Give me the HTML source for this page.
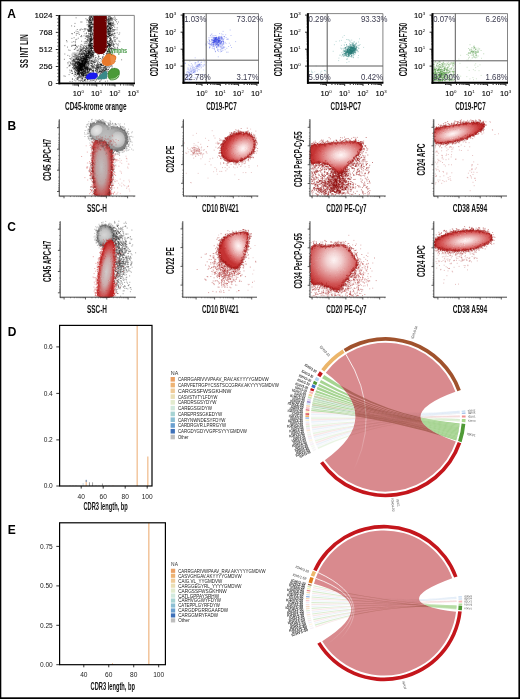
<!DOCTYPE html><html><head><meta charset="utf-8"><style>html,body{margin:0;padding:0;background:#fff;overflow:hidden;}svg{display:block;}</style></head><body><svg style="will-change:transform" width="520" height="699" viewBox="0 0 520 699" font-family="&quot;Liberation Sans&quot;, sans-serif">
<rect width="520" height="699" fill="#fff"/>
<defs><filter id="rough" x="-10%" y="-10%" width="120%" height="120%"><feTurbulence type="fractalNoise" baseFrequency="1.4" numOctaves="1" seed="4" result="n"/><feDisplacementMap in="SourceGraphic" in2="n" scale="2.6" xChannelSelector="R" yChannelSelector="G"/></filter><radialGradient id="g_b1s" gradientUnits="userSpaceOnUse" cx="101.5" cy="167" r="10.5" gradientTransform="translate(101.5 167) rotate(0) scale(1.0 3.2) translate(-101.5 -167)"><stop offset="0" stop-color="#c2bebe"/><stop offset="0.5" stop-color="#bea2a2"/><stop offset="0.8" stop-color="#c46060"/><stop offset="1" stop-color="#b83838"/></radialGradient><radialGradient id="g_b1g" gradientUnits="userSpaceOnUse" cx="106" cy="136" r="20" gradientTransform="translate(106 136) rotate(15) scale(1.0 0.75) translate(-106 -136)"><stop offset="0" stop-color="#bebebe"/><stop offset="0.5" stop-color="#b0b0b0"/><stop offset="0.85" stop-color="#969696"/><stop offset="1" stop-color="#828282"/></radialGradient><radialGradient id="g_b1h" gradientUnits="userSpaceOnUse" cx="118" cy="139.5" r="8" gradientTransform="translate(118 139.5) rotate(0) scale(1.0 1.0) translate(-118 -139.5)"><stop offset="0" stop-color="#ececec"/><stop offset="0.5" stop-color="#dedede"/><stop offset="1" stop-color="#c0c0c0"/></radialGradient><radialGradient id="g_b1k" gradientUnits="userSpaceOnUse" cx="96.5" cy="130.5" r="7" gradientTransform="translate(96.5 130.5) rotate(0) scale(1.0 1.0) translate(-96.5 -130.5)"><stop offset="0" stop-color="#f2f2f2"/><stop offset="0.5" stop-color="#e2e2e2"/><stop offset="1" stop-color="#c4c4c4"/></radialGradient><radialGradient id="g_b2" gradientUnits="userSpaceOnUse" cx="243" cy="148.5" r="19" gradientTransform="translate(243 148.5) rotate(-30) scale(1.0 0.8) translate(-243 -148.5)"><stop offset="0" stop-color="#fff6f6"/><stop offset="0.2" stop-color="#f7dada"/><stop offset="0.5" stop-color="#e69e9e"/><stop offset="0.78" stop-color="#d65c5c"/><stop offset="1" stop-color="#c43232"/></radialGradient><radialGradient id="g_b3" gradientUnits="userSpaceOnUse" cx="341" cy="155" r="28" gradientTransform="translate(341 155) rotate(-5) scale(1.0 0.6) translate(-341 -155)"><stop offset="0" stop-color="#fff6f6"/><stop offset="0.2" stop-color="#f7dada"/><stop offset="0.5" stop-color="#e69e9e"/><stop offset="0.78" stop-color="#d65c5c"/><stop offset="1" stop-color="#c43232"/></radialGradient><radialGradient id="g_b4" gradientUnits="userSpaceOnUse" cx="452.5" cy="133.8" r="28" gradientTransform="translate(452.5 133.8) rotate(-14) scale(1.0 0.36) translate(-452.5 -133.8)"><stop offset="0" stop-color="#fff6f6"/><stop offset="0.2" stop-color="#f7dada"/><stop offset="0.5" stop-color="#e69e9e"/><stop offset="0.78" stop-color="#d65c5c"/><stop offset="1" stop-color="#c43232"/></radialGradient><radialGradient id="g_c1g" gradientUnits="userSpaceOnUse" cx="104.5" cy="235" r="10" gradientTransform="translate(104.5 235) rotate(0) scale(1.0 1.0) translate(-104.5 -235)"><stop offset="0" stop-color="#d6d6d6"/><stop offset="0.5" stop-color="#c4c4c4"/><stop offset="0.85" stop-color="#9a9a9a"/><stop offset="1" stop-color="#858585"/></radialGradient><radialGradient id="g_c1s" gradientUnits="userSpaceOnUse" cx="106.5" cy="272" r="8.5" gradientTransform="translate(106.5 272) rotate(8) scale(1.0 3.6) translate(-106.5 -272)"><stop offset="0" stop-color="#d0caca"/><stop offset="0.45" stop-color="#ccaaaa"/><stop offset="0.8" stop-color="#cc5252"/><stop offset="1" stop-color="#c02828"/></radialGradient><radialGradient id="g_c2" gradientUnits="userSpaceOnUse" cx="238.5" cy="246" r="18" gradientTransform="translate(238.5 246) rotate(-20) scale(0.85 1.15) translate(-238.5 -246)"><stop offset="0" stop-color="#fff6f6"/><stop offset="0.2" stop-color="#f7dada"/><stop offset="0.5" stop-color="#e69e9e"/><stop offset="0.78" stop-color="#d65c5c"/><stop offset="1" stop-color="#c43232"/></radialGradient><radialGradient id="g_c3" gradientUnits="userSpaceOnUse" cx="334" cy="260" r="30" gradientTransform="translate(334 260) rotate(0) scale(1.0 1.0) translate(-334 -260)"><stop offset="0" stop-color="#fdf4f4"/><stop offset="0.25" stop-color="#f2d0d0"/><stop offset="0.55" stop-color="#e08e8e"/><stop offset="0.8" stop-color="#d05454"/><stop offset="1" stop-color="#c03030"/></radialGradient><radialGradient id="g_c4" gradientUnits="userSpaceOnUse" cx="465.5" cy="240.8" r="30" gradientTransform="translate(465.5 240.8) rotate(-6.5) scale(1.0 0.34) translate(-465.5 -240.8)"><stop offset="0" stop-color="#fff6f6"/><stop offset="0.2" stop-color="#f7dada"/><stop offset="0.5" stop-color="#e69e9e"/><stop offset="0.78" stop-color="#d65c5c"/><stop offset="1" stop-color="#c43232"/></radialGradient><linearGradient id="fl_d" gradientUnits="userSpaceOnUse" x1="0" y1="349" x2="0" y2="470"><stop offset="0" stop-color="#fff" stop-opacity="1.0"/><stop offset="1" stop-color="#fff" stop-opacity="0.0"/></linearGradient><mask id="mo_d" maskUnits="userSpaceOnUse" x="0" y="0" width="520" height="699"><rect width="520" height="699" fill="#fff"/><path d="M325.77 372.84A74.4 74.4 0 0 1 455.41 391.75Q385.5 417.2 455.85 441.42A74.4 74.4 0 0 1 324.78 460.19Q385.5 417.2 325.77 372.84Z" fill="#000"/></mask><clipPath id="ci_d"><path d="M325.77 372.84A74.4 74.4 0 0 1 455.41 391.75Q385.5 417.2 455.85 441.42A74.4 74.4 0 0 1 324.78 460.19Q385.5 417.2 325.77 372.84Z"/></clipPath><clipPath id="cr_d"><rect x="405" y="395" width="70" height="55"/></clipPath><linearGradient id="fl_e1" gradientUnits="userSpaceOnUse" x1="0" y1="572" x2="0" y2="640"><stop offset="0" stop-color="#fff" stop-opacity="1.0"/><stop offset="1" stop-color="#fff" stop-opacity="0.0"/></linearGradient><linearGradient id="fl_e2" gradientUnits="userSpaceOnUse" x1="0" y1="577" x2="0" y2="645"><stop offset="0" stop-color="#fff" stop-opacity="1.0"/><stop offset="1" stop-color="#fff" stop-opacity="0.0"/></linearGradient><mask id="mo_e" maskUnits="userSpaceOnUse" x="0" y="0" width="520" height="699"><rect width="520" height="699" fill="#fff"/><path d="M313.97 583.84A72.6 72.6 0 0 1 452.22 578.17Q384.0 603.0 456.06 611.85A72.6 72.6 0 0 1 322.23 641.15Q384.0 603.0 313.97 583.84Z" fill="#000"/></mask><clipPath id="ci_e"><path d="M313.97 583.84A72.6 72.6 0 0 1 452.22 578.17Q384.0 603.0 456.06 611.85A72.6 72.6 0 0 1 322.23 641.15Q384.0 603.0 313.97 583.84Z"/></clipPath><clipPath id="cr_e"><rect x="405" y="580" width="70" height="40"/></clipPath></defs>
<text x="7.30" y="17.90" font-size="12.0" text-anchor="start" font-weight="bold" fill="#000">A</text>
<text x="7.50" y="129.60" font-size="12.0" text-anchor="start" font-weight="bold" fill="#000">B</text>
<text x="7.30" y="231.40" font-size="12.0" text-anchor="start" font-weight="bold" fill="#000">C</text>
<text x="7.70" y="336.10" font-size="12.0" text-anchor="start" font-weight="bold" fill="#000">D</text>
<text x="7.70" y="533.60" font-size="12.0" text-anchor="start" font-weight="bold" fill="#000">E</text>
<path transform="scale(.1)" fill="none" stroke="#000" stroke-width="7.5" stroke-linecap="square" stroke-opacity="0.6" d="M761 178h0m98 9h0m13 10h0m19-13h0m1-5h0m0 0h0m0 16h0m2-15h0m1 15h0m1-30h0m0 30h0m2-27h0m1 26h0m2-13h0m3-14h0m0 8h0m0 12h0m1-4h0m1 8h0m2 5h0m1-29h0m0 23h0m2-27h0m2 15h0m1-8h0m0 28h0m1-32h0m1 8h0m4-3h0m2-5h0m3 21h0m1 4h0m0 6h0m1-19h0m0 9h0m3-2h0m0 5h0m1-10h0m1-4h0m0 20h0m2-30h0m0 1h0m8-3h0m23 25h0m77 7h0m4-26h0m2 22h0m7-5h0m3-17h0m0 29h0m3-19h0m0 6h0m3-22h0m1 16h0m0 8h0m2-13h0m0 17h0m2 3h0m3 0h0m7-23h0m1 21h0m1-7h0m2 4h0m0 1h0m0 8h0m2-27h0m1-7h0m1 18h0m1 14h0m2-4h0m4-25h0m4 22h0m0 1h0m1-24h0m0 4h0m0 12h0m0 16h0m3-17h0m1-14h0m2 20h0m2-6h0m1-5h0m0 16h0m2-12h0m5 4h0m0 8h0m1-16h0m6 18h0m1-13h0m1 5h0m9 4h0m7-15h0m7-14h0m1 30h0m6-11h0m13 14h0m-417 39h0m58-14h0m11 0h0m49-18h0m1 20h0m6-20h0m10 6h0m1 2h0m2 19h0m1-7h0m1-7h0m0 8h0m1 12h0m1-29h0m1 13h0m2-19h0m0 7h0m2 32h0m3-17h0m0 2h0m0 7h0m2-25h0m0 18h0m0 3h0m1-18h0m2 28h0m1-33h0m1 1h0m2 16h0m0 5h0m1-20h0m1 12h0m1-9h0m2 15h0m1 12h0m1-23h0m0 12h0m0 2h0m0 1h0m1-1h0m7-24h0m3 15h0m0 21h0m1-36h0m3-1h0m1 31h0m7-33h0m12 18h0m89 17h0m4-24h0m5 7h0m1 21h0m2-30h0m0 5h0m12 24h0m1-26h0m1-10h0m3 20h0m4-17h0m0 2h0m4 10h0m0 13h0m1-7h0m5-17h0m1 31h0m1-16h0m0 17h0m1-22h0m0 17h0m0 6h0m2-1h0m1-33h0m0 16h0m1 3h0m1-11h0m0 6h0m2 14h0m1-26h0m0 29h0m3 2h0m2 1h0m1-37h0m0 31h0m0 0h0m2-32h0m1 17h0m1 7h0m0 12h0m1-6h0m3 2h0m0 4h0m1 1h0m1-35h0m3 19h0m6 11h0m1-31h0m0 22h0m1-18h0m3 27h0m5 4h0m2-17h0m5 2h0m1 14h0m13-36h0m6 6h0m8 12h0m11 20h0m9-18h0m-468 39h0m30 4h0m124-14h0m10-4h0m2 21h0m1-14h0m5 19h0m2-21h0m0 8h0m0 5h0m1-9h0m0 7h0m0 8h0m0 2h0m1-5h0m1-13h0m1-3h0m1 10h0m2 5h0m1 14h0m3-29h0m0 8h0m2-14h0m1 15h0m1 15h0m0 2h0m1-33h0m0 17h0m2 7h0m0 5h0m1-22h0m1 18h0m3-26h0m1 2h0m0 31h0m0 1h0m1-12h0m0 13h0m1-6h0m2-29h0m1 27h0m6-26h0m1 0h0m1 21h0m1-6h0m0 10h0m0 8h0m1-31h0m5 0h0m4 17h0m2-20h0m0 4h0m3 7h0m5-5h0m93 20h0m4-26h0m9 35h0m1-6h0m4-3h0m3 8h0m6-4h0m1 0h0m1-14h0m3 7h0m0 5h0m2-7h0m1-6h0m0 14h0m1-16h0m0 9h0m2-22h0m6 12h0m0 10h0m2 4h0m2-1h0m1-23h0m0 6h0m1-10h0m0 14h0m2-13h0m1 36h0m1-5h0m1-32h0m0 33h0m0 1h0m4-14h0m1 0h0m1-15h0m0 29h0m1-28h0m2 31h0m3-15h0m1-17h0m0 4h0m0 2h0m1-2h0m1 8h0m1 4h0m2 7h0m4-27h0m0 14h0m3 22h0m3-22h0m0 21h0m2-26h0m4-10h0m3 19h0m1-8h0m5 11h0m8 11h0m1-26h0m24 31h0m-411 34h0m12-17h0m6 20h0m21-15h0m2-1h0m10-9h0m16 5h0m11 21h0m5-30h0m2 12h0m8 0h0m3-12h0m13 5h0m6 7h0m3 0h0m2 14h0m1-7h0m1 1h0m2-14h0m0 24h0m4-11h0m0 10h0m2-21h0m0 18h0m2-21h0m1 13h0m2-22h0m0 28h0m2 7h0m1-37h0m1 29h0m1-26h0m0 14h0m0 16h0m1-26h0m0 8h0m0 4h0m0 2h0m2-17h0m1 6h0m1 18h0m2-7h0m2-16h0m0 25h0m0 2h0m0 2h0m1-32h0m0 22h0m1-5h0m0 12h0m2-27h0m0 2h0m0 6h0m0 25h0m1-11h0m2-15h0m2 5h0m7 3h0m3-19h0m0 32h0m7-3h0m1-8h0m2-2h0m4 5h0m10-23h0m1 28h0m84-13h0m3-5h0m11-4h0m2 11h0m1 3h0m2-11h0m0 11h0m2-2h0m1-13h0m1-3h0m2 26h0m1 4h0m3-26h0m3-5h0m2 16h0m4-6h0m1 19h0m0 8h0m1-22h0m0 3h0m2-5h0m0 18h0m0 4h0m1-29h0m1-5h0m0 25h0m1 1h0m0 5h0m1-11h0m2-1h0m1-8h0m0 20h0m2-34h0m0 13h0m0 24h0m2-1h0m1-33h0m1 1h0m2 28h0m2-26h0m0 18h0m1 13h0m1-2h0m1-28h0m0 13h0m2 3h0m1 9h0m1-27h0m0 6h0m0 6h0m1-11h0m0 5h0m1 28h0m3-37h0m0 4h0m2 24h0m1 1h0m5-27h0m2-2h0m0 17h0m1 17h0m3-8h0m1-12h0m9 4h0m1-5h0m0 20h0m7-13h0m1 6h0m5-12h0m4 1h0m19 1h0m-452 38h0m6 2h0m21-12h0m18 25h0m1-17h0m13 0h0m11-5h0m5 16h0m22 10h0m25 3h0m10-20h0m13 19h0m2-28h0m0 8h0m7 19h0m14-23h0m1 17h0m2 3h0m2-18h0m9 5h0m1-2h0m0 6h0m3 15h0m2-37h0m0 16h0m0 13h0m1-24h0m0 16h0m1-2h0m0 16h0m1-16h0m1 5h0m1 2h0m0 9h0m6-28h0m2-6h0m1 25h0m1-8h0m3 6h0m1-9h0m1 2h0m1-15h0m3 13h0m0 19h0m1-3h0m3-21h0m0 19h0m99-2h0m14-26h0m2 30h0m4-13h0m4 7h0m5 11h0m2-37h0m1 2h0m0 34h0m2-24h0m1 19h0m7-21h0m3 2h0m0 13h0m1-22h0m2 0h0m2 16h0m0 8h0m1-17h0m0 3h0m0 12h0m1-7h0m2 6h0m4-19h0m1-3h0m1 25h0m1-14h0m0 0h0m0 19h0m1-6h0m0 5h0m0 3h0m2-25h0m0 5h0m0 22h0m1 2h0m5-24h0m1 21h0m0 1h0m2-36h0m1 27h0m1-17h0m1 12h0m0 13h0m0 1h0m5-14h0m2 7h0m2-6h0m4-24h0m4 22h0m2-5h0m0 8h0m3 10h0m0 2h0m7-19h0m7-6h0m2 6h0m3-6h0m1 25h0m21-29h0m18 16h0m7-15h0m-478 55h0m22-7h0m15 22h0m11-6h0m16-11h0m24-16h0m10 0h0m36 18h0m4-22h0m5 6h0m6-3h0m1 30h0m2-21h0m5-14h0m0 36h0m0 3h0m1-27h0m3 10h0m1 0h0m1-21h0m2 13h0m5-10h0m0 24h0m0 9h0m2-28h0m2 0h0m4 1h0m0 13h0m0 2h0m0 11h0m5-36h0m1 31h0m2 2h0m1-31h0m0 27h0m0 4h0m1-10h0m1-21h0m0 25h0m1 4h0m0 8h0m1-27h0m0 5h0m0 10h0m2 2h0m1-21h0m2 0h0m0 18h0m1-12h0m1 14h0m1 3h0m2-20h0m1 23h0m3-1h0m3-2h0m3-22h0m0 16h0m4-15h0m0 19h0m2-2h0m2-11h0m3 1h0m21 9h0m76 10h0m4-36h0m4 28h0m9-4h0m4-21h0m4 6h0m2-8h0m0 22h0m2 9h0m1-16h0m4-13h0m1 16h0m1-15h0m1 19h0m3-17h0m0 1h0m1-1h0m2-6h0m3 3h0m1 5h0m3 4h0m3 1h0m3-11h0m1 23h0m2-4h0m4 15h0m1-8h0m3-12h0m0 4h0m0 3h0m1 13h0m0 3h0m8-10h0m0 3h0m2-32h0m21 15h0m1 12h0m5-16h0m0 0h0m12 28h0m3-25h0m10 14h0m6-8h0m-508 25h0m4 13h0m50 4h0m17-6h0m16 0h0m1 12h0m62-16h0m27 7h0m1 18h0m12-5h0m1-14h0m2-5h0m4 25h0m2-20h0m5-3h0m2-10h0m0 26h0m6-9h0m1-14h0m4 31h0m5-27h0m1-10h0m0 36h0m2-32h0m3 12h0m0 21h0m1-11h0m1-2h0m1-11h0m3-13h0m1 25h0m0 8h0m1-25h0m0 8h0m1-17h0m2 5h0m0 5h0m1 20h0m1-17h0m0 2h0m0 4h0m0 10h0m1-21h0m0 25h0m1-28h0m0 4h0m0 4h0m2 8h0m1-17h0m2-2h0m1-1h0m0 4h0m0 31h0m1-36h0m0 34h0m1-34h0m0 32h0m1 4h0m1 1h0m2-38h0m0 35h0m1-33h0m0 29h0m1 4h0m7-19h0m7 13h0m4-26h0m12 4h0m89 6h0m1 6h0m2-19h0m10 28h0m9-21h0m1 16h0m3-22h0m0 20h0m3-21h0m2 32h0m1-17h0m1 7h0m0 14h0m1-21h0m2 8h0m1 9h0m1 2h0m4 1h0m2 3h0m1-1h0m1-19h0m3 2h0m1-10h0m1 2h0m1 16h0m1-18h0m0 23h0m4-28h0m2 3h0m3 13h0m1-19h0m2 21h0m2 2h0m3-22h0m0 8h0m0 28h0m2-3h0m5-13h0m2-13h0m0 9h0m1 0h0m0 17h0m1-28h0m6 12h0m5 13h0m6-31h0m6 13h0m1-15h0m9 17h0m5 19h0m28-26h0m10 7h0m-551 40h0m27 14h0m42-7h0m2-10h0m9 0h0m8-1h0m12 1h0m4 2h0m1-4h0m1 0h0m2-3h0m2 28h0m7-14h0m7 1h0m2 12h0m13-17h0m14 11h0m6-19h0m1 14h0m1 6h0m5-24h0m4 32h0m9-27h0m3 27h0m3 0h0m1-18h0m2 7h0m4 6h0m6-18h0m1 17h0m10-11h0m0 0h0m6 13h0m1-11h0m2 11h0m2-20h0m1 18h0m12-23h0m0 15h0m1-9h0m1-4h0m1 24h0m3-25h0m0 8h0m0 20h0m1 0h0m1-19h0m2-6h0m1-8h0m1 16h0m0 3h0m3-19h0m0 12h0m0 19h0m1-37h0m0 13h0m0 5h0m2 9h0m1-10h0m0 19h0m1-18h0m0 2h0m1-9h0m1-8h0m0 11h0m0 18h0m1-19h0m1 9h0m1-20h0m0 7h0m0 9h0m0 6h0m2-12h0m1-12h0m1 7h0m0 9h0m1-13h0m1 36h0m1-10h0m2 5h0m0 2h0m1-17h0m0 5h0m1-9h0m0 18h0m2-12h0m0 8h0m1-16h0m4-10h0m2 12h0m1 19h0m2-18h0m1 11h0m5-1h0m12-8h0m6-4h0m29 3h0m8-12h0m60 31h0m1-35h0m4 19h0m0 13h0m5-6h0m2-20h0m3 22h0m2 0h0m4 8h0m1-17h0m1 4h0m1 9h0m2-8h0m1 2h0m0 2h0m1-17h0m2 18h0m2-12h0m1-15h0m2 5h0m0 3h0m1 5h0m1 12h0m1-19h0m2-2h0m2 10h0m1-12h0m0 33h0m1-27h0m0 1h0m1 18h0m1-24h0m0 10h0m0 15h0m2-29h0m1 1h0m0 3h0m0 17h0m0 16h0m1-38h0m0 14h0m0 4h0m0 5h0m2-4h0m2-3h0m0 9h0m1-18h0m5-6h0m2 13h0m1-8h0m4 10h0m0 22h0m3-30h0m9 4h0m4-13h0m0 4h0m0 18h0m3 5h0m1-20h0m0 11h0m8-15h0m3 29h0m0 6h0m23-32h0m4 27h0m7-16h0m1-17h0m-496 60h0m13 4h0m43-10h0m6-1h0m8-9h0m13 19h0m6 1h0m9-2h0m5-10h0m3 26h0m5-9h0m2-22h0m5 11h0m1 13h0m0 7h0m1-6h0m2-29h0m1 14h0m0 10h0m1-7h0m2 0h0m3 2h0m3-8h0m1 16h0m1-8h0m3-8h0m0 20h0m2-31h0m6 30h0m1-19h0m1 11h0m0 13h0m1-32h0m7 0h0m0 19h0m3-1h0m3 2h0m1-20h0m3 24h0m1-7h0m2-15h0m0 10h0m1 17h0m1-3h0m1-24h0m0 23h0m3 1h0m1-21h0m0 26h0m3-20h0m1-11h0m3-2h0m0 16h0m1 16h0m1-7h0m2-28h0m2 1h0m1 25h0m1 5h0m1-24h0m1 8h0m3 16h0m1-10h0m2 13h0m1-29h0m1 25h0m1-6h0m0 2h0m1-11h0m0 19h0m0 0h0m0 3h0m1-19h0m0 17h0m3-18h0m2 18h0m1-12h0m2-11h0m0 20h0m1-5h0m1-22h0m1-5h0m0 11h0m0 26h0m1-33h0m1 34h0m1-32h0m1-5h0m2 0h0m0 25h0m0 12h0m1-11h0m1-25h0m1 24h0m0 8h0m1-25h0m1-10h0m0 22h0m1-6h0m0 14h0m1-26h0m0 14h0m0 4h0m1-15h0m0 18h0m2-1h0m1-1h0m1-19h0m1 35h0m1-39h0m0 29h0m1-29h0m2 2h0m0 34h0m1-34h0m1 3h0m0 25h0m8-25h0m2 19h0m2 10h0m2-14h0m2-11h0m1 22h0m6-13h0m2 9h0m7-1h0m13-6h0m10 2h0m35-9h0m18 2h0m17 19h0m3-18h0m0 11h0m0 5h0m1-13h0m0 5h0m5 2h0m1-20h0m3 13h0m3 0h0m2 12h0m6 2h0m1 0h0m2-13h0m0 16h0m2 0h0m0 2h0m1-3h0m3-30h0m1 9h0m2-3h0m0 5h0m1 7h0m1-19h0m0 34h0m2-14h0m1-3h0m1 7h0m3-15h0m0 21h0m0 2h0m3-9h0m2 9h0m0 3h0m4-31h0m3-6h0m0 3h0m2 1h0m1 12h0m0 2h0m3-20h0m0 10h0m6 23h0m1-13h0m2-16h0m4 0h0m3 8h0m3-6h0m7 13h0m9-7h0m1-5h0m21-6h0m8 6h0m-531 53h0m30 14h0m43-12h0m1 16h0m9-28h0m10 9h0m2 6h0m1 14h0m4-30h0m7 20h0m3 2h0m1 0h0m1-18h0m1 8h0m0 18h0m5 0h0m6-38h0m0 33h0m2-14h0m10 11h0m2-4h0m3-7h0m1-9h0m2 7h0m1-17h0m4 26h0m2-15h0m1 12h0m1-9h0m4 24h0m1-5h0m1-14h0m4-17h0m1 26h0m1-14h0m0 11h0m1-1h0m1-15h0m3 7h0m1 4h0m5 2h0m0 4h0m0 11h0m1-29h0m2-5h0m0 12h0m0 5h0m8-11h0m0 4h0m3-7h0m0 17h0m0 15h0m3-23h0m0 3h0m1-8h0m0 14h0m2 9h0m1-19h0m0 11h0m1-24h0m0 30h0m3-17h0m1 12h0m0 12h0m3-22h0m0 16h0m2-7h0m1 10h0m1-7h0m0 2h0m2-22h0m0 28h0m1-34h0m0 14h0m0 18h0m2-32h0m1 26h0m0 4h0m0 3h0m1-14h0m1-13h0m0 13h0m0 1h0m0 14h0m1-3h0m2-33h0m0 13h0m0 20h0m1-18h0m1 5h0m3 16h0m1-20h0m2-4h0m1 23h0m0 1h0m1-21h0m0 13h0m0 1h0m1-19h0m1 11h0m0 17h0m1-35h0m0 3h0m0 7h0m1 24h0m1-8h0m0 3h0m1-27h0m0 3h0m0 10h0m0 17h0m0 1h0m2-30h0m1 2h0m0 6h0m0 12h0m0 5h0m0 6h0m1-33h0m0 4h0m0 12h0m3-5h0m0 5h0m3-13h0m0 1h0m1-9h0m1 23h0m1-17h0m0 8h0m0 14h0m1-24h0m2 1h0m0 4h0m0 20h0m1-8h0m0 0h0m0 8h0m1-28h0m1 17h0m1-7h0m0 0h0m1 18h0m1 6h0m0 2h0m2-2h0m0 1h0m3-17h0m1-10h0m1 8h0m1 4h0m1-13h0m0 22h0m2-14h0m0 22h0m2-16h0m0 17h0m1-28h0m0 2h0m0 12h0m0 3h0m1 4h0m1-29h0m0 20h0m0 12h0m1-11h0m1 6h0m1-6h0m1-13h0m1-9h0m1 21h0m1-17h0m1 2h0m1 20h0m1-2h0m0 7h0m2 6h0m1-35h0m0 12h0m0 7h0m2-18h0m3 11h0m7-13h0m2-3h0m2 36h0m1-31h0m25 20h0m36-25h0m22 1h0m1 22h0m3 2h0m6-21h0m14 32h0m4-17h0m1-5h0m4-2h0m1 12h0m0 1h0m4-21h0m1 17h0m1 1h0m1-9h0m0 18h0m5 4h0m1 0h0m2 0h0m1-12h0m1-3h0m2-3h0m0 11h0m0 10h0m1-19h0m1 1h0m2-1h0m1 11h0m1 6h0m1-36h0m1 36h0m2-21h0m0 20h0m2-23h0m1 4h0m1-8h0m1 29h0m1-2h0m3-10h0m1-15h0m1-6h0m2 15h0m0 19h0m1-36h0m0 33h0m26-4h0m2-22h0m-496 64h0m53-31h0m2 23h0m10 4h0m0 2h0m8-14h0m12 11h0m1-18h0m3-5h0m0 33h0m2 0h0m4-3h0m2-34h0m1 23h0m4-12h0m3 24h0m3-1h0m1-30h0m5 21h0m1-8h0m1 12h0m1-17h0m0 8h0m0 15h0m2-16h0m0 10h0m4 2h0m1-5h0m3-23h0m0 12h0m1-7h0m0 11h0m0 5h0m0 10h0m5-35h0m0 36h0m1 1h0m1-19h0m0 16h0m2-23h0m1 28h0m1-1h0m2-21h0m0 10h0m0 1h0m1 3h0m2 3h0m1-29h0m0 23h0m1-27h0m0 6h0m0 32h0m2-3h0m1-27h0m4 14h0m2 12h0m2-20h0m0 15h0m0 4h0m0 4h0m2-32h0m1 5h0m0 7h0m1 15h0m1-4h0m2-17h0m0 25h0m1-13h0m3 0h0m1-14h0m1 11h0m1 7h0m1-14h0m0 17h0m1 0h0m1-8h0m0 6h0m2-21h0m1 15h0m1-20h0m0 5h0m3 22h0m1-10h0m0 7h0m3-7h0m1-15h0m0 2h0m1 0h0m0 28h0m1-35h0m0 15h0m0 8h0m0 1h0m2 0h0m0 12h0m0 1h0m2-31h0m0 0h0m0 20h0m1-3h0m0 1h0m1-9h0m0 24h0m2-31h0m0 19h0m0 3h0m0 6h0m1-29h0m0 17h0m0 5h0m0 9h0m4-25h0m0 15h0m1-27h0m0 17h0m0 4h0m0 2h0m1 3h0m0 5h0m0 1h0m0 2h0m1-22h0m1 22h0m1-18h0m3 2h0m0 10h0m0 5h0m0 3h0m1-34h0m0 18h0m0 7h0m1 3h0m1-26h0m0 6h0m0 9h0m0 8h0m1 8h0m1-33h0m0 4h0m0 6h0m0 10h0m1 10h0m3-26h0m0 25h0m1-24h0m0 6h0m1-14h0m0 4h0m0 10h0m0 3h0m0 4h0m1-2h0m0 2h0m0 11h0m0 1h0m1-3h0m2-8h0m0 16h0m1-25h0m0 16h0m0 1h0m1 1h0m0 7h0m1-31h0m0 7h0m0 1h0m0 4h0m0 10h0m1-29h0m0 15h0m1-12h0m0 32h0m1-21h0m1 19h0m1-32h0m0 7h0m3 28h0m1-23h0m0 6h0m0 14h0m2-31h0m0 14h0m1-6h0m3 5h0m1-3h0m0 2h0m1 10h0m1-24h0m1 10h0m0 3h0m0 15h0m2-5h0m0 9h0m0 5h0m1-10h0m5-23h0m0 11h0m1-12h0m0 16h0m1-6h0m0 6h0m1 3h0m6-22h0m0 16h0m1-14h0m0 11h0m0 13h0m1 4h0m4-24h0m1-4h0m1 11h0m1 7h0m7-16h0m0 5h0m4 21h0m4-23h0m2 9h0m3-15h0m0 3h0m4 28h0m11-11h0m4-4h0m2 15h0m5-18h0m14 13h0m7-14h0m2-13h0m0 33h0m2-31h0m4 6h0m2 21h0m9-3h0m5-1h0m11 9h0m8-18h0m0 6h0m1-15h0m5 13h0m2-18h0m6 28h0m4-10h0m8 10h0m4-20h0m0 10h0m4-12h0m1 31h0m1-22h0m0 20h0m1-26h0m5 4h0m0 9h0m2 9h0m4-1h0m3-5h0m2-13h0m0 8h0m0 4h0m5-23h0m4-2h0m3 12h0m0 17h0m1-18h0m1-11h0m0 20h0m3-18h0m1 31h0m1-5h0m1-22h0m2 28h0m1 0h0m1-17h0m1 2h0m1-2h0m1 9h0m3 9h0m2-18h0m2-17h0m0 9h0m1 23h0m1-4h0m5-7h0m2 10h0m1-14h0m5 3h0m1-16h0m3 0h0m10-1h0m0 21h0m74 13h0m-537 27h0m1 13h0m11-20h0m13 5h0m1 10h0m6-2h0m9-17h0m0 25h0m1-35h0m5 4h0m1 29h0m1-7h0m3-21h0m0 6h0m0 11h0m5 8h0m1-24h0m2-9h0m1 8h0m0 28h0m2-33h0m1-3h0m0 13h0m4 6h0m1-2h0m1-1h0m1 17h0m2-5h0m1-24h0m0 14h0m2 17h0m2-15h0m0 17h0m1-2h0m2-19h0m0 6h0m0 2h0m0 2h0m2 0h0m1-4h0m0 13h0m1-18h0m3 6h0m2-12h0m1 23h0m1-26h0m1 17h0m1-26h0m0 37h0m1-23h0m0 21h0m1-4h0m1-15h0m2 10h0m1-1h0m2-14h0m0 13h0m0 0h0m0 3h0m1 4h0m1-18h0m0 19h0m1-19h0m0 15h0m2-9h0m0 2h0m2 3h0m0 2h0m1 4h0m0 1h0m1-15h0m0 13h0m0 7h0m2-9h0m1-16h0m0 19h0m1-4h0m0 3h0m0 7h0m1-29h0m2 17h0m0 10h0m1-30h0m0 20h0m0 6h0m1-27h0m0 5h0m1 13h0m0 17h0m1-35h0m0 16h0m0 7h0m0 10h0m1-22h0m0 19h0m0 3h0m2-3h0m2 6h0m1-32h0m0 25h0m0 4h0m1-2h0m0 3h0m1-6h0m1-30h0m0 31h0m2-19h0m1 20h0m2-30h0m0 11h0m0 6h0m0 9h0m0 7h0m1-32h0m0 30h0m2-29h0m0 30h0m0 0h0m1-21h0m0 1h0m0 5h0m0 13h0m0 1h0m1-34h0m0 4h0m1 1h0m0 18h0m0 14h0m1-17h0m0 1h0m0 10h0m1-9h0m0 4h0m2-17h0m0 6h0m0 3h0m1-16h0m0 4h0m0 13h0m0 1h0m0 14h0m1-21h0m1-7h0m0 23h0m0 0h0m1-25h0m0 29h0m1-16h0m0 6h0m0 9h0m0 6h0m2-30h0m0 8h0m0 7h0m1-15h0m0 13h0m0 16h0m1-16h0m0 14h0m1-28h0m0 2h0m1-4h0m0 3h0m0 29h0m1-20h0m0 22h0m3-17h0m0 9h0m1-8h0m1-21h0m0 5h0m0 0h0m1 11h0m0 13h0m0 3h0m2-15h0m0 3h0m1-10h0m1-4h0m0 19h0m1-24h0m0 10h0m0 14h0m0 5h0m1-8h0m1-24h0m0 17h0m0 5h0m0 1h0m0 1h0m1 13h0m1-2h0m1-19h0m0 5h0m0 7h0m0 2h0m1-30h0m0 1h0m0 33h0m1-32h0m0 11h0m0 7h0m1-10h0m0 0h0m0 23h0m1-5h0m1-28h0m0 4h0m0 8h0m0 4h0m1-3h0m0 2h0m0 11h0m0 8h0m1-19h0m0 0h0m0 5h0m1 5h0m1-25h0m0 3h0m1 18h0m1-3h0m1-13h0m0 15h0m1 2h0m1-22h0m0 9h0m0 17h0m1 4h0m1-12h0m3-6h0m0 5h0m1 2h0m0 13h0m3-10h0m0 14h0m1-31h0m0 3h0m0 22h0m2-19h0m2 5h0m0 12h0m1-5h0m1 0h0m0 10h0m1 6h0m1-28h0m1 6h0m0 21h0m3-1h0m1-17h0m1-6h0m0 23h0m4-29h0m1-4h0m2 23h0m7-16h0m3-8h0m0 31h0m1-11h0m2-1h0m1 15h0m2-31h0m0 8h0m0 23h0m3-32h0m1 13h0m0 18h0m2-1h0m1-22h0m4-10h0m3 12h0m0 5h0m3-3h0m0 16h0m5-13h0m2-8h0m1 14h0m1-17h0m3 9h0m1 8h0m1 3h0m2-28h0m1 7h0m4 15h0m2-1h0m6-22h0m1 9h0m1 7h0m8-14h0m5 27h0m3-16h0m0 17h0m5-19h0m9 16h0m6 1h0m11 6h0m1-24h0m11 28h0m2-29h0m8 9h0m1 6h0m6 1h0m2-20h0m3 21h0m2 2h0m1-18h0m6-3h0m1 12h0m3-2h0m1-10h0m0 21h0m1 1h0m1-20h0m1 13h0m0 7h0m1-6h0m1 14h0m4-26h0m4 7h0m3-9h0m0 7h0m1-13h0m0 16h0m2 1h0m3-14h0m2 7h0m2 15h0m0 9h0m2-31h0m1 1h0m0 29h0m1-19h0m1-9h0m1-3h0m2 3h0m3 8h0m2-11h0m0 8h0m4 1h0m1 23h0m1-37h0m3 8h0m5 4h0m1 11h0m1-13h0m3 4h0m2 5h0m2-3h0m32-1h0m-479 62h0m17-16h0m7-3h0m3-7h0m0 2h0m13-11h0m14 1h0m1 8h0m0 24h0m4-21h0m3-8h0m2 19h0m1 8h0m1-14h0m2-12h0m0 12h0m2 13h0m1 5h0m1-35h0m0 21h0m2-23h0m0 13h0m0 1h0m3-3h0m2-1h0m1-1h0m1 2h0m1 24h0m1-11h0m2-11h0m1 12h0m0 9h0m1-20h0m0 23h0m1-36h0m0 29h0m1-6h0m0 8h0m1-16h0m2 19h0m1-1h0m2-16h0m0 4h0m2 5h0m0 11h0m3-36h0m0 22h0m0 10h0m1-27h0m1-5h0m0 2h0m1-4h0m1 28h0m0 2h0m1-12h0m0 18h0m1-29h0m0 9h0m0 12h0m0 0h0m0 11h0m1-36h0m0 27h0m2-4h0m2 6h0m1-31h0m0 12h0m0 23h0m1-19h0m1 8h0m0 5h0m1-24h0m0 9h0m0 4h0m0 4h0m1-13h0m0 27h0m0 1h0m1-26h0m0 1h0m1-11h0m0 2h0m0 23h0m1-24h0m0 35h0m1-13h0m1-17h0m0 1h0m0 1h0m0 29h0m1-39h0m0 12h0m0 0h0m0 8h0m0 17h0m1-33h0m1 18h0m0 15h0m1-30h0m0 6h0m0 18h0m1-11h0m1-15h0m1 1h0m0 4h0m0 8h0m0 0h0m0 9h0m0 6h0m0 6h0m1-31h0m0 7h0m0 15h0m0 8h0m1-32h0m0 9h0m0 3h0m0 11h0m1-28h0m0 6h0m0 16h0m1-11h0m0 4h0m0 4h0m0 8h0m1-20h0m0 7h0m0 11h0m0 4h0m0 2h0m1-25h0m0 15h0m0 6h0m0 3h0m0 2h0m1-19h0m0 7h0m0 5h0m0 1h0m1-13h0m0 3h0m0 3h0m1-17h0m0 14h0m0 3h0m0 5h0m0 3h0m1-12h0m0 11h0m0 10h0m0 1h0m1-35h0m0 8h0m0 21h0m1-26h0m0 8h0m0 6h0m0 3h0m0 2h0m0 2h0m0 5h0m0 2h0m0 5h0m1-4h0m1-13h0m1-3h0m1-16h0m1 3h0m0 26h0m0 1h0m1-26h0m0 4h0m0 15h0m1-24h0m0 3h0m0 3h0m0 12h0m0 2h0m0 7h0m0 0h0m1 1h0m1-28h0m0 10h0m0 15h0m0 3h0m1-29h0m0 3h0m0 1h0m0 2h0m0 3h0m1-8h0m0 22h0m0 0h0m1-9h0m0 24h0m1-38h0m0 32h0m1-31h0m0 1h0m1 20h0m0 8h0m1-14h0m0 5h0m0 16h0m1-20h0m0 21h0m1-37h0m0 10h0m0 0h0m0 1h0m0 0h0m0 9h0m0 5h0m1-11h0m1-10h0m0 9h0m0 15h0m1-27h0m1 27h0m1-21h0m1-1h0m0 7h0m0 11h0m0 12h0m2-33h0m0 10h0m0 6h0m0 3h0m1 3h0m2-17h0m1-6h0m0 2h0m0 33h0m1-39h0m0 15h0m0 6h0m1-20h0m0 10h0m0 0h0m0 8h0m1-18h0m0 0h0m0 17h0m0 3h0m0 4h0m1-21h0m0 6h0m0 10h0m0 17h0m1-37h0m0 5h0m0 6h0m0 11h0m1-22h0m0 0h0m0 16h0m0 3h0m1 15h0m0 3h0m1-16h0m0 3h0m0 9h0m0 6h0m1-7h0m1-25h0m1 4h0m1-9h0m0 17h0m0 2h0m0 12h0m0 1h0m2-34h0m5 26h0m2 7h0m1-33h0m0 24h0m0 14h0m1-29h0m0 8h0m0 18h0m0 2h0m2-36h0m1 35h0m1-19h0m1 8h0m1-24h0m1 7h0m0 20h0m0 7h0m1-5h0m1-10h0m1 15h0m0 4h0m1-5h0m6-29h0m0 19h0m0 12h0m2-26h0m3 6h0m1 2h0m1 15h0m7-30h0m2 27h0m7-14h0m10-1h0m1 11h0m3-11h0m1 16h0m1-7h0m0 7h0m1-17h0m3 13h0m1-26h0m1 4h0m2 32h0m1-7h0m2-10h0m0 7h0m4 12h0m2-22h0m1 6h0m0 14h0m4-9h0m3-23h0m1 32h0m1-29h0m5 8h0m1 17h0m10-17h0m1 10h0m1 6h0m2-26h0m0 7h0m0 17h0m0 4h0m3-12h0m1-6h0m1-16h0m0 38h0m0 0h0m1-38h0m3 26h0m0 9h0m1-25h0m0 10h0m0 17h0m2-26h0m2 6h0m1 7h0m0 12h0m0 1h0m2-34h0m0 0h0m3 26h0m1-11h0m0 20h0m2-10h0m7-2h0m1-20h0m0 7h0m1 25h0m1-32h0m0 1h0m1 23h0m0 2h0m1-3h0m1-25h0m1 16h0m3-17h0m1 4h0m0 14h0m1-20h0m1 5h0m0 32h0m3-30h0m1 5h0m2-5h0m0 4h0m0 5h0m0 18h0m1-28h0m4 28h0m5-20h0m3 1h0m0 4h0m2-5h0m3-4h0m3 24h0m1-2h0m0 1h0m4-33h0m3 34h0m2-8h0m3-5h0m1 5h0m2 6h0m4-6h0m2-2h0m1-19h0m0 27h0m11-1h0m1-4h0m12-6h0m6 17h0m1-16h0m0 13h0m9-19h0m7 8h0m5-6h0m6-5h0m6 15h0m-428 32h0m15 4h0m3 6h0m2-10h0m6 12h0m1-33h0m11 4h0m0 8h0m10-7h0m0 34h0m1-30h0m0 24h0m1-31h0m1 5h0m0 12h0m3 0h0m2-17h0m0 26h0m3-11h0m2 2h0m3-13h0m0 2h0m1-5h0m0 9h0m2-4h0m0 17h0m1 6h0m1-11h0m3-15h0m0 22h0m1 10h0m1-11h0m1 12h0m1-34h0m1 7h0m1 1h0m2 10h0m1-15h0m0 5h0m0 2h0m0 1h0m0 12h0m2-25h0m0 10h0m0 7h0m0 17h0m1-17h0m0 10h0m0 1h0m0 6h0m1-31h0m0 21h0m0 1h0m1-23h0m0 21h0m1-7h0m0 5h0m0 0h0m1 12h0m1-9h0m1-23h0m1 2h0m0 6h0m1 21h0m0 7h0m1-30h0m0 18h0m1-26h0m0 2h0m0 13h0m0 4h0m0 11h0m0 7h0m1-26h0m0 2h0m0 22h0m1-35h0m1 10h0m0 1h0m0 8h0m1-9h0m1 15h0m0 7h0m1-6h0m1-27h0m0 2h0m0 3h0m0 1h0m1 5h0m0 8h0m0 7h0m0 3h0m1-7h0m0 9h0m1-31h0m0 6h0m1 17h0m0 7h0m1-23h0m0 7h0m0 0h0m1-10h0m0 2h0m0 6h0m0 10h0m1-19h0m0 7h0m1-6h0m0 4h0m1-8h0m0 12h0m1-12h0m2 0h0m0 11h0m0 1h0m0 4h0m1-7h0m0 10h0m0 1h0m0 0h0m0 3h0m2-17h0m0 8h0m0 14h0m1-8h0m0 8h0m1-24h0m0 24h0m1-10h0m0 3h0m0 1h0m1 4h0m0 2h0m0 0h0m1-13h0m1-10h0m0 7h0m0 1h0m0 6h0m1-12h0m0 4h0m0 5h0m0 9h0m0 7h0m2-25h0m2-6h0m1 7h0m0 5h0m1 7h0m1 18h0m1-26h0m0 8h0m2-18h0m0 12h0m0 0h0m0 2h0m0 18h0m1-14h0m1 1h0m0 5h0m1-21h0m0 11h0m0 20h0m1-23h0m0 4h0m3 18h0m0 4h0m2-22h0m0 9h0m1-9h0m0 6h0m0 6h0m0 1h0m0 7h0m2-29h0m2-2h0m0 33h0m1-13h0m0 7h0m1-30h0m1-2h0m0 38h0m2-29h0m0 9h0m2-19h0m1 27h0m1-18h0m0 7h0m0 16h0m1-26h0m0 17h0m0 6h0m1-28h0m0 4h0m1 3h0m0 31h0m1-31h0m0 22h0m0 3h0m1-33h0m0 16h0m1 13h0m2-19h0m1 5h0m3-11h0m0 4h0m3-5h0m0 4h0m1 20h0m1-20h0m1 10h0m0 0h0m1 14h0m1-16h0m0 2h0m0 7h0m1-14h0m0 6h0m1-12h0m0 15h0m0 17h0m2-30h0m0 10h0m1-10h0m0 24h0m1-18h0m0 12h0m1-15h0m0 30h0m2-9h0m0 8h0m1-38h0m2 10h0m3 23h0m1-30h0m1 35h0m1-24h0m1-1h0m1-7h0m0 0h0m0 9h0m2 6h0m1 1h0m0 9h0m1-11h0m2 2h0m0 1h0m1-7h0m3-7h0m0 3h0m3-12h0m0 7h0m1 6h0m5 2h0m2-6h0m1 6h0m0 14h0m6-27h0m1 23h0m0 4h0m4-1h0m3-2h0m1-20h0m0 30h0m1-8h0m1-14h0m1 22h0m1-12h0m1 14h0m1-14h0m14-20h0m3 20h0m0 10h0m1-9h0m2-17h0m0 12h0m2-16h0m1 4h0m6-2h0m0 10h0m0 15h0m3 2h0m1-22h0m2-10h0m0 23h0m1-10h0m1 4h0m3 3h0m2 9h0m0 3h0m1-27h0m3 11h0m1-14h0m6-1h0m4 0h0m1 13h0m0 18h0m1 6h0m1-8h0m0 8h0m2-1h0m1-16h0m1 8h0m1 2h0m0 1h0m2-21h0m3-8h0m3 22h0m0 9h0m3 0h0m1-26h0m3 9h0m3-5h0m1 16h0m0 7h0m2-13h0m1 4h0m2-6h0m0 18h0m4-20h0m2-12h0m2 0h0m0 15h0m1-8h0m0 3h0m3 11h0m1 4h0m1-1h0m1-23h0m0 30h0m4-9h0m1-8h0m0 7h0m1-24h0m0 26h0m4-11h0m2 20h0m1-20h0m1-19h0m0 6h0m1 23h0m2-14h0m0 4h0m1-12h0m2 16h0m3-11h0m0 20h0m2-21h0m1-1h0m1-8h0m1 11h0m2 22h0m4-15h0m6-2h0m2 17h0m1-22h0m3 2h0m30-12h0m3 28h0m4-9h0m7 16h0m2 1h0m7-13h0m6-21h0m5 31h0m18-13h0m-528 56h0m51-13h0m10-24h0m18 13h0m5-2h0m2 0h0m14 19h0m9-12h0m3-13h0m0 17h0m1 3h0m1-23h0m1 16h0m3-18h0m0 5h0m7 30h0m5-25h0m1 15h0m1-12h0m0 2h0m0 8h0m4-13h0m1-9h0m2-2h0m0 15h0m0 3h0m0 4h0m1-8h0m1 4h0m1-5h0m0 2h0m1-10h0m1 3h0m0 1h0m0 18h0m1-21h0m0 7h0m2-3h0m0 9h0m1-17h0m0 22h0m3-12h0m0 3h0m0 22h0m2-38h0m0 1h0m0 19h0m2 9h0m1-29h0m0 0h0m0 20h0m0 5h0m0 7h0m2-16h0m1 21h0m2-4h0m1-23h0m0 1h0m2 0h0m2-2h0m3-4h0m1 3h0m0 13h0m1-18h0m0 4h0m2-4h0m1 14h0m1-1h0m0 10h0m1-12h0m0 4h0m0 4h0m0 5h0m1-24h0m0 26h0m2-26h0m2 19h0m2-6h0m0 13h0m0 6h0m0 1h0m1-35h0m1 5h0m0 16h0m1-19h0m0 5h0m0 2h0m1-2h0m0 19h0m1-25h0m1 35h0m1-22h0m0 10h0m1-21h0m0 3h0m1 6h0m0 3h0m0 9h0m0 14h0m1-5h0m0 5h0m1-17h0m0 5h0m0 3h0m0 0h0m0 0h0m0 6h0m1-23h0m3-2h0m0 5h0m1 16h0m0 1h0m1-24h0m1 24h0m1-16h0m0 4h0m0 9h0m2-18h0m1 18h0m1-30h0m1 10h0m0 5h0m2-15h0m3 16h0m2 5h0m0 16h0m1-31h0m2 0h0m0 27h0m0 0h0m1-26h0m0 11h0m0 1h0m2-11h0m1 22h0m1-11h0m1-19h0m1 3h0m1 24h0m2 8h0m0 4h0m2-20h0m0 17h0m2-8h0m1-24h0m1 6h0m0 12h0m1 10h0m3-24h0m1-3h0m3 2h0m1 13h0m0 1h0m6 0h0m1-21h0m0 8h0m2 6h0m3 3h0m1-6h0m0 25h0m2-20h0m1 22h0m1-2h0m3-22h0m0 5h0m0 14h0m4-8h0m0 11h0m1-29h0m0 10h0m2-11h0m6 17h0m2-10h0m1 13h0m4-8h0m6 1h0m5-15h0m6 28h0m4 1h0m2-6h0m0 6h0m5-2h0m9 8h0m3-13h0m1-14h0m0 13h0m4 3h0m1-13h0m1-14h0m0 7h0m2 31h0m1-25h0m1 20h0m4-11h0m2-23h0m3 7h0m3-4h0m6 8h0m5 28h0m1-8h0m3 2h0m1-10h0m2 8h0m2-14h0m0 15h0m2-20h0m4-11h0m0 1h0m0 36h0m0 0h0m1-37h0m4 20h0m1 1h0m1-22h0m4 7h0m0 31h0m1-36h0m1 11h0m2 14h0m2-13h0m5 17h0m1-9h0m2-18h0m3-3h0m0 0h0m0 6h0m10 30h0m1-5h0m2-16h0m0 11h0m1-1h0m3-4h0m3-10h0m3 23h0m3 4h0m15-24h0m1-1h0m2 7h0m3-20h0m3 30h0m15-21h0m4 3h0m17 24h0m12-35h0m28 15h0m-513 26h0m72 29h0m1-3h0m24-24h0m10 17h0m11-1h0m1 15h0m2-3h0m1-6h0m1-11h0m4-2h0m1 23h0m2-35h0m0 25h0m2-6h0m4-17h0m0 11h0m3-3h0m5 5h0m1-12h0m5-4h0m3 4h0m3 12h0m2-1h0m2 4h0m3-19h0m3-1h0m0 4h0m0 19h0m5 2h0m0 14h0m2-11h0m1-12h0m1 8h0m5-18h0m0 2h0m7 4h0m3 19h0m7 3h0m1-32h0m0 11h0m1 20h0m0 5h0m2-23h0m1 1h0m2-5h0m2-11h0m1 39h0m1-14h0m2-10h0m3 4h0m1-5h0m4-11h0m1 13h0m0 6h0m3-14h0m0 26h0m2 5h0m1-36h0m0 10h0m0 21h0m1 0h0m2-10h0m7-10h0m0 14h0m3 1h0m7-25h0m3 23h0m19 1h0m4-7h0m2-15h0m8 13h0m2 3h0m5-9h0m4 26h0m4-39h0m2 4h0m0 27h0m12-29h0m0 25h0m2-24h0m4 32h0m4-33h0m1 6h0m5 13h0m6-9h0m3 22h0m3-18h0m1 1h0m3 10h0m2-18h0m0 10h0m11-17h0m6 32h0m4-10h0m1-19h0m18 17h0m13-11h0m12-8h0m6 23h0m2-24h0m12 7h0m9 3h0m16-10h0m0 34h0m5-17h0m3-14h0m3 0h0m0 7h0m12-2h0m22 7h0m3-11h0m-454 49h0m23-1h0m21-14h0m14 9h0m29-1h0m11-2h0m6 11h0m1-15h0m12-2h0m0 6h0m9 9h0m4-13h0m4 14h0m9-11h0m3 2h0m2-1h0m0 1h0m11 10h0m19-5h0m21 1h0m6-12h0m6-1h0m9 10h0m3-10h0m10 4h0m3-4h0m14 11h0m5 7h0m8-17h0m34 14h0m4-5h0m9-9h0m44 12h0m22-3h0"/>
<path d="M93.6 15.8 L106.6 15.8 L106.8 46 C106.8 51.5 104.5 54 100.5 54.3 C96.5 54.5 93.4 52 93.4 46.5 Z" fill="#6c0000" filter="url(#rough)"/>
<path d="M101.80 61.00L102.01 60.29L102.37 59.51L102.83 58.71L103.37 57.92L103.94 57.17L104.50 56.50L105.07 55.88L105.69 55.27L106.33 54.71L107.00 54.23L107.70 53.84L108.40 53.60L109.14 53.51L109.93 53.57L110.74 53.73L111.54 53.96L112.31 54.23L113.00 54.50L113.66 54.78L114.32 55.09L114.94 55.44L115.49 55.84L115.92 56.29L116.20 56.80L116.29 57.41L116.22 58.12L116.03 58.88L115.78 59.65L115.52 60.37L115.30 61.00L115.14 61.53L115.00 62.01L114.84 62.44L114.65 62.84L114.38 63.23L114.00 63.60L113.48 63.97L112.85 64.34L112.14 64.68L111.40 65.00L110.67 65.27L110.00 65.50L109.39 65.69L108.80 65.84L108.22 65.96L107.65 66.03L107.08 66.05L106.50 66.00L105.89 65.89L105.25 65.72L104.61 65.50L104.00 65.22L103.45 64.89L103.00 64.50L102.62 64.04L102.29 63.52L102.01 62.94L101.83 62.31L101.75 61.66Z" fill="#e8782a"/>
<path d="M110 55 L115.5 57 L114.2 63 L111 64.5 Z" fill="#f09a5a" opacity="0.6"/>
<path d="M85.80 77.40L85.91 76.90L86.16 76.31L86.51 75.68L86.95 75.04L87.46 74.47L88.00 74.00L88.62 73.63L89.35 73.31L90.14 73.04L90.95 72.84L91.75 72.69L92.50 72.60L93.23 72.58L93.98 72.62L94.71 72.72L95.40 72.87L96.01 73.07L96.50 73.30L96.88 73.58L97.18 73.93L97.40 74.32L97.54 74.74L97.61 75.17L97.60 75.60L97.52 76.06L97.37 76.57L97.15 77.09L96.85 77.59L96.47 78.04L96.00 78.40L95.41 78.67L94.70 78.88L93.90 79.03L93.07 79.14L92.25 79.23L91.50 79.30L90.78 79.36L90.04 79.40L89.33 79.42L88.64 79.40L88.03 79.33L87.50 79.20L87.04 79.02L86.62 78.79L86.26 78.51L85.99 78.18L85.83 77.81Z" fill="#1a1af0"/>
<path d="M97.00 78.90L96.97 78.50L97.24 77.97L97.72 77.36L98.31 76.71L98.94 76.07L99.50 75.50L100.04 74.97L100.63 74.45L101.25 73.94L101.87 73.45L102.46 73.00L103.00 72.60L103.48 72.22L103.93 71.85L104.35 71.52L104.75 71.25L105.13 71.07L105.50 71.00L105.88 71.06L106.26 71.23L106.62 71.49L106.94 71.81L107.21 72.19L107.40 72.60L107.50 73.07L107.51 73.63L107.48 74.24L107.40 74.86L107.30 75.46L107.20 76.00L107.13 76.50L107.08 77.00L107.01 77.47L106.88 77.90L106.65 78.29L106.30 78.60L105.79 78.84L105.14 79.01L104.41 79.14L103.61 79.22L102.80 79.27L102.00 79.30L101.12 79.33L100.11 79.36L99.08 79.36L98.14 79.30L97.41 79.15Z" fill="#3a8a8a"/>
<path d="M108.30 76.50L108.20 75.82L108.16 75.06L108.16 74.25L108.23 73.44L108.38 72.68L108.60 72.00L108.92 71.39L109.33 70.80L109.82 70.26L110.36 69.77L110.92 69.34L111.50 69.00L112.11 68.74L112.78 68.54L113.47 68.41L114.18 68.35L114.86 68.34L115.50 68.40L116.12 68.51L116.76 68.68L117.37 68.91L117.93 69.21L118.42 69.57L118.80 70.00L119.07 70.53L119.26 71.16L119.37 71.85L119.41 72.58L119.38 73.31L119.30 74.00L119.16 74.69L118.95 75.41L118.68 76.14L118.35 76.83L117.95 77.46L117.50 78.00L116.95 78.45L116.31 78.84L115.61 79.17L114.88 79.44L114.16 79.65L113.50 79.80L112.87 79.90L112.23 79.96L111.61 79.95L111.01 79.88L110.47 79.73L110.00 79.50L109.59 79.17L109.23 78.76L108.91 78.26L108.65 77.71L108.45 77.12Z" fill="#4a9a38" stroke="#2c7a20" stroke-width="0.7"/>
<path d="M110.5 79.2 Q116 79.5 118.6 75.2" fill="none" stroke="#e8f4e0" stroke-width="0.6"/>
<text x="108.30" y="52.60" font-size="6.4" text-anchor="start" fill="#2f8a30" textLength="18.50" lengthAdjust="spacingAndGlyphs" stroke="#2f8a30" stroke-width="0.15">Lymphs</text>
<line x1="59.30" y1="15.40" x2="134.30" y2="15.40" stroke="#777" stroke-width="0.9"/>
<line x1="134.30" y1="15.40" x2="134.30" y2="83.40" stroke="#777" stroke-width="0.9"/>
<line x1="59.30" y1="15.00" x2="59.30" y2="84.30" stroke="#000" stroke-width="1.9"/>
<line x1="58.40" y1="83.40" x2="135.00" y2="83.40" stroke="#000" stroke-width="1.9"/>
<path fill="none" stroke="#000" stroke-width="0.8" d="M55.80 15.50L58.40 15.50M55.80 32.40L58.40 32.40M55.80 49.50L58.40 49.50M55.80 66.50L58.40 66.50M55.80 83.50L58.40 83.50"/>
<path fill="none" stroke="#000" stroke-width="0.6" d="M57.20 18.88L58.40 18.88M57.20 22.26L58.40 22.26M57.20 25.64L58.40 25.64M57.20 29.02L58.40 29.02M57.20 35.82L58.40 35.82M57.20 39.24L58.40 39.24M57.20 42.66L58.40 42.66M57.20 46.08L58.40 46.08M57.20 52.90L58.40 52.90M57.20 56.30L58.40 56.30M57.20 59.70L58.40 59.70M57.20 63.10L58.40 63.10M57.20 69.90L58.40 69.90M57.20 73.30L58.40 73.30M57.20 76.70L58.40 76.70M57.20 80.10L58.40 80.10"/>
<text x="52.60" y="18.20" font-size="8.0" text-anchor="end" fill="#000" textLength="18.20" lengthAdjust="spacingAndGlyphs" stroke="#000" stroke-width="0.12">1024</text>
<text x="52.60" y="35.10" font-size="8.0" text-anchor="end" fill="#000" textLength="13.60" lengthAdjust="spacingAndGlyphs" stroke="#000" stroke-width="0.12">768</text>
<text x="52.60" y="52.20" font-size="8.0" text-anchor="end" fill="#000" textLength="13.60" lengthAdjust="spacingAndGlyphs" stroke="#000" stroke-width="0.12">512</text>
<text x="52.60" y="69.20" font-size="8.0" text-anchor="end" fill="#000" textLength="13.60" lengthAdjust="spacingAndGlyphs" stroke="#000" stroke-width="0.12">256</text>
<text x="52.60" y="86.20" font-size="8.0" text-anchor="end" fill="#000" textLength="4.50" lengthAdjust="spacingAndGlyphs" stroke="#000" stroke-width="0.12">0</text>
<path fill="none" stroke="#000" stroke-width="0.8" d="M73.01 84.30L73.01 85.50M74.45 84.30L74.45 85.50M75.67 84.30L75.67 85.50M76.73 84.30L76.73 85.50M77.66 84.30L77.66 85.50M78.50 84.30L78.50 86.50M83.99 84.30L83.99 85.50M87.21 84.30L87.21 85.50M89.49 84.30L89.49 85.50M91.26 84.30L91.26 85.50M92.70 84.30L92.70 85.50M93.92 84.30L93.92 85.50M94.98 84.30L94.98 85.50M95.91 84.30L95.91 85.50M96.75 84.30L96.75 86.50M102.24 84.30L102.24 85.50M105.46 84.30L105.46 85.50M107.74 84.30L107.74 85.50M109.51 84.30L109.51 85.50M110.95 84.30L110.95 85.50M112.17 84.30L112.17 85.50M113.23 84.30L113.23 85.50M114.16 84.30L114.16 85.50M115.00 84.30L115.00 86.50M120.49 84.30L120.49 85.50M123.71 84.30L123.71 85.50M125.99 84.30L125.99 85.50M127.76 84.30L127.76 85.50M129.20 84.30L129.20 85.50M130.42 84.30L130.42 85.50M131.48 84.30L131.48 85.50M132.41 84.30L132.41 85.50M133.25 84.30L133.25 86.50"/>
<text x="72.70" y="95.80" font-size="7.8" fill="#000" stroke="#000" stroke-width="0.12" textLength="8.5" lengthAdjust="spacingAndGlyphs">10</text>
<text x="81.45" y="92.70" font-size="4.4" fill="#000">0</text>
<text x="90.95" y="95.80" font-size="7.8" fill="#000" stroke="#000" stroke-width="0.12" textLength="8.5" lengthAdjust="spacingAndGlyphs">10</text>
<text x="99.70" y="92.70" font-size="4.4" fill="#000">1</text>
<text x="109.20" y="95.80" font-size="7.8" fill="#000" stroke="#000" stroke-width="0.12" textLength="8.5" lengthAdjust="spacingAndGlyphs">10</text>
<text x="117.95" y="92.70" font-size="4.4" fill="#000">2</text>
<text x="127.45" y="95.80" font-size="7.8" fill="#000" stroke="#000" stroke-width="0.12" textLength="8.5" lengthAdjust="spacingAndGlyphs">10</text>
<text x="136.20" y="92.70" font-size="4.4" fill="#000">3</text>
<text x="65.00" y="110.40" font-size="10.4" text-anchor="start" font-weight="bold" fill="#111" textLength="61.50" lengthAdjust="spacingAndGlyphs">CD45-krome orange</text>
<text x="28.30" y="68.00" font-size="10.4" text-anchor="start" font-weight="bold" fill="#111" textLength="33.70" lengthAdjust="spacingAndGlyphs" transform="rotate(-90 28.30 68.00)">SS INT LIN</text>
<path transform="scale(.1)" fill="none" stroke="#3444e4" stroke-width="7.0" stroke-linecap="square" stroke-opacity="0.6" d="M2104 356h0m24 3h0m13-1h0m17-2h0m-68 22h0m22-6h0m2 24h0m7-3h0m8-16h0m5 3h0m2 12h0m4-14h0m2 4h0m1-5h0m0 15h0m0 7h0m2 0h0m1 0h0m3-22h0m1 6h0m3 2h0m0 11h0m1-11h0m0 2h0m0 5h0m0 3h0m1-19h0m0 1h0m1 18h0m1-11h0m3 2h0m0 4h0m1-13h0m0 7h0m0 12h0m2-20h0m0 8h0m1 14h0m1-23h0m2-3h0m0 2h0m2 21h0m0 2h0m1-9h0m0 5h0m1-4h0m1-8h0m1 15h0m4-2h0m3-13h0m2-1h0m1 18h0m3-28h0m0 5h0m0 7h0m1 8h0m1-4h0m2-22h0m0 19h0m0 3h0m0 13h0m1-25h0m5 14h0m2-10h0m3-13h0m7 10h0m0 11h0m5-10h0m0 6h0m3-19h0m1 29h0m2-4h0m2-7h0m9 13h0m10-29h0m5 2h0m24 26h0m-191 27h0m6 16h0m10-28h0m2 22h0m4-15h0m17 5h0m0 18h0m1-35h0m4 24h0m1-23h0m0 3h0m5 15h0m2 0h0m0 4h0m3-3h0m0 6h0m2-25h0m0 2h0m0 13h0m1 12h0m1-24h0m0 8h0m0 11h0m0 1h0m1-23h0m1-2h0m3 37h0m1-37h0m0 0h0m0 20h0m1-8h0m1 0h0m1-9h0m0 20h0m2-13h0m0 6h0m1 0h0m0 0h0m1-16h0m0 16h0m2 13h0m1-21h0m0 4h0m0 3h0m1 3h0m0 17h0m2-35h0m0 0h0m2 3h0m0 14h0m2-4h0m2 0h0m0 11h0m2-22h0m1 8h0m0 7h0m0 12h0m2-28h0m0 0h0m2 19h0m0 5h0m1 10h0m4-21h0m1 12h0m1-26h0m0 21h0m1 14h0m2-34h0m0 8h0m0 6h0m1 10h0m2-26h0m0 9h0m0 1h0m0 15h0m2-21h0m0 2h0m0 7h0m2-6h0m0 14h0m0 3h0m1-8h0m0 14h0m1-31h0m0 2h0m1 8h0m1 2h0m1 4h0m1-11h0m1 5h0m0 11h0m2-18h0m0 31h0m1-33h0m1 1h0m0 17h0m3 1h0m1 15h0m2-31h0m0 1h0m2 17h0m2 17h0m3-20h0m1-6h0m0 14h0m1 2h0m1-11h0m0 8h0m3-11h0m5-7h0m0 11h0m2 19h0m7-24h0m1-3h0m4 1h0m1 6h0m0 13h0m1-3h0m-178 13h0m37 30h0m2-25h0m0 28h0m11-32h0m0 4h0m7 10h0m2-16h0m6 3h0m2 17h0m7-9h0m1-4h0m3-2h0m0 21h0m14-15h0m2-11h0m1 9h0m11-5h0m1 28h0m2-2h0m1-23h0m4-3h0m8 17h0m2-15h0m0 4h0m0 4h0m1-2h0m0 6h0m5-14h0m14 24h0m8-9h0m2-19h0m34 32h0m-124 9h0m32 36h0"/>
<path transform="scale(.1)" fill="none" stroke="#5060e8" stroke-width="7.0" stroke-linecap="square" stroke-opacity="0.55" d="M2231 314h0m71-14h0m-189 47h0m6-8h0m77-3h0m21 3h0m13 8h0m27 1h0m53 7h0m-220 40h0m34 0h0m18-12h0m6-5h0m5 12h0m16 6h0m21-11h0m4-7h0m8 21h0m6-7h0m6-21h0m5 7h0m2-6h0m1 27h0m3-16h0m11 13h0m4-12h0m21-9h0m18 16h0m1 1h0m-187 42h0m2-29h0m37 1h0m4 3h0m2 30h0m13-22h0m5-6h0m7 21h0m6 7h0m3 0h0m1-5h0m15-21h0m4-2h0m1 14h0m4-12h0m8 22h0m0 3h0m28-5h0m20-9h0m7 12h0m33-4h0m63-16h0m-294 37h0m37-13h0m2 20h0m33 1h0m1-10h0m10 18h0m6-16h0m10 6h0m3-13h0m0 22h0m1-20h0m1 28h0m9-20h0m3 13h0m4-26h0m6 2h0m1 23h0m7-16h0m4 9h0m1-14h0m9 30h0m3-9h0m9-23h0m1 11h0m0 4h0m2 19h0m7-34h0m1 28h0m4-10h0m0 14h0m1-36h0m48 24h0m19-12h0m10 22h0m-220 6h0m43 5h0m6 0h0m1 11h0m9 14h0m21-9h0m1-12h0m2 12h0m6 12h0m5-17h0m14 21h0m4-25h0m0 9h0m9-14h0m0 27h0m1-35h0m0 31h0m8-25h0m4 17h0m8-21h0m15 15h0m16-14h0m-2 39h0m14 0h0m-97 46h0"/>
<path transform="scale(.1)" fill="none" stroke="#6070e8" stroke-width="7.0" stroke-linecap="square" stroke-opacity="0.55" d="M1952 578h0m85 12h0m-123 46h0m37-2h0m30-15h0m0 1h0m3-11h0m13-5h0m2 32h0m11-12h0m1-22h0m5 20h0m27-4h0m24 4h0m-181 27h0m12 8h0m5 22h0m9-12h0m10-9h0m4 18h0m5-12h0m7 12h0m8 2h0m5-30h0m3 16h0m9 8h0m6-9h0m0 3h0m0 3h0m1-19h0m1 4h0m0 4h0m3 10h0m2-10h0m3-15h0m0 24h0m4-8h0m4-10h0m1-6h0m0 17h0m1 8h0m1-10h0m1-13h0m0 28h0m2-25h0m0 1h0m4-4h0m8 4h0m9 23h0m1-26h0m18 4h0m0 13h0m14-19h0m2 8h0m-176 63h0m6-18h0m1-16h0m6 31h0m2-19h0m11 11h0m3-5h0m1 18h0m4-4h0m1-26h0m1 1h0m7 29h0m1 0h0m1-16h0m1 0h0m1 18h0m2-15h0m4-14h0m1-10h0m7 25h0m4 10h0m1-19h0m0 0h0m3 11h0m2 8h0m5-12h0m3 12h0m2-17h0m0 10h0m4-24h0m4 3h0m8-5h0m2 22h0m1 9h0m1-25h0m10 5h0m9 4h0m-146 41h0m13 20h0m3 1h0m2-13h0m2-23h0m2 13h0m11-12h0m0 22h0m0 10h0m3 3h0m2-32h0m6-6h0m0 16h0m3 19h0m1-10h0m2-21h0m1 11h0m0 8h0m6-4h0m2 1h0m1 5h0m2-11h0m10-3h0m3-1h0m12-5h0m1-1h0m2-2h0m1-2h0m9 21h0m3-17h0m-102 73h0m7-1h0m9-19h0m4-1h0m4 0h0m4-12h0m3 16h0m1 3h0m1 8h0m2-28h0m3 30h0m11-30h0m9 10h0m6 6h0m42 1h0m-108 30h0m11-10h0m24 1h0m28 1h0"/>
<path transform="scale(.1)" fill="none" stroke="#7080f0" stroke-width="7.0" stroke-linecap="square" stroke-opacity="0.5" d="M1851 631h0m1 0h0m1 4h0m45-22h0m53 14h0m6-2h0m2 4h0m-35 19h0m67 3h0m5-5h0m3 11h0m6 5h0m16-2h0m-141 21h0m56 10h0m7 0h0m67-10h0m24 18h0m-136 29h0m48-8h0m25 24h0m17-2h0m11 4h0m36 0h0m-105 27h0m21 3h0m35-5h0m-92 39h0m68-2h0"/>
<line x1="183.20" y1="13.60" x2="258.50" y2="13.60" stroke="#666" stroke-width="0.8"/>
<line x1="258.50" y1="13.60" x2="258.50" y2="82.80" stroke="#666" stroke-width="0.8"/>
<line x1="183.20" y1="60.20" x2="258.50" y2="60.20" stroke="#5a5a5a" stroke-width="1.0"/>
<line x1="206.20" y1="13.60" x2="206.20" y2="82.80" stroke="#5a5a5a" stroke-width="1.0"/>
<line x1="183.50" y1="13.20" x2="183.50" y2="83.80" stroke="#000" stroke-width="2.0"/>
<line x1="182.60" y1="82.80" x2="259.00" y2="82.80" stroke="#000" stroke-width="2.0"/>
<path fill="none" stroke="#000" stroke-width="0.8" d="M180.60 15.10L183.20 15.10M180.60 32.20L183.20 32.20M180.60 49.20L183.20 49.20M180.60 66.10L183.20 66.10"/>
<path fill="none" stroke="#000" stroke-width="0.5" d="M182.00 27.05L183.20 27.05M182.00 24.04L183.20 24.04M182.00 21.90L183.20 21.90M182.00 20.25L183.20 20.25M182.00 18.89L183.20 18.89M182.00 17.75L183.20 17.75M182.00 16.76L183.20 16.76M182.00 15.88L183.20 15.88M182.00 44.08L183.20 44.08M182.00 41.09L183.20 41.09M182.00 38.96L183.20 38.96M182.00 37.32L183.20 37.32M182.00 35.97L183.20 35.97M182.00 34.83L183.20 34.83M182.00 33.85L183.20 33.85M182.00 32.98L183.20 32.98M182.00 61.01L183.20 61.01M182.00 58.04L183.20 58.04M182.00 55.93L183.20 55.93M182.00 54.29L183.20 54.29M182.00 52.95L183.20 52.95M182.00 51.82L183.20 51.82M182.00 50.84L183.20 50.84M182.00 49.97L183.20 49.97"/>
<text x="165.00" y="17.70" font-size="7.8" fill="#000" stroke="#000" stroke-width="0.12" textLength="8.5" lengthAdjust="spacingAndGlyphs">10</text>
<text x="173.75" y="14.60" font-size="4.4" fill="#000">3</text>
<text x="165.00" y="34.80" font-size="7.8" fill="#000" stroke="#000" stroke-width="0.12" textLength="8.5" lengthAdjust="spacingAndGlyphs">10</text>
<text x="173.75" y="31.70" font-size="4.4" fill="#000">2</text>
<text x="165.00" y="51.80" font-size="7.8" fill="#000" stroke="#000" stroke-width="0.12" textLength="8.5" lengthAdjust="spacingAndGlyphs">10</text>
<text x="173.75" y="48.70" font-size="4.4" fill="#000">1</text>
<text x="165.00" y="68.70" font-size="7.8" fill="#000" stroke="#000" stroke-width="0.12" textLength="8.5" lengthAdjust="spacingAndGlyphs">10</text>
<text x="173.75" y="65.60" font-size="4.4" fill="#000">0</text>
<path fill="none" stroke="#000" stroke-width="0.8" d="M196.49 83.80L196.49 85.00M197.94 83.80L197.94 85.00M199.17 83.80L199.17 85.00M200.23 83.80L200.23 85.00M201.16 83.80L201.16 85.00M202.00 83.80L202.00 86.00M207.51 83.80L207.51 85.00M210.73 83.80L210.73 85.00M213.02 83.80L213.02 85.00M214.79 83.80L214.79 85.00M216.24 83.80L216.24 85.00M217.47 83.80L217.47 85.00M218.53 83.80L218.53 85.00M219.46 83.80L219.46 85.00M220.30 83.80L220.30 86.00M225.81 83.80L225.81 85.00M229.03 83.80L229.03 85.00M231.32 83.80L231.32 85.00M233.09 83.80L233.09 85.00M234.54 83.80L234.54 85.00M235.77 83.80L235.77 85.00M236.83 83.80L236.83 85.00M237.76 83.80L237.76 85.00M238.60 83.80L238.60 86.00M244.11 83.80L244.11 85.00M247.33 83.80L247.33 85.00M249.62 83.80L249.62 85.00M251.39 83.80L251.39 85.00M252.84 83.80L252.84 85.00M254.07 83.80L254.07 85.00M255.13 83.80L255.13 85.00M256.06 83.80L256.06 85.00M256.90 83.80L256.90 86.00"/>
<text x="196.20" y="95.60" font-size="7.8" fill="#000" stroke="#000" stroke-width="0.12" textLength="8.5" lengthAdjust="spacingAndGlyphs">10</text>
<text x="204.95" y="92.50" font-size="4.4" fill="#000">0</text>
<text x="214.50" y="95.60" font-size="7.8" fill="#000" stroke="#000" stroke-width="0.12" textLength="8.5" lengthAdjust="spacingAndGlyphs">10</text>
<text x="223.25" y="92.50" font-size="4.4" fill="#000">1</text>
<text x="232.80" y="95.60" font-size="7.8" fill="#000" stroke="#000" stroke-width="0.12" textLength="8.5" lengthAdjust="spacingAndGlyphs">10</text>
<text x="241.55" y="92.50" font-size="4.4" fill="#000">2</text>
<text x="251.10" y="95.60" font-size="7.8" fill="#000" stroke="#000" stroke-width="0.12" textLength="8.5" lengthAdjust="spacingAndGlyphs">10</text>
<text x="259.85" y="92.50" font-size="4.4" fill="#000">3</text>
<text x="206.20" y="109.60" font-size="10.2" text-anchor="start" font-weight="bold" fill="#111" textLength="30.50" lengthAdjust="spacingAndGlyphs">CD19-PC7</text>
<text x="157.90" y="76.30" font-size="10.2" text-anchor="start" font-weight="bold" fill="#111" textLength="53.50" lengthAdjust="spacingAndGlyphs" transform="rotate(-90 157.90 76.30)">CD10-APC/AF750</text>
<text x="184.20" y="21.50" font-size="8.2" text-anchor="start" fill="#3a3a4e" textLength="22.15" lengthAdjust="spacingAndGlyphs">1.03%</text>
<text x="236.60" y="21.50" font-size="8.2" text-anchor="start" fill="#3a3a4e" textLength="26.50" lengthAdjust="spacingAndGlyphs">73.02%</text>
<text x="184.20" y="79.60" font-size="8.2" text-anchor="start" fill="#3a3a4e" textLength="26.50" lengthAdjust="spacingAndGlyphs">22.78%</text>
<text x="236.60" y="79.60" font-size="8.2" text-anchor="start" fill="#3a3a4e" textLength="22.15" lengthAdjust="spacingAndGlyphs">3.17%</text>
<path transform="scale(.1)" fill="none" stroke="#2b7b78" stroke-width="7.0" stroke-linecap="square" stroke-opacity="0.75" d="M3520 429h0m12 2h0m0 2h0m28 4h0m3-6h0m-109 45h0m4 0h0m1 2h0m6-33h0m3 14h0m12 13h0m1-9h0m1 2h0m6 7h0m2 4h0m4-7h0m1-9h0m5 14h0m1-29h0m0 29h0m3-8h0m1-4h0m0 13h0m3-25h0m0 27h0m2-8h0m1-18h0m2 25h0m2-1h0m1 3h0m2-12h0m0 6h0m1-1h0m1-6h0m1 8h0m1 2h0m1-25h0m0 1h0m0 28h0m1-38h0m0 38h0m5-3h0m1 1h0m1-20h0m1 22h0m3-20h0m0 2h0m1-13h0m0 11h0m1 15h0m2-23h0m0 20h0m0 3h0m1-26h0m0 25h0m1 2h0m2-11h0m1-11h0m2 13h0m0 2h0m3-17h0m2 21h0m6-28h0m1 13h0m4 8h0m1 3h0m1 6h0m2 3h0m13-5h0m11-18h0m-152 65h0m2-13h0m4 8h0m1 0h0m3-31h0m5 22h0m3-22h0m0 14h0m1 16h0m2 3h0m5-18h0m0 19h0m4-5h0m2-20h0m1 25h0m1-9h0m0 2h0m0 6h0m1-18h0m0 9h0m0 6h0m1-2h0m1-17h0m0 21h0m1-21h0m0 0h0m0 0h0m0 8h0m1 2h0m0 11h0m1-21h0m0 1h0m1 3h0m0 10h0m0 10h0m1-22h0m0 14h0m2-28h0m0 34h0m0 3h0m1-14h0m0 2h0m0 9h0m2-31h0m2-3h0m0 30h0m1-15h0m0 9h0m1 9h0m2-32h0m0 22h0m1-10h0m0 14h0m0 9h0m1-23h0m0 15h0m1-8h0m0 14h0m1-19h0m0 11h0m0 2h0m0 7h0m1-17h0m0 10h0m0 1h0m0 2h0m0 3h0m1-17h0m0 19h0m1-36h0m0 14h0m0 9h0m0 5h0m1-17h0m1-13h0m0 16h0m0 1h0m0 0h0m0 3h0m2 10h0m1-23h0m0 2h0m0 7h0m0 16h0m1-12h0m0 16h0m0 0h0m1-35h0m0 2h0m0 7h0m0 4h0m0 7h0m0 3h0m0 2h0m1-5h0m0 2h0m0 10h0m1-29h0m0 0h0m0 7h0m0 6h0m1-10h0m0 10h0m0 8h0m0 9h0m1-17h0m0 8h0m1-2h0m0 10h0m2-31h0m0 1h0m1 1h0m1-4h0m0 19h0m0 6h0m0 6h0m0 4h0m1-34h0m0 3h0m0 2h0m0 7h0m0 14h0m0 5h0m1-26h0m1 6h0m0 4h0m0 9h0m0 1h0m0 2h0m0 3h0m1-24h0m0 4h0m1 13h0m1 2h0m1-22h0m0 24h0m0 0h0m0 9h0m0 0h0m1-34h0m0 24h0m1-6h0m0 12h0m0 3h0m1-32h0m1-4h0m0 9h0m0 20h0m1-8h0m0 7h0m0 7h0m0 0h0m0 3h0m1-34h0m0 6h0m0 8h0m1-10h0m0 1h0m0 2h0m0 2h0m1 5h0m1-13h0m0 1h0m0 1h0m0 8h0m0 8h0m1 4h0m1 3h0m1-30h0m0 1h0m0 2h0m0 9h0m0 10h0m0 6h0m1-23h0m0 17h0m1 8h0m1-11h0m0 13h0m1-26h0m0 19h0m2-19h0m0 29h0m1-27h0m0 0h0m0 9h0m0 8h0m1-19h0m0 11h0m0 9h0m2-7h0m0 8h0m1-18h0m0 23h0m2-20h0m0 7h0m0 4h0m2-18h0m1-5h0m0 18h0m0 11h0m1 6h0m1-29h0m0 1h0m0 2h0m0 19h0m1-28h0m2 14h0m1 8h0m1-13h0m1 1h0m1 5h0m3-13h0m1 16h0m1 3h0m1-14h0m5 21h0m7-7h0m5 16h0m7-33h0m-163 61h0m4 7h0m10-12h0m4 12h0m2-17h0m4-2h0m2 23h0m1-22h0m2-13h0m1 27h0m1-24h0m1 9h0m0 5h0m1 6h0m0 13h0m1-35h0m0 12h0m2 1h0m0 2h0m3-12h0m0 20h0m1 8h0m0 5h0m3-36h0m0 1h0m1 3h0m0 5h0m3-11h0m0 1h0m2-1h0m0 6h0m2 1h0m1-3h0m1 1h0m1 4h0m1-4h0m0 14h0m0 6h0m2 1h0m1-24h0m0 3h0m0 13h0m0 11h0m1 4h0m1-27h0m0 15h0m0 5h0m1-18h0m0 0h0m0 30h0m1-38h0m0 10h0m1 29h0m1-39h0m0 5h0m0 8h0m0 21h0m1-22h0m0 2h0m0 1h0m2 8h0m1-23h0m0 9h0m1-6h0m0 25h0m1-23h0m0 5h0m0 23h0m1-32h0m0 9h0m1 0h0m3 4h0m1-13h0m0 21h0m2-13h0m0 13h0m1-2h0m1-9h0m1-2h0m1-8h0m0 1h0m0 7h0m1 0h0m3-9h0m0 5h0m0 2h0m0 8h0m0 3h0m1-16h0m0 4h0m0 3h0m0 8h0m1-11h0m0 10h0m1-11h0m0 7h0m0 7h0m0 19h0m1-22h0m0 23h0m1-35h0m1-2h0m0 1h0m1 35h0m2-30h0m0 6h0m2-10h0m0 14h0m5-5h0m1-10h0m1-2h0m2 18h0m1-12h0m1 32h0m1-35h0m0 6h0m0 5h0m7-12h0m5 3h0m5-2h0m0 7h0m6-4h0m-118 35h0m30 1h0m0 30h0m9-30h0m2 4h0m22-1h0m16-5h0m16 15h0"/>
<path transform="scale(.1)" fill="none" stroke="#4a9a96" stroke-width="7.0" stroke-linecap="square" stroke-opacity="0.5" d="M3443 355h0m-16 17h0m39 23h0m14 1h0m115-8h0m-234 26h0m34-5h0m19-5h0m38 20h0m37-24h0m7 35h0m2-31h0m1 13h0m8 5h0m10-21h0m24 15h0m3 5h0m41-1h0m-241 27h0m70 7h0m29-7h0m1 7h0m4 24h0m17-12h0m8 12h0m16-16h0m14-4h0m2-7h0m18-2h0m2-9h0m1 19h0m13 1h0m39-6h0m23-9h0m35 29h0m-304 39h0m74-32h0m11 11h0m1-8h0m12 27h0m3-28h0m4 18h0m3-11h0m5 18h0m2 5h0m13-5h0m1 3h0m1-21h0m4 21h0m4 4h0m6-30h0m7 9h0m2 15h0m3 0h0m3 5h0m1-9h0m1 7h0m9-31h0m6 9h0m4-6h0m10 7h0m0 8h0m11-9h0m13 27h0m10-7h0m-160 42h0m10-1h0m10-24h0m13 2h0m8 11h0m4 1h0m6 7h0m7-6h0m6-7h0m7 15h0m8-26h0m11-3h0m0 20h0m3-14h0m8 11h0m4 6h0m32-6h0m1-4h0m2 10h0m4 5h0m8-4h0m3-24h0m34 34h0m-196 26h0m28-20h0m17 0h0m39 26h0m6-26h0m7 6h0m4-1h0m28 9h0m63 2h0m-195 29h0m82 20h0m22-9h0"/>
<path transform="scale(.1)" fill="none" stroke="#5a9a9a" stroke-width="7.0" stroke-linecap="square" stroke-opacity="0.4" d="M3162 660h0m68 3h0m-136 54h0m1-4h0m19-11h0m3 12h0m30 3h0m70-5h0m27-5h0m2-2h0m4-2h0m2 2h0m8 11h0m-145 35h0m4-30h0m0 1h0m9 5h0m28 21h0m23-12h0m13 8h0m15-11h0m1-13h0m43 16h0m-112 41h0m72 10h0m2-25h0m19 26h0m9-17h0m-30 36h0"/>
<line x1="307.60" y1="13.60" x2="382.90" y2="13.60" stroke="#666" stroke-width="0.8"/>
<line x1="382.90" y1="13.60" x2="382.90" y2="82.80" stroke="#666" stroke-width="0.8"/>
<line x1="307.60" y1="66.00" x2="382.90" y2="66.00" stroke="#5a5a5a" stroke-width="1.0"/>
<line x1="327.20" y1="13.60" x2="327.20" y2="82.80" stroke="#5a5a5a" stroke-width="1.0"/>
<line x1="307.90" y1="13.20" x2="307.90" y2="83.80" stroke="#000" stroke-width="2.0"/>
<line x1="307.00" y1="82.80" x2="383.40" y2="82.80" stroke="#000" stroke-width="2.0"/>
<path fill="none" stroke="#000" stroke-width="0.8" d="M305.00 15.10L307.60 15.10M305.00 32.20L307.60 32.20M305.00 49.20L307.60 49.20M305.00 66.10L307.60 66.10"/>
<path fill="none" stroke="#000" stroke-width="0.5" d="M306.40 27.05L307.60 27.05M306.40 24.04L307.60 24.04M306.40 21.90L307.60 21.90M306.40 20.25L307.60 20.25M306.40 18.89L307.60 18.89M306.40 17.75L307.60 17.75M306.40 16.76L307.60 16.76M306.40 15.88L307.60 15.88M306.40 44.08L307.60 44.08M306.40 41.09L307.60 41.09M306.40 38.96L307.60 38.96M306.40 37.32L307.60 37.32M306.40 35.97L307.60 35.97M306.40 34.83L307.60 34.83M306.40 33.85L307.60 33.85M306.40 32.98L307.60 32.98M306.40 61.01L307.60 61.01M306.40 58.04L307.60 58.04M306.40 55.93L307.60 55.93M306.40 54.29L307.60 54.29M306.40 52.95L307.60 52.95M306.40 51.82L307.60 51.82M306.40 50.84L307.60 50.84M306.40 49.97L307.60 49.97"/>
<text x="289.40" y="17.70" font-size="7.8" fill="#000" stroke="#000" stroke-width="0.12" textLength="8.5" lengthAdjust="spacingAndGlyphs">10</text>
<text x="298.15" y="14.60" font-size="4.4" fill="#000">3</text>
<text x="289.40" y="34.80" font-size="7.8" fill="#000" stroke="#000" stroke-width="0.12" textLength="8.5" lengthAdjust="spacingAndGlyphs">10</text>
<text x="298.15" y="31.70" font-size="4.4" fill="#000">2</text>
<text x="289.40" y="51.80" font-size="7.8" fill="#000" stroke="#000" stroke-width="0.12" textLength="8.5" lengthAdjust="spacingAndGlyphs">10</text>
<text x="298.15" y="48.70" font-size="4.4" fill="#000">1</text>
<text x="289.40" y="68.70" font-size="7.8" fill="#000" stroke="#000" stroke-width="0.12" textLength="8.5" lengthAdjust="spacingAndGlyphs">10</text>
<text x="298.15" y="65.60" font-size="4.4" fill="#000">0</text>
<path fill="none" stroke="#000" stroke-width="0.8" d="M320.89 83.80L320.89 85.00M322.34 83.80L322.34 85.00M323.57 83.80L323.57 85.00M324.63 83.80L324.63 85.00M325.56 83.80L325.56 85.00M326.40 83.80L326.40 86.00M331.91 83.80L331.91 85.00M335.13 83.80L335.13 85.00M337.42 83.80L337.42 85.00M339.19 83.80L339.19 85.00M340.64 83.80L340.64 85.00M341.87 83.80L341.87 85.00M342.93 83.80L342.93 85.00M343.86 83.80L343.86 85.00M344.70 83.80L344.70 86.00M350.21 83.80L350.21 85.00M353.43 83.80L353.43 85.00M355.72 83.80L355.72 85.00M357.49 83.80L357.49 85.00M358.94 83.80L358.94 85.00M360.17 83.80L360.17 85.00M361.23 83.80L361.23 85.00M362.16 83.80L362.16 85.00M363.00 83.80L363.00 86.00M368.51 83.80L368.51 85.00M371.73 83.80L371.73 85.00M374.02 83.80L374.02 85.00M375.79 83.80L375.79 85.00M377.24 83.80L377.24 85.00M378.47 83.80L378.47 85.00M379.53 83.80L379.53 85.00M380.46 83.80L380.46 85.00M381.30 83.80L381.30 86.00"/>
<text x="320.60" y="95.60" font-size="7.8" fill="#000" stroke="#000" stroke-width="0.12" textLength="8.5" lengthAdjust="spacingAndGlyphs">10</text>
<text x="329.35" y="92.50" font-size="4.4" fill="#000">0</text>
<text x="338.90" y="95.60" font-size="7.8" fill="#000" stroke="#000" stroke-width="0.12" textLength="8.5" lengthAdjust="spacingAndGlyphs">10</text>
<text x="347.65" y="92.50" font-size="4.4" fill="#000">1</text>
<text x="357.20" y="95.60" font-size="7.8" fill="#000" stroke="#000" stroke-width="0.12" textLength="8.5" lengthAdjust="spacingAndGlyphs">10</text>
<text x="365.95" y="92.50" font-size="4.4" fill="#000">2</text>
<text x="375.50" y="95.60" font-size="7.8" fill="#000" stroke="#000" stroke-width="0.12" textLength="8.5" lengthAdjust="spacingAndGlyphs">10</text>
<text x="384.25" y="92.50" font-size="4.4" fill="#000">3</text>
<text x="330.60" y="109.60" font-size="10.2" text-anchor="start" font-weight="bold" fill="#111" textLength="30.50" lengthAdjust="spacingAndGlyphs">CD19-PC7</text>
<text x="282.30" y="76.30" font-size="10.2" text-anchor="start" font-weight="bold" fill="#111" textLength="53.50" lengthAdjust="spacingAndGlyphs" transform="rotate(-90 282.30 76.30)">CD10-APC/AF750</text>
<text x="308.60" y="21.50" font-size="8.2" text-anchor="start" fill="#3a3a4e" textLength="22.15" lengthAdjust="spacingAndGlyphs">0.29%</text>
<text x="361.00" y="21.50" font-size="8.2" text-anchor="start" fill="#3a3a4e" textLength="26.50" lengthAdjust="spacingAndGlyphs">93.33%</text>
<text x="308.60" y="79.60" font-size="8.2" text-anchor="start" fill="#3a3a4e" textLength="22.15" lengthAdjust="spacingAndGlyphs">5.96%</text>
<text x="361.00" y="79.60" font-size="8.2" text-anchor="start" fill="#3a3a4e" textLength="22.15" lengthAdjust="spacingAndGlyphs">0.42%</text>
<path transform="scale(.1)" fill="none" stroke="#4a9636" stroke-width="7.0" stroke-linecap="square" stroke-opacity="0.4" d="M4347 627h0m3-9h0m5 0h0m1-2h0m7 13h0m15 4h0m11-17h0m1 8h0m3-7h0m8 10h0m4-10h0m26 13h0m7 2h0m3 7h0m7 0h0m11 0h0m11-9h0m5 4h0m11-12h0m15 14h0m7-9h0m8 1h0m2 10h0m4-11h0m4 6h0m8-7h0m1 11h0m0 2h0m1-19h0m1 17h0m8-5h0m5-9h0m-217 56h0m4-35h0m0 0h0m2-4h0m4 7h0m3 30h0m2 0h0m1-14h0m5 15h0m12-25h0m13 26h0m4-17h0m1-9h0m3 25h0m4-9h0m2-25h0m2 18h0m14-7h0m9-2h0m1 19h0m2-13h0m1-18h0m1 1h0m4 7h0m4 10h0m10 10h0m1-9h0m6-19h0m3 38h0m2-14h0m6-12h0m4-1h0m4-3h0m8 27h0m2 1h0m3-30h0m1-5h0m0 30h0m2 7h0m4-36h0m0 14h0m3-13h0m4 22h0m1-12h0m6-12h0m2 1h0m16 33h0m4-35h0m2 9h0m1 8h0m2 14h0m7-14h0m0 0h0m14-14h0m-209 54h0m0 7h0m3-7h0m13 19h0m5-19h0m2-13h0m1-4h0m2 3h0m2 13h0m14 0h0m5-4h0m1-1h0m4 7h0m16 2h0m2-7h0m5-6h0m5 3h0m15-1h0m9 15h0m3-8h0m1-14h0m9 9h0m3-10h0m3 13h0m6 1h0m2 10h0m2-17h0m1 29h0m1-29h0m2 8h0m0 9h0m9 2h0m3-5h0m7-15h0m3 25h0m1-2h0m1-19h0m6-7h0m2 15h0m3-9h0m1-10h0m0 35h0m2-32h0m3 9h0m6 26h0m2-3h0m3-3h0m1-5h0m0 9h0m0 1h0m3-1h0m5 0h0m2-32h0m0 28h0m-203 8h0m2 11h0m3 6h0m0 17h0m2-12h0m1-9h0m1 16h0m1-19h0m4 15h0m0 13h0m4-6h0m5-21h0m1-9h0m10 33h0m1-17h0m4 19h0m6-37h0m7 7h0m0 26h0m4-28h0m7 6h0m0 27h0m6-22h0m2-4h0m3-7h0m5 7h0m2 13h0m10-25h0m0 11h0m3-11h0m1 1h0m6 9h0m10-6h0m1 12h0m0 9h0m3-15h0m6 15h0m0 6h0m3-23h0m3 9h0m3-7h0m4-8h0m3 9h0m3-1h0m7 18h0m3 10h0m1-37h0m8-2h0m2 31h0m9-31h0m1 15h0m11 15h0m1-1h0m1 1h0m3-5h0m8-2h0m1-12h0m3 26h0m1-27h0m0 16h0m2-20h0m0 6h0m9 20h0m-214 21h0m0 20h0m4-19h0m0 9h0m4-15h0m3 0h0m0 14h0m3-10h0m0 15h0m1-7h0m3-15h0m0 24h0m5-14h0m0 11h0m12 6h0m5-7h0m3 6h0m3-9h0m3-2h0m5 15h0m2 3h0m10-34h0m5-3h0m1 11h0m4 24h0m1-15h0m2-9h0m0 16h0m8 11h0m6-13h0m5-17h0m5 3h0m2 3h0m4-5h0m2 22h0m1-18h0m10-14h0m0 37h0m2-30h0m4 14h0m2-17h0m0 33h0m1-20h0m22-3h0m2 20h0m0 3h0m1-22h0m5-8h0m5 22h0m1-5h0m6-24h0m0 12h0m2 26h0m1-2h0m1-34h0m13 30h0m1-16h0m4 21h0m9-7h0m3-1h0m7-19h0m-211 40h0m9-10h0m23 5h0m9-1h0m8-1h0m2 5h0m13 1h0m3-2h0m1-6h0m6 3h0m5 2h0m9 3h0m18-6h0m4 0h0m10 0h0m0 7h0m14 1h0m19 0h0m9-5h0m11-4h0m1 1h0m9-3h0m0 8h0m2 0h0m13-6h0m2-1h0"/>
<path transform="scale(.1)" fill="none" stroke="#3b8a2a" stroke-width="7.0" stroke-linecap="square" stroke-opacity="0.55" d="M4374 637h0m4-7h0m16-15h0m23 20h0m10 3h0m6-12h0m3-18h0m-95 54h0m24-1h0m1-10h0m8 16h0m6-10h0m10 12h0m5 4h0m1-26h0m1-3h0m7 21h0m3-18h0m0 27h0m0 2h0m5-5h0m12-8h0m2-15h0m1 24h0m6-6h0m4-18h0m12 28h0m32-7h0m-142 32h0m5-17h0m0 12h0m3-5h0m1 18h0m1-16h0m0 18h0m2-15h0m1-2h0m1-1h0m1 9h0m1 15h0m1-6h0m3-10h0m12 3h0m6 0h0m0 2h0m2-14h0m0 12h0m2-10h0m0 11h0m1 14h0m2-19h0m2-7h0m2-4h0m5 3h0m0 11h0m2-16h0m2 12h0m1 10h0m5 8h0m2-6h0m2-17h0m1 1h0m0 15h0m1-11h0m2-4h0m0 16h0m1 0h0m7-1h0m1 8h0m2-4h0m1 0h0m1-19h0m2 6h0m7 5h0m4-17h0m3 18h0m3-2h0m1-8h0m0 8h0m1-22h0m1 2h0m2 9h0m1-13h0m12 13h0m0 14h0m7-12h0m1 8h0m0 13h0m1-37h0m0 23h0m18-1h0m6 12h0m41-21h0m15 22h0m-215 22h0m0 3h0m3-11h0m1 5h0m3-13h0m3 37h0m4-5h0m2-32h0m0 5h0m0 17h0m0 4h0m2-24h0m1 32h0m1-16h0m1 0h0m1 0h0m0 11h0m2-10h0m1-16h0m0 25h0m1-11h0m2 15h0m3-13h0m3-6h0m1-4h0m1 12h0m0 4h0m4-25h0m8 6h0m0 17h0m2-20h0m4 20h0m5-11h0m2-9h0m0 32h0m0 1h0m0 2h0m1-28h0m0 22h0m0 6h0m1-29h0m2 3h0m0 15h0m1 6h0m3-27h0m0 28h0m2-34h0m3-1h0m0 37h0m1-21h0m1 4h0m0 10h0m1-29h0m1 16h0m0 4h0m1-9h0m0 19h0m1-8h0m1-7h0m1 10h0m1 2h0m0 1h0m1-14h0m0 1h0m1 21h0m2-25h0m1 12h0m1 4h0m1-10h0m2 19h0m2-28h0m0 10h0m0 13h0m2-29h0m4 26h0m1-20h0m1 2h0m0 12h0m0 4h0m0 7h0m1-14h0m4-17h0m2 20h0m3-22h0m0 11h0m1 4h0m0 22h0m1-25h0m2 3h0m0 6h0m3 3h0m1-17h0m7-3h0m1 29h0m1 2h0m1-14h0m3-13h0m8 29h0m7-33h0m3 9h0m3-9h0m5 34h0m4-35h0m-164 63h0m3 2h0m1-20h0m2 16h0m6 2h0m2-8h0m1-3h0m5-7h0m1-1h0m1 9h0m0 7h0m2-10h0m0 9h0m1-13h0m0 14h0m9-20h0m0 5h0m0 15h0m0 10h0m1-3h0m1-25h0m1-1h0m0 13h0m1-8h0m3 14h0m2-8h0m2 12h0m1-21h0m7-7h0m0 24h0m2-6h0m0 10h0m1-7h0m1-10h0m1-9h0m0 1h0m1 12h0m3-10h0m5 17h0m0 13h0m0 4h0m1-35h0m0 7h0m1-3h0m2 8h0m1-9h0m1-2h0m3-1h0m3 9h0m1-12h0m2 5h0m0 11h0m3-2h0m3 22h0m1-15h0m0 17h0m2-27h0m0 10h0m2 1h0m1-21h0m1 35h0m4-4h0m1-18h0m3-2h0m1-8h0m0 24h0m2-9h0m1 7h0m6-27h0m0 1h0m1 3h0m5 22h0m1-14h0m5-10h0m6 17h0m7 10h0m0 3h0m2-23h0m4 30h0m1-38h0m1 15h0m5 21h0m2-6h0m2-12h0m5 10h0m0 4h0m1-33h0m0 6h0m12 23h0m16 4h0m28-5h0m-216 18h0m7-2h0m2 3h0m4 2h0m6-6h0m4 1h0m8-2h0m8 3h0m13 6h0m1-5h0m0 4h0m9-7h0m1 4h0m3 5h0m1-3h0m2-9h0m15 11h0m3-9h0m2 6h0m1-1h0m4-7h0m10 0h0m8 7h0m3 3h0m45-4h0m3-3h0"/>
<path transform="scale(.1)" fill="none" stroke="#6aa860" stroke-width="7.0" stroke-linecap="square" stroke-opacity="0.6" d="M4700 447h0m17 30h0m14 1h0m4-11h0m6-8h0m3 13h0m0 6h0m1-6h0m3 7h0m-62 6h0m10 17h0m3-8h0m1 8h0m12 13h0m1-23h0m0 20h0m2 2h0m1-16h0m2 16h0m2-5h0m7 6h0m0 3h0m3-15h0m4 13h0m2 1h0m1-29h0m3 27h0m8-34h0m0 24h0m2 14h0m5-25h0m0 25h0m1-25h0m3 21h0m1-33h0m0 13h0m5 24h0m7-18h0m7 8h0m3-27h0m1 36h0m5-19h0m8-11h0m15 17h0m-142 40h0m13-6h0m2 16h0m3-26h0m0 3h0m4-4h0m6 4h0m7-1h0m1-1h0m3 1h0m1-11h0m4 32h0m5-31h0m8 7h0m0 3h0m3-11h0m1 32h0m1-4h0m0 8h0m3-12h0m1-23h0m4 9h0m3-1h0m11 11h0m1-19h0m2 14h0m0 22h0m1-26h0m5 1h0m1 15h0m0 6h0m1-27h0m0 27h0m9-31h0m5-2h0m0 2h0m6-1h0m53 17h0m-152 43h0m10-9h0m41-2h0m5-6h0m5 10h0m13 0h0m10-13h0m13-1h0"/>
<path transform="scale(.1)" fill="none" stroke="#6aa860" stroke-width="7.0" stroke-linecap="square" stroke-opacity="0.45" d="M4606 553h0m-17 38h0m133-9h0m1-6h0m31 4h0m15-3h0m46 6h0m-215 51h0m70-33h0m13-1h0m25 2h0m49 35h0m-86 36h0m77-22h0m9 25h0m22-13h0m21-15h0m-108 56h0m42-8h0m17 10h0m39 1h0m-201 44h0m223 3h0m-221 42h0m16-34h0m61 4h0m31 23h0m30-13h0m6 21h0m29-9h0"/>
<line x1="432.20" y1="13.60" x2="507.50" y2="13.60" stroke="#666" stroke-width="0.8"/>
<line x1="507.50" y1="13.60" x2="507.50" y2="82.80" stroke="#666" stroke-width="0.8"/>
<line x1="432.20" y1="60.80" x2="507.50" y2="60.80" stroke="#5a5a5a" stroke-width="1.0"/>
<line x1="455.30" y1="13.60" x2="455.30" y2="82.80" stroke="#5a5a5a" stroke-width="1.0"/>
<line x1="432.50" y1="13.20" x2="432.50" y2="83.80" stroke="#000" stroke-width="2.0"/>
<line x1="431.60" y1="82.80" x2="508.00" y2="82.80" stroke="#000" stroke-width="2.0"/>
<path fill="none" stroke="#000" stroke-width="0.8" d="M429.60 15.10L432.20 15.10M429.60 32.20L432.20 32.20M429.60 49.20L432.20 49.20M429.60 66.10L432.20 66.10"/>
<path fill="none" stroke="#000" stroke-width="0.5" d="M431.00 27.05L432.20 27.05M431.00 24.04L432.20 24.04M431.00 21.90L432.20 21.90M431.00 20.25L432.20 20.25M431.00 18.89L432.20 18.89M431.00 17.75L432.20 17.75M431.00 16.76L432.20 16.76M431.00 15.88L432.20 15.88M431.00 44.08L432.20 44.08M431.00 41.09L432.20 41.09M431.00 38.96L432.20 38.96M431.00 37.32L432.20 37.32M431.00 35.97L432.20 35.97M431.00 34.83L432.20 34.83M431.00 33.85L432.20 33.85M431.00 32.98L432.20 32.98M431.00 61.01L432.20 61.01M431.00 58.04L432.20 58.04M431.00 55.93L432.20 55.93M431.00 54.29L432.20 54.29M431.00 52.95L432.20 52.95M431.00 51.82L432.20 51.82M431.00 50.84L432.20 50.84M431.00 49.97L432.20 49.97"/>
<text x="414.00" y="17.70" font-size="7.8" fill="#000" stroke="#000" stroke-width="0.12" textLength="8.5" lengthAdjust="spacingAndGlyphs">10</text>
<text x="422.75" y="14.60" font-size="4.4" fill="#000">3</text>
<text x="414.00" y="34.80" font-size="7.8" fill="#000" stroke="#000" stroke-width="0.12" textLength="8.5" lengthAdjust="spacingAndGlyphs">10</text>
<text x="422.75" y="31.70" font-size="4.4" fill="#000">2</text>
<text x="414.00" y="51.80" font-size="7.8" fill="#000" stroke="#000" stroke-width="0.12" textLength="8.5" lengthAdjust="spacingAndGlyphs">10</text>
<text x="422.75" y="48.70" font-size="4.4" fill="#000">1</text>
<text x="414.00" y="68.70" font-size="7.8" fill="#000" stroke="#000" stroke-width="0.12" textLength="8.5" lengthAdjust="spacingAndGlyphs">10</text>
<text x="422.75" y="65.60" font-size="4.4" fill="#000">0</text>
<path fill="none" stroke="#000" stroke-width="0.8" d="M445.49 83.80L445.49 85.00M446.94 83.80L446.94 85.00M448.17 83.80L448.17 85.00M449.23 83.80L449.23 85.00M450.16 83.80L450.16 85.00M451.00 83.80L451.00 86.00M456.51 83.80L456.51 85.00M459.73 83.80L459.73 85.00M462.02 83.80L462.02 85.00M463.79 83.80L463.79 85.00M465.24 83.80L465.24 85.00M466.47 83.80L466.47 85.00M467.53 83.80L467.53 85.00M468.46 83.80L468.46 85.00M469.30 83.80L469.30 86.00M474.81 83.80L474.81 85.00M478.03 83.80L478.03 85.00M480.32 83.80L480.32 85.00M482.09 83.80L482.09 85.00M483.54 83.80L483.54 85.00M484.77 83.80L484.77 85.00M485.83 83.80L485.83 85.00M486.76 83.80L486.76 85.00M487.60 83.80L487.60 86.00M493.11 83.80L493.11 85.00M496.33 83.80L496.33 85.00M498.62 83.80L498.62 85.00M500.39 83.80L500.39 85.00M501.84 83.80L501.84 85.00M503.07 83.80L503.07 85.00M504.13 83.80L504.13 85.00M505.06 83.80L505.06 85.00M505.90 83.80L505.90 86.00"/>
<text x="445.20" y="95.60" font-size="7.8" fill="#000" stroke="#000" stroke-width="0.12" textLength="8.5" lengthAdjust="spacingAndGlyphs">10</text>
<text x="453.95" y="92.50" font-size="4.4" fill="#000">0</text>
<text x="463.50" y="95.60" font-size="7.8" fill="#000" stroke="#000" stroke-width="0.12" textLength="8.5" lengthAdjust="spacingAndGlyphs">10</text>
<text x="472.25" y="92.50" font-size="4.4" fill="#000">1</text>
<text x="481.80" y="95.60" font-size="7.8" fill="#000" stroke="#000" stroke-width="0.12" textLength="8.5" lengthAdjust="spacingAndGlyphs">10</text>
<text x="490.55" y="92.50" font-size="4.4" fill="#000">2</text>
<text x="500.10" y="95.60" font-size="7.8" fill="#000" stroke="#000" stroke-width="0.12" textLength="8.5" lengthAdjust="spacingAndGlyphs">10</text>
<text x="508.85" y="92.50" font-size="4.4" fill="#000">3</text>
<text x="455.20" y="109.60" font-size="10.2" text-anchor="start" font-weight="bold" fill="#111" textLength="30.50" lengthAdjust="spacingAndGlyphs">CD19-PC7</text>
<text x="406.90" y="76.30" font-size="10.2" text-anchor="start" font-weight="bold" fill="#111" textLength="53.50" lengthAdjust="spacingAndGlyphs" transform="rotate(-90 406.90 76.30)">CD10-APC/AF750</text>
<text x="433.20" y="21.50" font-size="8.2" text-anchor="start" fill="#3a3a4e" textLength="22.15" lengthAdjust="spacingAndGlyphs">0.07%</text>
<text x="485.60" y="21.50" font-size="8.2" text-anchor="start" fill="#3a3a4e" textLength="22.15" lengthAdjust="spacingAndGlyphs">6.26%</text>
<text x="433.20" y="79.60" font-size="8.2" text-anchor="start" fill="#3a3a4e" textLength="26.50" lengthAdjust="spacingAndGlyphs">92.00%</text>
<text x="485.60" y="79.60" font-size="8.2" text-anchor="start" fill="#3a3a4e" textLength="22.15" lengthAdjust="spacingAndGlyphs">1.68%</text>
<path transform="scale(.1)" fill="none" stroke="#c41a1a" stroke-width="7.0" stroke-linecap="square" stroke-opacity="0.5" d="M1058 1294h0m-24 38h0m67 44h0m-141 33h0m40 21h0m30 9h0m30-13h0m20 0h0m34-17h0m56 3h0m-233 66h0m2-22h0m4 5h0m17 13h0m30-16h0m8 17h0m12-30h0m5-3h0m31 29h0m61-19h0m32 5h0m-179 36h0m12-9h0m14 24h0m15-13h0m48 19h0m12-22h0m3 12h0m-191 17h0m100 18h0m20-12h0m7 23h0m6-5h0m45 12h0m10-12h0m1-9h0m8 13h0m11-24h0m1 5h0m-266 35h0m97 19h0m6-4h0m62-10h0m11 25h0m2-1h0m19-4h0m18 4h0m1-24h0m0 9h0m14-14h0m51 15h0m19-14h0m5 4h0m3-4h0m140 17h0m-390 47h0m19 1h0m46 6h0m9-6h0m25-25h0m5 17h0m0 12h0m1-18h0m0 21h0m4-7h0m32-27h0m3 10h0m4 6h0m1 19h0m2-38h0m2 36h0m5-27h0m14 14h0m2 5h0m5-3h0m2 13h0m4-8h0m9 4h0m23-35h0m46 11h0m-271 68h0m4-10h0m7 1h0m23 9h0m47-13h0m5-14h0m6 3h0m1 0h0m3 21h0m8-22h0m27 19h0m11-26h0m0 3h0m2 27h0m1-19h0m3 14h0m13 0h0m4-28h0m2 3h0m5 16h0m9-9h0m10 8h0m2 2h0m11 7h0m14-8h0m1-8h0m1 3h0m7 16h0m7-9h0m3 11h0m36-23h0m4 10h0m46-1h0m-316 18h0m20 29h0m6-23h0m9 21h0m15-22h0m2 18h0m2-3h0m12 8h0m5-15h0m4 6h0m1 16h0m14-20h0m2-15h0m3 25h0m10-12h0m12 14h0m3-24h0m3 24h0m27-5h0m18-15h0m0 18h0m6-14h0m2-6h0m0 17h0m1-12h0m6 0h0m14 27h0m26-18h0m8-18h0m4 0h0m22 15h0m10-9h0m0 2h0m-244 67h0m10-34h0m0 1h0m4 25h0m3-12h0m22-12h0m2-3h0m7 13h0m10-8h0m3 11h0m6-17h0m25 12h0m3 2h0m1-4h0m3 12h0m5 10h0m0 0h0m7-11h0m2 5h0m8-8h0m15 0h0m9 7h0m1-13h0m13 25h0m23-24h0m15 3h0m0 13h0m20-24h0m35 21h0m-299 30h0m53 6h0m5-22h0m1 22h0m15-10h0m3-10h0m2 17h0m7 19h0m12-18h0m12-9h0m4-10h0m1 32h0m4-33h0m7 9h0m1 23h0m13-23h0m0 4h0m5-10h0m0 35h0m1-23h0m1 14h0m3 10h0m2-11h0m3 8h0m3-12h0m11-11h0m18 1h0m8 8h0m11 17h0m43-9h0m6-24h0m2 21h0m10-27h0m20 13h0m-259 27h0m40 9h0m28-6h0m36-1h0m3 32h0m23-25h0m0 20h0m2-13h0m2 1h0m3-15h0m3 29h0m2-17h0m29 20h0m13-13h0m8 6h0m30 4h0m6-26h0m47 12h0m18-8h0m-251 38h0m25 21h0m17-13h0m2-8h0m16 4h0m6 27h0m2-9h0m5-16h0m5 4h0m4 16h0m6-18h0m19-7h0m10 7h0m6 17h0m10-1h0m10 6h0m9-8h0m4 10h0m4-28h0m12-8h0m11 5h0m74 31h0m107-17h0m-379 33h0m2 1h0m8 16h0m7-12h0m58-5h0m4 8h0m1 5h0m17-8h0m4 19h0m9-35h0m2 25h0m4 7h0m6-25h0m8 19h0m15-20h0m4-10h0m9 28h0m43 6h0m-210 23h0m24 12h0m97 5h0m2-7h0m1-2h0m48-12h0m0 5h0m18 7h0m17-12h0m28 1h0m1 0h0"/>
<path transform="scale(.1)" fill="none" stroke="#c03030" stroke-width="6.0" stroke-linecap="square" stroke-opacity="0.45" d="M1241 1507h0m-94 33h0m46 8h0m-54 39h0m4 6h0m54-6h0m63-25h0m10 27h0m-117 16h0m0 12h0m15-11h0m1 4h0m19-5h0m13 16h0m12-17h0m4 29h0m51-20h0m-147 51h0m27 13h0m10-28h0m118 22h0m7-31h0m7 2h0m-89 69h0m80-29h0m-160 66h0m91-28h0m3 13h0m-64 65h0m51-7h0m-16 42h0m33-2h0m19-23h0m52-7h0m5 17h0m-172 41h0m75-9h0m18 11h0m20-13h0m11 9h0m23 13h0m16-11h0m-20 25h0m26 7h0m5 19h0m-151 10h0m15 22h0m10-4h0m7-15h0m25 13h0"/>
<path transform="scale(.1)" fill="none" stroke="#c81c1c" stroke-width="7.0" stroke-linecap="square" stroke-opacity="0.55" d="M987 1357h0m52 1h0m21-2h0m9-2h0m46 3h0m-193 8h0m20 28h0m14-24h0m5 27h0m10-9h0m8 0h0m0 1h0m9-6h0m5 3h0m7-19h0m7 13h0m0 6h0m5-2h0m2-2h0m2 1h0m3-11h0m0 9h0m2-2h0m4-1h0m4-15h0m5 5h0m0 9h0m3-3h0m2 3h0m0 4h0m7-17h0m10 14h0m4 1h0m1 4h0m1-2h0m6 0h0m10-9h0m0 3h0m5 15h0m3-13h0m2 18h0m2 0h0m2-3h0m0 0h0m1 3h0m4-15h0m3 19h0m1-10h0m1 10h0m3-27h0m-180 54h0m2-12h0m2 14h0m5 1h0m12 10h0m3-18h0m5-14h0m3-5h0m1 0h0m135-1h0m3 5h0m2 5h0m2-3h0m3 25h0m1-21h0m0 1h0m0 10h0m5 7h0m2-21h0m3 17h0m14 10h0m-227 19h0m7-8h0m8 21h0m3-9h0m12 2h0m1 8h0m1-24h0m0 5h0m0 16h0m2 14h0m2-17h0m1-22h0m0 24h0m3-19h0m2-3h0m166 21h0m2-4h0m1-16h0m1 13h0m2 3h0m0 18h0m5-31h0m5 27h0m-206 28h0m3 13h0m3 0h0m7 2h0m2-31h0m1 5h0m0 22h0m1-15h0m1 0h0m178-2h0m4 6h0m1-13h0m0 16h0m1-2h0m0 2h0m0 7h0m1-3h0m1-25h0m0 1h0m1 11h0m0 19h0m2-25h0m21 26h0m2-26h0m-240 51h0m1 18h0m3-18h0m11 17h0m2-28h0m2 2h0m0 3h0m0 12h0m1-23h0m0 23h0m1-7h0m4-1h0m183-17h0m1 11h0m2 23h0m2-1h0m1-15h0m1 14h0m6-20h0m0 4h0m10 6h0m9 12h0m22-12h0m-261 18h0m9 28h0m6-19h0m0 2h0m1 8h0m0 16h0m1-33h0m1 19h0m1 1h0m189 2h0m2-24h0m2 8h0m0 12h0m0 0h0m2-18h0m0 1h0m0 29h0m0 5h0m5 0h0m2-20h0m6-6h0m1-8h0m2 34h0m2-7h0m15 1h0m2 4h0m11 1h0m-274 18h0m9 19h0m9-9h0m8-6h0m1-16h0m0 3h0m0 10h0m1-1h0m0 8h0m1 11h0m1-25h0m0 8h0m2 1h0m195-4h0m0 9h0m0 9h0m1-32h0m3 2h0m1 14h0m7 10h0m-229 26h0m5 3h0m1-10h0m4 19h0m4-18h0m3 30h0m1-32h0m1 10h0m196 12h0m2 3h0m1 1h0m7 3h0m3-7h0m8 1h0m-250 49h0m4 3h0m1-24h0m2 7h0m5-9h0m15 22h0m1 3h0m4-31h0m0 1h0m0 5h0m3-9h0m0 35h0m2-12h0m192-15h0m1 7h0m1-7h0m1 6h0m2-8h0m1-1h0m1 16h0m0 4h0m3-18h0m1 7h0m-231 51h0m3 6h0m2-19h0m1 5h0m2-17h0m16-3h0m4 31h0m2 3h0m187-26h0m0 15h0m0 12h0m1 2h0m1-18h0m2-20h0m2 27h0m3-19h0m1 25h0m2-12h0m1-6h0m9-6h0m2 15h0m7-20h0m7 31h0m-248 38h0m9-10h0m6-4h0m5-7h0m2-10h0m0 25h0m1-13h0m0 6h0m1 11h0m4 1h0m174 5h0m2-5h0m1-1h0m0 7h0m4-18h0m1 19h0m15-7h0m1 6h0m-209 15h0m9-3h0m1 4h0m0 4h0m1 12h0m2-16h0m1 5h0m0 19h0m0 0h0m169-17h0m1 15h0m1-26h0m3-2h0m0 7h0m2-1h0m3-13h0m2 10h0m2 9h0m4 8h0m-220 45h0m5-8h0m8-2h0m3 9h0m3-11h0m3-11h0m3 12h0m1 13h0m8-35h0m0 6h0m0 4h0m0 4h0m1 12h0m1-25h0m1 17h0m0 10h0m0 4h0m1-3h0m0 10h0m163-29h0m8 16h0m1-9h0m5-3h0m8 1h0m3-7h0m1 7h0m9 24h0m-228 27h0m5 0h0m17-25h0m5 25h0m0 6h0m5-17h0m1 10h0m1 7h0m0 6h0m1-10h0m2-11h0m145 15h0m1 4h0m1-33h0m0 17h0m0 11h0m0 2h0m2-29h0m1 33h0m14-19h0m2-18h0m3 8h0m-212 39h0m21 23h0m11-28h0m3 15h0m0 2h0m1-7h0m1-9h0m0 1h0m1 2h0m0 16h0m0 12h0m1-15h0m2 12h0m3 2h0m12 0h0m131-9h0m1 0h0m2-16h0m2 9h0m0 8h0m1-18h0m14 13h0m20 2h0m8-19h0"/>
<path d="M95.00 141.00L95.32 140.32L95.67 139.77L96.03 139.34L96.41 139.00L96.80 138.75L97.22 138.56L97.65 138.43L98.09 138.33L98.55 138.26L99.02 138.19L99.51 138.11L100.00 138.00L100.52 137.88L101.09 137.77L101.68 137.67L102.30 137.59L102.93 137.53L103.56 137.50L104.19 137.49L104.81 137.52L105.41 137.58L105.98 137.68L106.52 137.82L107.00 138.00L107.45 138.21L107.87 138.43L108.27 138.66L108.65 138.93L109.01 139.22L109.34 139.56L109.66 139.95L109.96 140.41L110.25 140.93L110.51 141.53L110.76 142.22L111.00 143.00L111.22 143.89L111.42 144.89L111.60 145.98L111.76 147.15L111.90 148.39L112.03 149.69L112.14 151.03L112.24 152.41L112.32 153.80L112.39 155.21L112.45 156.61L112.50 158.00L112.53 159.41L112.55 160.88L112.55 162.41L112.54 163.96L112.51 165.54L112.47 167.12L112.42 168.70L112.35 170.26L112.28 171.78L112.19 173.25L112.10 174.67L112.00 176.00L111.88 177.28L111.74 178.53L111.58 179.75L111.41 180.94L111.22 182.10L111.03 183.21L110.84 184.29L110.65 185.33L110.46 186.32L110.29 187.26L110.14 188.16L110.00 189.00L109.92 189.80L109.92 190.55L109.97 191.25L110.06 191.92L110.15 192.54L110.22 193.11L110.25 193.64L110.22 194.13L110.11 194.56L109.88 194.96L109.52 195.30L109.00 195.60L108.27 195.85L107.33 196.06L106.21 196.22L104.96 196.33L103.63 196.40L102.25 196.43L100.87 196.40L99.54 196.33L98.29 196.22L97.17 196.06L96.23 195.85L95.50 195.60L94.98 195.31L94.62 194.98L94.39 194.61L94.28 194.20L94.25 193.74L94.28 193.24L94.35 192.68L94.44 192.07L94.53 191.40L94.58 190.66L94.58 189.87L94.50 189.00L94.36 188.05L94.20 187.02L94.02 185.91L93.83 184.73L93.64 183.50L93.44 182.21L93.24 180.89L93.06 179.53L92.88 178.16L92.73 176.77L92.60 175.38L92.50 174.00L92.42 172.60L92.36 171.14L92.30 169.64L92.26 168.11L92.23 166.56L92.22 165.00L92.22 163.44L92.24 161.89L92.28 160.36L92.33 158.86L92.41 157.40L92.50 156.00L92.61 154.61L92.74 153.19L92.89 151.76L93.06 150.33L93.24 148.93L93.44 147.56L93.65 146.25L93.89 145.00L94.14 143.84L94.41 142.77L94.70 141.82Z" fill="url(#g_b1s)" filter="url(#rough)"/>
<path transform="scale(.1)" fill="none" stroke="#c01e1e" stroke-width="7.0" stroke-linecap="square" stroke-opacity="0.55" d="M953 1373h0m14 25h0m3-10h0m1 4h0m2 0h0m0 3h0m1-3h0m2-18h0m1-1h0m1 9h0m2 9h0m1-12h0m0 3h0m1-7h0m1 6h0m3-9h0m3-1h0m2 26h0m4-9h0m1-19h0m20-2h0m7 17h0m1-12h0m16 2h0m0 12h0m1-16h0m8 5h0m3 7h0m2-14h0m7-3h0m2 31h0m11-21h0m13 21h0m1-16h0m-154 53h0m2-30h0m2 28h0m1 7h0m2-21h0m3 1h0m0 7h0m4-17h0m4 23h0m6 1h0m3-1h0m2-23h0m1-1h0m7-5h0m120-2h0m0 5h0m1-3h0m1-2h0m2 17h0m0 9h0m2-21h0m1 28h0m1-2h0m1-4h0m2 3h0m1-25h0m3 18h0m1-14h0m2 7h0m5 2h0m1 14h0m-195 23h0m3 10h0m2 1h0m0 5h0m4 0h0m2 6h0m1-33h0m5 17h0m0 9h0m1 3h0m6 4h0m8-34h0m154 3h0m4 24h0m1 8h0m6-25h0m1-7h0m3 8h0m-208 37h0m3-4h0m7-5h0m0 1h0m1 5h0m1-6h0m3 0h0m5 13h0m2 1h0m1-16h0m1 0h0m176 37h0m7-17h0m2 15h0m1-30h0m0 29h0m2-20h0m0 10h0m6-16h0m2 3h0m-222 43h0m3 24h0m3-35h0m3 8h0m3-5h0m2 27h0m1-15h0m2 0h0m6-15h0m3 16h0m3-11h0m15-8h0m170 4h0m2 26h0m3 8h0m1-7h0m1-25h0m0 30h0m-221 38h0m7-21h0m16 11h0m1-15h0m174-6h0m2 5h0m3-1h0m12 24h0m7-13h0m4 19h0m-220 26h0m1-23h0m0 6h0m1-3h0m0 32h0m5-29h0m0 10h0m2-12h0m0 21h0m2-5h0m0 15h0m1-29h0m1 28h0m7 2h0m173-32h0m10 17h0m6 2h0m1-2h0m3 3h0m-218 49h0m5-25h0m0 29h0m1-28h0m7 26h0m4-31h0m4 29h0m2-3h0m12-25h0m163 15h0m5-4h0m5-4h0m2 27h0m3-32h0m0 18h0m1-17h0m0 1h0m3 26h0m4-30h0m-219 64h0m6-23h0m0 29h0m2-7h0m1 0h0m1-19h0m0 24h0m1 6h0m1-32h0m0 6h0m1 12h0m0 4h0m1 3h0m2-23h0m1 1h0m0 19h0m3 6h0m178-17h0m7-18h0m1 39h0m4-26h0m3 10h0m4-22h0m2 20h0m-222 40h0m4 11h0m1-13h0m4-1h0m2-3h0m6 10h0m3-22h0m0 29h0m174 3h0m9-1h0m1-28h0m1-3h0m0 4h0m1 0h0m0 21h0m1-14h0m4-14h0m0 2h0m0 29h0m1 6h0m-204 13h0m5 12h0m1-10h0m2-3h0m2 8h0m0 9h0m2 2h0m1-22h0m1-2h0m0 21h0m4 9h0m4-14h0m8 5h0m150 9h0m7-21h0m6 20h0m1-20h0m0 4h0m3 1h0m2 19h0m1-33h0m4-3h0m2 26h0m3 11h0m8-17h0m-213 41h0m4-6h0m4 20h0m1-11h0m2 4h0m2-25h0m0 3h0m4 2h0m0 13h0m1-2h0m11-8h0m0 22h0m1-12h0m148 4h0m3-25h0m1 24h0m1-16h0m1 23h0m6-21h0m2 14h0m1-11h0m4-6h0m0 26h0m-185 26h0m2-3h0m2 10h0m1 6h0m0 1h0m6-16h0m2-6h0m4 8h0m7 7h0m132-11h0m4 10h0m9 11h0m2-31h0m9 12h0m4 16h0m-186 42h0m2-30h0m1 24h0m10-18h0m1 8h0m6 5h0m3 13h0m6-23h0m1 18h0m125-14h0m8 16h0m3-26h0m3 15h0m3 2h0m12 13h0m-187 22h0m13-6h0m2-2h0m2-7h0m5-1h0m2 23h0m5-4h0m6 0h0m2 9h0m2-4h0m6-8h0m15 12h0m87 0h0m7-4h0m2-6h0m3 9h0m1-24h0m0 26h0m1-30h0m5 9h0m5 15h0m1-24h0m0 20h0m2-16h0m1 5h0m0 18h0m6-13h0m2-8h0"/>
<path transform="scale(.1)" fill="none" stroke="#333" stroke-width="7.0" stroke-linecap="square" stroke-opacity="0.35" d="M1115 1359h0m-148 19h0m7-8h0m4 17h0m1-20h0m28-3h0m3 20h0m3-19h0m3 16h0m7-6h0m0 8h0m4-11h0m41 12h0m4 3h0m16-18h0m4 26h0m21-25h0m2 12h0m-217 48h0m29 8h0m7 1h0m15-25h0m142 20h0m3-33h0m5 10h0m3-10h0m1 32h0m2-23h0m6 28h0m3-30h0m0 18h0m5 4h0m-213 45h0m7-2h0m5 1h0m7-2h0m6-17h0m180 17h0m11-21h0m0 23h0m20 2h0m7 3h0m-233 30h0m12-11h0m3-12h0m3-3h0m1 14h0m5 0h0m0 12h0m166-26h0m1 0h0m9 15h0m4-2h0m1 1h0m2 18h0m18-2h0m-236 42h0m12-7h0m8-21h0m1 23h0m5 2h0m1-29h0m15-1h0m168 3h0m5 18h0m4-10h0m10-10h0m2 8h0m-218 58h0m4-5h0m1-14h0m14-4h0m164 21h0m9-13h0m3 14h0m2 9h0m7-23h0m6-14h0m2 34h0m0 2h0m3-6h0m3-10h0m6-10h0m1 18h0m1 2h0m3 4h0m-243 39h0m6-8h0m8-19h0m1 13h0m3 18h0m4-4h0m7-7h0m6 12h0m179-14h0m2 0h0m21 11h0m8-10h0m-248 45h0m4-7h0m4-11h0m3-6h0m1 27h0m10-15h0m0 19h0m1-26h0m1 1h0m3 7h0m11 19h0m171-13h0m6 14h0m3-8h0m0 5h0m2-4h0m12-25h0m10 6h0m9 1h0m8 6h0m-270 45h0m3 5h0m14-1h0m6 3h0m2-25h0m1-4h0m1 16h0m3 16h0m6-16h0m3-11h0m2 31h0m1-8h0m178-10h0m6-2h0m1-3h0m10 5h0m3-8h0m4 7h0m2 15h0m3-2h0m4-18h0m1 21h0m-240 38h0m6-25h0m6 11h0m2 18h0m15-1h0m4-29h0m11 10h0m167 6h0m1-10h0m3-9h0m4 24h0m2 2h0m1-19h0m7 21h0m-232 33h0m11-24h0m6 8h0m1 17h0m4 0h0m1 0h0m7-8h0m0 4h0m2-12h0m0 22h0m4-27h0m173 2h0m3 7h0m2-14h0m1 19h0m6 15h0m1-18h0m5 15h0m2-30h0m2 6h0m-216 33h0m12 21h0m3-10h0m4 14h0m2-17h0m1 18h0m3 0h0m5-5h0m4-12h0m154 9h0m2 9h0m4-5h0m0 3h0m1-1h0m4-8h0m0 22h0m1-23h0m9-12h0m2 8h0m11 20h0m8-20h0m-237 55h0m2 1h0m8 6h0m11 5h0m4-4h0m8-27h0m2 18h0m7 6h0m2 4h0m132-16h0m11-7h0m1 13h0m13 12h0m2-2h0m8-30h0m1 6h0m1 5h0m1-4h0m-203 40h0m8 7h0m6 17h0m1-31h0m10 26h0m2-15h0m9 6h0m0 5h0m131-24h0m6 20h0m11-18h0m12 12h0m2-6h0m-193 31h0m11 1h0m4 26h0m4-12h0m4 3h0m2 5h0m40 3h0m28 5h0m58-17h0m11 1h0m4-18h0m0 1h0m1 13h0m2 17h0m1-29h0m0 7h0m3-2h0m1 20h0m13 0h0m0 7h0"/>
<path transform="scale(.1)" fill="none" stroke="#333" stroke-width="7.0" stroke-linecap="square" stroke-opacity="0.45" d="M916 1196h0m6-3h0m74 5h0m24-1h0m10 0h0m-148 40h0m6-20h0m18 15h0m2 4h0m0 1h0m8-26h0m7 24h0m5-14h0m0 16h0m3-7h0m6 2h0m4-5h0m9-10h0m4-17h0m9 24h0m1-21h0m5 17h0m3 1h0m1 3h0m3-4h0m1-13h0m1-3h0m0 12h0m4 2h0m1-10h0m2 14h0m1-4h0m0 1h0m9-1h0m1-16h0m0 18h0m1-2h0m2 4h0m2-2h0m2-12h0m3 0h0m0 11h0m3 0h0m2-11h0m2 13h0m1 7h0m1-9h0m1 4h0m5-1h0m0 1h0m1 0h0m3-12h0m5 15h0m3 3h0m1-20h0m2 24h0m4 0h0m2 0h0m1-1h0m0 4h0m2 0h0m3 3h0m2-6h0m0 6h0m2-21h0m10 3h0m13 9h0m10 7h0m4-11h0m4 7h0m7-26h0m4 14h0m1 15h0m2-17h0m19 13h0m1 3h0m25 0h0m30 3h0m20 1h0m-340 27h0m2 6h0m6-24h0m1 0h0m15 14h0m12 14h0m1-35h0m1 27h0m0 2h0m1 7h0m1-13h0m0 12h0m2-17h0m1-5h0m0 1h0m2-4h0m0 12h0m1-17h0m0 2h0m0 5h0m0 2h0m0 4h0m1-10h0m2-4h0m0 5h0m5-9h0m133 2h0m1-1h0m6 10h0m3 2h0m2-1h0m0 1h0m7 7h0m1 3h0m1-3h0m1 3h0m2-3h0m1 3h0m6-9h0m3-12h0m0 25h0m0 1h0m2-19h0m5-8h0m1 7h0m0 8h0m2-5h0m1 18h0m5 4h0m1-27h0m0 25h0m6-32h0m1 25h0m7 9h0m2-3h0m1 1h0m1-29h0m3 26h0m7-5h0m1 9h0m1 0h0m2-22h0m0 20h0m0 0h0m2 1h0m7-3h0m3 3h0m5-21h0m0 21h0m1 2h0m1-2h0m0 3h0m2-35h0m1 0h0m4 30h0m1-27h0m1 27h0m5-22h0m1 24h0m7-7h0m2 2h0m8 12h0m5-6h0m5-23h0m9 10h0m4 5h0m1-3h0m1 15h0m1-11h0m16 0h0m9 6h0m8-2h0m3-30h0m-393 65h0m29-6h0m7-10h0m1 6h0m6 5h0m0 15h0m0 3h0m1-31h0m0 25h0m1-29h0m1 12h0m0 1h0m0 21h0m1-19h0m0 18h0m293-34h0m4-1h0m4 7h0m3-6h0m1 7h0m3-3h0m0 3h0m6-6h0m0 7h0m2-1h0m0 1h0m0 0h0m5 2h0m0 3h0m3-12h0m1 15h0m2 7h0m4-5h0m2 5h0m4 0h0m2-2h0m0 4h0m1-25h0m0 18h0m0 6h0m0 1h0m0 1h0m3 1h0m1 4h0m1 3h0m1-15h0m1-7h0m1 9h0m3 12h0m0 4h0m2-35h0m0 21h0m3-12h0m1 26h0m17-6h0m10 3h0m3-24h0m37 26h0m-478 10h0m5 15h0m20 1h0m3-15h0m6 6h0m9-7h0m1 10h0m4 20h0m4-37h0m2 16h0m5 10h0m1 5h0m1 5h0m1-4h0m0 4h0m1-14h0m342-21h0m3 2h0m3 5h0m2 1h0m4 11h0m1-20h0m0 13h0m2 6h0m0 2h0m0 6h0m1-1h0m1 12h0m2-24h0m0 18h0m1 1h0m4-33h0m1 7h0m7 9h0m1 7h0m6-6h0m28-10h0m-468 37h0m28 0h0m6 8h0m0 15h0m5-1h0m3-27h0m2 29h0m7-21h0m7-2h0m2-5h0m2 25h0m0 13h0m1-37h0m0 4h0m1 20h0m3 5h0m1-2h0m3-15h0m2 1h0m3 4h0m0 0h0m1 0h0m4-4h0m1 4h0m2 2h0m0 1h0m1 4h0m4 13h0m5-8h0m5 3h0m2-4h0m0 5h0m3-2h0m1-1h0m1 2h0m12 5h0m5 0h0m10-1h0m11 1h0m6-1h0m12 0h0m256-34h0m2 33h0m1-24h0m1 5h0m1 0h0m0 16h0m0 3h0m0 2h0m1-32h0m1 5h0m0 17h0m4-16h0m10 23h0m3-15h0m2-13h0m1 2h0m5 29h0m1-11h0m2 11h0m7-33h0m2-3h0m18 7h0m-432 33h0m20 20h0m3-7h0m20-9h0m0 18h0m10-18h0m18-4h0m4 19h0m0 16h0m5-20h0m1 3h0m4-21h0m2 2h0m10 11h0m2-7h0m2 7h0m0 18h0m1-10h0m0 7h0m6-20h0m3 0h0m1-1h0m1-5h0m0 32h0m6-33h0m1 3h0m1 11h0m2-12h0m1 36h0m2-34h0m2-1h0m0 35h0m2-33h0m5 8h0m1-8h0m2 29h0m3-10h0m10-13h0m1-1h0m11 10h0m0 0h0m1-2h0m1-3h0m0 6h0m0 0h0m0 16h0m11-9h0m2 3h0m2 0h0m0 3h0m1 2h0m0 0h0m188 2h0m0 0h0m2-15h0m0 3h0m0 0h0m0 1h0m0 4h0m1-1h0m1-10h0m0 12h0m1-11h0m1-7h0m2-15h0m0 2h0m1 12h0m1 9h0m0 11h0m7-18h0m3-6h0m10 22h0m8-15h0m5-5h0m11 10h0m-344 50h0m11-27h0m19 5h0m7 7h0m5 0h0m5 13h0m5-4h0m1-9h0m3-1h0m3 10h0m1 12h0m6-30h0m14 2h0m1 3h0m0 26h0m6-26h0m3-13h0m0 7h0m1 14h0m1 11h0m1-29h0m2 6h0m0 13h0m10-19h0m2 2h0m1-4h0m0 6h0m0 15h0m2-17h0m0 4h0m4-1h0m0 5h0m2 5h0m1 20h0m3-14h0m1-1h0m2 5h0m0 1h0m145 6h0m10-9h0m1-19h0m0 10h0m2 20h0m1-19h0m0 2h0m1 7h0m1 11h0m10-34h0m2 20h0m11-6h0m1-13h0m1 20h0m1-14h0m8-2h0m5 24h0m25-23h0m-281 34h0m0 15h0m35-18h0m17 35h0m6-11h0m6-25h0m1 20h0m2-18h0m2 0h0m0 2h0m3 3h0m2-4h0m1 0h0m1 3h0m0 2h0m1 10h0m6-3h0m1-1h0m2-1h0m0 3h0m2 2h0m2-8h0m3 4h0m3 18h0m12-6h0m2-3h0m0 4h0m4-2h0m9 11h0m2-7h0m2 2h0m1-1h0m1-2h0m1 7h0m6-5h0m2-4h0m1 4h0m3 1h0m4-3h0m9-3h0m4 1h0m2-4h0m5 1h0m4-1h0m6-9h0m0 6h0m5-14h0m2 10h0m1-2h0m4-4h0m0 4h0m5-6h0m2-2h0m0 1h0m1 0h0m0 1h0m1-3h0m1 0h0m0 1h0m1 31h0m3-32h0m5 2h0m8 14h0m9-12h0m0 21h0m2-21h0m12 16h0m9-7h0m26-6h0m16 10h0m-268 31h0m40-9h0m11 26h0m11-14h0m3-10h0m2-2h0m1 4h0m0 2h0m24 7h0m0 9h0m17-15h0m9 14h0m5-19h0m3 4h0m2 7h0m4 18h0m2-33h0m22-1h0m9 4h0"/>
<path d="M89.50 129.00L89.55 128.52L89.62 128.05L89.71 127.58L89.81 127.12L89.94 126.67L90.09 126.23L90.27 125.81L90.46 125.40L90.68 125.02L90.93 124.65L91.20 124.31L91.50 124.00L91.83 123.71L92.21 123.44L92.62 123.19L93.06 122.95L93.52 122.74L94.00 122.54L94.50 122.37L95.00 122.21L95.51 122.08L96.01 121.97L96.51 121.87L97.00 121.80L97.49 121.75L97.99 121.72L98.51 121.71L99.04 121.71L99.57 121.74L100.09 121.79L100.62 121.86L101.13 121.95L101.63 122.06L102.11 122.19L102.57 122.33L103.00 122.50L103.41 122.70L103.79 122.95L104.16 123.23L104.52 123.54L104.86 123.88L105.19 124.22L105.51 124.56L105.81 124.90L106.12 125.22L106.41 125.52L106.71 125.78L107.00 126.00L107.28 126.18L107.52 126.35L107.75 126.49L107.96 126.62L108.17 126.73L108.38 126.83L108.59 126.92L108.81 126.99L109.06 127.05L109.34 127.11L109.65 127.16L110.00 127.20L110.39 127.22L110.82 127.22L111.28 127.19L111.76 127.14L112.26 127.08L112.78 127.02L113.31 126.96L113.85 126.92L114.39 126.89L114.94 126.89L115.47 126.93L116.00 127.00L116.53 127.10L117.08 127.23L117.64 127.36L118.20 127.52L118.77 127.70L119.34 127.89L119.91 128.11L120.46 128.34L121.00 128.60L121.53 128.88L122.03 129.18L122.50 129.50L122.96 129.85L123.42 130.21L123.87 130.61L124.31 131.02L124.74 131.45L125.16 131.91L125.55 132.38L125.91 132.87L126.24 133.38L126.53 133.90L126.79 134.44L127.00 135.00L127.17 135.59L127.30 136.21L127.40 136.87L127.46 137.56L127.50 138.26L127.50 138.97L127.48 139.68L127.43 140.39L127.35 141.08L127.25 141.75L127.14 142.40L127.00 143.00L126.84 143.58L126.65 144.16L126.44 144.73L126.20 145.30L125.94 145.84L125.66 146.38L125.35 146.88L125.02 147.37L124.67 147.83L124.30 148.25L123.91 148.65L123.50 149.00L123.06 149.32L122.58 149.62L122.07 149.89L121.54 150.13L120.98 150.34L120.41 150.53L119.82 150.69L119.24 150.81L118.66 150.91L118.09 150.97L117.53 151.00L117.00 151.00L116.48 150.96L115.95 150.88L115.42 150.76L114.89 150.61L114.36 150.43L113.84 150.22L113.33 149.98L112.83 149.72L112.35 149.44L111.88 149.14L111.43 148.83L111.00 148.50L110.60 148.14L110.23 147.72L109.88 147.27L109.56 146.78L109.24 146.27L108.94 145.75L108.64 145.23L108.33 144.72L108.02 144.23L107.70 143.78L107.36 143.36L107.00 143.00L106.62 142.68L106.25 142.39L105.87 142.13L105.48 141.89L105.09 141.67L104.69 141.47L104.28 141.28L103.85 141.11L103.41 140.95L102.96 140.80L102.49 140.65L102.00 140.50L101.48 140.37L100.92 140.28L100.33 140.21L99.72 140.17L99.10 140.13L98.47 140.09L97.84 140.05L97.22 140.00L96.62 139.93L96.05 139.82L95.50 139.68L95.00 139.50L94.53 139.28L94.06 139.04L93.62 138.77L93.19 138.48L92.77 138.17L92.38 137.84L92.00 137.50L91.65 137.13L91.32 136.75L91.02 136.35L90.74 135.93L90.50 135.50L90.28 135.04L90.10 134.54L89.93 134.02L89.80 133.46L89.68 132.89L89.59 132.31L89.53 131.73L89.48 131.15L89.46 130.58L89.45 130.03L89.47 129.50Z" fill="url(#g_b1g)" filter="url(#rough)"/>
<path transform="scale(.1)" fill="none" stroke="#666" stroke-width="7.0" stroke-linecap="square" stroke-opacity="0.35" d="M988 1196h0m36-1h0m-117 39h0m7-4h0m3 4h0m8-3h0m7-4h0m4 7h0m3-1h0m28-19h0m11 2h0m4-12h0m3 7h0m2 3h0m3 10h0m1 0h0m2-1h0m11-18h0m4 6h0m1 15h0m0 4h0m3 2h0m1-9h0m1-15h0m4 14h0m2 10h0m0 1h0m1-2h0m7-9h0m1 9h0m6 3h0m2-19h0m0 10h0m2-10h0m1 9h0m0 2h0m1-19h0m2 16h0m1 4h0m1 9h0m1 0h0m5-18h0m-171 26h0m13 22h0m3-2h0m0 4h0m7 3h0m6-6h0m1-5h0m1-2h0m2 10h0m2-13h0m121-8h0m2-4h0m7 2h0m3 6h0m4-9h0m7 4h0m0 7h0m10 13h0m3 8h0m30-18h0m3-2h0m6 9h0m2 2h0m7-1h0m1 13h0m2-29h0m0 18h0m14-15h0m4 13h0m4 14h0m4-7h0m9-20h0m12 21h0m2-5h0m1 3h0m3 6h0m8-1h0m9 0h0m11-3h0m8 5h0m8-10h0m1 9h0m7 0h0m-357 27h0m7-13h0m0 20h0m5 7h0m3-20h0m3 10h0m2 3h0m0 4h0m4-11h0m2 7h0m1-13h0m1 21h0m0 1h0m1-8h0m1-15h0m0 7h0m4 11h0m17-9h0m153-13h0m5-3h0m6-9h0m1 16h0m29-12h0m1 2h0m2 2h0m16-5h0m25-1h0m15-2h0m5 3h0m16 13h0m4-4h0m3-3h0m13 1h0m7 10h0m1-5h0m3 2h0m0 1h0m4-7h0m0 9h0m2-4h0m0 10h0m19 11h0m-365 21h0m10 13h0m1-22h0m3 14h0m4 10h0m6 2h0m2-19h0m339 19h0m1-24h0m2 16h0m1-18h0m4 1h0m0 19h0m3-17h0m4 8h0m3 10h0m-383 20h0m10-2h0m8 0h0m0 18h0m5-18h0m4 18h0m10-23h0m0 31h0m1-10h0m0 1h0m2 3h0m2 7h0m2-19h0m2 10h0m8 8h0m6-1h0m18-12h0m19 12h0m8 1h0m4 1h0m1-9h0m6 8h0m11-17h0m0 3h0m15 12h0m228-9h0m5 1h0m2-23h0m3 29h0m2-27h0m2 15h0m1-2h0m1-6h0m3-10h0m0 21h0m3-17h0m2 25h0m3-23h0m6 14h0m4 4h0m-373 16h0m42 2h0m10-1h0m7 0h0m5 0h0m7 30h0m2-9h0m16-18h0m2-2h0m0 17h0m1-9h0m6 8h0m1-9h0m2 2h0m5 1h0m1-4h0m12 13h0m4 3h0m3-13h0m1 0h0m1 14h0m5-3h0m4 0h0m3 6h0m1 7h0m2-4h0m1 4h0m2-9h0m13 0h0m3 4h0m2-5h0m3 2h0m164 4h0m3-17h0m3 2h0m8-10h0m1 15h0m1 1h0m0 3h0m2 6h0m2-2h0m2 2h0m5-14h0m3 1h0m3-9h0m1-9h0m6 17h0m-227 24h0m4 6h0m1-4h0m2 0h0m8 5h0m4 8h0m1-5h0m2 1h0m4 19h0m4-19h0m0 4h0m1 7h0m1 7h0m4-5h0m7-17h0m1 23h0m6-23h0m6 19h0m117 5h0m6 2h0m2 1h0m3-20h0m6 1h0m5-15h0m0 12h0m5 14h0m4-27h0m0 34h0m6-34h0m-168 41h0m3 5h0m0 11h0m14-3h0m2 23h0m2-17h0m2 8h0m1-9h0m1 0h0m9 2h0m1-3h0m1 13h0m5-9h0m5-9h0m3 6h0m7 10h0m4 7h0m1-7h0m0 5h0m3-21h0m3 15h0m1-7h0m2 14h0m5 2h0m10-18h0m9 1h0m11 4h0m2-7h0m4 6h0m2-7h0m3 6h0m1-12h0m8 20h0m2-28h0m4 19h0m4-15h0m27-4h0m-136 43h0m39 8h0m24-12h0m0 1h0"/>
<ellipse cx="118" cy="139.5" rx="7" ry="8" fill="url(#g_b1h)" opacity="0.75"/>
<ellipse cx="96.5" cy="130.5" rx="6.5" ry="5" transform="rotate(-35 96.5 130.5)" fill="url(#g_b1k)" opacity="0.85"/>
<path transform="scale(.1)" fill="none" stroke="#c02020" stroke-width="7.0" stroke-linecap="square" stroke-opacity="0.4" d="M1123 1353h0m-190 38h0m33-22h0m3 12h0m13 4h0m1-19h0m8 31h0m6-5h0m5-8h0m5-15h0m0 28h0m7 0h0m4-7h0m6-12h0m3-6h0m0 20h0m25-6h0m0 5h0m5-30h0m6 35h0m13-5h0m7-2h0m14-23h0m26 31h0m4-35h0m33 33h0m-248 22h0m16 5h0m21 7h0m12 5h0m7-12h0m1 10h0m3-9h0m1-5h0m1-13h0m4 30h0m1-7h0m0 4h0m7-32h0m1 27h0m2-22h0m3 15h0m4 13h0m2-11h0m0 6h0m5-19h0m0 25h0m3 1h0m4-11h0m5-23h0m3 18h0m3 5h0m1 1h0m5-13h0m1-11h0m1 36h0m3-13h0m0 3h0m0 5h0m3-7h0m2-3h0m3-11h0m1 10h0m3-14h0m1 8h0m0 11h0m5 3h0m5-10h0m1 4h0m1-9h0m0 6h0m1-7h0m1 10h0m0 9h0m4 6h0m2-17h0m3 18h0m5-19h0m12 17h0m2-16h0m1 8h0m2-29h0m4 13h0m4 16h0m4 2h0m1-24h0m0 3h0m0 10h0m7-6h0m1-8h0m4 8h0m15 18h0m3-15h0m2-14h0m8 16h0m10 6h0m31-20h0m-322 53h0m49-18h0m27 7h0m12 28h0m7-1h0m6 2h0m9-27h0m10 10h0m1 9h0m2-22h0m3 28h0m1-25h0m2-7h0m7 19h0m15 9h0m5-23h0m4 18h0m2 2h0m2-12h0m1-9h0m7 2h0m4-7h0m4 13h0m5-14h0m0 15h0m3 8h0m9 12h0m3-31h0m5 21h0m0 7h0m6-18h0m1-13h0m0 36h0m2-18h0m6 2h0m6-17h0m1 6h0m1-9h0m0 24h0m2-19h0m0 32h0m8-36h0m17 12h0m2-11h0m3 4h0m15 21h0m23-28h0m0 10h0m-237 44h0m31-3h0m15 22h0m7-28h0m5 4h0m13-1h0m8 12h0m2-4h0m5 1h0m40 2h0m14-9h0m2-5h0m6-1h0m6 7h0m4-8h0"/>
<line x1="59.30" y1="119.30" x2="59.30" y2="196.40" stroke="#333" stroke-width="0.9"/>
<line x1="58.90" y1="196.00" x2="135.30" y2="196.00" stroke="#333" stroke-width="0.9"/>
<path fill="none" stroke="#333" stroke-width="0.8" d="M57.00 127.70L59.30 127.70M57.00 149.20L59.30 149.20M57.00 170.20L59.30 170.20M57.00 191.50L59.30 191.50M64.00 196.00L64.00 198.30M85.20 196.00L85.20 198.30M106.40 196.00L106.40 198.30M127.60 196.00L127.60 198.30"/>
<path fill="none" stroke="#333" stroke-width="0.5" d="M58.20 121.23L59.30 121.23M58.20 122.93L59.30 122.93M58.20 124.37L59.30 124.37M58.20 125.62L59.30 125.62M58.20 126.72L59.30 126.72M58.20 134.17L59.30 134.17M58.20 137.96L59.30 137.96M58.20 140.64L59.30 140.64M58.20 142.73L59.30 142.73M58.20 144.43L59.30 144.43M58.20 145.87L59.30 145.87M58.20 147.12L59.30 147.12M58.20 148.22L59.30 148.22M58.20 155.67L59.30 155.67M58.20 159.46L59.30 159.46M58.20 162.14L59.30 162.14M58.20 164.23L59.30 164.23M58.20 165.93L59.30 165.93M58.20 167.37L59.30 167.37M58.20 168.62L59.30 168.62M58.20 169.72L59.30 169.72M58.20 177.17L59.30 177.17M58.20 180.96L59.30 180.96M58.20 183.64L59.30 183.64M58.20 185.73L59.30 185.73M58.20 187.43L59.30 187.43M58.20 188.87L59.30 188.87M58.20 190.12L59.30 190.12M58.20 191.22L59.30 191.22M60.72 196.00L60.72 197.10M61.95 196.00L61.95 197.10M63.03 196.00L63.03 197.10M70.38 196.00L70.38 197.10M74.11 196.00L74.11 197.10M76.76 196.00L76.76 197.10M78.82 196.00L78.82 197.10M80.50 196.00L80.50 197.10M81.92 196.00L81.92 197.10M83.15 196.00L83.15 197.10M84.23 196.00L84.23 197.10M91.58 196.00L91.58 197.10M95.31 196.00L95.31 197.10M97.96 196.00L97.96 197.10M100.02 196.00L100.02 197.10M101.70 196.00L101.70 197.10M103.12 196.00L103.12 197.10M104.35 196.00L104.35 197.10M105.43 196.00L105.43 197.10M112.78 196.00L112.78 197.10M116.51 196.00L116.51 197.10M119.16 196.00L119.16 197.10M121.22 196.00L121.22 197.10M122.90 196.00L122.90 197.10M124.32 196.00L124.32 197.10M125.55 196.00L125.55 197.10M126.63 196.00L126.63 197.10M133.98 196.00L133.98 197.10"/>
<path transform="scale(.1)" fill="none" stroke="#b44848" stroke-width="6.0" stroke-linecap="square" stroke-opacity="0.55" d="M1845 1430h0m96 7h0m41-13h0m-63 51h0m15 1h0m0 2h0m6-18h0m8 16h0m0 0h0m2 2h0m9-25h0m15 9h0m13 8h0m20-27h0m5 36h0m4-9h0m59-4h0m-199 15h0m7 38h0m27-16h0m3 9h0m0 1h0m6 0h0m4-29h0m3 0h0m3 19h0m7-2h0m5-21h0m0 17h0m2-2h0m1 5h0m0 12h0m2-8h0m4-22h0m0 33h0m6-22h0m0 15h0m3-9h0m1 12h0m4-29h0m2 24h0m0 0h0m1 8h0m2-23h0m1-1h0m2 21h0m2-1h0m4-22h0m0 16h0m1-5h0m4-6h0m1-12h0m1 31h0m3-9h0m1-20h0m1 30h0m1 5h0m2-5h0m1-14h0m1-5h0m0 2h0m4 8h0m0 14h0m18-18h0m20 4h0m5-9h0m19 22h0m-203 12h0m9 5h0m43 12h0m14 3h0m1-24h0m3 9h0m2 14h0m3-17h0m3 3h0m2-2h0m0 10h0m1-18h0m0 4h0m2 0h0m5-8h0m0 3h0m2 15h0m9 1h0m6-10h0m7 3h0m2 4h0m0 10h0m1-8h0m11 3h0m3 14h0m1-23h0m8 0h0m11-4h0m1 19h0m1-11h0m0 0h0m6-8h0m10 22h0m4-10h0m8-3h0m27-16h0m-127 60h0m19-20h0m1 2h0m52 25h0m16-18h0"/>
<path transform="scale(.1)" fill="none" stroke="#b04040" stroke-width="6.0" stroke-linecap="square" stroke-opacity="0.45" d="M2122 1307h0m384-16h0m-575 62h0m34-19h0m90 49h0m299 13h0m-53 7h0m109 17h0m96-2h0m-429 47h0m125 10h0m77 0h0m64 4h0m-452 16h0m14-4h0m26 26h0m294-12h0m38-10h0m0 15h0m211-21h0m-477 45h0m73-1h0m234-2h0m23 9h0m187-6h0m-421 80h0m144 16h0m-185 13h0m298 36h0m34-30h0m20 16h0m47 3h0m38-13h0m2 17h0m-355 45h0m29-6h0m-302 22h0m119 1h0m191 8h0m175 6h0m84-22h0m82-1h0m-434 56h0m-174 44h0m7 3h0"/>
<path transform="scale(.1)" fill="none" stroke="#a82020" stroke-width="6.0" stroke-linecap="square" stroke-opacity="0.5" d="M2558 1311h0m-420 47h0m206-29h0m-194 52h0m46 7h0m66-14h0m61 23h0m70-3h0m58-9h0m109-6h0m-473 25h0m73 28h0m14-11h0m5 10h0m5 0h0m104 3h0m52-16h0m94 0h0m10-14h0m25 24h0m45 9h0m18-18h0m5-2h0m-379 55h0m23-28h0m14 20h0m22-13h0m46-7h0m44 2h0m4 31h0m31 1h0m98 1h0m4-10h0m21 10h0m3-30h0m28 3h0m-354 50h0m93-3h0m17-18h0m2 23h0m26-6h0m9 6h0m24-15h0m13-1h0m1-8h0m1 21h0m24 14h0m7-17h0m7-16h0m2 21h0m23 15h0m10-19h0m88-1h0m-304 57h0m58 3h0m5-5h0m9-15h0m2 20h0m17-4h0m8-31h0m2 5h0m1 3h0m14 25h0m22-36h0m4 2h0m10 11h0m49 21h0m5-12h0m25-18h0m147 8h0m-462 57h0m26-7h0m48-10h0m37 17h0m6-23h0m54 4h0m5 16h0m24 6h0m17-27h0m3 19h0m13-20h0m3 2h0m26 1h0m20 15h0m10-8h0m24-3h0m112 5h0m-324 53h0m32 2h0m23-23h0m2 29h0m15-7h0m11-2h0m84-23h0m12-3h0m8 3h0m13-3h0m83 8h0m-378 39h0m40 27h0m56-35h0m19 35h0m26-1h0m19-33h0m22 30h0m43-2h0m39 2h0m38-12h0m163-1h0m-409 33h0m33 22h0m18 0h0m41-6h0m13-18h0m187 36h0m-70 69h0"/>
<path transform="scale(.1)" fill="none" stroke="#9a1414" stroke-width="7.0" stroke-linecap="square" stroke-opacity="0.6" d="M2338 1318h0m9-2h0m1 1h0m10-19h0m13 6h0m9 10h0m3 4h0m2-17h0m2 17h0m2-13h0m12 14h0m2-7h0m9-27h0m60 29h0m1-32h0m6 31h0m3-3h0m-196 48h0m12-29h0m0 26h0m5-10h0m2-3h0m4 1h0m1 7h0m4-25h0m1 4h0m1 26h0m2-18h0m1-2h0m3 22h0m5-6h0m2-3h0m2-19h0m0 23h0m9-26h0m0 5h0m3 13h0m5-3h0m1 0h0m3-1h0m1 1h0m3 1h0m2-18h0m2-3h0m0 16h0m0 5h0m1 0h0m4-12h0m0 9h0m1-1h0m1 0h0m2-1h0m1-1h0m7 0h0m7-6h0m4 2h0m2 0h0m2 1h0m25-4h0m0 4h0m5 0h0m7-4h0m4 0h0m0 1h0m1-8h0m1 7h0m10 5h0m4-3h0m4 3h0m3-1h0m2 0h0m0 2h0m1-9h0m3-4h0m1 13h0m4-15h0m0 11h0m1 6h0m1-11h0m2 4h0m6-4h0m0 16h0m11-11h0m0 15h0m3 3h0m2-24h0m0 18h0m2-11h0m0 1h0m0 19h0m1-3h0m0 0h0m0 1h0m2 1h0m4 2h0m2 2h0m3 2h0m2-4h0m4-10h0m1 0h0m2-15h0m0 30h0m12-3h0m5-12h0m8 11h0m7-4h0m-339 48h0m39-20h0m6 4h0m1 10h0m3-6h0m2-5h0m4 14h0m1-3h0m6-3h0m1 0h0m3-3h0m2-5h0m1-11h0m1-2h0m1 13h0m2-1h0m1-15h0m9 1h0m2 2h0m4 2h0m1-3h0m0 0h0m2-1h0m1 2h0m1-2h0m2-5h0m4 0h0m3 1h0m195-2h0m2 5h0m5-2h0m1 2h0m1-1h0m2 4h0m2-5h0m0 7h0m1-5h0m2 9h0m0 3h0m1 2h0m3-2h0m2 8h0m2-18h0m2 20h0m5-16h0m2 26h0m3-22h0m2-1h0m1 5h0m0 7h0m2-22h0m8 31h0m3-12h0m-378 53h0m16-4h0m2-28h0m22 1h0m0 34h0m4 0h0m1-8h0m1-10h0m3-6h0m0 22h0m1 1h0m1-38h0m0 24h0m3 9h0m3-24h0m1 6h0m1 9h0m1-4h0m14-11h0m1 1h0m2-8h0m276 1h0m5-3h0m0 5h0m2 8h0m1-8h0m0 2h0m1 19h0m1-9h0m0 15h0m1-14h0m6 9h0m1-27h0m0 9h0m1-1h0m0 31h0m1-34h0m5-3h0m4 11h0m1-4h0m4 12h0m3 8h0m-385 47h0m19-22h0m2-10h0m4 2h0m0 14h0m2-11h0m2 25h0m2-12h0m0 10h0m1-31h0m0 37h0m1-7h0m1 4h0m2 4h0m1-18h0m1-4h0m6-10h0m0 3h0m3-9h0m302 32h0m4 6h0m2-14h0m0 11h0m0 3h0m1-28h0m0 17h0m0 7h0m0 2h0m1-27h0m0 1h0m1-3h0m1-4h0m0 17h0m1-17h0m0 5h0m0 11h0m1-20h0m7 13h0m3-10h0m0 2h0m3 14h0m2-6h0m13-13h0m-396 43h0m19-3h0m11 1h0m2 2h0m2 18h0m1-5h0m0 4h0m0 6h0m0 12h0m1 0h0m0 0h0m1-2h0m1-25h0m0 27h0m1-8h0m2-3h0m303 9h0m10-23h0m0 7h0m4-14h0m0 3h0m0 0h0m2-6h0m1-3h0m0 1h0m1 2h0m0 31h0m0 2h0m0 1h0m11-31h0m1 30h0m18-7h0m5-24h0m-391 46h0m10-2h0m1 2h0m1-1h0m6-9h0m7 7h0m3 2h0m1-4h0m1 0h0m1-4h0m0 24h0m0 5h0m2-21h0m0 1h0m4 18h0m1-7h0m7 10h0m259 6h0m1-1h0m8-12h0m1 4h0m3-12h0m1 3h0m3-3h0m2-3h0m1 2h0m1-3h0m0 5h0m1-4h0m3-8h0m1-6h0m0 14h0m1-12h0m2 30h0m1-29h0m2-3h0m0 19h0m12-12h0m0 0h0m6-2h0m0 10h0m0 1h0m-344 24h0m3 0h0m7 8h0m0 17h0m4-5h0m11-16h0m1 17h0m7-14h0m1 7h0m3-12h0m1 3h0m0 0h0m0 3h0m1 1h0m0 0h0m1-1h0m2 26h0m1-8h0m1-14h0m2 2h0m3 7h0m0 18h0m1-5h0m1-12h0m1 1h0m1 0h0m6 5h0m14 7h0m1 2h0m10 0h0m135-1h0m2 3h0m2-1h0m2 1h0m7-5h0m5 0h0m3-8h0m4 3h0m0 0h0m3-3h0m0 4h0m4-5h0m1 1h0m6 2h0m0 11h0m2-16h0m1-5h0m1 3h0m3-2h0m2-1h0m1-1h0m5-3h0m1-9h0m0 5h0m6 6h0m4-10h0m3 14h0m1-17h0m0 10h0m2 22h0m4-26h0m4 5h0m0 7h0m5-19h0m7-2h0m0 29h0m1-13h0m3-12h0m6 11h0m13-5h0m7 7h0m-298 53h0m10-27h0m5 1h0m4 2h0m21-6h0m1 2h0m0 25h0m1 4h0m1-31h0m1 3h0m1-2h0m1 0h0m3 2h0m3 21h0m2-18h0m0 2h0m2-6h0m1 5h0m0 9h0m1-9h0m1 2h0m2 1h0m3 7h0m3-6h0m0 6h0m3-6h0m1 1h0m2-1h0m1 7h0m1-7h0m3 2h0m7-1h0m2 3h0m7-2h0m6 4h0m1-3h0m1 0h0m9 0h0m1-2h0m2-3h0m0 6h0m1 11h0m1-10h0m2-6h0m2 18h0m3 4h0m4-19h0m3 11h0m0 4h0m2-10h0m2 1h0m6-10h0m0 17h0m2-15h0m3 3h0m4 17h0m1-22h0m11 16h0m2-15h0m1-3h0m1-3h0m2 9h0m2-9h0m0 0h0m1-1h0m3-1h0m0 1h0m1 1h0m2 18h0m4-21h0m4 1h0m1 1h0m0 15h0m3-15h0m3 20h0m5-12h0m9 25h0m10-20h0m1 14h0m19-29h0m13 0h0m-213 53h0m39-11h0m31-2h0m11-1h0m8 8h0m32-2h0m27-6h0"/>
<path d="M253.54 138.94L253.76 139.37L253.95 139.83L254.13 140.30L254.29 140.78L254.42 141.28L254.53 141.78L254.63 142.29L254.69 142.81L254.74 143.33L254.76 143.85L254.76 144.37L254.73 144.89L254.68 145.41L254.60 145.94L254.50 146.48L254.38 147.02L254.23 147.57L254.06 148.12L253.86 148.66L253.65 149.21L253.42 149.74L253.17 150.27L252.90 150.79L252.61 151.30L252.30 151.80L251.96 152.30L251.60 152.80L251.22 153.30L250.82 153.79L250.40 154.27L249.96 154.74L249.51 155.20L249.05 155.65L248.57 156.08L248.08 156.50L247.59 156.90L247.08 157.28L246.55 157.65L246.01 158.01L245.45 158.36L244.87 158.70L244.29 159.02L243.69 159.33L243.09 159.62L242.49 159.89L241.88 160.14L241.28 160.37L240.68 160.57L240.07 160.76L239.45 160.93L238.83 161.08L238.20 161.22L237.56 161.33L236.93 161.43L236.29 161.51L235.66 161.57L235.04 161.61L234.42 161.63L233.82 161.62L233.23 161.60L232.65 161.56L232.07 161.49L231.49 161.40L230.91 161.30L230.34 161.17L229.78 161.02L229.23 160.86L228.70 160.68L228.17 160.48L227.67 160.26L227.19 160.03L226.73 159.78L226.28 159.51L225.85 159.22L225.43 158.91L225.03 158.58L224.64 158.24L224.26 157.88L223.91 157.50L223.57 157.11L223.26 156.71L222.97 156.31L222.70 155.89L222.46 155.46L222.24 155.03L222.05 154.57L221.87 154.10L221.71 153.62L221.58 153.12L221.47 152.62L221.37 152.11L221.31 151.59L221.26 151.07L221.24 150.55L221.24 150.03L221.27 149.51L221.32 148.99L221.40 148.46L221.50 147.92L221.62 147.38L221.77 146.83L221.94 146.28L222.14 145.74L222.35 145.19L222.58 144.66L222.83 144.13L223.10 143.61L223.39 143.10L223.70 142.60L224.04 142.10L224.40 141.60L224.78 141.10L225.18 140.61L225.60 140.13L226.04 139.66L226.49 139.20L226.95 138.75L227.43 138.32L227.92 137.90L228.41 137.50L228.92 137.12L229.45 136.75L229.99 136.39L230.55 136.04L231.13 135.70L231.71 135.38L232.31 135.07L232.91 134.78L233.51 134.51L234.12 134.26L234.72 134.03L235.32 133.83L235.93 133.64L236.55 133.47L237.17 133.32L237.80 133.18L238.44 133.07L239.07 132.97L239.71 132.89L240.34 132.83L240.96 132.79L241.58 132.77L242.18 132.78L242.77 132.80L243.35 132.84L243.93 132.91L244.51 133.00L245.09 133.10L245.66 133.23L246.22 133.38L246.77 133.54L247.30 133.72L247.83 133.92L248.33 134.14L248.81 134.37L249.27 134.62L249.72 134.89L250.15 135.18L250.57 135.49L250.97 135.82L251.36 136.16L251.74 136.52L252.09 136.90L252.43 137.29L252.74 137.69L253.03 138.09L253.30 138.51Z" fill="url(#g_b2)" filter="url(#rough)"/>
<path transform="scale(.1)" fill="none" stroke="#a81a1a" stroke-width="7.0" stroke-linecap="square" stroke-opacity="0.7" d="M2393 1318h0m10-3h0m12 4h0m35-1h0m11-2h0m-164 34h0m12 4h0m2-5h0m8 8h0m3-24h0m0 13h0m6 4h0m3-1h0m2-7h0m2 9h0m1 1h0m0 6h0m3-24h0m0 1h0m10 5h0m6 0h0m10-11h0m0 14h0m1-11h0m0 13h0m5-1h0m5-12h0m1-4h0m2 18h0m2-11h0m2-13h0m1 24h0m1-13h0m6-7h0m0 2h0m0 4h0m1 2h0m1 14h0m2-16h0m1 2h0m4 5h0m1-14h0m0 6h0m2-2h0m2 7h0m4-11h0m3-2h0m1 0h0m5 19h0m2-22h0m9 0h0m0 7h0m4-4h0m3 22h0m1 4h0m1-20h0m1 7h0m6 5h0m7-13h0m4 2h0m3 7h0m6-4h0m2-7h0m1 11h0m3-2h0m1-1h0m4 6h0m0 19h0m4-16h0m1-3h0m0 12h0m8-4h0m1-12h0m0 19h0m2-13h0m0 16h0m1-18h0m1-2h0m5 3h0m3 13h0m7-14h0m4 8h0m1 2h0m-262 35h0m2-2h0m2 6h0m3 1h0m1-15h0m1 7h0m1 15h0m1-8h0m2 7h0m2-15h0m2-3h0m2 0h0m1 0h0m3 4h0m1-5h0m3 6h0m1-17h0m0 1h0m1 19h0m5-7h0m11-5h0m1 12h0m4-24h0m7-2h0m3 0h0m1 4h0m3-3h0m191 5h0m1 2h0m7-5h0m4 4h0m6-6h0m0 16h0m3 17h0m3-22h0m2 6h0m0 19h0m1-22h0m0 20h0m5-5h0m-320 45h0m9 3h0m4-13h0m1-7h0m0 20h0m1-29h0m4 0h0m2 3h0m2-6h0m1 0h0m2 24h0m1-28h0m1-1h0m0 6h0m0 21h0m3-14h0m4 10h0m3-10h0m15-11h0m264 36h0m2-19h0m1-4h0m1-14h0m1 11h0m3 1h0m4 0h0m1 10h0m1 13h0m1-23h0m1-10h0m1 21h0m12 1h0m-355 32h0m5-12h0m0 25h0m1-3h0m3-25h0m1 20h0m1-13h0m10-7h0m0 18h0m1-18h0m0 4h0m0 3h0m3-4h0m0 19h0m296 14h0m4-11h0m1 2h0m1-11h0m1-15h0m1 4h0m1 29h0m3-20h0m1 7h0m1-23h0m0 20h0m1 15h0m2-34h0m1 0h0m0 28h0m1-9h0m3-21h0m0 33h0m7 3h0m-364 31h0m8-4h0m6 0h0m1-15h0m1-5h0m0 5h0m1 4h0m0 13h0m2-20h0m4 15h0m12-12h0m285 28h0m5 2h0m1-19h0m5-7h0m1 16h0m1 10h0m3-15h0m0 10h0m1-13h0m3-1h0m0 3h0m0 9h0m1-8h0m0 10h0m2-20h0m1 0h0m0 26h0m5-18h0m1-8h0m-335 35h0m2-1h0m0 5h0m1 0h0m1 25h0m2-27h0m0 2h0m3 8h0m0 19h0m2-30h0m0 21h0m1 4h0m4-1h0m2 0h0m0 0h0m1-4h0m245 10h0m5-16h0m2 13h0m4-1h0m7-9h0m1 0h0m2-2h0m1-6h0m1-9h0m7 12h0m1 5h0m3-1h0m1 8h0m4-31h0m1 5h0m2 3h0m1 1h0m0 13h0m3-22h0m1 14h0m1-6h0m-293 31h0m1 19h0m1-15h0m1-4h0m2 8h0m0 4h0m3 0h0m3-4h0m4-2h0m6 18h0m6 0h0m1-2h0m1 0h0m2-9h0m9 19h0m3-1h0m48 5h0m14-6h0m74-5h0m0 13h0m1-6h0m3-15h0m4 12h0m1-4h0m1 13h0m6-11h0m2-2h0m1 10h0m2-3h0m0 4h0m3 0h0m8-2h0m2-10h0m0 8h0m2-14h0m2 9h0m3-4h0m2-3h0m2-11h0m4 17h0m4-6h0m2-7h0m0 6h0m6-13h0m4 0h0m1 1h0m1-5h0m5 4h0m0 4h0m4-4h0m2 10h0m5-15h0m5 5h0m7 7h0m-243 29h0m3 8h0m6 1h0m1-10h0m0 1h0m1 0h0m2 10h0m6-3h0m0 6h0m7-16h0m0 3h0m0 13h0m4-16h0m0 7h0m0 10h0m4-13h0m1-1h0m0 8h0m0 4h0m3 2h0m1-2h0m6-1h0m2-14h0m6 5h0m0 8h0m1-4h0m0 4h0m8-3h0m4-6h0m0 7h0m2 4h0m1 6h0m5-18h0m1 17h0m1 9h0m6-25h0m1 14h0m1-10h0m4 13h0m2-18h0m3 13h0m2-9h0m0 7h0m6 13h0m2-11h0m1 0h0m3-12h0m2 24h0m1-10h0m0 2h0m1-19h0m2 9h0m2 7h0m2 2h0m3-1h0m10-11h0m9-6h0m0 2h0m3 0h0m0 1h0m1 11h0m4-9h0m4-4h0m1 8h0m0 3h0m4-11h0m0 4h0m3-4h0m0 11h0m5-7h0m13-4h0"/>
<line x1="183.40" y1="119.30" x2="183.40" y2="196.40" stroke="#333" stroke-width="0.9"/>
<line x1="183.00" y1="196.00" x2="258.30" y2="196.00" stroke="#333" stroke-width="0.9"/>
<path fill="none" stroke="#333" stroke-width="0.8" d="M181.10 127.10L183.40 127.10M181.10 145.80L183.40 145.80M181.10 164.60L183.40 164.60M181.10 183.30L183.40 183.30M196.50 196.00L196.50 198.30M214.90 196.00L214.90 198.30M233.30 196.00L233.30 198.30M251.70 196.00L251.70 198.30"/>
<path fill="none" stroke="#333" stroke-width="0.5" d="M182.30 121.47L183.40 121.47M182.30 122.95L183.40 122.95M182.30 124.20L183.40 124.20M182.30 125.29L183.40 125.29M182.30 126.24L183.40 126.24M182.30 132.73L183.40 132.73M182.30 136.02L183.40 136.02M182.30 138.36L183.40 138.36M182.30 140.17L183.40 140.17M182.30 141.65L183.40 141.65M182.30 142.90L183.40 142.90M182.30 143.99L183.40 143.99M182.30 144.94L183.40 144.94M182.30 151.43L183.40 151.43M182.30 154.72L183.40 154.72M182.30 157.06L183.40 157.06M182.30 158.87L183.40 158.87M182.30 160.35L183.40 160.35M182.30 161.60L183.40 161.60M182.30 162.69L183.40 162.69M182.30 163.64L183.40 163.64M182.30 170.13L183.40 170.13M182.30 173.42L183.40 173.42M182.30 175.76L183.40 175.76M182.30 177.57L183.40 177.57M182.30 179.05L183.40 179.05M182.30 180.30L183.40 180.30M182.30 181.39L183.40 181.39M182.30 182.34L183.40 182.34M182.30 188.83L183.40 188.83M182.30 192.12L183.40 192.12M182.30 194.46L183.40 194.46M186.88 196.00L186.88 197.10M189.18 196.00L189.18 197.10M190.96 196.00L190.96 197.10M192.42 196.00L192.42 197.10M193.65 196.00L193.65 197.10M194.72 196.00L194.72 197.10M195.66 196.00L195.66 197.10M202.04 196.00L202.04 197.10M205.28 196.00L205.28 197.10M207.58 196.00L207.58 197.10M209.36 196.00L209.36 197.10M210.82 196.00L210.82 197.10M212.05 196.00L212.05 197.10M213.12 196.00L213.12 197.10M214.06 196.00L214.06 197.10M220.44 196.00L220.44 197.10M223.68 196.00L223.68 197.10M225.98 196.00L225.98 197.10M227.76 196.00L227.76 197.10M229.22 196.00L229.22 197.10M230.45 196.00L230.45 197.10M231.52 196.00L231.52 197.10M232.46 196.00L232.46 197.10M238.84 196.00L238.84 197.10M242.08 196.00L242.08 197.10M244.38 196.00L244.38 197.10M246.16 196.00L246.16 197.10M247.62 196.00L247.62 197.10M248.85 196.00L248.85 197.10M249.92 196.00L249.92 197.10M250.86 196.00L250.86 197.10M257.24 196.00L257.24 197.10"/>
<path transform="scale(.1)" fill="none" stroke="#941010" stroke-width="7.0" stroke-linecap="square" stroke-opacity="0.75" d="M3497 1399h0m165-24h0m-164 55h0m52-3h0m6-27h0m66 17h0m-91 29h0m42 24h0m38-4h0m16-4h0m22-5h0m3 3h0m13 19h0m-541 19h0m315 14h0m69-26h0m26 11h0m13 11h0m3-9h0m26 2h0m3 4h0m9 3h0m12 0h0m6-14h0m4-7h0m25 30h0m2-34h0m33 20h0m7-14h0m-450 64h0m107-2h0m73-31h0m82 7h0m47 29h0m4-25h0m4 4h0m19 7h0m4-12h0m1 23h0m11-20h0m1 15h0m3-10h0m1 9h0m0 11h0m4-12h0m16-2h0m16-8h0m15 23h0m25-32h0m18 23h0m-554 39h0m6-4h0m9-2h0m2 6h0m21 9h0m2-15h0m3 11h0m11-5h0m1 2h0m18-3h0m15-2h0m18-8h0m0 11h0m48-4h0m35 14h0m22-13h0m5-18h0m17 7h0m14-1h0m24 21h0m5-5h0m4-2h0m97 4h0m2 7h0m11-13h0m5-26h0m11 30h0m5-23h0m7-2h0m1 22h0m29 6h0m1 0h0m5-7h0m0 5h0m1 1h0m3-15h0m0 9h0m5 0h0m8 5h0m1-24h0m0 29h0m3-14h0m8-2h0m8-6h0m3-2h0m10 24h0m9 1h0m3 2h0m1-26h0m0 7h0m8-1h0m1 19h0m1-38h0m-496 64h0m6 4h0m5 6h0m17 5h0m4-27h0m9 25h0m20 2h0m13-10h0m25-2h0m4-8h0m14-14h0m14 15h0m2-10h0m17 22h0m38-29h0m8 16h0m2-10h0m3 1h0m0 1h0m2 25h0m6-35h0m4-1h0m4 26h0m4 6h0m11-15h0m0 21h0m2-3h0m3-9h0m7-14h0m9 5h0m3 10h0m11-16h0m5-2h0m6 14h0m17 7h0m7-8h0m11 17h0m20-14h0m0 11h0m10-30h0m10 23h0m9-28h0m8 17h0m4-1h0m2-9h0m8 29h0m3-15h0m2 14h0m5-3h0m4-33h0m6 1h0m1 16h0m1-12h0m4 7h0m0 23h0m6-10h0m4 9h0m3-27h0m1 0h0m0 22h0m8-24h0m3 34h0m2-29h0m3 7h0m5 12h0m2 6h0m10-24h0m8 21h0m7-24h0m5 4h0m0 20h0m19-19h0m9 17h0m9-15h0m5 20h0m51-10h0m-596 50h0m2-26h0m12 20h0m5 5h0m2 1h0m4-14h0m4-15h0m0 14h0m7-7h0m21 19h0m1-21h0m9 7h0m9-10h0m3 3h0m3-10h0m8 23h0m1-20h0m6 13h0m1 0h0m7-1h0m1 12h0m6-24h0m17 22h0m13 3h0m13 9h0m13-23h0m0 1h0m9-8h0m2 14h0m4-22h0m4 21h0m1-4h0m5 5h0m0 4h0m1-2h0m1-12h0m5 16h0m7-13h0m0 5h0m3-8h0m2 18h0m9-22h0m0 26h0m1-11h0m2-17h0m0 7h0m3 6h0m0 1h0m2-14h0m0 19h0m1 1h0m1 2h0m1-21h0m1 25h0m2-18h0m3-13h0m8-1h0m0 14h0m2 8h0m2-17h0m8 34h0m1-22h0m8 16h0m3-9h0m4 15h0m1-17h0m6 10h0m25-23h0m11 13h0m4 11h0m0 2h0m19 1h0m10-20h0m6-16h0m16 24h0m15 13h0m5-37h0m7 14h0m2 23h0m3-24h0m18 12h0m2-4h0m2-7h0m1 8h0m3-22h0m1 7h0m0 18h0m4-13h0m5 1h0m1 14h0m10-24h0m6 14h0m3-10h0m12 22h0m11-17h0m1 17h0m1 0h0m1-19h0m0 6h0m3-6h0m9 23h0m3-27h0m5 17h0m9 4h0m18-15h0m2-6h0m1 32h0m1-35h0m8 35h0m17-6h0m6-19h0m-581 36h0m1 28h0m11-31h0m3 0h0m1 12h0m7 20h0m8-29h0m3 24h0m2 6h0m6-15h0m2-16h0m0 28h0m4-5h0m5-12h0m2 13h0m2-7h0m2 6h0m5 4h0m2-3h0m11-6h0m10 7h0m1-28h0m2 17h0m8 1h0m3-7h0m7 1h0m16-7h0m4 22h0m4 3h0m3-18h0m14-5h0m1 4h0m19 14h0m2-21h0m3-5h0m6 4h0m2 4h0m3 8h0m6-7h0m1-4h0m2 26h0m2-4h0m1-29h0m1 36h0m2-31h0m2 22h0m5-20h0m1 3h0m0 8h0m3 19h0m1-22h0m0 2h0m1 15h0m11-28h0m0 0h0m2-2h0m0 32h0m0 0h0m1-22h0m3 25h0m3-34h0m0 9h0m0 21h0m5 1h0m5-34h0m2 11h0m3 1h0m2 9h0m4 8h0m1 3h0m1-5h0m4-29h0m1 5h0m0 2h0m0 5h0m0 20h0m2-1h0m0 7h0m2-28h0m0 18h0m2 5h0m4-31h0m4 23h0m1-7h0m3 12h0m1-22h0m2 15h0m3-19h0m0 16h0m1-6h0m1 11h0m1-17h0m2-4h0m1 19h0m4-2h0m3 1h0m1-14h0m7 6h0m1-4h0m4 0h0m0 24h0m1-34h0m0 23h0m1-3h0m2 8h0m2-18h0m1 21h0m2-22h0m1 19h0m2 11h0m1-7h0m6 7h0m2-7h0m1 0h0m2-27h0m0 5h0m0 22h0m0 7h0m2-39h0m3 14h0m2 11h0m1-11h0m1 25h0m1 0h0m3-4h0m1-4h0m3 1h0m1 1h0m3-29h0m0 26h0m1-11h0m6-3h0m1 0h0m3 22h0m5-26h0m5-4h0m0 16h0m28-18h0m4-6h0m2 1h0m9 33h0m1-29h0m6 16h0m2-14h0m25 32h0m3-20h0m1 11h0m2-17h0m4 0h0m6 19h0m2-24h0m0 29h0m6-4h0m1-6h0m16-24h0m0 36h0m6-23h0m15 12h0m2-21h0m19 10h0m12-11h0m3 17h0m12-2h0m3-21h0m12 39h0m-575 12h0m0 19h0m2-27h0m1 15h0m4-8h0m6 27h0m1-10h0m10-17h0m3-6h0m1 11h0m1-10h0m3 25h0m4-6h0m1-3h0m5-20h0m3 0h0m6 2h0m13 19h0m5 14h0m6-5h0m14-29h0m9 19h0m1 6h0m2-15h0m1 18h0m4 4h0m1-1h0m3 6h0m13-14h0m1-18h0m5-4h0m3 34h0m1-2h0m11-28h0m3 18h0m2-8h0m4 4h0m2-14h0m1 14h0m1-16h0m3 10h0m1 6h0m8 17h0m1-1h0m2-7h0m7-11h0m1 18h0m3 0h0m2-7h0m1-15h0m0 21h0m0 0h0m2-28h0m1 22h0m5-30h0m1 8h0m1-5h0m5 17h0m2-11h0m1 29h0m1-14h0m1-3h0m4-8h0m1 26h0m1-16h0m0 14h0m1-6h0m1-28h0m0 28h0m0 8h0m2-21h0m1-6h0m5-6h0m1 31h0m3-22h0m2 22h0m2-30h0m1-7h0m0 7h0m2 7h0m0 24h0m1-13h0m1 13h0m1-30h0m1 12h0m0 14h0m1-19h0m6-7h0m0 6h0m0 21h0m5-4h0m1-1h0m1-21h0m1 17h0m2 13h0m1-28h0m0 8h0m1-17h0m2 1h0m0 18h0m0 4h0m2-20h0m1 27h0m1-17h0m0 1h0m1-13h0m0 34h0m1-12h0m0 2h0m2-16h0m1 8h0m1-5h0m0 2h0m0 8h0m0 12h0m1 0h0m1-20h0m1 11h0m3-17h0m0 9h0m0 19h0m3-35h0m0 20h0m0 11h0m1 1h0m2-23h0m1 21h0m1-23h0m1 28h0m3-4h0m0 1h0m1-5h0m1-27h0m2 10h0m1-5h0m0 3h0m1 22h0m1-18h0m0 19h0m1-17h0m0 8h0m1-24h0m0 19h0m0 6h0m1-12h0m1 22h0m1-5h0m2-3h0m1-14h0m0 10h0m1-19h0m0 8h0m1-7h0m2-5h0m0 25h0m1-23h0m0 9h0m1-11h0m0 32h0m3-25h0m1 12h0m0 5h0m1 8h0m1-33h0m0 7h0m6 15h0m2-9h0m2-6h0m0 26h0m1-20h0m2 4h0m1-3h0m3 17h0m1-30h0m2 7h0m1 1h0m2 15h0m0 8h0m0 4h0m1-8h0m2-17h0m0 5h0m2 18h0m2-9h0m1-7h0m2 7h0m1-4h0m4-14h0m0 26h0m1 3h0m3-4h0m6-17h0m2 5h0m0 14h0m3 2h0m2-16h0m10-20h0m3 17h0m6 11h0m18-18h0m10 14h0m0 10h0m12-2h0m16-18h0m2 12h0m4-20h0m0 1h0m9 18h0m11 1h0m2 2h0m2 2h0m3-19h0m11 22h0m14-22h0m10 23h0m16 5h0m1-20h0m4-6h0m1-1h0m29 5h0m3-11h0m1-6h0m-572 71h0m0 3h0m4-28h0m4 32h0m1-25h0m4-13h0m5 15h0m4 14h0m1 9h0m5-14h0m4 15h0m5-26h0m0 20h0m7-29h0m4 25h0m4-17h0m1 5h0m4 2h0m11 0h0m2 18h0m22-31h0m4 18h0m9-21h0m3 24h0m1-12h0m0 3h0m0 7h0m1 9h0m11-33h0m5 4h0m0 22h0m4-16h0m4-10h0m9 28h0m3 9h0m6-8h0m3-9h0m8-10h0m0 7h0m2 3h0m0 16h0m2-16h0m2-12h0m2 26h0m1-11h0m0 12h0m4-4h0m2-10h0m4 12h0m4-29h0m0 7h0m0 3h0m1 23h0m1-10h0m2 5h0m1-32h0m5 35h0m1-36h0m2 29h0m2-20h0m3-1h0m0 6h0m0 23h0m2-25h0m1 9h0m0 11h0m0 3h0m1-31h0m1 14h0m1-7h0m0 19h0m1-22h0m0 9h0m3-2h0m2-9h0m0 15h0m2-18h0m3 30h0m1-24h0m0 8h0m1 9h0m1-25h0m0 3h0m0 15h0m2-3h0m2 11h0m2-24h0m0 8h0m1 26h0m1-37h0m0 22h0m0 11h0m1-31h0m0 35h0m1-7h0m4-9h0m0 16h0m3-11h0m0 6h0m1-22h0m1 26h0m2-29h0m0 30h0m2-7h0m0 6h0m0 1h0m1-28h0m0 12h0m1-14h0m0 23h0m1-9h0m0 13h0m3-34h0m1 2h0m3 36h0m1-16h0m2-18h0m0 5h0m0 2h0m1 1h0m0 19h0m1-10h0m0 5h0m2-12h0m1-9h0m0 3h0m2 18h0m1 0h0m1 1h0m1-19h0m1-4h0m1-4h0m1 12h0m1 3h0m1-6h0m1 3h0m2-9h0m0 6h0m2-2h0m0 8h0m0 23h0m1-29h0m0 3h0m0 13h0m1-5h0m0 6h0m0 0h0m0 3h0m1-19h0m1-3h0m0 10h0m4-3h0m1 18h0m3-1h0m1-6h0m0 7h0m0 1h0m2-12h0m2 15h0m3-35h0m2 24h0m1-24h0m0 5h0m2 3h0m2-4h0m1 23h0m1 3h0m2-14h0m0 22h0m2-34h0m1 12h0m0 3h0m0 1h0m0 7h0m1-4h0m1-24h0m0 25h0m1-21h0m3 18h0m2 6h0m0 2h0m2-24h0m0 31h0m1-26h0m1 16h0m6 7h0m3-33h0m1 19h0m1 8h0m1 4h0m1-31h0m3 29h0m2-25h0m4 13h0m7-13h0m8 2h0m0 21h0m0 1h0m6-3h0m1 0h0m3 3h0m2-10h0m4 17h0m3-10h0m2 8h0m2-31h0m6 32h0m4-14h0m3-7h0m26 21h0m12-1h0m57-5h0m3-29h0m42 22h0m11 10h0m10-20h0m7 21h0m-567 44h0m3-5h0m4-20h0m1 3h0m8-7h0m0 27h0m9 2h0m3-10h0m4-7h0m16 13h0m4-17h0m2 8h0m9-3h0m2 1h0m1-12h0m0 17h0m5-3h0m10-19h0m1 10h0m1-11h0m0 10h0m0 3h0m1 15h0m7-21h0m1-5h0m1-3h0m2 34h0m3-6h0m1 2h0m2 1h0m1-23h0m1-1h0m1 15h0m3-21h0m0 7h0m4 7h0m0 10h0m5-4h0m0 6h0m3-6h0m7-17h0m0 19h0m0 10h0m1-27h0m1 15h0m5-22h0m0 25h0m1 6h0m2-22h0m1 4h0m2 9h0m0 14h0m1-26h0m2 12h0m1 10h0m2-22h0m0 16h0m1 4h0m0 5h0m3-6h0m8-20h0m1 16h0m3-9h0m0 20h0m2-23h0m1 19h0m1 4h0m4-28h0m1 2h0m1 17h0m1-14h0m1 2h0m1 0h0m0 7h0m0 9h0m1-32h0m0 10h0m0 19h0m2-4h0m2-3h0m4 11h0m1-32h0m0 4h0m0 14h0m2-11h0m1 9h0m1-5h0m1 9h0m0 8h0m1-18h0m2-4h0m2 31h0m1-35h0m2 15h0m1-3h0m2-10h0m1 33h0m1-19h0m0 16h0m1-20h0m1 23h0m1-13h0m1-7h0m0 9h0m1-8h0m0 10h0m2 5h0m2-28h0m7 6h0m0 9h0m0 7h0m0 4h0m1-31h0m1-1h0m0 1h0m1 26h0m1 8h0m3-31h0m0 21h0m0 9h0m1-24h0m0 9h0m1 12h0m2-22h0m0 18h0m2-11h0m0 5h0m1 0h0m0 5h0m1 11h0m2-36h0m0 34h0m2-23h0m0 7h0m1-5h0m1-15h0m0 0h0m0 4h0m0 1h0m2 3h0m1-1h0m1-1h0m0 3h0m0 3h0m0 9h0m2 1h0m0 3h0m1-16h0m0 25h0m0 2h0m1-25h0m2 8h0m0 14h0m1-20h0m0 1h0m1-14h0m0 19h0m0 2h0m1-6h0m0 24h0m1-20h0m0 3h0m0 3h0m1-23h0m0 18h0m0 4h0m0 2h0m1-25h0m0 5h0m0 11h0m0 7h0m2-23h0m2 2h0m1 26h0m3-15h0m2 21h0m1 1h0m2-30h0m0 20h0m0 13h0m1-1h0m4 1h0m1-24h0m2-13h0m1-2h0m0 3h0m2 8h0m0 2h0m1-10h0m2-1h0m0 9h0m0 9h0m1 6h0m0 1h0m1-12h0m0 9h0m2-11h0m0 16h0m1-15h0m0 0h0m2 13h0m2-17h0m0 2h0m0 7h0m1 12h0m1-21h0m6 0h0m0 22h0m0 7h0m4-38h0m1 25h0m1-20h0m0 5h0m1 17h0m0 4h0m2-25h0m0 15h0m0 4h0m0 5h0m2-13h0m0 14h0m0 6h0m4-14h0m1 13h0m4-34h0m0 36h0m1-30h0m1 20h0m3-18h0m0 2h0m0 8h0m0 8h0m1-25h0m3 12h0m1-16h0m0 5h0m2 4h0m3 2h0m0 6h0m3 16h0m2-15h0m0 7h0m1-15h0m1-5h0m1 14h0m3 5h0m2 1h0m1-11h0m3-8h0m1 8h0m4 11h0m1-13h0m10 25h0m2-1h0m0 3h0m1-23h0m1 6h0m3-9h0m10 20h0m2 5h0m2 1h0m3 0h0m1-25h0m3 24h0m5-20h0m12 8h0m11 7h0m75-20h0m8 13h0m4-25h0m22 21h0m24-13h0m8 26h0m15-17h0m2-7h0m5 19h0m-573 11h0m13 33h0m3-34h0m0 36h0m1-2h0m2-23h0m8-4h0m2-5h0m0 17h0m2-12h0m1 21h0m1-22h0m11 7h0m2 26h0m1-20h0m0 0h0m3 10h0m1-16h0m1-11h0m0 7h0m6 19h0m7-23h0m8 1h0m2 29h0m10 3h0m1-26h0m4 14h0m10 4h0m2-24h0m0 1h0m0 12h0m2-7h0m4 27h0m2-26h0m0 17h0m2-4h0m1-4h0m5-8h0m1-4h0m0 7h0m2-17h0m1 7h0m5 2h0m0 19h0m2-9h0m2 1h0m0 2h0m2-14h0m0 17h0m3-8h0m7-12h0m1 25h0m0 7h0m1-29h0m0 20h0m1 2h0m5-23h0m0 23h0m1-28h0m5 21h0m1 15h0m2-29h0m1 2h0m0 28h0m1-22h0m4 10h0m1-13h0m1-1h0m0 10h0m2-11h0m3-11h0m0 2h0m0 4h0m0 22h0m1-18h0m1 4h0m2 21h0m2-25h0m0 11h0m3 16h0m2-22h0m1 17h0m5-33h0m0 17h0m1 12h0m0 5h0m1-24h0m2 7h0m1 18h0m4-31h0m1 7h0m1-7h0m0 9h0m0 13h0m0 1h0m1-22h0m2 1h0m1 8h0m0 21h0m1-3h0m1-3h0m1-25h0m1 13h0m0 0h0m0 17h0m1-22h0m1 11h0m0 15h0m1-33h0m0 8h0m0 7h0m2-14h0m1 5h0m0 3h0m0 5h0m1 0h0m0 11h0m1-4h0m0 11h0m1-29h0m1-2h0m1 5h0m0 1h0m2 3h0m1 5h0m0 15h0m1-6h0m1-14h0m0 8h0m1 7h0m1-23h0m1-4h0m0 24h0m1-14h0m0 7h0m0 10h0m0 1h0m2-16h0m1 16h0m1-8h0m1-21h0m0 13h0m0 7h0m1 9h0m2-16h0m0 23h0m1-37h0m0 9h0m0 24h0m1-3h0m1-23h0m0 1h0m0 0h0m0 4h0m1-10h0m0 7h0m0 10h0m0 16h0m0 2h0m1-34h0m0 4h0m0 1h0m0 2h0m1 14h0m4-2h0m1 2h0m0 3h0m0 5h0m2-15h0m2-5h0m0 13h0m1 2h0m1 11h0m1-6h0m2-18h0m1 13h0m1-27h0m0 8h0m1 8h0m0 19h0m1-7h0m1-29h0m0 6h0m0 22h0m1-27h0m0 35h0m3-30h0m0 14h0m1-16h0m0 4h0m1 22h0m1-7h0m2-15h0m1 13h0m2-3h0m1 20h0m2-33h0m0 25h0m0 0h0m2 1h0m0 6h0m0 2h0m4-33h0m4 21h0m1-27h0m0 27h0m1-10h0m1 8h0m3-7h0m0 20h0m1-12h0m0 8h0m1-29h0m0 11h0m0 4h0m0 10h0m2-10h0m0 16h0m2-6h0m1-23h0m1 3h0m0 7h0m2 19h0m1-11h0m4-25h0m1 8h0m1-2h0m3 14h0m1-14h0m1 17h0m3-15h0m1 31h0m2-4h0m0 2h0m5-26h0m5 9h0m0 15h0m1-25h0m4-3h0m0 14h0m0 9h0m2-26h0m0 20h0m0 11h0m1-4h0m8 0h0m1-23h0m1-1h0m1 16h0m0 13h0m2-26h0m1-4h0m0 33h0m4-39h0m0 13h0m5 9h0m8-3h0m4 18h0m5-5h0m1-4h0m1-21h0m15 24h0m2-27h0m3 29h0m4-16h0m3-12h0m0 33h0m1-6h0m20-30h0m1 27h0m20-14h0m10 13h0m3-9h0m11 11h0m23 6h0m11-15h0m1-21h0m6 13h0m6-13h0m3 16h0m11 20h0m5-5h0m5-5h0m-556 51h0m4-14h0m6 0h0m8-21h0m1 6h0m8 9h0m4 4h0m2-17h0m0 2h0m10 2h0m5 14h0m3 2h0m1-13h0m2-6h0m0 3h0m4-3h0m2 31h0m6-23h0m2-10h0m2 2h0m0 4h0m0 8h0m1 15h0m1-10h0m4 2h0m1 1h0m1-18h0m1 9h0m1-12h0m6 28h0m2 2h0m1-32h0m1 13h0m1-1h0m0 16h0m1-22h0m0 15h0m1 16h0m3-10h0m1-9h0m1 18h0m1-38h0m1 9h0m0 10h0m5-2h0m8 4h0m0 16h0m2-6h0m1 3h0m0 0h0m2-28h0m5 15h0m3-13h0m0 17h0m1-4h0m6-3h0m3 9h0m1-8h0m0 17h0m2-18h0m0 17h0m3-4h0m1-16h0m3-11h0m4 32h0m1-8h0m2-19h0m0 0h0m5-9h0m0 15h0m2 6h0m4-16h0m9 30h0m2-20h0m1-3h0m2 10h0m2-3h0m2-4h0m2-13h0m3 31h0m2-7h0m1-26h0m0 21h0m0 1h0m1 14h0m2-30h0m0 14h0m3-16h0m0 3h0m1 2h0m0 4h0m1 19h0m1-32h0m2 32h0m1-5h0m1-24h0m0 12h0m1-7h0m1-3h0m0 28h0m1-10h0m0 11h0m1-19h0m0 9h0m1-18h0m2 15h0m2-19h0m0 1h0m0 28h0m1-10h0m0 14h0m4-11h0m2-9h0m0 9h0m0 6h0m1-25h0m0 4h0m2 18h0m1-24h0m0 31h0m1-22h0m1-2h0m1 21h0m0 4h0m2 3h0m1-4h0m1-34h0m0 2h0m0 1h0m0 12h0m3-2h0m1 3h0m4-11h0m5 30h0m1-19h0m2 12h0m0 9h0m0 1h0m2-34h0m0 27h0m2-1h0m1-11h0m1-13h0m3 1h0m0 22h0m0 10h0m1-28h0m1 12h0m1-13h0m0 7h0m0 3h0m2-7h0m0 14h0m1-8h0m0 9h0m1-13h0m0 0h0m1 9h0m1 13h0m1-10h0m0 1h0m0 3h0m1-25h0m0 23h0m3-5h0m1-17h0m4 3h0m1-7h0m0 17h0m0 4h0m1 13h0m1-17h0m0 12h0m3-6h0m2 5h0m2 4h0m1-11h0m0 15h0m2-1h0m1-2h0m1-31h0m1 18h0m0 12h0m3-27h0m2 18h0m6-11h0m2-11h0m2 12h0m2 2h0m3-3h0m1-7h0m1 6h0m1 3h0m2 4h0m2-21h0m2 18h0m4-12h0m3 20h0m6-19h0m0 7h0m4 3h0m1-3h0m1-12h0m0 12h0m2-8h0m1-6h0m0 14h0m1-5h0m3-6h0m6 15h0m6 11h0m2 9h0m6-32h0m1 10h0m6 14h0m12-19h0m8 5h0m0 18h0m2-14h0m2-2h0m10-11h0m30-6h0m19 32h0m43-15h0m10 13h0m6 7h0m43-34h0m5 13h0m5 18h0m6-31h0m10 22h0m-577 25h0m5 20h0m4-31h0m28 14h0m7 8h0m10 8h0m0 0h0m6-30h0m1 29h0m9-23h0m7 4h0m16 12h0m1-17h0m5-5h0m7 9h0m6 13h0m3-20h0m1 12h0m7-14h0m1 9h0m1 19h0m2-17h0m0 21h0m1-25h0m0 18h0m3-15h0m2 3h0m6-3h0m0 8h0m2-3h0m6-3h0m5 17h0m1 5h0m7-8h0m1-19h0m0 6h0m1 11h0m1-23h0m1 26h0m1-13h0m2 18h0m8-30h0m7-1h0m0 3h0m4-1h0m2 7h0m3 9h0m4 11h0m6-9h0m4-2h0m1-3h0m8 12h0m9-26h0m2 1h0m3 1h0m1 26h0m3-25h0m1 0h0m0 17h0m9-18h0m3 13h0m2-15h0m1 2h0m1 12h0m12-2h0m6-7h0m0 12h0m1-9h0m2-6h0m0 5h0m1-8h0m0 19h0m1-18h0m1 2h0m2 4h0m3-3h0m2-5h0m3 11h0m2-5h0m7 11h0m4 15h0m2-30h0m6 18h0m2-9h0m2 1h0m2 3h0m7-10h0m1 9h0m1-7h0m11 22h0m5-17h0m14-3h0m11-5h0m1 11h0m16 5h0m17 4h0m12-1h0m8-22h0m17 15h0m41 11h0m31-17h0m5-7h0m5 17h0m16-4h0m23-8h0m4 22h0m12-10h0m4-11h0"/>
<path transform="scale(.1)" fill="none" stroke="#9a1414" stroke-width="7.0" stroke-linecap="square" stroke-opacity="0.6" d="M3217 1399h0m74-23h0m13 13h0m99 9h0m3-22h0m18 3h0m21-8h0m0 25h0m11-5h0m0 7h0m6-11h0m16-1h0m6 1h0m32-3h0m18-10h0m16 0h0m5 25h0m5-11h0m13-14h0m-453 62h0m5-3h0m12-12h0m1 9h0m14-19h0m6 18h0m2-5h0m10 14h0m7 0h0m12-9h0m10-12h0m11-10h0m8 17h0m4-18h0m1 12h0m1 19h0m4-20h0m2 0h0m3 8h0m1-23h0m2 25h0m10 6h0m8-13h0m4 19h0m1-7h0m7 6h0m1-24h0m4 16h0m2-16h0m3-8h0m1 14h0m0 17h0m2-3h0m1-2h0m0 7h0m3-1h0m1-21h0m0 12h0m3 8h0m1-1h0m5-1h0m1-13h0m1 15h0m0 0h0m4 0h0m9-7h0m2 5h0m1-13h0m7 11h0m1-8h0m3 8h0m2 1h0m0 1h0m5-3h0m7 0h0m0 2h0m1-20h0m1 17h0m0 2h0m3-22h0m3 22h0m1 0h0m5-3h0m0 2h0m1 4h0m1-10h0m9-26h0m1 4h0m3 1h0m2-1h0m0 14h0m6 14h0m1-5h0m12-8h0m9 6h0m1-15h0m8-9h0m0 27h0m2-8h0m1-8h0m0 13h0m10 0h0m11-7h0m1 3h0m1 6h0m3-3h0m3-19h0m1 17h0m3-17h0m7 17h0m3 2h0m1-3h0m6-1h0m4-13h0m4 3h0m0 10h0m2 3h0m2-3h0m1-9h0m2 8h0m8 2h0m1-1h0m4-2h0m9 0h0m1-7h0m4 1h0m1 5h0m4 1h0m1-1h0m2 3h0m4-3h0m0 2h0m6 0h0m5 3h0m1-4h0m0 0h0m1 1h0m7-2h0m7 3h0m5-3h0m0 1h0m9 0h0m1-9h0m0 9h0m3-6h0m1 8h0m0 3h0m3-22h0m0 20h0m5 1h0m1 0h0m4 0h0m1 2h0m7 2h0m1 3h0m2-3h0m1 0h0m2-19h0m1 16h0m5 9h0m1-6h0m2 9h0m0 0h0m2-14h0m1 13h0m0 1h0m6-9h0m1 8h0m1-4h0m1-14h0m3 1h0m1-1h0m1 12h0m6-10h0m2 14h0m0 2h0m9-4h0m2-1h0m0 5h0m1-10h0m6-13h0m0 19h0m-527 21h0m1 22h0m1-8h0m3-15h0m4 12h0m0 2h0m1 0h0m1-6h0m3-3h0m1-1h0m2-1h0m1-11h0m1 13h0m2-7h0m6 3h0m0 1h0m5-1h0m0 2h0m5-6h0m1 0h0m2-1h0m1 3h0m5-3h0m0 0h0m1-1h0m4 0h0m19 3h0m5-4h0m1-1h0m4 0h0m0 4h0m8-5h0m1 2h0m0 2h0m3-3h0m6-1h0m9 1h0m0 1h0m0 1h0m14-2h0m3-1h0m1 0h0m15-1h0m0 0h0m1-1h0m13 1h0m0 0h0m34-1h0m300 0h0m5 1h0m4 3h0m1 1h0m0 5h0m2-3h0m2-7h0m1 24h0m0 15h0m1-23h0m1-8h0m0 4h0m1 23h0m1-13h0m1 16h0m1-18h0m0 1h0m0 13h0m1-9h0m0 0h0m1 2h0m0 12h0m4-25h0m1 16h0m9-30h0m0 0h0m21 21h0m3-2h0m-63 57h0m0 3h0m3-13h0m2 4h0m4-3h0m2-2h0m9-17h0m0 3h0m1-11h0m25 20h0m2-11h0m1 1h0m-86 68h0m3-2h0m1-1h0m2 2h0m1-8h0m1 1h0m1 1h0m9-10h0m1-3h0m4-5h0m0 2h0m0 1h0m0 12h0m3-21h0m3 24h0m2-27h0m2-2h0m0 12h0m0 14h0m1-16h0m3-1h0m9-8h0m2 27h0m1-28h0m11-1h0m5 0h0m2 32h0m-97 44h0m7-9h0m3-5h0m1-1h0m1-2h0m1-1h0m4-6h0m4-6h0m2-1h0m1 29h0m3-13h0m7-6h0m2 4h0m1-12h0m2 13h0m6-1h0m0 7h0m3 7h0m1 4h0m16-34h0m-483 42h0m1 0h0m0 16h0m2 5h0m2 3h0m0 0h0m0 1h0m2-5h0m2 3h0m1 4h0m6-1h0m2 5h0m4-3h0m6-1h0m1 1h0m4-3h0m18-2h0m1-1h0m11 9h0m2-11h0m2-4h0m1 0h0m1 3h0m4 0h0m1-2h0m0 7h0m1-7h0m2-2h0m0 7h0m3 3h0m1-9h0m3 2h0m0 9h0m1-9h0m2-1h0m1 0h0m1 2h0m6 1h0m1-2h0m1-1h0m1 2h0m9 2h0m8 0h0m1 1h0m0 9h0m2-10h0m2 0h0m2 3h0m0 0h0m5 0h0m4 2h0m1-2h0m1-1h0m1 1h0m0 5h0m1 4h0m2-10h0m3 5h0m3-2h0m0 3h0m8 2h0m3-2h0m1 2h0m12 2h0m212-2h0m2-4h0m2-1h0m6-2h0m2 9h0m1-21h0m1 6h0m0 15h0m9-27h0m0 24h0m5-16h0m4-17h0m0 30h0m2-30h0m4 26h0m1-21h0m4 29h0m1-29h0m5 31h0m43-33h0m-465 53h0m3-13h0m10-3h0m1 16h0m5-15h0m3 15h0m3-1h0m9 10h0m3-15h0m13 5h0m2 2h0m6-8h0m8-11h0m3 36h0m3-23h0m7 7h0m3-11h0m13 24h0m6-26h0m5 4h0m0 25h0m2-15h0m1 1h0m7-4h0m9-7h0m2-5h0m1-7h0m0 37h0m1-7h0m4-17h0m5-5h0m1 20h0m6-8h0m2-17h0m1 23h0m0 1h0m2-4h0m4-23h0m0 4h0m1-1h0m0 23h0m3-15h0m1-10h0m0 29h0m1-26h0m2-3h0m9 23h0m0 6h0m2-25h0m5 1h0m4 4h0m1 0h0m0 4h0m3 7h0m1 1h0m1-6h0m0 1h0m3 3h0m1-4h0m1 6h0m0 6h0m1-8h0m0 3h0m0 1h0m1-4h0m2 6h0m0 0h0m2 0h0m2 4h0m0 1h0m134 0h0m0 7h0m6-11h0m1 11h0m10-17h0m1-1h0m0 2h0m0 7h0m4-17h0m1 3h0m2-7h0m1 0h0m0 5h0m1 9h0m1-11h0m2-2h0m3-6h0m1-1h0m7 15h0m16 1h0m2 6h0m1 4h0m2-27h0m1 12h0m11-5h0m3-1h0m5 1h0m3 3h0m-427 31h0m67-1h0m50 2h0m19 13h0m7-10h0m20-1h0m15 7h0m9 4h0m0 1h0m10-12h0m0 2h0m18-5h0m6 12h0m1-11h0m1 3h0m4 18h0m5-1h0m1-9h0m1 5h0m4 8h0m5-6h0m0 1h0m0 12h0m3-12h0m4 6h0m0 1h0m1 0h0m1 3h0m1-7h0m0 2h0m12 10h0m5 1h0m0 1h0m29-2h0m0 2h0m2 0h0m2-5h0m2-1h0m1 1h0m3-4h0m10 3h0m1-13h0m1-2h0m1 1h0m0 4h0m2 16h0m1-24h0m4 17h0m4-26h0m2 1h0m2 1h0m3 5h0m2 19h0m1-1h0m4-27h0m4 11h0m3-2h0m4 4h0m3-16h0m5 31h0m-149 11h0m8 0h0m1 21h0m6-16h0m13 11h0m1-14h0m5 9h0m9 13h0m13-27h0m1 3h0m2 2h0m1-5h0m2 16h0m0 5h0m0 17h0m1-36h0m1 7h0m2-3h0m1-4h0m4 0h0m0 14h0m2-9h0m1-5h0m1 1h0m7 15h0m2-9h0m6-5h0m1-1h0m2 9h0m6-5h0"/>
<path d="M311.00 146.50L311.67 145.82L312.51 145.29L313.49 144.90L314.59 144.63L315.79 144.45L317.06 144.34L318.39 144.29L319.74 144.26L321.10 144.24L322.45 144.20L323.75 144.13L325.00 144.00L326.22 143.84L327.48 143.69L328.75 143.54L330.04 143.41L331.33 143.28L332.62 143.16L333.91 143.04L335.19 142.93L336.44 142.82L337.66 142.71L338.85 142.60L340.00 142.50L341.12 142.39L342.23 142.28L343.33 142.16L344.41 142.04L345.47 141.92L346.50 141.81L347.51 141.71L348.48 141.63L349.42 141.56L350.32 141.52L351.18 141.49L352.00 141.50L352.77 141.53L353.50 141.56L354.20 141.62L354.85 141.69L355.47 141.77L356.06 141.88L356.62 142.00L357.15 142.15L357.65 142.32L358.12 142.52L358.57 142.74L359.00 143.00L359.42 143.28L359.84 143.60L360.24 143.93L360.63 144.30L360.99 144.68L361.31 145.09L361.59 145.53L361.81 145.98L361.98 146.46L362.07 146.95L362.08 147.47L362.00 148.00L361.82 148.56L361.54 149.15L361.18 149.77L360.74 150.41L360.24 151.07L359.69 151.75L359.10 152.44L358.48 153.15L357.85 153.86L357.22 154.57L356.60 155.29L356.00 156.00L355.40 156.72L354.77 157.47L354.12 158.23L353.44 159.00L352.76 159.78L352.06 160.56L351.36 161.34L350.67 162.11L349.98 162.87L349.30 163.60L348.64 164.32L348.00 165.00L347.38 165.68L346.75 166.38L346.13 167.08L345.52 167.78L344.91 168.46L344.31 169.12L343.72 169.75L343.15 170.33L342.59 170.86L342.04 171.32L341.51 171.70L341.00 172.00L340.52 172.21L340.07 172.35L339.66 172.43L339.26 172.44L338.88 172.40L338.50 172.31L338.12 172.18L337.74 172.00L337.34 171.79L336.93 171.55L336.48 171.28L336.00 171.00L335.49 170.66L334.97 170.25L334.44 169.77L333.89 169.24L333.33 168.68L332.75 168.09L332.16 167.51L331.56 166.93L330.94 166.37L330.31 165.86L329.66 165.39L329.00 165.00L328.32 164.66L327.62 164.35L326.89 164.07L326.15 163.81L325.39 163.58L324.62 163.38L323.85 163.19L323.07 163.02L322.30 162.87L321.52 162.73L320.76 162.61L320.00 162.50L319.22 162.46L318.40 162.54L317.54 162.70L316.67 162.91L315.79 163.13L314.94 163.34L314.11 163.51L313.33 163.59L312.62 163.57L311.98 163.40L311.43 163.05L311.00 162.50L310.64 161.68L310.32 160.60L310.04 159.31L309.81 157.85L309.65 156.28L309.56 154.66L309.55 153.02L309.63 151.43L309.80 149.93L310.09 148.57L310.48 147.41Z" fill="url(#g_b3)" filter="url(#rough)"/>
<path transform="scale(.1)" fill="none" stroke="#a81a1a" stroke-width="7.0" stroke-linecap="square" stroke-opacity="0.7" d="M3553 1392h0m-438 46h0m26 0h0m3-2h0m6-5h0m23 3h0m38-2h0m7 7h0m22-1h0m5-3h0m2 3h0m4-12h0m13 13h0m14 0h0m8-3h0m3-5h0m8-3h0m0 9h0m7 0h0m4 1h0m2-15h0m0 7h0m0 8h0m4 1h0m2-15h0m8-1h0m1 8h0m1-1h0m3-4h0m6-6h0m1 3h0m9 9h0m1-1h0m5-5h0m5 4h0m1 5h0m1-14h0m5 16h0m4-8h0m2-1h0m4-4h0m1-10h0m3 20h0m3-5h0m1-7h0m0 2h0m1 3h0m13 10h0m2-10h0m10 3h0m3-1h0m4-4h0m2 12h0m2-21h0m0 0h0m1-3h0m4 24h0m1-24h0m3-4h0m2 18h0m6-4h0m8 10h0m5-9h0m3-3h0m2-11h0m9 3h0m4 8h0m1 9h0m8-12h0m2 8h0m5-19h0m8 22h0m5-9h0m3 8h0m4-21h0m0 16h0m3 13h0m3-33h0m5 15h0m4 1h0m8 12h0m2-11h0m5 0h0m1-13h0m0 26h0m5-11h0m2 5h0m1-8h0m3-12h0m0 10h0m6-5h0m1 2h0m0 5h0m1 9h0m7-12h0m1-9h0m4 30h0m15-14h0m0 2h0m0 2h0m1 10h0m4-8h0m0 4h0m4-4h0m3-2h0m1 11h0m6-11h0m8 11h0m5 0h0m1-7h0m-500 26h0m0 13h0m1-10h0m0 0h0m8-4h0m6 13h0m3-15h0m2 6h0m7-12h0m1-2h0m7 2h0m2-2h0m1-1h0m7 14h0m3 1h0m9-11h0m0 10h0m12-8h0m1-10h0m12 5h0m1 15h0m2-21h0m0 3h0m1 2h0m8 2h0m11 1h0m2-3h0m6 1h0m4-5h0m1 4h0m4-1h0m6 8h0m6-9h0m0 15h0m5 0h0m1-15h0m4 18h0m4-13h0m34-2h0m12-2h0m17 4h0m37-5h0m2 0h0m92-2h0m139 1h0m2 4h0m5 3h0m1 3h0m4 2h0m1 7h0m3-6h0m1-14h0m0 1h0m2 7h0m2-7h0m0 33h0m1-13h0m2-13h0m7 21h0m-514 32h0m10-21h0m455 32h0m18-10h0m1-9h0m2 23h0m1-20h0m6-5h0m0 6h0m3 6h0m1-17h0m1 13h0m0 1h0m3-13h0m1-1h0m2 12h0m3-4h0m2 12h0m1-16h0m10-3h0m1 6h0m-520 28h0m0 14h0m1 5h0m2 12h0m8 0h0m437 1h0m4-6h0m3 10h0m5-4h0m1 2h0m2-2h0m1-25h0m0 17h0m4-26h0m1 19h0m5-15h0m2 23h0m2-12h0m1-8h0m-481 39h0m23 31h0m389 0h0m12-1h0m2-20h0m3 9h0m1-1h0m1-6h0m2-1h0m1-8h0m0 14h0m2 15h0m4-5h0m3-23h0m5-7h0m1 0h0m3 11h0m1-9h0m19-5h0m-471 61h0m1-1h0m1-14h0m0 6h0m0 11h0m3-9h0m1 3h0m6 16h0m2-4h0m4-2h0m7 8h0m6-5h0m1 2h0m3-3h0m2 6h0m7-2h0m6 0h0m1-12h0m6 0h0m4 5h0m2 4h0m4-14h0m0 20h0m2-19h0m6 9h0m3-9h0m2-6h0m0 3h0m0 6h0m1 14h0m1-3h0m1 8h0m3-12h0m5-7h0m7 1h0m20 18h0m1-19h0m3 15h0m4-10h0m4 0h0m0 11h0m8-6h0m0 4h0m5-2h0m1-21h0m2 27h0m3-30h0m1 25h0m1 0h0m1 5h0m12-12h0m1 12h0m5 1h0m5 0h0m192-12h0m1-4h0m7-7h0m5 14h0m0 5h0m1-4h0m0 5h0m6-26h0m2 28h0m4-27h0m2 16h0m3-11h0m1-1h0m2 14h0m1-4h0m1 0h0m6-12h0m2-8h0m1 14h0m3-16h0m5 14h0m1-11h0m1-4h0m2 5h0m-425 41h0m11-8h0m6 0h0m9 2h0m25 8h0m36-10h0m24 4h0m0 3h0m20-7h0m11 4h0m0 0h0m2 3h0m19-2h0m0 21h0m3-22h0m0 3h0m2-7h0m12 7h0m0 0h0m4 8h0m1-2h0m3-6h0m3 20h0m3-9h0m16-9h0m1 21h0m1 8h0m7-2h0m5 3h0m3-3h0m111-7h0m2 4h0m7-5h0m7 1h0m3-14h0m1 10h0m0 8h0m3-26h0m5 8h0m1 20h0m6-27h0m0 4h0m13-4h0m-176 42h0m0 13h0m7-11h0m6 9h0m2-6h0m0 3h0m5-14h0m5 12h0m1-8h0m2 16h0m1-17h0m4 21h0m2-11h0m3-3h0m3 15h0m4-8h0m4 16h0m2-4h0m4 2h0m0 0h0m2-2h0m17 5h0m6 0h0m3-5h0m10 5h0m1-17h0m0 9h0m2-10h0m2 19h0m6-2h0m1-6h0m4-6h0m6 4h0m1 1h0m1-28h0m0 16h0m2-9h0m0 11h0m13-7h0m0 9h0m1-20h0m2 10h0m4-12h0m-108 41h0m13 0h0m4-1h0m3 22h0m2-19h0m3-1h0m21 7h0m1 0h0m2 4h0m6-3h0m5 2h0m11-9h0"/>
<line x1="310.00" y1="119.30" x2="310.00" y2="196.40" stroke="#333" stroke-width="0.9"/>
<line x1="309.60" y1="196.00" x2="385.70" y2="196.00" stroke="#333" stroke-width="0.9"/>
<path fill="none" stroke="#333" stroke-width="0.8" d="M307.70 127.30L310.00 127.30M307.70 145.80L310.00 145.80M307.70 164.70L310.00 164.70M307.70 183.50L310.00 183.50M312.10 196.00L312.10 198.30M329.00 196.00L329.00 198.30M345.90 196.00L345.90 198.30M362.80 196.00L362.80 198.30M379.70 196.00L379.70 198.30"/>
<path fill="none" stroke="#333" stroke-width="0.5" d="M308.90 119.94L310.00 119.94M308.90 121.73L310.00 121.73M308.90 123.20L310.00 123.20M308.90 124.43L310.00 124.43M308.90 125.51L310.00 125.51M308.90 126.45L310.00 126.45M308.90 132.87L310.00 132.87M308.90 136.13L310.00 136.13M308.90 138.44L310.00 138.44M308.90 140.23L310.00 140.23M308.90 141.70L310.00 141.70M308.90 142.93L310.00 142.93M308.90 144.01L310.00 144.01M308.90 144.95L310.00 144.95M308.90 151.37L310.00 151.37M308.90 154.63L310.00 154.63M308.90 156.94L310.00 156.94M308.90 158.73L310.00 158.73M308.90 160.20L310.00 160.20M308.90 161.43L310.00 161.43M308.90 162.51L310.00 162.51M308.90 163.45L310.00 163.45M308.90 169.87L310.00 169.87M308.90 173.13L310.00 173.13M308.90 175.44L310.00 175.44M308.90 177.23L310.00 177.23M308.90 178.70L310.00 178.70M308.90 179.93L310.00 179.93M308.90 181.01L310.00 181.01M308.90 181.95L310.00 181.95M308.90 188.37L310.00 188.37M308.90 191.63L310.00 191.63M308.90 193.94L310.00 193.94M311.33 196.00L311.33 197.10M317.19 196.00L317.19 197.10M320.16 196.00L320.16 197.10M322.27 196.00L322.27 197.10M323.91 196.00L323.91 197.10M325.25 196.00L325.25 197.10M326.38 196.00L326.38 197.10M327.36 196.00L327.36 197.10M328.23 196.00L328.23 197.10M334.09 196.00L334.09 197.10M337.06 196.00L337.06 197.10M339.17 196.00L339.17 197.10M340.81 196.00L340.81 197.10M342.15 196.00L342.15 197.10M343.28 196.00L343.28 197.10M344.26 196.00L344.26 197.10M345.13 196.00L345.13 197.10M350.99 196.00L350.99 197.10M353.96 196.00L353.96 197.10M356.07 196.00L356.07 197.10M357.71 196.00L357.71 197.10M359.05 196.00L359.05 197.10M360.18 196.00L360.18 197.10M361.16 196.00L361.16 197.10M362.03 196.00L362.03 197.10M367.89 196.00L367.89 197.10M370.86 196.00L370.86 197.10M372.97 196.00L372.97 197.10M374.61 196.00L374.61 197.10M375.95 196.00L375.95 197.10M377.08 196.00L377.08 197.10M378.06 196.00L378.06 197.10M378.93 196.00L378.93 197.10M384.79 196.00L384.79 197.10"/>
<path transform="scale(.1)" fill="none" stroke="#b84848" stroke-width="6.0" stroke-linecap="square" stroke-opacity="0.55" d="M4810 1232h0m89-17h0m5 9h0m20 73h0m2 5h0m-88 27h0m112 16h0m35-7h0m-622 97h0m37 4h0m61-16h0m26-2h0m74 2h0m130 4h0m-337 51h0m78-29h0m36 30h0m1-25h0m27 22h0m15-6h0m1 2h0m20 1h0m80-23h0m35 14h0m50 4h0m-334 45h0m7-2h0m46-3h0m52-1h0m13-13h0m37-1h0m0 24h0m11-28h0m65 11h0m20 5h0m66-2h0m-321 19h0m11 32h0m4-33h0m12 12h0m33 20h0m3 2h0m39 0h0m4-14h0m18 4h0m32 2h0m211 8h0m-347 38h0m42-13h0m3-9h0m8 20h0m28 6h0m27-6h0m25-22h0m45 24h0m2-2h0m71 7h0m-277 24h0m15 17h0m9-17h0m11-19h0m2 5h0m17 5h0m18 12h0m312-6h0m-358 49h0m62-22h0m13 14h0m34-13h0m27 1h0m202 11h0m3-13h0m3 4h0m41 29h0m14-35h0m-419 44h0m6 12h0m15-6h0m11 14h0m4 5h0m35 2h0m269-7h0m19-11h0m2-11h0m0 7h0m33-2h0m-397 49h0m9 16h0m70-35h0m3 37h0m30-17h0m1-11h0m49-2h0m166 4h0m20 23h0m12-32h0m14 22h0m8-23h0m32 2h0m-414 39h0m6 1h0m39 3h0m80 9h0m6 17h0m14-27h0m2 23h0m170-15h0m5 4h0m33-11h0m4 13h0m32 3h0m5 0h0m-393 43h0m21-26h0m5 17h0m14-16h0m18 32h0m11-28h0m14 11h0m21-5h0m45-7h0m222 19h0m25-19h0m-402 36h0m389 17h0m-40 50h0"/>
<path transform="scale(.1)" fill="none" stroke="#9a1414" stroke-width="7.0" stroke-linecap="square" stroke-opacity="0.6" d="M4615 1199h0m93 0h0m82-4h0m-356 41h0m17-9h0m8 0h0m17-12h0m3 19h0m8 2h0m30-4h0m1 7h0m20-4h0m2-8h0m8-9h0m2-9h0m11 8h0m11-1h0m3 22h0m1-14h0m3 7h0m2-14h0m1 2h0m7 8h0m7 0h0m7-23h0m1 7h0m0 21h0m4-14h0m0 2h0m13 2h0m2 5h0m0 12h0m1-17h0m7 16h0m1-2h0m2-2h0m4-21h0m1-1h0m0 26h0m1-6h0m8 0h0m1 4h0m1-6h0m1-8h0m3 17h0m1-9h0m3 2h0m4 4h0m1-17h0m3 15h0m8 0h0m0 2h0m2-32h0m1 30h0m1-15h0m1 3h0m1 10h0m3-12h0m0 10h0m4-5h0m0 12h0m1-2h0m3-3h0m0 2h0m4-3h0m0 1h0m15-1h0m4 0h0m3-12h0m1 11h0m0 2h0m6-26h0m5 1h0m0 25h0m3-15h0m1 13h0m3-22h0m10 20h0m3-11h0m2-6h0m5-10h0m0 28h0m6-24h0m0 23h0m1 4h0m2-11h0m3 8h0m7 0h0m2 2h0m2-10h0m5-10h0m0 18h0m2-1h0m4 1h0m7 10h0m2-37h0m2 3h0m0 26h0m2-23h0m1 7h0m5 19h0m2-3h0m2 2h0m2 4h0m1-3h0m2 2h0m1-14h0m0 15h0m4 1h0m3-16h0m3 17h0m3-2h0m1-19h0m4-6h0m0 17h0m7 10h0m15-21h0m-512 49h0m13 8h0m4 1h0m22-32h0m3 25h0m16-2h0m1-13h0m0 23h0m1-2h0m3-1h0m1-24h0m2 24h0m5-16h0m1 0h0m0 15h0m3-6h0m3 7h0m5-6h0m0 2h0m2 4h0m1-13h0m2-10h0m5 16h0m1 1h0m1-13h0m1 18h0m4-17h0m0 10h0m5-8h0m1-14h0m1 13h0m3 9h0m5-16h0m3 15h0m3-12h0m4 10h0m0 1h0m1-2h0m22-14h0m5-5h0m10 12h0m2 0h0m2-13h0m2 13h0m4-10h0m6 11h0m3-4h0m2 3h0m3-2h0m2-4h0m5 4h0m2-5h0m2 2h0m2 1h0m10 0h0m4 0h0m1-5h0m6-1h0m1 4h0m17-2h0m4-1h0m2-3h0m8 5h0m1-3h0m5-2h0m6 1h0m1-1h0m2 0h0m2-1h0m3-2h0m1 5h0m6-5h0m6 0h0m4 1h0m10-1h0m2 0h0m0 0h0m4 4h0m172-4h0m5 4h0m0 33h0m4-34h0m0 30h0m1-5h0m2-26h0m1 3h0m0 21h0m1-7h0m1 3h0m0 3h0m1-18h0m1 14h0m3-11h0m1-2h0m6 1h0m7 6h0m4-6h0m-516 60h0m1-12h0m1-2h0m2-11h0m7 7h0m4-2h0m0 1h0m5-5h0m2 2h0m3-5h0m1 6h0m1-6h0m0 0h0m0 2h0m3 0h0m7-4h0m397 35h0m5 1h0m3-4h0m1 0h0m2-3h0m7-9h0m0 6h0m3-2h0m1 0h0m0 10h0m1 1h0m1-11h0m2-5h0m1 19h0m3 1h0m1-26h0m0 1h0m3 0h0m0 5h0m4-13h0m0 10h0m3-15h0m1 13h0m4-13h0m6 17h0m2 11h0m1-29h0m6 14h0m-133 59h0m4 3h0m3 0h0m2-1h0m4-3h0m4-2h0m12-8h0m8 7h0m0 1h0m1-10h0m3-3h0m1 9h0m2-9h0m4 6h0m1-4h0m0 0h0m8-12h0m6-5h0m0 21h0m8-2h0m3-3h0m5-4h0m23-12h0m9 18h0m-219 59h0m5-4h0m1-1h0m7 3h0m5-6h0m8-4h0m11 0h0m0 0h0m3 1h0m3-5h0m3 15h0m1-20h0m2 1h0m1 3h0m3 3h0m4-6h0m1 6h0m2-2h0m3-4h0m2-8h0m0 4h0m0 2h0m3-1h0m0 9h0m1-13h0m1 2h0m2 9h0m0 10h0m2 0h0m2-4h0m2-18h0m2-1h0m2 1h0m3-3h0m4-2h0m2 5h0m1-10h0m0 9h0m1-7h0m0 2h0m4-3h0m2 16h0m3-17h0m5 22h0m1-11h0m18 14h0m7-25h0m12 7h0m-398 41h0m1 5h0m1 8h0m1-4h0m1 2h0m2 2h0m2 13h0m4-14h0m4 8h0m3-8h0m0 14h0m5-9h0m0 0h0m6 8h0m4-5h0m1-4h0m3 3h0m2 0h0m3-6h0m4 5h0m3-6h0m0 8h0m0 4h0m2-3h0m3-1h0m5-1h0m2-1h0m0 2h0m7 1h0m0 1h0m12-3h0m0 0h0m3 8h0m1-10h0m2 0h0m0 3h0m8 0h0m3 0h0m5-3h0m0 3h0m3 8h0m1-2h0m3 0h0m1-7h0m4 7h0m16-2h0m3-8h0m2 0h0m3 14h0m5-18h0m5 2h0m14-10h0m0 6h0m1 12h0m2-11h0m3-2h0m2-1h0m3-1h0m1 3h0m3 19h0m1 0h0m1-27h0m1 5h0m3 8h0m0 11h0m2-14h0m1-10h0m0 3h0m0 2h0m1-3h0m0 12h0m1-11h0m10-5h0m0 28h0m1-25h0m4-4h0m2 4h0m2-6h0m0 4h0m0 26h0m3-26h0m1-3h0m1 24h0m1-25h0m6 20h0m7-14h0m1-11h0m0 4h0m0 0h0m1 9h0m1 1h0m1 5h0m1-15h0m0 2h0m0 4h0m2 0h0m2 14h0m3-21h0m4 26h0m5-24h0m1 13h0m1-7h0m22-10h0m5 2h0m7 15h0m7-15h0m10 5h0m10 14h0m-304 37h0m3-9h0m9-10h0m10 0h0m7 11h0m11 16h0m5-19h0m4 11h0m1-10h0m12-10h0m0 37h0m7-33h0m8 0h0m4-1h0m16-2h0m0 26h0m9-12h0m4-14h0m7 3h0m3 0h0m26 21h0m21-25h0m66 26h0"/>
<path d="M434.50 130.00L435.00 129.44L435.61 128.97L436.33 128.56L437.13 128.22L438.00 127.93L438.94 127.69L439.92 127.47L440.93 127.28L441.95 127.09L442.98 126.91L444.00 126.72L445.00 126.50L446.00 126.28L447.03 126.07L448.10 125.88L449.19 125.70L450.29 125.54L451.41 125.38L452.53 125.22L453.65 125.07L454.76 124.93L455.86 124.79L456.94 124.64L458.00 124.50L459.04 124.35L460.09 124.21L461.14 124.06L462.19 123.91L463.22 123.77L464.25 123.64L465.26 123.51L466.26 123.39L467.23 123.27L468.19 123.17L469.11 123.08L470.00 123.00L470.87 122.93L471.72 122.87L472.55 122.81L473.37 122.77L474.17 122.73L474.94 122.70L475.69 122.68L476.41 122.68L477.10 122.69L477.77 122.71L478.40 122.75L479.00 122.80L479.58 122.87L480.14 122.95L480.68 123.04L481.20 123.14L481.70 123.26L482.16 123.39L482.58 123.53L482.96 123.69L483.30 123.87L483.59 124.06L483.82 124.27L484.00 124.50L484.12 124.75L484.20 125.02L484.22 125.30L484.20 125.61L484.14 125.93L484.03 126.26L483.88 126.61L483.69 126.97L483.45 127.34L483.17 127.72L482.86 128.11L482.50 128.50L482.10 128.91L481.65 129.34L481.15 129.78L480.61 130.24L480.03 130.71L479.41 131.19L478.75 131.67L478.06 132.15L477.33 132.62L476.58 133.09L475.80 133.55L475.00 134.00L474.16 134.44L473.27 134.88L472.34 135.32L471.37 135.77L470.37 136.20L469.34 136.64L468.30 137.06L467.24 137.48L466.18 137.88L465.11 138.27L464.05 138.64L463.00 139.00L461.94 139.34L460.86 139.68L459.75 140.01L458.63 140.32L457.50 140.63L456.38 140.92L455.25 141.20L454.15 141.46L453.06 141.70L452.00 141.92L450.98 142.12L450.00 142.30L449.05 142.46L448.11 142.60L447.18 142.72L446.28 142.83L445.39 142.91L444.53 142.98L443.70 143.03L442.89 143.06L442.11 143.08L441.37 143.07L440.67 143.04L440.00 143.00L439.37 142.96L438.76 142.93L438.18 142.90L437.63 142.87L437.11 142.81L436.62 142.73L436.17 142.61L435.76 142.43L435.38 142.20L435.05 141.89L434.75 141.49L434.50 141.00L434.27 140.37L434.06 139.60L433.87 138.71L433.70 137.72L433.58 136.67L433.50 135.59L433.48 134.51L433.52 133.44L433.63 132.43L433.83 131.50L434.11 130.68Z" fill="url(#g_b4)" filter="url(#rough)"/>
<path transform="scale(.1)" fill="none" stroke="#a81a1a" stroke-width="7.0" stroke-linecap="square" stroke-opacity="0.7" d="M4518 1237h0m27-5h0m30 3h0m31-9h0m0 4h0m2 7h0m24-7h0m3 9h0m1-14h0m0 10h0m12-1h0m8-14h0m0 16h0m1-7h0m2 7h0m6-12h0m1-2h0m2 8h0m2 2h0m3 0h0m0 1h0m23 1h0m1-23h0m4 22h0m11-2h0m1-22h0m0 16h0m2-2h0m8 1h0m1 5h0m1 8h0m5-10h0m2-5h0m2-6h0m1 9h0m1 1h0m3 11h0m4-13h0m1 3h0m0 7h0m1 2h0m7-5h0m3 2h0m2-16h0m6 10h0m2-6h0m0 13h0m3-5h0m1-3h0m4-3h0m1-4h0m2 7h0m1 12h0m2-13h0m0 3h0m1 3h0m1-3h0m0 7h0m8 2h0m4-15h0m1-1h0m0 10h0m9-23h0m0 23h0m7 0h0m19-8h0m3 2h0m2-2h0m8 12h0m-479 41h0m3-9h0m1 9h0m17-6h0m3 6h0m8 3h0m4-21h0m5 16h0m4-7h0m12 9h0m5-5h0m6-11h0m3 14h0m6-4h0m2-12h0m8 5h0m0 3h0m2 1h0m3-10h0m1 12h0m2-4h0m0 13h0m3-13h0m4-3h0m8 3h0m9-5h0m3 2h0m5-17h0m0 22h0m4-4h0m2 8h0m4-17h0m2 8h0m28-10h0m1 13h0m0 6h0m3-11h0m3-9h0m0 6h0m4-17h0m8 13h0m5 0h0m7-5h0m1-6h0m2 10h0m2-8h0m3 5h0m3 4h0m11-9h0m0 6h0m4 5h0m8-9h0m0 12h0m3-15h0m3 5h0m8-4h0m1-4h0m14 2h0m6 5h0m7-4h0m0 6h0m8-8h0m5 4h0m8-5h0m5 0h0m0 0h0m1 8h0m63-2h0m5-4h0m32-2h0m15 6h0m26-3h0m6 0h0m5 18h0m5-7h0m5 2h0m2 1h0m1-13h0m2-2h0m0 10h0m2 13h0m2-23h0m0 22h0m3 5h0m1-28h0m4 3h0m1 23h0m0 3h0m4-24h0m-498 41h0m0 8h0m1-8h0m4 5h0m6-5h0m2 1h0m0 1h0m6 4h0m1-11h0m1 2h0m4-4h0m2 0h0m11 17h0m7-16h0m3 1h0m0 8h0m15-9h0m31-1h0m315 38h0m21-10h0m5 5h0m9 2h0m1-16h0m3 0h0m1 10h0m5-12h0m4-1h0m2-9h0m2 13h0m1 9h0m1-19h0m0 0h0m1-9h0m1 3h0m0 11h0m2 4h0m2 5h0m3-20h0m0 0h0m4 5h0m3 13h0m5-19h0m-487 42h0m3-5h0m2 7h0m297 31h0m8-6h0m18-2h0m19-2h0m0 11h0m1-2h0m5-9h0m0 10h0m5 1h0m5-6h0m6-4h0m3 8h0m4-12h0m4 2h0m0 6h0m0 6h0m1-6h0m5-2h0m1 6h0m3-5h0m1-12h0m0 16h0m8-29h0m7 10h0m2 0h0m0 5h0m1 3h0m2-16h0m2-1h0m0 12h0m2-1h0m2-2h0m1-12h0m2 4h0m8-8h0m0 4h0m0 2h0m11-7h0m-438 45h0m0 31h0m1-31h0m210 27h0m16 6h0m11-1h0m3-16h0m9 12h0m6-7h0m3-5h0m3 3h0m1 10h0m0 1h0m5-7h0m3-7h0m2 16h0m2-16h0m3 10h0m1 2h0m1 0h0m2-24h0m2 26h0m2-4h0m0 0h0m14-12h0m5 8h0m8-2h0m1 11h0m0 1h0m7-18h0m2 0h0m1-13h0m1 21h0m3-22h0m0 10h0m4 7h0m1-11h0m0 0h0m7-8h0m2 2h0m3-3h0m4 7h0m2-6h0m5 5h0m3-8h0m21 2h0m-382 38h0m1 1h0m1 7h0m2 5h0m3-6h0m3 6h0m0 4h0m3 21h0m3-7h0m5-4h0m6-3h0m0 2h0m2-6h0m6 6h0m3-5h0m0 17h0m2-6h0m6-1h0m3 1h0m7-8h0m0 9h0m1-7h0m1 3h0m2 0h0m4 3h0m1-6h0m1 8h0m4-9h0m0 12h0m3-8h0m1-5h0m0 7h0m3-9h0m10 8h0m6-6h0m0 5h0m3 10h0m5-12h0m3-8h0m2 12h0m5-17h0m0 20h0m3 2h0m4-7h0m0 6h0m1-14h0m7 3h0m0 5h0m2-13h0m2 21h0m1-13h0m0 3h0m1-11h0m1 13h0m7-20h0m0 20h0m0 5h0m1-15h0m0 6h0m3 13h0m1-20h0m1-4h0m2 1h0m2 2h0m6 14h0m1-13h0m3-5h0m0 13h0m2-10h0m0 7h0m2-7h0m8-2h0m2 13h0m4-8h0m0 5h0m6-23h0m7 28h0m4-24h0m1 14h0m3-5h0m1 3h0m2-3h0m2-10h0m5 16h0m1-14h0m0 1h0m5 0h0m0 11h0m8-18h0m8 3h0m2-2h0m1 4h0m13-4h0m1 11h0m4-5h0m3 2h0m3-5h0m6-2h0m4 4h0m-203 34h0m3 0h0"/>
<line x1="433.80" y1="119.30" x2="433.80" y2="196.40" stroke="#333" stroke-width="0.9"/>
<line x1="433.40" y1="196.00" x2="507.00" y2="196.00" stroke="#333" stroke-width="0.9"/>
<path fill="none" stroke="#333" stroke-width="0.8" d="M431.50 127.30L433.80 127.30M431.50 145.80L433.80 145.80M431.50 164.70L433.80 164.70M431.50 183.30L433.80 183.30M437.90 196.00L437.90 198.30M459.00 196.00L459.00 198.30M480.20 196.00L480.20 198.30M501.30 196.00L501.30 198.30"/>
<path fill="none" stroke="#333" stroke-width="0.5" d="M432.70 119.94L433.80 119.94M432.70 121.73L433.80 121.73M432.70 123.20L433.80 123.20M432.70 124.43L433.80 124.43M432.70 125.51L433.80 125.51M432.70 126.45L433.80 126.45M432.70 132.87L433.80 132.87M432.70 136.13L433.80 136.13M432.70 138.44L433.80 138.44M432.70 140.23L433.80 140.23M432.70 141.70L433.80 141.70M432.70 142.93L433.80 142.93M432.70 144.01L433.80 144.01M432.70 144.95L433.80 144.95M432.70 151.37L433.80 151.37M432.70 154.63L433.80 154.63M432.70 156.94L433.80 156.94M432.70 158.73L433.80 158.73M432.70 160.20L433.80 160.20M432.70 161.43L433.80 161.43M432.70 162.51L433.80 162.51M432.70 163.45L433.80 163.45M432.70 169.87L433.80 169.87M432.70 173.13L433.80 173.13M432.70 175.44L433.80 175.44M432.70 177.23L433.80 177.23M432.70 178.70L433.80 178.70M432.70 179.93L433.80 179.93M432.70 181.01L433.80 181.01M432.70 181.95L433.80 181.95M432.70 188.37L433.80 188.37M432.70 191.63L433.80 191.63M432.70 193.94L433.80 193.94M434.63 196.00L434.63 197.10M435.86 196.00L435.86 197.10M436.93 196.00L436.93 197.10M444.25 196.00L444.25 197.10M447.97 196.00L447.97 197.10M450.60 196.00L450.60 197.10M452.65 196.00L452.65 197.10M454.32 196.00L454.32 197.10M455.73 196.00L455.73 197.10M456.96 196.00L456.96 197.10M458.03 196.00L458.03 197.10M465.35 196.00L465.35 197.10M469.07 196.00L469.07 197.10M471.70 196.00L471.70 197.10M473.75 196.00L473.75 197.10M475.42 196.00L475.42 197.10M476.83 196.00L476.83 197.10M478.06 196.00L478.06 197.10M479.13 196.00L479.13 197.10M486.45 196.00L486.45 197.10M490.17 196.00L490.17 197.10M492.80 196.00L492.80 197.10M494.85 196.00L494.85 197.10M496.52 196.00L496.52 197.10M497.93 196.00L497.93 197.10M499.16 196.00L499.16 197.10M500.23 196.00L500.23 197.10"/>
<text x="87.00" y="211.60" font-size="10.2" text-anchor="start" font-weight="bold" fill="#111" textLength="20.00" lengthAdjust="spacingAndGlyphs">SSC-H</text>
<text x="202.00" y="211.60" font-size="10.2" text-anchor="start" font-weight="bold" fill="#111" textLength="36.80" lengthAdjust="spacingAndGlyphs">CD10 BV421</text>
<text x="326.30" y="211.60" font-size="10.2" text-anchor="start" font-weight="bold" fill="#111" textLength="40.30" lengthAdjust="spacingAndGlyphs">CD20 PE-Cy7</text>
<text x="452.70" y="211.60" font-size="10.2" text-anchor="start" font-weight="bold" fill="#111" textLength="34.60" lengthAdjust="spacingAndGlyphs">CD38 A594</text>
<text x="50.60" y="180.80" font-size="10.2" text-anchor="start" font-weight="bold" fill="#111" textLength="42.00" lengthAdjust="spacingAndGlyphs" transform="rotate(-90 50.60 180.80)">CD45 APC-H7</text>
<text x="174.40" y="172.50" font-size="10.2" text-anchor="start" font-weight="bold" fill="#111" textLength="26.90" lengthAdjust="spacingAndGlyphs" transform="rotate(-90 174.40 172.50)">CD22 PE</text>
<text x="301.90" y="187.00" font-size="10.2" text-anchor="start" font-weight="bold" fill="#111" textLength="55.50" lengthAdjust="spacingAndGlyphs" transform="rotate(-90 301.90 187.00)">CD34 PerCP-Cy55</text>
<text x="425.40" y="175.40" font-size="10.2" text-anchor="start" font-weight="bold" fill="#111" textLength="31.80" lengthAdjust="spacingAndGlyphs" transform="rotate(-90 425.40 175.40)">CD24 APC</text>
<path transform="scale(.1)" fill="none" stroke="#262626" stroke-width="7.0" stroke-linecap="square" stroke-opacity="0.6" d="M1146 2214h0m2 11h0m0 7h0m40-20h0m53 21h0m15-12h0m6 13h0m-210 37h0m4-30h0m5 20h0m46-9h0m3 14h0m17-9h0m2 6h0m3 15h0m1-2h0m8 0h0m6-4h0m2 6h0m18-27h0m5 13h0m3-9h0m0 7h0m1 3h0m5-24h0m3 37h0m1-23h0m21 24h0m17 0h0m8-8h0m18-7h0m7-6h0m1 8h0m-192 29h0m15 4h0m9-5h0m5-9h0m6 31h0m2 3h0m1-26h0m2-6h0m2 12h0m2 18h0m2-25h0m3 11h0m6-16h0m2-2h0m0 12h0m1-8h0m7 24h0m5-3h0m1-4h0m0 4h0m8 1h0m3-1h0m5-2h0m3 0h0m6 6h0m2-26h0m5 9h0m2 16h0m3-9h0m3 10h0m5 3h0m2 2h0m2-8h0m4-23h0m0 2h0m13 0h0m2 25h0m0 0h0m5-18h0m2-14h0m8 5h0m1 13h0m7 16h0m2-19h0m43-18h0m47 21h0m-281 39h0m5 14h0m1-15h0m0 18h0m21-14h0m9-10h0m6 21h0m1-8h0m5-18h0m2-5h0m2 0h0m10 25h0m1-8h0m10 11h0m4 7h0m1-3h0m3-17h0m3-8h0m1 17h0m2-4h0m0 4h0m2-10h0m1 4h0m0 10h0m4-11h0m5-2h0m0 0h0m4 20h0m1-31h0m0 16h0m7-3h0m1 17h0m1-30h0m1 25h0m1 7h0m1-13h0m6 8h0m1-15h0m2-13h0m0 2h0m1 2h0m1 7h0m0 21h0m1-31h0m0 10h0m0 3h0m4-4h0m4 8h0m3 4h0m5-19h0m1-6h0m7 12h0m1-2h0m1 23h0m1-28h0m2 1h0m2-4h0m7 13h0m6 14h0m1-4h0m0 11h0m3 0h0m12-2h0m7-24h0m3-13h0m1 21h0m1 15h0m23-18h0m0 6h0m18-4h0m-280 48h0m11-20h0m18 0h0m13 0h0m1 27h0m6-11h0m3-6h0m16-2h0m4-4h0m1 0h0m0 18h0m5-24h0m9-5h0m1 14h0m0 11h0m3 6h0m4-11h0m6-18h0m2-3h0m0 11h0m2 21h0m2-32h0m0 36h0m2-32h0m1 13h0m0 6h0m0 16h0m1-35h0m1 17h0m2 9h0m6-29h0m0 9h0m0 24h0m2-6h0m2-17h0m1 15h0m7-20h0m0 5h0m4-10h0m3 0h0m0 21h0m0 1h0m1 6h0m0 0h0m1-15h0m2 12h0m5-23h0m0 18h0m4-15h0m1 4h0m0 29h0m2-32h0m1 32h0m3-6h0m1-14h0m0 8h0m2 2h0m0 8h0m1-21h0m1-9h0m0 28h0m2-4h0m1-29h0m1 4h0m2 2h0m0 18h0m1-14h0m1-9h0m1 36h0m1-13h0m1-11h0m0 5h0m3-14h0m4 14h0m1-14h0m1 13h0m0 8h0m0 7h0m2-11h0m0 7h0m2-13h0m2 7h0m1-2h0m2 4h0m0 10h0m1-1h0m2-34h0m1 37h0m4-29h0m0 4h0m1 2h0m1-13h0m5 22h0m1-8h0m2-16h0m3 17h0m4-2h0m4-13h0m3 24h0m0 12h0m3-18h0m2-18h0m18 20h0m1 13h0m2-22h0m9 15h0m18-5h0m3-9h0m3 1h0m18 6h0m3-16h0m7 32h0m7-6h0m-275 24h0m1 3h0m15-9h0m6 22h0m2-11h0m5-11h0m2 5h0m1 8h0m8 9h0m2-14h0m4-3h0m0 1h0m2 1h0m0 18h0m1-8h0m2-26h0m1 37h0m1-20h0m0 1h0m2 13h0m1 0h0m7-3h0m0 6h0m2-30h0m1 0h0m0 22h0m0 13h0m1-32h0m0 27h0m5-27h0m3 1h0m0 30h0m1-38h0m0 37h0m5-31h0m0 14h0m1-20h0m1 6h0m1 11h0m0 4h0m1 16h0m1-36h0m2 26h0m2-2h0m2-23h0m1 19h0m2-3h0m3 11h0m6-13h0m1 5h0m1-10h0m0 1h0m1-3h0m0 18h0m1 9h0m3-3h0m1-23h0m0 17h0m0 9h0m5-2h0m0 1h0m1-32h0m4 29h0m2-32h0m3 33h0m1-21h0m5 1h0m2 21h0m1-17h0m0 13h0m4-9h0m0 4h0m1-8h0m2 4h0m2 13h0m1-12h0m0 1h0m2-9h0m1 19h0m3-2h0m5-30h0m4 20h0m4 1h0m1-10h0m2 8h0m2 3h0m3 10h0m3 1h0m1 0h0m6-23h0m2 17h0m1 10h0m4-18h0m6-7h0m0 26h0m1-17h0m0 3h0m1 13h0m8-4h0m5-28h0m1 12h0m0 18h0m0 1h0m3-23h0m1 15h0m2-16h0m0 16h0m3-17h0m30 23h0m4-13h0m6 12h0m-297 17h0m50-9h0m13 0h0m7 8h0m10-5h0m2 5h0m3 7h0m2 22h0m7-35h0m1-2h0m6 18h0m7 6h0m1-13h0m3-10h0m1 36h0m4-33h0m3 7h0m1 15h0m5 1h0m1-22h0m3-3h0m7 1h0m1 8h0m6 1h0m3-6h0m1 3h0m1 12h0m3-12h0m1 22h0m2-5h0m1-27h0m0 2h0m0 2h0m1 10h0m1 14h0m3 7h0m1-18h0m4 5h0m1 0h0m2 7h0m2-24h0m0 24h0m3-14h0m0 14h0m1-13h0m4-17h0m1 8h0m0 16h0m1-24h0m1 3h0m0 5h0m0 31h0m1-8h0m1-31h0m0 18h0m1 5h0m1-23h0m0 37h0m0 2h0m1-9h0m8-30h0m1 10h0m2-4h0m8 8h0m1-1h0m2 3h0m6 15h0m1 7h0m3-33h0m0 14h0m0 11h0m1-22h0m2-2h0m8 11h0m2 7h0m1-11h0m2-12h0m2 29h0m11-17h0m1-8h0m1 24h0m1-12h0m1 13h0m5-3h0m0 5h0m2-26h0m1 0h0m4 22h0m48-7h0m8-12h0m-278 43h0m5 21h0m19-28h0m0 2h0m11 28h0m1-29h0m18 15h0m1-7h0m13 14h0m4 2h0m2-9h0m3-15h0m1 19h0m4-7h0m8 3h0m1 3h0m0 11h0m2-26h0m1 15h0m6 8h0m4 1h0m5-20h0m1 11h0m1 3h0m3-2h0m2-7h0m0 17h0m1-26h0m2 1h0m0 6h0m4 3h0m2-1h0m0 9h0m6-25h0m6 4h0m1-6h0m0 1h0m1 10h0m1 11h0m1 6h0m1-2h0m0 8h0m0 1h0m1-35h0m1 20h0m2-17h0m0 27h0m2-2h0m1 1h0m1 4h0m5-15h0m2-5h0m0 11h0m1-20h0m1 29h0m2-24h0m1-7h0m0 25h0m2-11h0m2 8h0m2 12h0m0 2h0m3-19h0m0 1h0m2-16h0m1 23h0m2-10h0m0 18h0m0 4h0m6-29h0m1-6h0m9 18h0m2-16h0m0 25h0m1-22h0m3-2h0m3 1h0m0 2h0m1-1h0m2 30h0m3-7h0m2-23h0m2 16h0m1 6h0m2-7h0m6-6h0m9-17h0m1 22h0m4-20h0m3 35h0m4-4h0m3-18h0m6 21h0m1-3h0m6-4h0m-208 47h0m26-33h0m3 22h0m1-20h0m0 25h0m5 0h0m6 0h0m1-9h0m1-8h0m3 7h0m5-12h0m9 28h0m2-10h0m0 3h0m1 1h0m1-10h0m1-14h0m0 0h0m0 0h0m8-5h0m2 13h0m3-7h0m2-8h0m0 14h0m0 6h0m1-3h0m1-15h0m0 23h0m4 6h0m2-17h0m0 13h0m1-15h0m3 2h0m0 0h0m0 1h0m3-11h0m0 1h0m2 0h0m0 23h0m1 10h0m2-27h0m1-6h0m0 10h0m0 3h0m6 3h0m0 13h0m1-20h0m0 9h0m0 6h0m1-2h0m1 0h0m1-9h0m1 8h0m1 13h0m3-34h0m1 31h0m3-13h0m6 16h0m1-39h0m2 5h0m1 29h0m2-17h0m0 11h0m0 6h0m1-9h0m1-5h0m1-1h0m0 8h0m5-23h0m4 5h0m0 22h0m1-10h0m1 15h0m3-27h0m4 2h0m4-5h0m5 33h0m5-39h0m15 15h0m2-1h0m1 25h0m28-23h0m8 12h0m37-20h0m-289 58h0m29 5h0m8-8h0m5 8h0m11-15h0m3-11h0m5 4h0m2-2h0m1 8h0m0 5h0m4 2h0m0 7h0m3-4h0m1-24h0m3 38h0m1-15h0m3-14h0m0 3h0m2 13h0m1-3h0m3-12h0m3-10h0m0 6h0m1 29h0m3-33h0m6 1h0m1 15h0m0 19h0m4-38h0m4 15h0m5 13h0m2-9h0m0 12h0m1-12h0m10 17h0m1-17h0m0 1h0m1-19h0m0 38h0m1-27h0m0 11h0m2 10h0m1-27h0m2 20h0m2 11h0m1-30h0m1 1h0m6 20h0m7-2h0m0 10h0m1-6h0m7-22h0m3 8h0m2-4h0m3 4h0m2 20h0m1-16h0m2-5h0m7 16h0m2 7h0m9-23h0m3 10h0m1-11h0m1-6h0m3 28h0m1-18h0m2-8h0m1 17h0m3-6h0m3 13h0m6-25h0m1 15h0m2-16h0m8 18h0m6 1h0m0 8h0m3-22h0m2 16h0m1-17h0m1-8h0m9 17h0m-222 39h0m8-13h0m14 21h0m9-19h0m7-7h0m3 0h0m4 19h0m3-7h0m5 15h0m1-6h0m1 15h0m3-14h0m6-8h0m1 10h0m2-6h0m4-6h0m2 17h0m0 7h0m1-8h0m3-17h0m0 14h0m1-16h0m2 13h0m4 8h0m3-17h0m1 16h0m3-19h0m0 19h0m1-28h0m0 20h0m1 2h0m3 7h0m2-20h0m0 3h0m0 18h0m1-24h0m1 27h0m1-31h0m1 4h0m1 7h0m0 4h0m1 1h0m0 15h0m2-16h0m0 9h0m2 5h0m1-24h0m0 24h0m2-26h0m1 14h0m2-14h0m1-6h0m1 32h0m0 4h0m2-11h0m1 7h0m1-32h0m2 17h0m2 20h0m4-5h0m1-19h0m0 17h0m2-16h0m0 15h0m2-13h0m2-3h0m2 20h0m3-33h0m0 14h0m0 17h0m2-7h0m1-24h0m1 17h0m1-5h0m0 13h0m0 8h0m7-19h0m1 19h0m5-1h0m5-10h0m1-6h0m0 17h0m4-23h0m3 12h0m2-16h0m3 11h0m5-8h0m1 14h0m1-17h0m3 14h0m5-13h0m4 16h0m17-18h0m8 23h0m5 6h0m2-19h0m2 11h0m-259 35h0m12-19h0m14 31h0m23-16h0m3 14h0m1-19h0m1 8h0m4-5h0m9 15h0m5-7h0m4 10h0m0 3h0m2-19h0m3 6h0m2-5h0m4-3h0m1 19h0m8-30h0m1-5h0m2 37h0m1-34h0m2-1h0m4 28h0m3-30h0m0 33h0m5-32h0m0 18h0m1 4h0m2-12h0m1 2h0m1-3h0m0 12h0m1 16h0m4-18h0m2-1h0m4 12h0m1-4h0m2-25h0m0 6h0m0 0h0m0 4h0m0 7h0m4-13h0m0 30h0m2-36h0m1 2h0m0 11h0m0 17h0m1-20h0m0 3h0m4 10h0m0 3h0m5 9h0m1-5h0m1-11h0m1-3h0m0 11h0m3-14h0m2 16h0m2-3h0m4-20h0m0 8h0m2 10h0m3-8h0m1 12h0m2-3h0m1-5h0m2-19h0m1 35h0m4-15h0m1-16h0m7 4h0m1 25h0m2-32h0m0 32h0m5-27h0m10 16h0m4-22h0m0 31h0m3-7h0m1-26h0m4 8h0m5-6h0m0 23h0m0 12h0m3-12h0m18-14h0m3-4h0m7 2h0m6 23h0m-232 9h0m3 31h0m20-22h0m6 6h0m1 1h0m1-10h0m4 27h0m1-11h0m4 14h0m3-31h0m4 22h0m1-19h0m10 18h0m3-6h0m4 9h0m0 7h0m1-35h0m0 5h0m0 14h0m3 12h0m1-12h0m1 13h0m2 2h0m4-21h0m3 18h0m2-1h0m2-29h0m4 26h0m1-18h0m2-9h0m1 11h0m2-13h0m1 4h0m2 23h0m1-20h0m0 25h0m1 7h0m2-39h0m3 13h0m5 5h0m1 15h0m1-9h0m2 8h0m3-13h0m0 20h0m2-35h0m0 10h0m1 21h0m3-22h0m0 10h0m4-13h0m2-3h0m1 26h0m4 3h0m1 3h0m3-5h0m1-18h0m8-7h0m0 29h0m1-13h0m1-16h0m3-6h0m0 3h0m0 19h0m8 6h0m2-15h0m4-11h0m9 17h0m3-8h0m2 11h0m4 11h0m12-7h0m3-17h0m5 11h0m9-18h0m0 28h0m-307 24h0m107-2h0m8 23h0m7-34h0m0 22h0m6-11h0m2 24h0m10-11h0m4 4h0m7-10h0m2-12h0m5 17h0m8 9h0m3-2h0m4-14h0m3-6h0m0 11h0m0 8h0m1-1h0m2-27h0m0 26h0m2-31h0m0 5h0m0 12h0m3-3h0m1-7h0m2-7h0m0 23h0m1-9h0m0 3h0m0 21h0m5-28h0m3 9h0m3 20h0m1-20h0m5-15h0m0 16h0m0 15h0m2 1h0m6-29h0m0 13h0m3 3h0m1-17h0m11 20h0m3 13h0m5-21h0m3 3h0m2-11h0m2 15h0m3-4h0m2-17h0m7 27h0m1-22h0m14 18h0m5-25h0m27 37h0m17-37h0m-210 38h0m14 32h0m8 7h0m2-7h0m1-13h0m7 4h0m3-23h0m3 20h0m2-13h0m1-7h0m8 9h0m0 7h0m2 8h0m2-1h0m1-5h0m1 18h0m3-12h0m4-20h0m2-2h0m1 6h0m2 2h0m6 8h0m5-8h0m1 0h0m2 26h0m5-4h0m1-29h0m1 0h0m10 15h0m4 7h0m1-17h0m3 16h0m3-19h0m1 17h0m4-17h0m10 6h0m2 21h0m8-10h0m6 16h0m16-6h0m3-16h0m2 23h0m4-27h0m-168 36h0m12 19h0m2-16h0m1 15h0m9 3h0m15-20h0m3 5h0m2 5h0m0 3h0m2-20h0m3 22h0m13 8h0m1-28h0m8 14h0m0 21h0m2-33h0m0 26h0m3-10h0m1-17h0m2 10h0m3 2h0m4 3h0m1 6h0m3-24h0m8 28h0m8-23h0m5 26h0m2-14h0m1-9h0m10 20h0m10-26h0m12 20h0m22-3h0m7 11h0m23-9h0m-183 54h0m1-15h0m9 5h0m10-9h0m21 4h0m1-18h0m1 3h0m4 30h0m3-15h0m2-15h0m6 9h0m3-14h0m7 33h0m1-10h0m1-16h0m0 14h0m1-8h0m0 14h0m14 8h0m2-33h0m3 33h0m7-19h0m14-14h0m7 23h0m3 6h0m11-14h0m0 1h0m4 6h0m31-12h0m4 3h0m5-11h0m10 33h0m6-4h0m-161 22h0m6-1h0m10 8h0m4-10h0m3 22h0m8-24h0m14-9h0m9 5h0m32 21h0m10-1h0m6-24h0m16 0h0m14 5h0m26 28h0m8-24h0m-175 55h0m27-24h0m10 9h0m4 2h0m53 2h0m-25 25h0"/>
<path transform="scale(.1)" fill="none" stroke="#c41a1a" stroke-width="7.0" stroke-linecap="square" stroke-opacity="0.55" d="M1074 2382h0m-59 63h0m80-4h0m27 5h0m53 30h0m-160 42h0m5-19h0m10-16h0m19 24h0m84 5h0m-124 25h0m119 17h0m40-9h0m11 1h0m24-19h0m14 10h0m-284 30h0m81 17h0m30 9h0m27 0h0m5 1h0m15-7h0m14-19h0m0 29h0m21-25h0m4 27h0m5-26h0m5 18h0m-158 31h0m8 12h0m23-20h0m22 18h0m2-9h0m12-14h0m15 24h0m1-15h0m4-13h0m1-2h0m2 17h0m3-8h0m1 17h0m6-18h0m18 18h0m6-23h0m0 28h0m15-28h0m7 3h0m1-9h0m16 2h0m11 17h0m24-17h0m1 17h0m20-3h0m-183 57h0m1 2h0m5-30h0m15 11h0m1-4h0m0 14h0m3-12h0m13 24h0m4-13h0m6 9h0m0 4h0m8-1h0m0 0h0m4-1h0m1-8h0m2-4h0m2-24h0m3 35h0m3 2h0m4-16h0m8-20h0m0 5h0m8 20h0m36 4h0m1-30h0m5 21h0m2 0h0m6-1h0m11-2h0m63 8h0m-276 46h0m39-20h0m1 13h0m3 4h0m3-22h0m7 32h0m4-14h0m5 7h0m4-23h0m1 3h0m3 18h0m3-1h0m14-4h0m2-12h0m3 18h0m7-22h0m9 6h0m1 23h0m5-18h0m0 17h0m6-24h0m3 22h0m14-26h0m14 9h0m13 11h0m21 0h0m20-16h0m20 13h0m51 10h0m-250 28h0m1 4h0m7-7h0m12-4h0m0 1h0m3 18h0m2-11h0m0 10h0m4-9h0m0 10h0m16-22h0m1-7h0m7 5h0m0 27h0m12-14h0m8 7h0m4-2h0m1-10h0m4-3h0m2 2h0m0 12h0m3-27h0m13 27h0m13-19h0m2 25h0m5-29h0m1-7h0m0 20h0m2 12h0m5-10h0m5-14h0m2 18h0m7-21h0m1 32h0m0 0h0m2-3h0m1-25h0m3 10h0m1 19h0m11-22h0m38 22h0m12-12h0m-232 40h0m10-24h0m3 18h0m0 14h0m7-30h0m5 1h0m0 15h0m3-1h0m5 15h0m4-13h0m1 4h0m6-2h0m0 7h0m2-4h0m2 11h0m5-20h0m18-12h0m4 9h0m9-4h0m2 7h0m4 11h0m8-13h0m2 0h0m1-6h0m10-10h0m1 6h0m2 32h0m11-6h0m2-13h0m3 3h0m1 15h0m5-37h0m2 7h0m4 8h0m6 24h0m18-28h0m0 14h0m13-5h0m14-8h0m2 9h0m3 4h0m-217 37h0m28-21h0m13 20h0m2 2h0m6-7h0m1-3h0m11 8h0m8 0h0m3-14h0m2-5h0m5 19h0m3-20h0m15 35h0m12-26h0m1-3h0m0 16h0m1-1h0m1 14h0m6-26h0m0 5h0m7 5h0m11-8h0m2 15h0m3-10h0m0 17h0m1-33h0m3 24h0m4-6h0m7-15h0m2 27h0m12-1h0m2-10h0m3 2h0m7 7h0m37-6h0m11-23h0m-223 41h0m36 16h0m22-13h0m9 10h0m9 5h0m4-12h0m2 26h0m3-11h0m7-4h0m9 11h0m4-4h0m2-23h0m0 13h0m5-4h0m2 24h0m2-6h0m7-12h0m0 12h0m6-16h0m10-11h0m0 32h0m4-34h0m2 0h0m3 12h0m10 20h0m3-12h0m3-1h0m13 0h0m75 7h0m-253 34h0m12-9h0m3 13h0m8-6h0m30-8h0m9 29h0m1-10h0m10-8h0m4-16h0m12 20h0m52-2h0m4-10h0m16-5h0m0 31h0m10-24h0m19-9h0m20 31h0m-207 15h0m20 26h0m33-1h0m13-23h0m46-1h0m23-3h0m1 15h0m5 9h0m17-13h0m6-9h0m26 12h0m15-22h0m-73 40h0"/>
<path transform="scale(.1)" fill="none" stroke="#2a2a2a" stroke-width="7.0" stroke-linecap="square" stroke-opacity="0.45" d="M1017 2227h0m2 3h0m12-9h0m26-7h0m40 18h0m11 7h0m-150 28h0m9 12h0m10-9h0m9 8h0m4-35h0m3 17h0m1 11h0m2-13h0m5 19h0m3-6h0m2-2h0m2-1h0m0 4h0m2-13h0m2-7h0m1 11h0m0 3h0m2-1h0m1-1h0m2-19h0m2 14h0m0 9h0m7-9h0m1-5h0m5 2h0m2 0h0m4 1h0m1-15h0m0 12h0m0 4h0m6 0h0m4-2h0m1 1h0m1-2h0m0 3h0m2-12h0m2 10h0m1 2h0m2-4h0m3-6h0m0 8h0m5 2h0m0 1h0m4 4h0m3-4h0m1 5h0m9-1h0m2-23h0m0 4h0m1 22h0m6-9h0m1 11h0m0 2h0m1-27h0m1 23h0m0 11h0m2-7h0m3 5h0m1 0h0m0 4h0m2-4h0m1 1h0m0 0h0m1 0h0m3-21h0m2 14h0m6-26h0m1 32h0m2 2h0m13-2h0m-186 18h0m12 7h0m1 4h0m1 7h0m7-9h0m1 1h0m10 8h0m1 0h0m2-1h0m1-1h0m1 2h0m2-12h0m3-1h0m1-6h0m2-3h0m0 2h0m6-8h0m3 0h0m105-2h0m1 1h0m1-1h0m0 1h0m0 0h0m2 2h0m1 1h0m0 4h0m1-3h0m0 2h0m1-3h0m2 8h0m5 11h0m2 4h0m0 5h0m2-16h0m6-5h0m8-7h0m0 5h0m10 24h0m5-9h0m0 4h0m1-24h0m10 17h0m-216 32h0m17 16h0m4-19h0m1 15h0m9 6h0m1-26h0m1 14h0m1-19h0m0 3h0m138-3h0m5 4h0m1-5h0m0 5h0m0 4h0m0 22h0m1-24h0m1 10h0m1 3h0m0 4h0m1 2h0m0 2h0m0 2h0m5-1h0m3-14h0m1 18h0m1-1h0m0 3h0m2-9h0m-201 24h0m8 23h0m2-33h0m3 28h0m6-17h0m4 4h0m6-15h0m0 25h0m1 10h0m1-34h0m0 8h0m4 30h0m1-16h0m1 7h0m1-28h0m0 3h0m0 16h0m1-3h0m0 2h0m1 3h0m1-9h0m0 15h0m1 0h0m0 9h0m0 1h0m1-25h0m1 23h0m134-5h0m0 1h0m2-7h0m1-11h0m1 13h0m4-26h0m0 14h0m0 3h0m2-19h0m0 7h0m2 18h0m1-23h0m0 25h0m7 10h0m4-8h0m7-5h0m0 11h0m1-29h0m3 10h0m3-15h0m4 14h0m3-4h0m-214 33h0m11 26h0m1-26h0m0 15h0m4-15h0m0 3h0m1 21h0m6-23h0m1 13h0m3-4h0m4-1h0m3-8h0m0 7h0m2 0h0m2 5h0m2 5h0m2 2h0m0 3h0m7 8h0m0 4h0m1 0h0m3-5h0m4 5h0m83-6h0m0 2h0m5 1h0m1-1h0m5-5h0m2-7h0m1 6h0m2-6h0m5-6h0m2-3h0m4-7h0m1-3h0m1 1h0m1 34h0m8-28h0m0 4h0m2 3h0m1-17h0m6 25h0m2-19h0m15-5h0m-180 51h0m8-1h0m5-10h0m4 36h0m5-24h0m1 1h0m3-15h0m2 1h0m2 6h0m0 18h0m2-18h0m2 0h0m1 3h0m2 1h0m2 3h0m3 2h0m0 2h0m4-2h0m1-3h0m3 5h0m0 2h0m2 16h0m2-16h0m4 3h0m3-3h0m4-2h0m0 3h0m3 17h0m1-21h0m0 8h0m3-7h0m1 3h0m4-1h0m1-6h0m2 15h0m1 0h0m1-10h0m3 6h0m7-12h0m0 4h0m4-3h0m1 0h0m2-2h0m0 4h0m6-8h0m2 0h0m4-6h0m0 3h0m7 6h0m5 6h0m2-12h0m15 24h0m21-26h0m12 21h0m-126 16h0m25 13h0m18-8h0m3 11h0m12 4h0m3-14h0"/>
<path d="M98.00 232.00L98.12 231.40L98.27 230.83L98.46 230.27L98.67 229.74L98.90 229.23L99.16 228.75L99.43 228.30L99.72 227.87L100.03 227.48L100.34 227.12L100.67 226.79L101.00 226.50L101.35 226.25L101.72 226.03L102.11 225.85L102.52 225.70L102.94 225.59L103.38 225.50L103.82 225.44L104.26 225.41L104.70 225.40L105.14 225.41L105.58 225.45L106.00 225.50L106.43 225.57L106.87 225.67L107.32 225.80L107.78 225.94L108.24 226.12L108.69 226.31L109.13 226.53L109.56 226.78L109.96 227.05L110.34 227.34L110.69 227.66L111.00 228.00L111.28 228.38L111.54 228.80L111.78 229.25L112.00 229.74L112.20 230.25L112.38 230.78L112.53 231.32L112.67 231.87L112.78 232.42L112.88 232.96L112.95 233.49L113.00 234.00L113.03 234.50L113.04 235.01L113.03 235.52L113.00 236.04L112.95 236.55L112.88 237.06L112.78 237.57L112.67 238.07L112.53 238.57L112.38 239.06L112.20 239.54L112.00 240.00L111.78 240.46L111.53 240.94L111.26 241.41L110.96 241.89L110.65 242.36L110.31 242.81L109.96 243.25L109.59 243.67L109.21 244.05L108.82 244.41L108.41 244.73L108.00 245.00L107.56 245.24L107.09 245.47L106.58 245.67L106.06 245.85L105.52 246.00L104.97 246.12L104.42 246.21L103.89 246.26L103.37 246.27L102.88 246.23L102.42 246.14L102.00 246.00L101.61 245.81L101.24 245.56L100.88 245.27L100.54 244.93L100.21 244.54L99.91 244.12L99.62 243.67L99.35 243.19L99.11 242.67L98.88 242.13L98.68 241.58L98.50 241.00L98.34 240.38L98.20 239.69L98.08 238.95L97.98 238.17L97.90 237.36L97.84 236.53L97.81 235.70L97.80 234.89L97.81 234.10L97.85 233.34L97.91 232.64Z" fill="url(#g_c1g)" filter="url(#rough)"/>
<path transform="scale(.1)" fill="none" stroke="#555" stroke-width="7.0" stroke-linecap="square" stroke-opacity="0.4" d="M1000 2263h0m6 16h0m1-15h0m2-5h0m0 7h0m10-11h0m2 2h0m2 0h0m1 10h0m2-21h0m3-5h0m2 12h0m1-1h0m11 14h0m2-20h0m1 6h0m3-5h0m4 8h0m0 16h0m2-7h0m2 6h0m9-17h0m2-8h0m2 14h0m6 4h0m4-5h0m3 17h0m3-20h0m0 1h0m3-4h0m3 21h0m1 6h0m1-11h0m1 2h0m0 0h0m1 7h0m3-7h0m1-3h0m1-1h0m1 2h0m2 10h0m3-8h0m9 4h0m-144 39h0m4-1h0m2-1h0m0 2h0m1 0h0m1-4h0m3-12h0m1 17h0m1 4h0m1-1h0m1-33h0m0 23h0m3-2h0m0 2h0m3-14h0m0 12h0m2 9h0m4-17h0m11 10h0m1-14h0m2-9h0m77 4h0m10 5h0m7 18h0m3-22h0m0 4h0m1-13h0m0 12h0m2 7h0m1 19h0m2-25h0m0 1h0m1 6h0m0 3h0m1-12h0m1 16h0m1-24h0m2 26h0m3-16h0m5 16h0m1-13h0m0 14h0m0 9h0m4-27h0m0 11h0m7 5h0m-178 34h0m3-20h0m1 0h0m4 12h0m1-13h0m1 4h0m1 24h0m1-21h0m0 9h0m1 15h0m0 6h0m1-24h0m1-2h0m1 22h0m3-11h0m5-9h0m0 18h0m3 0h0m12 5h0m112-33h0m7 9h0m1-7h0m1 25h0m4-24h0m1-7h0m1 4h0m0 25h0m4-10h0m2-16h0m2 20h0m1-7h0m0 1h0m0 18h0m4-6h0m3-17h0m2 3h0m-184 60h0m9-13h0m1-21h0m0 18h0m2-1h0m1 19h0m1-23h0m1 6h0m1-7h0m0 17h0m1-18h0m0 17h0m1-27h0m3 36h0m128-10h0m1 8h0m2 3h0m3-1h0m7-29h0m0 2h0m1-2h0m2 9h0m1 18h0m3-28h0m7-5h0m-162 61h0m1-11h0m2-11h0m0 11h0m2 8h0m1 8h0m1-9h0m0 15h0m6 3h0m4-32h0m7 21h0m1 11h0m65 0h0m9 0h0m14-17h0m1 11h0m8-1h0m0 3h0m3-5h0m1-16h0m1 2h0m1 6h0m1-5h0m3-5h0m0 22h0m3-24h0m0 6h0m4-12h0m0 23h0m3-8h0m5 0h0m2 4h0m-137 23h0m3 14h0m7-14h0m3 8h0m2-10h0m5 5h0m1 3h0m1-4h0m4 0h0m6 20h0m5-13h0m3-3h0m0 2h0m2 11h0m1-8h0m0 1h0m1 15h0m1-3h0m1-2h0m2-3h0m0 6h0m1-11h0m1-10h0m3 20h0m14 1h0m2-2h0m1-8h0m8-6h0m1-4h0m3-5h0m1 8h0m3 16h0m8-21h0m6 3h0m9-9h0m1 1h0m1 10h0m-71 27h0"/>
<path transform="scale(.1)" fill="none" stroke="#c01c1c" stroke-width="7.0" stroke-linecap="square" stroke-opacity="0.55" d="M1034 2398h0m28-5h0m31-2h0m5 7h0m4-5h0m4-2h0m9-7h0m30 4h0m-117 43h0m15-18h0m12 26h0m2 0h0m7-35h0m1 27h0m2-5h0m1 0h0m3-5h0m2-14h0m1-6h0m7 9h0m4 0h0m1 4h0m1-4h0m11-5h0m14-3h0m2 7h0m7-2h0m0 7h0m6-1h0m4 11h0m3 11h0m0 1h0m8-29h0m15 13h0m-156 42h0m10 5h0m15-13h0m1-10h0m3 31h0m5 4h0m2-24h0m5 15h0m0 6h0m2-19h0m3-6h0m3 3h0m2 2h0m1-12h0m0 2h0m1 5h0m5 2h0m2-10h0m69 1h0m6-2h0m0 0h0m1 8h0m1-6h0m1 6h0m0 1h0m0 23h0m1-19h0m0 18h0m1-2h0m2-6h0m8-20h0m2 28h0m2-27h0m0 26h0m6-30h0m0 8h0m-156 65h0m5-22h0m1-6h0m9 17h0m4-8h0m3-1h0m6-8h0m1 4h0m1 9h0m103-9h0m0 15h0m1 2h0m2-5h0m0 15h0m1-20h0m2 14h0m1 1h0m7-3h0m3-20h0m4-10h0m-161 44h0m3 6h0m2-1h0m5-5h0m1 29h0m2-12h0m4-9h0m1 11h0m1-13h0m0 19h0m0 5h0m2-3h0m9-28h0m113 0h0m3 1h0m0 28h0m9-14h0m6 1h0m6 19h0m15-26h0m7 16h0m-205 42h0m10-2h0m13-10h0m0 20h0m1 1h0m1-24h0m4 0h0m1-1h0m3-11h0m1 11h0m1-6h0m124-8h0m1 10h0m0 29h0m3-28h0m5 13h0m1-9h0m2 23h0m3-24h0m3-7h0m1 29h0m1-6h0m3-19h0m-205 63h0m21-6h0m0 1h0m8-29h0m0 11h0m2 22h0m6-16h0m3 0h0m1 15h0m1 6h0m3-26h0m0 12h0m1 12h0m1-24h0m1 5h0m1-17h0m0 14h0m2-8h0m132 23h0m1-19h0m2 17h0m6-18h0m4 1h0m0 16h0m1-12h0m2 13h0m12-4h0m-199 37h0m5-18h0m5 23h0m0 13h0m3-28h0m0 28h0m3-10h0m6 7h0m2-3h0m0 2h0m2-32h0m1 4h0m0 20h0m1-22h0m0 6h0m3-1h0m3-9h0m133 36h0m1-33h0m1 4h0m0 8h0m1-12h0m3 15h0m1 13h0m2-7h0m8-20h0m1 32h0m16-11h0m19-23h0m-243 43h0m24 13h0m1 0h0m3 15h0m8-3h0m1-20h0m4 20h0m2-19h0m2 20h0m145-28h0m0 32h0m1-15h0m2 1h0m4 6h0m2-19h0m10-7h0m3 9h0m2 28h0m-221 18h0m42-14h0m0 32h0m3-15h0m2-13h0m0 16h0m1 6h0m1-21h0m1 13h0m143-11h0m1 17h0m1-3h0m2 4h0m5-17h0m3 12h0m14 9h0m5-5h0m3 3h0m2-15h0m3 15h0m-242 21h0m10 7h0m12-1h0m8 17h0m8-5h0m2-13h0m4 24h0m1-37h0m0 30h0m7 1h0m1-29h0m1 5h0m0 9h0m150-3h0m0 2h0m0 13h0m1-2h0m1-17h0m2-1h0m2 17h0m4-2h0m2-24h0m2 9h0m5-1h0m8 2h0m-204 40h0m11-1h0m2 15h0m0 9h0m1-30h0m0 12h0m2-8h0m2 20h0m4 11h0m1-3h0m1-33h0m0 16h0m2 17h0m1-2h0m1-29h0m1 7h0m145 2h0m0 1h0m0 21h0m2-22h0m1 22h0m1-20h0m5 20h0m1-1h0m1-7h0m21 10h0m2-4h0m-226 37h0m22-22h0m0 26h0m3-35h0m5 37h0m8-9h0m0 5h0m1-8h0m1-5h0m1 3h0m2-23h0m1 15h0m1-5h0m145 10h0m3-11h0m0 8h0m0 11h0m1-20h0m0 27h0m1-33h0m7 3h0m3 13h0m1-5h0m1 21h0m1-9h0m0 2h0m1-17h0m3 7h0m1-5h0m5-6h0m8 8h0m23 24h0m-248 33h0m8-21h0m21 22h0m2-4h0m2-4h0m2-5h0m2-16h0m152 7h0m5 6h0m1-13h0m0 10h0m2 11h0m5 9h0m5-9h0m7-20h0m6 16h0m-210 59h0m1-34h0m2 6h0m1 13h0m2 12h0m2-1h0m1-28h0m12 5h0m2-12h0m1 2h0m0 21h0m0 6h0m2-3h0m0 6h0m3 5h0m2 2h0m156-24h0m1 17h0m2-18h0m1-6h0m3 11h0m0 4h0m13-8h0m22 1h0m-203 28h0m152 0h0m4-4h0m16 1h0"/>
<path d="M106.00 243.00L106.28 242.69L106.59 242.38L106.91 242.08L107.24 241.80L107.59 241.53L107.94 241.28L108.29 241.06L108.65 240.87L109.00 240.71L109.34 240.60L109.68 240.53L110.00 240.50L110.32 240.50L110.64 240.52L110.97 240.55L111.30 240.61L111.62 240.71L111.94 240.84L112.24 241.03L112.54 241.28L112.81 241.59L113.07 241.98L113.30 242.44L113.50 243.00L113.68 243.66L113.83 244.42L113.96 245.26L114.07 246.19L114.17 247.17L114.25 248.22L114.32 249.31L114.37 250.43L114.41 251.57L114.45 252.72L114.48 253.86L114.50 255.00L114.51 256.14L114.50 257.33L114.48 258.54L114.44 259.78L114.40 261.04L114.34 262.31L114.28 263.60L114.22 264.89L114.16 266.18L114.10 267.47L114.05 268.74L114.00 270.00L113.96 271.26L113.92 272.54L113.88 273.83L113.83 275.13L113.79 276.42L113.75 277.71L113.71 278.99L113.67 280.25L113.62 281.49L113.58 282.70L113.54 283.87L113.50 285.00L113.50 286.12L113.58 287.26L113.70 288.41L113.85 289.55L114.00 290.66L114.12 291.74L114.20 292.76L114.20 293.72L114.11 294.60L113.89 295.38L113.53 296.05L113.00 296.60L112.24 297.04L111.23 297.41L110.03 297.69L108.69 297.89L107.24 298.01L105.75 298.05L104.26 298.01L102.81 297.89L101.47 297.69L100.27 297.41L99.26 297.04L98.50 296.60L97.96 296.05L97.59 295.38L97.36 294.60L97.24 293.72L97.22 292.76L97.28 291.74L97.39 290.66L97.54 289.55L97.69 288.41L97.83 287.26L97.94 286.12L98.00 285.00L98.03 283.86L98.07 282.66L98.12 281.42L98.19 280.14L98.26 278.84L98.34 277.52L98.44 276.21L98.54 274.90L98.64 273.62L98.76 272.37L98.88 271.16L99.00 270.00L99.13 268.89L99.27 267.80L99.42 266.74L99.57 265.70L99.74 264.69L99.91 263.69L100.08 262.71L100.26 261.74L100.44 260.79L100.63 259.85L100.81 258.92L101.00 258.00L101.19 257.08L101.39 256.16L101.59 255.24L101.80 254.33L102.01 253.44L102.22 252.56L102.43 251.71L102.65 250.89L102.86 250.10L103.08 249.35L103.29 248.65L103.50 248.00L103.70 247.40L103.90 246.85L104.09 246.34L104.28 245.87L104.47 245.44L104.66 245.03L104.85 244.65L105.06 244.30L105.27 243.96L105.50 243.63L105.74 243.31Z" fill="url(#g_c1s)" filter="url(#rough)"/>
<path transform="scale(.1)" fill="none" stroke="#c01e1e" stroke-width="7.0" stroke-linecap="square" stroke-opacity="0.55" d="M1085 2398h0m-50 40h0m1-7h0m21-1h0m1 1h0m1 6h0m2-8h0m4 8h0m1-25h0m4-1h0m0 11h0m0 14h0m14-26h0m1 0h0m1 17h0m1-12h0m1-11h0m1 7h0m0 8h0m4 1h0m2-19h0m1 16h0m1 17h0m1-23h0m16-5h0m2 12h0m2-17h0m2 2h0m5 19h0m3-7h0m1 11h0m4 0h0m3 4h0m7-7h0m-113 32h0m2-5h0m8 14h0m6-18h0m1 9h0m5-6h0m7 23h0m1-11h0m9-7h0m60-5h0m6 21h0m2 1h0m4-13h0m2 10h0m2-6h0m-125 53h0m0 2h0m2-30h0m3-7h0m11 9h0m2-1h0m1 28h0m1-33h0m4 1h0m8-3h0m80 19h0m1 9h0m4-28h0m0 21h0m1 2h0m4 0h0m1-10h0m0 4h0m1-18h0m4 18h0m2-9h0m0 1h0m0 13h0m6-13h0m-153 64h0m3-17h0m10 9h0m7 10h0m2-9h0m1-26h0m3 18h0m1-5h0m2 15h0m3-27h0m94 6h0m3-1h0m4 1h0m0 31h0m7-36h0m2 10h0m1 6h0m2-8h0m2-7h0m1-1h0m1 30h0m2-28h0m4 14h0m-170 41h0m7-2h0m0 1h0m1 20h0m5-8h0m3-22h0m0 26h0m1-10h0m1-25h0m0 26h0m1 13h0m1-13h0m1 8h0m1-29h0m0 1h0m3 9h0m1 0h0m0 11h0m0 7h0m3-16h0m10 15h0m108-21h0m2 17h0m2-21h0m0 4h0m2-11h0m0 31h0m1 6h0m2-29h0m4-5h0m1 27h0m4 2h0m1 7h0m2-18h0m2-1h0m5 11h0m-188 31h0m22 1h0m0 0h0m0 9h0m5-10h0m1-15h0m0 16h0m1-3h0m3 6h0m3-12h0m1 20h0m2-34h0m1 16h0m5 9h0m109-8h0m9-16h0m0 28h0m5 4h0m1-9h0m2-20h0m0 1h0m1 6h0m10-10h0m-183 73h0m1-1h0m8-10h0m4 4h0m3-3h0m3-19h0m1 19h0m1 3h0m3-19h0m2-2h0m130 28h0m0 4h0m1 0h0m8-21h0m1-12h0m3 2h0m1-2h0m1-5h0m6 39h0m3-16h0m-177 30h0m0 24h0m11-16h0m7-11h0m4 9h0m1-13h0m3 20h0m126-6h0m1 1h0m4 15h0m4-7h0m1-14h0m6 1h0m16 19h0m-182 19h0m2 5h0m0 4h0m4-16h0m0 3h0m0 19h0m1-12h0m0 5h0m5 5h0m7-5h0m4-19h0m128 29h0m4-28h0m0 9h0m2 2h0m2 5h0m1-16h0m-160 46h0m7 8h0m0 7h0m6-16h0m2 8h0m1-14h0m136 8h0m2 20h0m1 7h0m1-4h0m4-32h0m1 20h0m3-6h0m4 14h0m-175 32h0m2 1h0m1 8h0m2-30h0m1 28h0m5 7h0m2-16h0m3-1h0m5-1h0m2-9h0m13 18h0m122-11h0m11-9h0m1 21h0m1-22h0m0 3h0m6 27h0m1-6h0m1-15h0m-180 53h0m0 10h0m2-36h0m4 36h0m3-18h0m10-13h0m1 6h0m1 7h0m6 8h0m128 6h0m8-20h0m2 15h0m6-3h0m1 4h0m1-29h0m2 28h0m-184 23h0m11 17h0m1-13h0m5 17h0m2-12h0m5 0h0m5 5h0m136-24h0m8 27h0m2-3h0m4-20h0m3 12h0m5-15h0m-183 48h0m1-1h0m6-7h0m3 21h0m1-2h0m1 3h0m4-22h0m1 10h0m2-11h0m140 27h0m6-17h0m1 3h0m0 10h0m9 14h0m1-20h0m2-5h0m14 19h0m-189 10h0m17-3h0m25 5h0m43-1h0m50-1h0m11-3h0m13 5h0"/>
<line x1="60.20" y1="221.20" x2="60.20" y2="297.60" stroke="#333" stroke-width="0.9"/>
<line x1="59.80" y1="297.20" x2="135.80" y2="297.20" stroke="#333" stroke-width="0.9"/>
<path fill="none" stroke="#333" stroke-width="0.8" d="M57.90 229.20L60.20 229.20M57.90 250.40L60.20 250.40M57.90 271.50L60.20 271.50M57.90 292.80L60.20 292.80M64.10 297.20L64.10 299.50M85.50 297.20L85.50 299.50M106.80 297.20L106.80 299.50M128.10 297.20L128.10 299.50"/>
<path fill="none" stroke="#333" stroke-width="0.5" d="M59.10 222.82L60.20 222.82M59.10 224.50L60.20 224.50M59.10 225.92L60.20 225.92M59.10 227.15L60.20 227.15M59.10 228.23L60.20 228.23M59.10 235.58L60.20 235.58M59.10 239.31L60.20 239.31M59.10 241.96L60.20 241.96M59.10 244.02L60.20 244.02M59.10 245.70L60.20 245.70M59.10 247.12L60.20 247.12M59.10 248.35L60.20 248.35M59.10 249.43L60.20 249.43M59.10 256.78L60.20 256.78M59.10 260.51L60.20 260.51M59.10 263.16L60.20 263.16M59.10 265.22L60.20 265.22M59.10 266.90L60.20 266.90M59.10 268.32L60.20 268.32M59.10 269.55L60.20 269.55M59.10 270.63L60.20 270.63M59.10 277.98L60.20 277.98M59.10 281.71L60.20 281.71M59.10 284.36L60.20 284.36M59.10 286.42L60.20 286.42M59.10 288.10L60.20 288.10M59.10 289.52L60.20 289.52M59.10 290.75L60.20 290.75M59.10 291.83L60.20 291.83M60.79 297.20L60.79 298.30M62.03 297.20L62.03 298.30M63.12 297.20L63.12 298.30M70.54 297.20L70.54 298.30M74.31 297.20L74.31 298.30M76.98 297.20L76.98 298.30M79.06 297.20L79.06 298.30M80.75 297.20L80.75 298.30M82.19 297.20L82.19 298.30M83.43 297.20L83.43 298.30M84.52 297.20L84.52 298.30M91.94 297.20L91.94 298.30M95.71 297.20L95.71 298.30M98.38 297.20L98.38 298.30M100.46 297.20L100.46 298.30M102.15 297.20L102.15 298.30M103.59 297.20L103.59 298.30M104.83 297.20L104.83 298.30M105.92 297.20L105.92 298.30M113.34 297.20L113.34 298.30M117.11 297.20L117.11 298.30M119.78 297.20L119.78 298.30M121.86 297.20L121.86 298.30M123.55 297.20L123.55 298.30M124.99 297.20L124.99 298.30M126.23 297.20L126.23 298.30M127.32 297.20L127.32 298.30M134.74 297.20L134.74 298.30"/>
<path transform="scale(.1)" fill="none" stroke="#a51c1c" stroke-width="7.0" stroke-linecap="square" stroke-opacity="0.6" d="M2267 2436h0m5 0h0m85-4h0m-215 25h0m32-15h0m16 8h0m77-9h0m2 34h0m14-5h0m86 1h0m6-8h0m1-6h0m-196 60h0m30-31h0m6 19h0m28-5h0m33 0h0m9 8h0m5 5h0m25-17h0m16 0h0m4 19h0m8-6h0m74-6h0m13-2h0m15-18h0m-394 59h0m13-3h0m36 17h0m31-21h0m6 23h0m1-22h0m21-8h0m1 5h0m18 25h0m6-21h0m24 0h0m9 4h0m5-16h0m5 17h0m12 5h0m11-20h0m7-4h0m26 19h0m4-10h0m2 16h0m2-24h0m3 11h0m2 1h0m8 11h0m5 7h0m8 2h0m2 2h0m37-23h0m73 17h0m14-1h0m41-3h0m-472 25h0m79 21h0m13-34h0m7 35h0m21-19h0m0 3h0m8-8h0m0 15h0m17 7h0m23-17h0m9 5h0m1-7h0m6 5h0m2 6h0m7 9h0m0 5h0m4-1h0m0 1h0m8-17h0m1 13h0m7-20h0m1 17h0m3-18h0m3-12h0m3 9h0m6 1h0m0 4h0m5 4h0m8 9h0m5 1h0m2-9h0m3 2h0m2 8h0m1 4h0m2-33h0m1 24h0m1 11h0m2-29h0m12 1h0m3 15h0m1-2h0m1 9h0m0 5h0m1-9h0m3-2h0m2 10h0m5-1h0m7-19h0m2 7h0m3 13h0m9-26h0m8-8h0m6 8h0m1 28h0m1-14h0m8 2h0m0 9h0m9-13h0m2 10h0m9-30h0m16 20h0m1 13h0m10-3h0m10-23h0m21-7h0m5 14h0m58 7h0m-416 36h0m35 7h0m17 1h0m8 11h0m8-20h0m0 9h0m5 9h0m1-17h0m2-16h0m0 9h0m6 5h0m0 14h0m16 0h0m6 7h0m8-11h0m3-3h0m6-18h0m0 2h0m1 17h0m2 12h0m5-10h0m2-7h0m3-10h0m0 8h0m2-5h0m1 12h0m1-12h0m2 26h0m2-17h0m1 15h0m4-26h0m2 1h0m3-2h0m1 26h0m7-16h0m1 20h0m1-25h0m0 19h0m3-8h0m2-13h0m1 7h0m4-2h0m3 7h0m5-20h0m2 13h0m1 15h0m1-31h0m2 15h0m2 23h0m2-33h0m0 13h0m0 4h0m1 12h0m6 1h0m1-27h0m5 23h0m1-32h0m0 22h0m3-15h0m5 13h0m0 7h0m5-27h0m3 22h0m2 8h0m2 9h0m3-35h0m0 3h0m3-6h0m1 11h0m3 1h0m2 23h0m12-21h0m6-4h0m0 26h0m1-20h0m5 6h0m5 4h0m1 1h0m1 6h0m0 3h0m9-30h0m3 1h0m8 10h0m17 5h0m15 3h0m5 10h0m33-28h0m127 5h0m2 8h0m-502 30h0m32 8h0m6 9h0m14-28h0m8 36h0m1-3h0m16-8h0m4 11h0m4-33h0m0 17h0m3 6h0m11 1h0m2 9h0m13-27h0m3 17h0m0 1h0m4-9h0m8 0h0m2-18h0m3 8h0m0 3h0m4-5h0m0 10h0m1-3h0m0 12h0m0 7h0m2-32h0m2 33h0m5-22h0m1 10h0m5-19h0m1 34h0m2-21h0m0 13h0m0 8h0m1-32h0m0 25h0m2 6h0m4-1h0m1 1h0m1-22h0m1-2h0m3 20h0m1 5h0m1-36h0m0 38h0m2-7h0m2 1h0m2-9h0m9 5h0m3-12h0m1-9h0m0 17h0m1 3h0m1-4h0m6-22h0m1 20h0m1-20h0m0 26h0m3-7h0m1-14h0m1 6h0m0 22h0m6-13h0m0 18h0m4-19h0m2 1h0m3-10h0m0 5h0m0 20h0m2-15h0m0 3h0m2-12h0m1-1h0m2 16h0m3 4h0m4-20h0m0 14h0m2-10h0m3-9h0m1 4h0m2 8h0m10-6h0m1-10h0m8 22h0m2 6h0m1-10h0m2 4h0m5 10h0m13-20h0m3 19h0m1-24h0m4-1h0m2 5h0m5 26h0m2-4h0m1-23h0m1 16h0m3 3h0m6-24h0m0 3h0m13-5h0m2 6h0m15 5h0m16-13h0m15 34h0m3-26h0m3 28h0m2-17h0m14-22h0m12 1h0m39 30h0m-531 24h0m109-2h0m7-9h0m19 1h0m10 29h0m11 4h0m8-16h0m18-18h0m8 31h0m2-35h0m1 16h0m3 3h0m4-5h0m4-6h0m6 14h0m2-22h0m1 9h0m13-3h0m1-2h0m1 7h0m2 3h0m2 10h0m2-4h0m2-7h0m6 4h0m6 4h0m3 3h0m4-2h0m2-11h0m1 19h0m0 1h0m1-27h0m1 1h0m2 4h0m0 22h0m0 8h0m3-34h0m0 32h0m1-19h0m4-15h0m1 23h0m0 0h0m1 2h0m0 2h0m0 9h0m1-17h0m4-3h0m1-3h0m1 15h0m1-27h0m0 8h0m0 16h0m0 5h0m1-17h0m2-9h0m0 22h0m5 4h0m10-17h0m0 14h0m0 4h0m1-9h0m1-1h0m0 9h0m2-23h0m2 14h0m4 2h0m1-25h0m0 36h0m5-19h0m2 2h0m6 2h0m1-19h0m6 12h0m10-1h0m1-9h0m3 34h0m5-37h0m6 2h0m1 28h0m4-15h0m4 18h0m2-14h0m1 10h0m4-20h0m0 28h0m6-27h0m2 0h0m3 0h0m6 26h0m6-33h0m5 32h0m2-34h0m0 7h0m0 13h0m1-17h0m6 32h0m8-12h0m2-9h0m7-5h0m5 23h0m39-6h0m-297 16h0m1 16h0m5-15h0m0 13h0m1-17h0m4 2h0m4 13h0m3-1h0m11 20h0m6-35h0m2 25h0m2-13h0m0 26h0m4-21h0m6 15h0m3-24h0m0 21h0m1-21h0m0 6h0m0 13h0m3-21h0m0 16h0m1 7h0m2-30h0m4 18h0m4-10h0m0 24h0m1-10h0m2 15h0m2-9h0m3-28h0m0 2h0m5-2h0m0 21h0m6-9h0m0 8h0m3-18h0m1 18h0m1-8h0m4 19h0m0 4h0m1-24h0m3 26h0m2-34h0m0 6h0m1 13h0m2-12h0m0 5h0m1 17h0m4 3h0m1-22h0m0 16h0m1-3h0m0 10h0m5-27h0m0 3h0m0 8h0m4 14h0m1-9h0m1-18h0m3 26h0m0 1h0m4-15h0m1-16h0m1 8h0m1 6h0m0 21h0m1-36h0m1 29h0m4-30h0m3 32h0m6-8h0m0 7h0m1 0h0m2-28h0m0 28h0m1-19h0m0 14h0m2-10h0m3-12h0m2 14h0m2-17h0m0 25h0m7-1h0m1-15h0m2-1h0m4 5h0m3 5h0m3 12h0m2 1h0m1-13h0m2-8h0m12 20h0m1-32h0m0 8h0m1 10h0m0 12h0m0 6h0m1-25h0m1 2h0m1-3h0m4 9h0m4-17h0m6 36h0m5-36h0m0 23h0m9-12h0m5 14h0m2-10h0m6-10h0m0 18h0m3-10h0m5-1h0m4-1h0m2-2h0m6 25h0m14-8h0m-372 43h0m8 7h0m16-33h0m6 3h0m30-3h0m33 13h0m27-14h0m6 10h0m10-12h0m9 0h0m2 4h0m0 18h0m1-19h0m0 3h0m18 29h0m5-26h0m3-7h0m0 5h0m1-3h0m2 31h0m4-12h0m5-18h0m0 18h0m1-3h0m2 8h0m3-24h0m1 6h0m0 1h0m8-3h0m1 2h0m0 16h0m2-22h0m0 11h0m4 14h0m6-23h0m8 5h0m3 14h0m2 6h0m6-17h0m0 1h0m3-12h0m1-4h0m0 36h0m5-5h0m2-7h0m1-8h0m5-12h0m0 1h0m2 25h0m2-9h0m0 13h0m4-6h0m2 1h0m1-28h0m12 14h0m2-11h0m7 26h0m6 6h0m24-4h0m3-21h0m2 17h0m13-15h0m27-14h0m49 6h0m-393 35h0m61 25h0m10-16h0m2 24h0m17-24h0m8-3h0m14-1h0m8 10h0m9 7h0m5 11h0m18-6h0m1-5h0m2-13h0m0 28h0m1-34h0m4-2h0m2 13h0m9 13h0m7-23h0m5 3h0m0 9h0m2 13h0m6 3h0m14-1h0m1-31h0m4 4h0m3 30h0m0 0h0m5-24h0m6 9h0m2-1h0m10 2h0m15-8h0m0 3h0m7 11h0m6-13h0m13-6h0m10-7h0m5 15h0m41-1h0m3-12h0m15 11h0m113 9h0m-383 23h0m39 25h0m10 1h0m26-18h0m3-8h0m0 24h0m16-25h0m0 14h0m5-17h0m6 31h0m1-13h0m14-20h0m8 9h0m3 24h0m26-1h0m10 6h0m5-37h0m42 9h0m-227 64h0m34 5h0m32-1h0m41-11h0m54-4h0m98 2h0m0 2h0m-302 19h0m124-5h0m29 4h0"/>
<path transform="scale(.1)" fill="none" stroke="#b44848" stroke-width="6.0" stroke-linecap="square" stroke-opacity="0.45" d="M2296 2316h0m-110 35h0m135-23h0m91 3h0m94 27h0m9-22h0m-105 48h0m105-22h0m-272 61h0m18-15h0m23 4h0m112-6h0m51 32h0m-256 14h0m5 2h0m57 2h0m297-1h0m-287 28h0m77 9h0m105 16h0m6 11h0m-213 9h0m5 30h0m11-25h0m65 22h0m93-23h0m65 23h0m4-8h0m-358 13h0m9 9h0m17 26h0m2-1h0m32-16h0m97-9h0m24 5h0m133 25h0m94-22h0m-295 55h0m8-25h0m55 6h0m26-2h0m99 10h0m-296 55h0m35-34h0m64 16h0m143 12h0m36-12h0m-278 41h0m125 11h0m285-8h0m-416 39h0m58 7h0m19-23h0m21 15h0m57-19h0m96 24h0m41 13h0m113-18h0m-214 26h0m28 12h0m-198 60h0m117-4h0m9-33h0m48 23h0m14-21h0m213 9h0m-359 28h0m60 16h0m12 14h0m17-13h0m48-11h0m46 6h0m113-9h0m4 5h0m9-4h0m26 26h0m-317 30h0m10 11h0m155 7h0m112-15h0"/>
<path transform="scale(.1)" fill="none" stroke="#9a1414" stroke-width="7.0" stroke-linecap="square" stroke-opacity="0.6" d="M2279 2307h0m45 4h0m34 2h0m7 1h0m25-3h0m13-4h0m22-10h0m6 19h0m1-1h0m4-19h0m2 1h0m0 0h0m5 16h0m6 4h0m3-10h0m4-6h0m3 17h0m1-11h0m21-4h0m4 5h0m-274 29h0m42 14h0m1-6h0m3-3h0m6 12h0m9-18h0m5 23h0m2-12h0m1 4h0m13-15h0m2 20h0m4-2h0m3-7h0m0 8h0m2-20h0m0 14h0m0 3h0m4-3h0m0 6h0m2-9h0m2-11h0m4 1h0m0 9h0m6 1h0m0 1h0m0 0h0m0 1h0m1-3h0m2-7h0m1-13h0m5 23h0m3-16h0m1-8h0m6-2h0m2 17h0m1 0h0m0 3h0m1 0h0m5-13h0m1 9h0m3 0h0m11-10h0m0 8h0m1-9h0m2 9h0m9-2h0m0 4h0m4-1h0m2-4h0m4-2h0m4 1h0m5-2h0m6-8h0m3 3h0m3 0h0m3 2h0m1 0h0m1 2h0m14-2h0m2-2h0m10 1h0m4 3h0m3-5h0m1 0h0m5 1h0m4 4h0m1-4h0m1-4h0m4 8h0m2-3h0m8 2h0m1 2h0m1-2h0m0 7h0m1 15h0m2-4h0m0 8h0m1-9h0m0 2h0m0 9h0m1-23h0m1 12h0m2-2h0m0 12h0m3-34h0m3 13h0m1 2h0m1 17h0m9-6h0m8-8h0m5 0h0m-343 54h0m7-14h0m13-2h0m17 22h0m10-9h0m3-6h0m3-3h0m4 13h0m5-14h0m1 19h0m2 0h0m1-26h0m0 22h0m1-4h0m2 2h0m1-20h0m1 0h0m1 16h0m1 1h0m1-25h0m0 22h0m0 2h0m1-11h0m1 4h0m1 0h0m1-2h0m0 0h0m1-1h0m1 4h0m1-13h0m0 8h0m0 3h0m1-8h0m6 4h0m2-6h0m9-4h0m9-2h0m1-3h0m2-2h0m3 4h0m9-3h0m2-1h0m177 36h0m3-15h0m0 3h0m1 5h0m3-15h0m0 9h0m0 7h0m1-19h0m1 26h0m11-4h0m2-17h0m0 20h0m1-36h0m1 21h0m1-16h0m3 11h0m6 6h0m2-19h0m3 3h0m-324 39h0m7 30h0m1-34h0m3 32h0m2-32h0m2 1h0m4 11h0m3 9h0m5-19h0m0 26h0m0 0h0m4-9h0m1 4h0m4-12h0m0 5h0m4-14h0m240 22h0m3-9h0m1 21h0m1-17h0m1-6h0m0 15h0m5 10h0m3-32h0m3 0h0m0 29h0m9 0h0m4-23h0m-328 58h0m3 7h0m7-25h0m14 3h0m0 6h0m5-15h0m1-2h0m0 25h0m1-8h0m0 5h0m1 2h0m1 7h0m1-19h0m0 3h0m1 4h0m1-17h0m0 8h0m1-5h0m1 4h0m2-12h0m250 36h0m1-22h0m3 22h0m1-10h0m1-18h0m0 13h0m0 1h0m0 4h0m0 1h0m1 0h0m2-19h0m0 0h0m0 5h0m0 4h0m1-13h0m0 3h0m0 4h0m1 5h0m1-18h0m4 19h0m4 10h0m4 6h0m3-20h0m0 10h0m1-2h0m3 4h0m2-3h0m-335 23h0m9 31h0m2-8h0m5-7h0m3-21h0m0 14h0m2-5h0m1 25h0m9-21h0m2-12h0m0 18h0m5 0h0m1-7h0m0 0h0m1-12h0m1 27h0m1-17h0m0 18h0m1-28h0m252 36h0m1-5h0m1-28h0m2 11h0m4-13h0m0 6h0m2-7h0m0 1h0m0 25h0m1-12h0m3-2h0m5 0h0m4 4h0m5 5h0m10-6h0m18-14h0m-347 42h0m3 20h0m15-5h0m2 4h0m0 4h0m2 3h0m2-19h0m1-10h0m2 0h0m6 27h0m1-11h0m2-18h0m0 36h0m1-31h0m0 1h0m1 32h0m237-6h0m1 7h0m3-5h0m1-2h0m3-12h0m0 2h0m1-19h0m0 11h0m0 7h0m2-2h0m4-16h0m0 14h0m1-17h0m0 26h0m7-5h0m2 11h0m3-32h0m10 0h0m1 9h0m-300 48h0m17-8h0m2 21h0m0 1h0m6-31h0m2 6h0m5 14h0m2 3h0m2 10h0m0 6h0m2-12h0m0 5h0m1-6h0m5 5h0m204 3h0m0 1h0m1 2h0m2-8h0m1 4h0m1-12h0m0 4h0m0 11h0m2-27h0m1 11h0m2-9h0m2-6h0m0 3h0m0 21h0m0 0h0m1-10h0m9-19h0m1 34h0m1-32h0m0 14h0m9-8h0m7 1h0m1 5h0m-268 27h0m0 16h0m1-1h0m13 1h0m5 15h0m6-18h0m0 2h0m2 5h0m1-18h0m2 1h0m3 4h0m0 2h0m4 14h0m1-13h0m1 8h0m1-15h0m1 13h0m2-16h0m1 13h0m2 6h0m13 12h0m2 1h0m4 3h0m1-3h0m0 3h0m144-1h0m2-12h0m6-16h0m0 15h0m1 2h0m1-10h0m0 13h0m1-17h0m0 18h0m3-24h0m0 14h0m7-14h0m2 18h0m4-2h0m4 6h0m18-12h0m-261 33h0m23-1h0m22 8h0m8 4h0m0 13h0m18-30h0m3 16h0m1-13h0m1 0h0m2 0h0m1 13h0m2-12h0m2 17h0m4 6h0m4-17h0m2 3h0m1 16h0m5-14h0m1 2h0m4 6h0m0 9h0m3-11h0m0 9h0m1 1h0m4-6h0m1 0h0m4 12h0m4-5h0m1-3h0m2 3h0m1 1h0m14 3h0m1 2h0m7-2h0m32 1h0m3 0h0m1-2h0m1-3h0m0 1h0m3 0h0m3-4h0m1-9h0m6-11h0m4 6h0m0 13h0m3-18h0m1-9h0m0 14h0m0 23h0m2-7h0m1-31h0m2 10h0m4 0h0m3-3h0m5-6h0m4 2h0m6 3h0m9 5h0m-161 31h0m26 7h0m0 13h0m6-5h0m5-18h0m2 6h0m1 5h0m6 18h0m5-14h0m8 21h0m1-1h0m10-34h0m7-1h0m2 4h0m0 22h0m1 9h0m1-34h0m0 33h0m5-11h0m3-20h0m5-2h0m1 1h0m3 22h0m9-9h0m6-9h0m8 11h0m2-13h0"/>
<path d="M226.00 237.00L226.64 236.65L227.34 236.30L228.10 235.96L228.91 235.63L229.75 235.31L230.62 235.00L231.52 234.71L232.43 234.43L233.34 234.16L234.24 233.92L235.13 233.70L236.00 233.50L236.89 233.31L237.83 233.14L238.80 232.97L239.80 232.81L240.80 232.68L241.78 232.56L242.74 232.47L243.65 232.41L244.50 232.38L245.27 232.38L245.94 232.42L246.50 232.50L246.95 232.61L247.31 232.74L247.58 232.88L247.78 233.06L247.91 233.26L248.00 233.50L248.04 233.78L248.06 234.11L248.05 234.49L248.03 234.93L248.01 235.43L248.00 236.00L247.99 236.65L247.95 237.40L247.88 238.22L247.80 239.11L247.69 240.05L247.56 241.03L247.42 242.04L247.26 243.06L247.09 244.07L246.90 245.08L246.70 246.06L246.50 247.00L246.28 247.92L246.04 248.86L245.79 249.80L245.52 250.74L245.23 251.68L244.94 252.62L244.63 253.56L244.31 254.48L243.99 255.39L243.66 256.28L243.33 257.15L243.00 258.00L242.66 258.85L242.32 259.71L241.97 260.58L241.61 261.44L241.25 262.30L240.88 263.12L240.50 263.92L240.11 264.67L239.72 265.36L239.32 265.99L238.91 266.54L238.50 267.00L238.08 267.38L237.67 267.70L237.25 267.95L236.83 268.15L236.41 268.29L235.97 268.38L235.52 268.41L235.06 268.41L234.57 268.36L234.07 268.27L233.55 268.15L233.00 268.00L232.41 267.80L231.78 267.53L231.11 267.20L230.41 266.81L229.69 266.39L228.97 265.94L228.25 265.46L227.54 264.96L226.85 264.46L226.19 263.96L225.57 263.47L225.00 263.00L224.46 262.54L223.94 262.08L223.43 261.62L222.94 261.15L222.48 260.67L222.03 260.19L221.61 259.69L221.22 259.19L220.86 258.66L220.54 258.13L220.25 257.57L220.00 257.00L219.79 256.40L219.63 255.77L219.50 255.12L219.41 254.44L219.35 253.76L219.31 253.06L219.30 252.36L219.31 251.67L219.34 250.98L219.39 250.30L219.44 249.64L219.50 249.00L219.57 248.38L219.66 247.75L219.77 247.13L219.89 246.52L220.03 245.91L220.19 245.31L220.36 244.72L220.56 244.15L220.77 243.59L220.99 243.04L221.24 242.51L221.50 242.00L221.77 241.51L222.04 241.03L222.32 240.57L222.61 240.13L222.92 239.70L223.25 239.28L223.61 238.88L224.00 238.48L224.43 238.10L224.90 237.72L225.42 237.36Z" fill="url(#g_c2)" filter="url(#rough)"/>
<path transform="scale(.1)" fill="none" stroke="#a81a1a" stroke-width="7.0" stroke-linecap="square" stroke-opacity="0.7" d="M2417 2310h0m14 3h0m31-2h0m-187 44h0m6-5h0m0 7h0m5-13h0m4 9h0m2-2h0m1 6h0m4-3h0m5-13h0m25 12h0m2-16h0m2 6h0m0 5h0m1 3h0m2-16h0m2-6h0m6 15h0m4-8h0m1-1h0m0 1h0m7-8h0m0 4h0m7 6h0m1-4h0m1 4h0m3-3h0m1 5h0m1-9h0m3-4h0m0 6h0m1-6h0m9 0h0m0 14h0m5-20h0m7 4h0m0 1h0m11 0h0m0 8h0m2-10h0m0 1h0m0 15h0m1 0h0m3-17h0m5 1h0m3 3h0m9-4h0m1 0h0m10 6h0m3-7h0m1 16h0m5-4h0m8-5h0m2-1h0m10 3h0m2 9h0m1-2h0m0 5h0m0 7h0m2-23h0m0 13h0m4-17h0m0 21h0m0 6h0m1-11h0m4 5h0m2-1h0m-269 54h0m3 1h0m8-3h0m3 2h0m6-25h0m3 22h0m4-20h0m0 25h0m2-24h0m0 6h0m3 10h0m1-16h0m0 5h0m6-14h0m2 15h0m5-12h0m4 9h0m1-5h0m2 7h0m2-12h0m8 4h0m3-7h0m22 0h0m8 4h0m156 28h0m5 1h0m3-27h0m0 13h0m1-11h0m1-5h0m0 16h0m3-5h0m3-5h0m1 24h0m1-30h0m7 15h0m3-1h0m3-20h0m1 24h0m-297 32h0m0 11h0m2-3h0m0 9h0m1-18h0m0 5h0m5 4h0m2-5h0m0 9h0m7-29h0m0 26h0m1-17h0m1-6h0m0 31h0m2-11h0m1-19h0m2 2h0m6 8h0m7-11h0m3-4h0m220 26h0m2-8h0m1 16h0m3-7h0m0 3h0m3-16h0m0 14h0m3 9h0m1-21h0m1 6h0m0 14h0m2-26h0m0 12h0m1-5h0m0 0h0m2 3h0m2 4h0m7 12h0m3-21h0m0 8h0m-303 29h0m4 3h0m0 7h0m0 10h0m1 1h0m3-20h0m1-10h0m0 23h0m0 2h0m2-12h0m7 11h0m2-15h0m0 8h0m2-6h0m2 8h0m232 13h0m10-25h0m0 15h0m3-16h0m0 17h0m1-7h0m0 4h0m4-7h0m0 1h0m0 14h0m2-16h0m1 15h0m0 3h0m1-20h0m0 14h0m1 8h0m1-16h0m2-17h0m1 20h0m3 6h0m2-22h0m5 5h0m-298 32h0m0 23h0m2-8h0m3 12h0m1-20h0m0 15h0m1 9h0m2-31h0m2 10h0m10-9h0m2-2h0m0 3h0m227 24h0m6-12h0m2 14h0m3-7h0m2 11h0m2-7h0m0 5h0m1-20h0m3-10h0m0 21h0m0 1h0m0 9h0m5-3h0m1 0h0m3-31h0m0 34h0m1-15h0m3-9h0m0 16h0m4-26h0m6 2h0m3 10h0m-292 55h0m3-14h0m1-7h0m1-5h0m1-1h0m3 39h0m1-33h0m1 32h0m3-2h0m0 1h0m1-31h0m1-1h0m1 3h0m1 2h0m9 19h0m214-29h0m6 19h0m2-2h0m5 12h0m7-1h0m3-2h0m1 2h0m2-10h0m2-13h0m-269 43h0m2-5h0m2 31h0m6-33h0m2 13h0m1 2h0m3-4h0m2 1h0m2-2h0m0 27h0m4-10h0m1 4h0m1-10h0m2 13h0m1-29h0m1 20h0m2-5h0m13 15h0m182-19h0m1 14h0m8-12h0m4-9h0m0 23h0m4 1h0m4 5h0m1-35h0m5 9h0m2-13h0m3 22h0m4-3h0m-243 28h0m15-4h0m3 16h0m3 1h0m1-15h0m3 14h0m1-13h0m1 4h0m1-1h0m5 4h0m6 13h0m1-7h0m1 13h0m1-9h0m0 5h0m1-1h0m1 7h0m1-18h0m0 4h0m2 8h0m1-3h0m1-9h0m0 23h0m2-22h0m3 6h0m8 7h0m1 9h0m119-8h0m11 3h0m3-26h0m5 27h0m1-13h0m2 17h0m5-35h0m2 3h0m2 18h0m1-19h0m1 5h0m0 4h0m0 16h0m1-7h0m4-3h0m-168 20h0m1 4h0m2 4h0m8-2h0m8-7h0m1 13h0m4-2h0m3 1h0m1-6h0m5 13h0m0 6h0m3-20h0m4 30h0m2-8h0m0 4h0m2-12h0m1 3h0m6 10h0m0 1h0m5-14h0m1 19h0m2-3h0m6-4h0m4 8h0m6-5h0m1 4h0m1-1h0m1-2h0m7 4h0m4-5h0m2-8h0m8 6h0m0 2h0m8 5h0m2-5h0m4-8h0m4-1h0m2 11h0m2-5h0m2-22h0m2 25h0m3-25h0m3 7h0m0 18h0m5-25h0m0 17h0m2 2h0m3-24h0m1-4h0m5 33h0m-103 7h0m11 4h0m0 3h0m16-5h0m7 1h0m2 2h0m4 14h0m3-18h0m4 4h0m4 11h0m5-12h0m0 2h0m10 4h0m8 1h0m11-7h0"/>
<line x1="182.80" y1="221.20" x2="182.80" y2="297.60" stroke="#333" stroke-width="0.9"/>
<line x1="182.40" y1="297.20" x2="257.00" y2="297.20" stroke="#333" stroke-width="0.9"/>
<path fill="none" stroke="#333" stroke-width="0.8" d="M180.50 228.90L182.80 228.90M180.50 247.60L182.80 247.60M180.50 266.40L182.80 266.40M180.50 285.10L182.80 285.10M196.10 297.20L196.10 299.50M214.60 297.20L214.60 299.50M233.20 297.20L233.20 299.50M251.70 297.20L251.70 299.50"/>
<path fill="none" stroke="#333" stroke-width="0.5" d="M181.70 223.27L182.80 223.27M181.70 224.75L182.80 224.75M181.70 226.00L182.80 226.00M181.70 227.09L182.80 227.09M181.70 228.04L182.80 228.04M181.70 234.53L182.80 234.53M181.70 237.82L182.80 237.82M181.70 240.16L182.80 240.16M181.70 241.97L182.80 241.97M181.70 243.45L182.80 243.45M181.70 244.70L182.80 244.70M181.70 245.79L182.80 245.79M181.70 246.74L182.80 246.74M181.70 253.23L182.80 253.23M181.70 256.52L182.80 256.52M181.70 258.86L182.80 258.86M181.70 260.67L182.80 260.67M181.70 262.15L182.80 262.15M181.70 263.40L182.80 263.40M181.70 264.49L182.80 264.49M181.70 265.44L182.80 265.44M181.70 271.93L182.80 271.93M181.70 275.22L182.80 275.22M181.70 277.56L182.80 277.56M181.70 279.37L182.80 279.37M181.70 280.85L182.80 280.85M181.70 282.10L182.80 282.10M181.70 283.19L182.80 283.19M181.70 284.14L182.80 284.14M181.70 290.63L182.80 290.63M181.70 293.92L182.80 293.92M181.70 296.26L182.80 296.26M186.43 297.20L186.43 298.30M188.74 297.20L188.74 298.30M190.53 297.20L190.53 298.30M192.00 297.20L192.00 298.30M193.23 297.20L193.23 298.30M194.31 297.20L194.31 298.30M195.25 297.20L195.25 298.30M201.67 297.20L201.67 298.30M204.93 297.20L204.93 298.30M207.24 297.20L207.24 298.30M209.03 297.20L209.03 298.30M210.50 297.20L210.50 298.30M211.73 297.20L211.73 298.30M212.81 297.20L212.81 298.30M213.75 297.20L213.75 298.30M220.17 297.20L220.17 298.30M223.43 297.20L223.43 298.30M225.74 297.20L225.74 298.30M227.53 297.20L227.53 298.30M229.00 297.20L229.00 298.30M230.23 297.20L230.23 298.30M231.31 297.20L231.31 298.30M232.25 297.20L232.25 298.30M238.67 297.20L238.67 298.30M241.93 297.20L241.93 298.30M244.24 297.20L244.24 298.30M246.03 297.20L246.03 298.30M247.50 297.20L247.50 298.30M248.73 297.20L248.73 298.30M249.81 297.20L249.81 298.30M250.75 297.20L250.75 298.30"/>
<path transform="scale(.1)" fill="none" stroke="#9e1414" stroke-width="7.0" stroke-linecap="square" stroke-opacity="0.6" d="M3358 2425h0m-127 73h0m206 17h0m23-6h0m-288 26h0m52 9h0m58 15h0m7-18h0m7 13h0m7-5h0m4-9h0m74-19h0m55 15h0m2 6h0m4-22h0m42 36h0m19-21h0m4 14h0m14-12h0m27-10h0m70 18h0m-451 36h0m5-11h0m17 11h0m10 7h0m7 1h0m5-26h0m33 1h0m6 35h0m2-4h0m9-30h0m52 0h0m24 11h0m50 20h0m53-3h0m9-11h0m1-19h0m90-2h0m3 15h0m1-3h0m201 7h0m-616 42h0m9-9h0m1-4h0m1 4h0m9-3h0m2 26h0m10 3h0m25-10h0m45-18h0m2 19h0m17 2h0m13 7h0m26-3h0m7 0h0m35 1h0m21-17h0m0 7h0m23 10h0m5-9h0m16 10h0m2-19h0m40 20h0m9-5h0m3-5h0m10 9h0m38-28h0m7-10h0m41 26h0m2 7h0m28-7h0m98-19h0m-527 38h0m6 32h0m5-12h0m13-22h0m15 19h0m9-1h0m3 11h0m8-21h0m9-4h0m2 0h0m4 6h0m5-11h0m2-1h0m14 14h0m8 24h0m1-31h0m3 14h0m11 16h0m24-27h0m1 17h0m13-20h0m0 30h0m6-14h0m1-1h0m6 6h0m8 8h0m13-30h0m5-1h0m2 33h0m7-7h0m4 3h0m7-14h0m4-17h0m13 26h0m3-21h0m18-9h0m5 28h0m33-1h0m0 0h0m30 2h0m2-15h0m8 22h0m1-15h0m13 9h0m3-29h0m13 14h0m8-5h0m55 3h0m16 21h0m44-32h0m45 28h0m-549 42h0m32-27h0m6 5h0m18-8h0m4 14h0m11 13h0m6-5h0m14-1h0m0 8h0m45-20h0m8-2h0m2 12h0m1 8h0m1 4h0m7 6h0m12-7h0m8-5h0m6-5h0m4-5h0m2-1h0m4 21h0m1-3h0m1-30h0m6 0h0m2 5h0m23 4h0m1-10h0m1 33h0m18-19h0m1 14h0m3-21h0m8 25h0m0 2h0m2-14h0m4 0h0m12 1h0m15-15h0m0 11h0m4-11h0m2 26h0m11-22h0m6-13h0m7 0h0m5 17h0m0 8h0m6-10h0m4 21h0m14-11h0m1-14h0m5 8h0m4-6h0m14-7h0m7 20h0m13-7h0m30-13h0m0 9h0m33-9h0m16 28h0m11-22h0m51 9h0m-542 30h0m11 3h0m4 15h0m18-15h0m3 25h0m13-20h0m12 2h0m10 6h0m4 1h0m5-19h0m15 15h0m3-10h0m4 16h0m9-10h0m12-14h0m11 33h0m2 0h0m13-6h0m1-21h0m3 26h0m7-7h0m5-24h0m6 22h0m1 7h0m1-12h0m2-12h0m0 9h0m4-19h0m5 37h0m14-17h0m3-11h0m3 24h0m1-31h0m5 15h0m12 5h0m4-20h0m3-1h0m4 25h0m1 4h0m1 0h0m1-27h0m3 13h0m1 16h0m3-24h0m19 21h0m4-5h0m5 8h0m5-25h0m5 6h0m2 4h0m1 12h0m13-31h0m6 18h0m1 10h0m3-24h0m1 15h0m1 5h0m4 5h0m7-7h0m10-16h0m2 21h0m18-2h0m1-14h0m3 28h0m12-12h0m3 11h0m1-34h0m1 34h0m2-27h0m1 21h0m15-11h0m17-8h0m0 18h0m0 1h0m8 6h0m2 1h0m6-24h0m1 18h0m5-3h0m6-13h0m0 1h0m13 19h0m5-5h0m15 7h0m10-27h0m8-4h0m32 18h0m47-9h0m-570 24h0m14 13h0m11 0h0m9 2h0m17 8h0m5-5h0m2-15h0m8 0h0m12 3h0m1 14h0m7 12h0m2-32h0m3 9h0m11-10h0m1 28h0m1-4h0m6 13h0m2-4h0m2-2h0m5-26h0m2-5h0m8 0h0m8 30h0m0 9h0m8-32h0m2 13h0m2 13h0m7-8h0m0 8h0m1-29h0m3 5h0m4 9h0m1 6h0m2 14h0m9-24h0m6 21h0m10-20h0m7 6h0m0 7h0m14 5h0m0 3h0m3-23h0m4-10h0m1 32h0m1 4h0m2-10h0m5-24h0m2-4h0m5 20h0m1-11h0m0 27h0m1-13h0m11 13h0m1-30h0m1 16h0m1-17h0m2 8h0m1 4h0m2-3h0m1 10h0m3-12h0m8 8h0m1 8h0m10-2h0m2 2h0m4-1h0m0 6h0m4-13h0m0 6h0m6 9h0m3-29h0m3 4h0m1 19h0m2-12h0m7 3h0m4 14h0m9-20h0m3 20h0m1-17h0m3-12h0m0 8h0m1 19h0m2-27h0m4 2h0m5-7h0m5 30h0m3-4h0m4 6h0m0 4h0m2-17h0m5-12h0m1 16h0m2 5h0m6 1h0m30-23h0m0 2h0m7 1h0m6-3h0m6 9h0m0 12h0m2 6h0m0 3h0m3 0h0m5-8h0m3-17h0m0 25h0m1-22h0m4-4h0m7 11h0m1-15h0m0 12h0m12 18h0m7 1h0m8-27h0m7 22h0m2-29h0m26 32h0m45 2h0m-551 11h0m3 12h0m1-20h0m1 15h0m7 8h0m1-24h0m0 1h0m8 29h0m1-1h0m5 5h0m1-2h0m7-14h0m7-4h0m5-8h0m5 28h0m10-3h0m1-19h0m5 13h0m5-5h0m10-6h0m2 19h0m2-31h0m5 29h0m14-14h0m3 12h0m3-12h0m3 18h0m2-12h0m12 0h0m2-8h0m2 9h0m0 13h0m2-12h0m3-3h0m1-5h0m12-8h0m11 12h0m9 7h0m1 11h0m8-34h0m1 17h0m7-12h0m0 8h0m3-9h0m1-6h0m2 24h0m6 5h0m1-16h0m0 19h0m3-3h0m2-31h0m8 7h0m5 0h0m2 9h0m6 11h0m2-13h0m7 3h0m2 4h0m2 4h0m2-15h0m11-5h0m4 18h0m1-20h0m0 0h0m3 8h0m7 27h0m11-38h0m2 5h0m1 30h0m8 1h0m7-16h0m1 9h0m2 8h0m3-35h0m12 0h0m2 32h0m3-29h0m3-4h0m10 22h0m1 10h0m11-31h0m8 11h0m4 4h0m9-3h0m4-8h0m2-4h0m7 4h0m1-7h0m0 4h0m1 26h0m3-20h0m9 8h0m1-17h0m4 4h0m27 4h0m9-1h0m7 21h0m19-22h0m1 32h0m2-16h0m0 0h0m0 5h0m16-22h0m0 17h0m68-3h0m28-13h0m7 2h0m65-3h0m-644 42h0m0 21h0m11 7h0m4-36h0m8 17h0m1 4h0m6-13h0m7 26h0m4-34h0m3 0h0m8 4h0m3 31h0m8-27h0m2-2h0m6-5h0m4 37h0m3 0h0m8-12h0m1-7h0m4 17h0m6-35h0m3 20h0m19-8h0m0 26h0m6-27h0m0 13h0m1 2h0m1-19h0m1 25h0m1-8h0m15 12h0m2-19h0m5 16h0m5-34h0m0 38h0m1-33h0m4 5h0m1 19h0m1-12h0m1 5h0m4-5h0m7 0h0m3 18h0m8-10h0m0 13h0m7-5h0m4-10h0m1-3h0m1 8h0m2-20h0m11-2h0m2 14h0m2 5h0m3 10h0m12-18h0m2 6h0m0 14h0m1-1h0m4-25h0m0 7h0m0 0h0m4-15h0m2 17h0m9-12h0m0 0h0m4 26h0m4-9h0m8 0h0m6-16h0m2 9h0m0 3h0m2 6h0m2-6h0m3-8h0m3 15h0m10-24h0m0 31h0m3-34h0m5 0h0m1 31h0m13-22h0m0 15h0m3-14h0m2-3h0m4-8h0m0 12h0m6 6h0m5-14h0m3 8h0m0 3h0m3-9h0m5-5h0m8 20h0m10 1h0m1 4h0m11 1h0m7-15h0m2 5h0m5 21h0m9-25h0m8-13h0m3 5h0m38 26h0m16-13h0m6-3h0m-469 41h0m2 6h0m7-7h0m4 2h0m4-4h0m3-10h0m8 3h0m0 16h0m6-5h0m11-13h0m1 9h0m13 2h0m5 6h0m1-6h0m0 20h0m1-3h0m30 1h0m6-33h0m11 30h0m7-24h0m6-5h0m4 8h0m7 21h0m9-13h0m2 10h0m11 7h0m1-3h0m5 0h0m2 0h0m6-18h0m7 10h0m0 15h0m2-15h0m7-20h0m3 11h0m20 10h0m2-24h0m2 19h0m2 4h0m2-2h0m4 16h0m4-6h0m9-1h0m3 1h0m0 4h0m1-11h0m3-11h0m7 18h0m1 4h0m1-13h0m1 16h0m6-22h0m8-3h0m2 21h0m2-26h0m4-3h0m1 18h0m8-5h0m1 14h0m6-24h0m2 3h0m3 2h0m1 8h0m0 2h0m4-22h0m2 13h0m6 18h0m1-24h0m6 26h0m5-8h0m0 2h0m4 6h0m7-28h0m1 24h0m2-17h0m2-2h0m0 11h0m14-22h0m4 15h0m1-9h0m1 3h0m1 17h0m9-24h0m10 5h0m1 29h0m4-4h0m24 5h0m5-10h0m3 5h0m5-31h0m35 21h0m5-9h0m1-5h0m3 6h0m4 12h0m13-13h0m13 1h0m0 19h0m10-15h0m-514 25h0m24 33h0m12-28h0m0 29h0m6-20h0m1 8h0m7-21h0m6 16h0m2 3h0m10 0h0m16-8h0m8 2h0m7 19h0m6-18h0m1-15h0m0 9h0m9 19h0m7-29h0m2 3h0m2 8h0m1 24h0m18-25h0m2-3h0m0 5h0m1 15h0m12-21h0m0 13h0m5 10h0m3-28h0m3 10h0m0 3h0m6-10h0m0 24h0m2-26h0m19 4h0m2 16h0m5 3h0m1 8h0m3 3h0m6-18h0m19 9h0m0 10h0m3-23h0m2 16h0m4-1h0m5 4h0m15-34h0m9 4h0m2-2h0m2 24h0m5 9h0m6-6h0m15-22h0m6-7h0m36 31h0m1-13h0m10-16h0m3 6h0m3 27h0m19-12h0m2-4h0m6-1h0m1-10h0m2 14h0m1-5h0m1-11h0m2 20h0m2 1h0m3 10h0m10-3h0m9-8h0m14-16h0m10 10h0m14-10h0m0 24h0m3-34h0m1 32h0m9 3h0m13-22h0m29 22h0m23-11h0m-527 16h0m42 5h0m116-1h0m130-2h0m16-2h0m46 3h0m24 1h0m41-3h0m26 2h0"/>
<path transform="scale(.1)" fill="none" stroke="#a81818" stroke-width="6.0" stroke-linecap="square" stroke-opacity="0.55" d="M3488 2353h0m51 51h0m-48 66h0m36-21h0m36-9h0m45 11h0m-56 54h0m54-17h0m-62 66h0m2-5h0m8-1h0m11-10h0m99 17h0m16-24h0m-197 67h0m14-26h0m40 13h0m1-13h0m31-9h0m7 14h0m0 19h0m7-5h0m4-2h0m20 9h0m33-24h0m17 19h0m21-28h0m-233 61h0m14-16h0m51 26h0m6-35h0m31 4h0m2 5h0m0 15h0m5 1h0m25-10h0m6 9h0m2 6h0m12-13h0m6 20h0m8-21h0m0 8h0m9 7h0m2 4h0m13-21h0m30 23h0m18-4h0m43-4h0m-313 24h0m62-10h0m19 27h0m5-25h0m17 32h0m12-10h0m11-4h0m4-22h0m3 0h0m15 22h0m6 12h0m2-33h0m0 12h0m1-3h0m1-6h0m12 31h0m2-11h0m1 7h0m3-28h0m7 12h0m3-9h0m6 11h0m14 16h0m6-30h0m1 34h0m14-19h0m7 17h0m7-13h0m7-19h0m13 32h0m1-15h0m1-22h0m-214 64h0m4 14h0m29-22h0m9 5h0m3 18h0m1-31h0m9 3h0m3-10h0m1 30h0m4-20h0m4 16h0m16 12h0m1-23h0m9-16h0m0 24h0m0 3h0m4-24h0m5 31h0m2-8h0m8-20h0m19-6h0m4 17h0m14 12h0m7-11h0m32-10h0m13 15h0m4 10h0m5-21h0m31-8h0m15 26h0m-320 37h0m89-2h0m1 14h0m2-7h0m13-6h0m1 12h0m22-27h0m4 7h0m1-3h0m0 7h0m8 9h0m7-4h0m0 6h0m1-27h0m2 14h0m1-10h0m0 20h0m5-3h0m11-10h0m10 8h0m8-4h0m0 16h0m14-25h0m2 8h0m3-10h0m0 15h0m5-2h0m4 1h0m7-7h0m1 16h0m9-12h0m2-10h0m2-11h0m2 30h0m12-21h0m-217 42h0m29-4h0m7-6h0m8 28h0m16-3h0m14-18h0m13-7h0m27 10h0m2 28h0m1-34h0m4 10h0m9-4h0m4 1h0m1 26h0m15-19h0m6-19h0m6 39h0m9-21h0m1-3h0m6 21h0m16-29h0m0 9h0m1 4h0m0 11h0m4-15h0m19 21h0m1-10h0m26-23h0m5 20h0m25-17h0m-199 66h0m20-29h0m6 28h0m17-7h0m32-8h0m4 6h0m1 12h0m1-21h0m19-3h0m8-2h0m14 11h0m1-1h0m10 8h0m4 4h0m1-31h0m30 4h0m5 13h0m3-5h0m-215 30h0m10-2h0m14 6h0m26 3h0m20-7h0m23 0h0m5 37h0m10-19h0m7 18h0m1-5h0m1-21h0m18-8h0m10 10h0m20 6h0m16-2h0m24-15h0m1 15h0m-146 36h0m14-11h0m8 2h0m146 3h0m30-6h0m-230 59h0m111-6h0m-82 25h0"/>
<path transform="scale(.1)" fill="none" stroke="#9a1414" stroke-width="7.0" stroke-linecap="square" stroke-opacity="0.6" d="M3110 2427h0m21-11h0m5 11h0m0 7h0m3 4h0m3-27h0m20 6h0m1 22h0m1-6h0m1-2h0m31 4h0m1 2h0m12-16h0m18 0h0m21-17h0m5 6h0m3 23h0m8-18h0m42 5h0m7-3h0m6 7h0m24-1h0m12-1h0m7 11h0m9-9h0m1-4h0m2 18h0m7-13h0m3-12h0m2 20h0m13-12h0m4 4h0m3 6h0m7 7h0m2-11h0m3-5h0m14-2h0m10 3h0m8 16h0m6-25h0m24 22h0m8-1h0m-373 29h0m6 8h0m1 4h0m6-10h0m1-7h0m6 6h0m1-3h0m2-3h0m3-2h0m3-1h0m0 6h0m2-2h0m5-15h0m8 1h0m1 10h0m2 3h0m2-9h0m5 5h0m2-8h0m2 0h0m3 12h0m3-12h0m3 13h0m1 2h0m3-10h0m2 7h0m0 1h0m1-14h0m0 0h0m0 16h0m3-2h0m1-18h0m2 20h0m4-1h0m2 2h0m1-13h0m3 15h0m1-7h0m2-13h0m0 3h0m0 16h0m5-22h0m1 18h0m1-14h0m0 20h0m6-1h0m1-18h0m2 21h0m3-27h0m1 24h0m1 3h0m1-2h0m1 2h0m1-3h0m1-17h0m0 23h0m3-13h0m6 7h0m0 3h0m6-11h0m2 1h0m2 8h0m0 3h0m1-26h0m2 6h0m1 20h0m5-16h0m1-1h0m0 13h0m7 1h0m3-2h0m0 2h0m6-20h0m1 18h0m9-12h0m0 10h0m0 1h0m2-16h0m2 4h0m2 17h0m1-6h0m2 1h0m0 0h0m1-2h0m6 0h0m2 0h0m2-8h0m0 8h0m2-6h0m7 3h0m7 2h0m6-15h0m9 12h0m0 1h0m7-1h0m7 4h0m2-19h0m2-1h0m0 15h0m3-15h0m2 20h0m3-6h0m3-6h0m0 13h0m2-4h0m1-3h0m0 4h0m1-9h0m4-1h0m2-4h0m0 17h0m4-7h0m2-1h0m1 0h0m7 2h0m3 0h0m14-13h0m3 18h0m1-5h0m5-2h0m1 0h0m2 0h0m2 3h0m1-11h0m0 10h0m3 0h0m1-1h0m2-13h0m3 8h0m0 8h0m1 1h0m3 0h0m0 2h0m1-18h0m8 18h0m1-4h0m2-3h0m2 8h0m1 2h0m6-8h0m0 9h0m5 4h0m11-17h0m1 17h0m21-14h0m2 20h0m4-7h0m3 3h0m10 4h0m3 4h0m37-24h0m-445 25h0m0 13h0m1-8h0m0 4h0m0 3h0m1 0h0m0 3h0m0 13h0m1-6h0m1-9h0m355-6h0m6-7h0m9 12h0m2 7h0m0 2h0m1-2h0m3-2h0m0 2h0m2 9h0m3-25h0m1 0h0m2 27h0m0 0h0m3-12h0m1 1h0m4 6h0m4-21h0m5 7h0m2-4h0m7-2h0m10 3h0m3 0h0m5 20h0m11-2h0m8-4h0m-52 23h0m0 4h0m1-2h0m7 9h0m0 1h0m1 0h0m0 3h0m1-15h0m0 15h0m1 3h0m1 2h0m3 7h0m4 1h0m1-26h0m3 17h0m0 15h0m7-6h0m13-18h0m4 9h0m7-4h0m2 13h0m1-12h0m1 10h0m0 8h0m6-33h0m-45 35h0m3-1h0m3 9h0m7 9h0m1-15h0m2 21h0m1-7h0m7 13h0m22-16h0m1 14h0m7 11h0m17-11h0m-42 14h0m1 1h0m1 0h0m0 4h0m3 5h0m0 0h0m2 1h0m0 16h0m1-13h0m0 0h0m0 5h0m1 2h0m1 13h0m2-35h0m0 32h0m6-24h0m1-3h0m5 20h0m1 6h0m4-29h0m7 11h0m37 24h0m-80 39h0m2-1h0m3-7h0m1 5h0m1-1h0m4-10h0m2-1h0m1-7h0m1-3h0m2-8h0m2 12h0m0 20h0m1-32h0m12 6h0m3 27h0m7-15h0m-74 49h0m1 1h0m1-6h0m2 8h0m2-5h0m1-3h0m1-8h0m0 11h0m3-4h0m0 0h0m3-9h0m1 5h0m3-9h0m1-3h0m1 7h0m4-10h0m1 5h0m2-5h0m4 21h0m4 2h0m1 10h0m10-39h0m16 13h0m11 17h0m9-5h0m14 1h0m-128 50h0m3 3h0m1 0h0m6-10h0m3-5h0m2 0h0m2-6h0m1-5h0m0 2h0m0 3h0m1-3h0m2-7h0m2 2h0m8 8h0m5 18h0m21-30h0m2-6h0m7 16h0m1-4h0m6-8h0m13 35h0m-464 26h0m2 8h0m1-6h0m2 11h0m344-1h0m2-3h0m3-3h0m1 3h0m2-11h0m0 8h0m0 2h0m1 3h0m3-11h0m4-4h0m0 3h0m1-6h0m0 11h0m1 1h0m2-13h0m0 22h0m3-25h0m0 0h0m2-8h0m0 27h0m1-27h0m1 27h0m1-27h0m0 16h0m5-2h0m3-2h0m16-3h0m1 1h0m4-14h0m-404 38h0m1 12h0m1 2h0m2 4h0m1-15h0m0 14h0m0 3h0m1 3h0m1-8h0m2 7h0m0 15h0m1-16h0m2 12h0m6 4h0m1-1h0m12-1h0m7 3h0m14 1h0m3 0h0m3 0h0m2 0h0m4-2h0m2 2h0m5-6h0m10 1h0m9 3h0m2 1h0m2-6h0m3 3h0m2 1h0m2-5h0m226 3h0m3 5h0m3-24h0m3 9h0m2-5h0m1-8h0m3 0h0m1-10h0m1 9h0m3 6h0m4-15h0m19 28h0m2-12h0m3 6h0m10 2h0m-377 17h0m0 6h0m0 31h0m4-16h0m6-22h0m7 1h0m2 12h0m3-14h0m6 0h0m3 1h0m1 2h0m0 23h0m1-25h0m4 2h0m4 6h0m11-9h0m5 28h0m1-28h0m13 7h0m2 23h0m19-9h0m5-3h0m3-14h0m2-1h0m3 1h0m0 5h0m2-4h0m3 7h0m0 21h0m1-31h0m0 4h0m0 16h0m3-18h0m6 21h0m4-14h0m1 20h0m8-18h0m2 3h0m1 0h0m3 15h0m6-11h0m1-5h0m1 4h0m1 6h0m4 6h0m2-9h0m2 3h0m5-1h0m1 0h0m1 12h0m1-9h0m1-1h0m0 0h0m1 3h0m7 0h0m8 5h0m3 0h0m5 5h0m3-4h0m1 3h0m1 0h0m96-6h0m2-3h0m6-6h0m2-9h0m2-3h0m3 11h0m2-13h0m3-4h0m2-2h0m0 1h0m1-3h0m1 8h0m17-2h0m0 9h0m8-9h0m4 20h0m7-7h0m13-4h0m9-15h0m-294 47h0m23-1h0m15 14h0m31-19h0m13 15h0m12-7h0m8-7h0m9 18h0m3-4h0m2-17h0m1 19h0m3 1h0m0 12h0m7-30h0m2 3h0m1-1h0m4-2h0m1 16h0m2-9h0m1 0h0m1 2h0m17 28h0m1-21h0m0 0h0m13 1h0m7-2h0m1-1h0m10-1h0m3-1h0m1 4h0m5-11h0m0 13h0m0 8h0m8-23h0m5 3h0m2 0h0m2 11h0m3-11h0m10 0h0m1-6h0m2 36h0m4-38h0m2 2h0m2 6h0m15 9h0m29-15h0m7 0h0m-255 43h0m133-2h0m15 25h0m9-20h0m23 0h0"/>
<path d="M311.00 248.50L311.66 247.26L312.48 246.39L313.42 245.83L314.48 245.54L315.64 245.45L316.88 245.53L318.17 245.72L319.52 245.96L320.89 246.21L322.27 246.42L323.65 246.53L325.00 246.50L326.40 246.36L327.91 246.21L329.50 246.05L331.15 245.89L332.82 245.73L334.50 245.59L336.15 245.48L337.74 245.39L339.25 245.34L340.65 245.34L341.91 245.39L343.00 245.50L343.91 245.65L344.67 245.83L345.30 246.03L345.81 246.26L346.25 246.53L346.62 246.84L346.97 247.21L347.30 247.63L347.64 248.11L348.02 248.67L348.47 249.29L349.00 250.00L349.64 250.82L350.38 251.78L351.19 252.84L352.04 253.98L352.90 255.19L353.75 256.44L354.56 257.70L355.30 258.96L355.94 260.20L356.45 261.38L356.82 262.49L357.00 263.50L356.99 264.43L356.82 265.31L356.51 266.14L356.07 266.94L355.54 267.72L354.94 268.47L354.28 269.21L353.59 269.94L352.90 270.68L352.22 271.43L351.58 272.20L351.00 273.00L350.45 273.83L349.88 274.67L349.30 275.54L348.70 276.41L348.10 277.28L347.50 278.16L346.90 279.02L346.30 279.87L345.70 280.70L345.12 281.50L344.55 282.27L344.00 283.00L343.47 283.72L342.95 284.44L342.45 285.17L341.96 285.89L341.48 286.59L341.00 287.25L340.52 287.87L340.04 288.44L339.55 288.95L339.05 289.39L338.53 289.74L338.00 290.00L337.46 290.15L336.93 290.21L336.39 290.18L335.85 290.07L335.31 289.91L334.75 289.69L334.18 289.43L333.59 289.15L332.98 288.85L332.35 288.55L331.69 288.27L331.00 288.00L330.27 287.73L329.51 287.44L328.71 287.12L327.89 286.78L327.05 286.42L326.19 286.06L325.32 285.70L324.44 285.33L323.57 284.98L322.70 284.63L321.84 284.30L321.00 284.00L320.13 283.81L319.22 283.78L318.27 283.87L317.30 284.02L316.33 284.17L315.38 284.28L314.46 284.29L313.59 284.15L312.80 283.80L312.09 283.20L311.48 282.28L311.00 281.00L310.61 279.23L310.26 276.94L309.97 274.23L309.74 271.22L309.58 268.01L309.50 264.69L309.50 261.37L309.59 258.17L309.78 255.17L310.07 252.49L310.48 250.23Z" fill="url(#g_c3)" filter="url(#rough)"/>
<path transform="scale(.1)" fill="none" stroke="#a81a1a" stroke-width="7.0" stroke-linecap="square" stroke-opacity="0.7" d="M3343 2435h0m24-1h0m-257 44h0m5-12h0m8 12h0m1-6h0m0 7h0m3-1h0m1-20h0m2 2h0m0 9h0m6-9h0m2-13h0m5 9h0m0 7h0m2-18h0m3 11h0m1 9h0m1-21h0m3 10h0m1 11h0m3-15h0m1 5h0m12 2h0m7 8h0m13 2h0m5-24h0m1 11h0m5 25h0m1-22h0m2 12h0m1-7h0m5-7h0m2 8h0m0 4h0m3-1h0m1-3h0m2-7h0m0 20h0m3-26h0m1 18h0m3-10h0m2 16h0m3-12h0m0 11h0m6-10h0m0 0h0m1-1h0m5 2h0m1-7h0m0 13h0m4-9h0m5-3h0m0 19h0m1-15h0m3-12h0m2 19h0m1-8h0m4 9h0m0 3h0m7-12h0m0 6h0m4-4h0m2-7h0m0 11h0m7 3h0m3-5h0m1-10h0m0 9h0m2 1h0m3 4h0m6 3h0m1-12h0m0 3h0m1-13h0m1 19h0m1-4h0m1-6h0m1-8h0m0 4h0m3-4h0m0 8h0m9-13h0m0 18h0m2-6h0m2-9h0m0 2h0m3 9h0m5-1h0m1 16h0m1-3h0m4-28h0m1 13h0m1-14h0m0 15h0m3-7h0m0 4h0m2 11h0m0 1h0m6-15h0m0 7h0m3-7h0m3 12h0m1-18h0m11 5h0m1 11h0m1-6h0m3-16h0m1 10h0m2 3h0m0 10h0m1-5h0m7-8h0m1 1h0m2 16h0m1-23h0m1 14h0m3-5h0m1-9h0m5 18h0m2-4h0m1-13h0m1 3h0m3-7h0m7 18h0m4-8h0m1-4h0m12 5h0m2 11h0m5-21h0m1 15h0m4 8h0m2-1h0m0 5h0m2-23h0m0 7h0m0 22h0m9-19h0m2 2h0m1 17h0m1 1h0m2-9h0m2-10h0m1 0h0m0 19h0m9 2h0m3-7h0m8-3h0m14 9h0m-377 14h0m2-6h0m2 11h0m1-13h0m2 10h0m23-13h0m108 4h0m212 12h0m16-14h0m1 27h0m0 0h0m4-4h0m0 3h0m1-7h0m0 4h0m1-5h0m1 3h0m1 7h0m1-8h0m0 12h0m1 5h0m2-15h0m1-20h0m0 5h0m2 3h0m0 20h0m3-7h0m3 4h0m0 3h0m10 2h0m-407 43h0m1-19h0m4 15h0m391-26h0m5-6h0m4 7h0m0 26h0m5-18h0m0 1h0m2 0h0m0 10h0m1 2h0m5 3h0m1 3h0m0 4h0m-414 31h0m409-16h0m2-12h0m12 6h0m3 20h0m1-6h0m1-7h0m4-13h0m0 1h0m1 24h0m1 10h0m1-16h0m1-10h0m1 15h0m2 4h0m5-2h0m5 9h0m-453 28h0m448-23h0m3 34h0m1-33h0m0 23h0m4 1h0m1 3h0m2-11h0m1-15h0m2 21h0m4-16h0m-39 69h0m15-12h0m3 11h0m3-20h0m4-14h0m1 5h0m0 5h0m1-3h0m0 27h0m1-33h0m0 12h0m1-4h0m1 14h0m2-2h0m4-6h0m2-18h0m1 10h0m2-7h0m0 8h0m8-9h0m-71 58h0m1 11h0m5-17h0m2 14h0m0 6h0m8-28h0m1-4h0m0 24h0m2-11h0m1 11h0m2-3h0m3-20h0m0 30h0m2-13h0m3-3h0m0 3h0m4-17h0m3 13h0m10-10h0m3-2h0m-454 75h0m2-29h0m353 25h0m8-3h0m8 4h0m10 3h0m3-3h0m1-2h0m7-34h0m1 3h0m1 24h0m2-2h0m4-14h0m3 5h0m3 1h0m3-8h0m-399 67h0m7 2h0m326-2h0m0 3h0m6-18h0m0 12h0m3 5h0m3-14h0m0 15h0m3-5h0m1-20h0m6-6h0m3 18h0m0 11h0m4-13h0m3 13h0m1-6h0m2-19h0m11-8h0m4-4h0m-395 57h0m6 6h0m2-15h0m2 23h0m1-13h0m3 5h0m0 7h0m3 4h0m1-8h0m1 9h0m10-12h0m3 14h0m17-5h0m3 7h0m14-12h0m9 7h0m4-4h0m0 7h0m10-15h0m0 17h0m14-3h0m5-11h0m5 11h0m0 1h0m44-6h0m153-4h0m8-5h0m2 4h0m3-14h0m4-11h0m3 24h0m2-8h0m1 15h0m3-16h0m3-12h0m6 31h0m2-25h0m1-4h0m0 27h0m1 6h0m16-23h0m1 3h0m-339 23h0m2 18h0m5-17h0m4 0h0m8 2h0m4 7h0m15-10h0m8 13h0m10-9h0m5 2h0m4-3h0m1-4h0m2 3h0m4 9h0m4 1h0m2-10h0m4 4h0m5-6h0m3 5h0m0 8h0m3 4h0m2-16h0m9 11h0m1 9h0m3 1h0m2-8h0m1 10h0m1-10h0m2 9h0m3-14h0m1 4h0m4 10h0m1-12h0m4 13h0m1 0h0m1-2h0m1-22h0m2 15h0m1 12h0m2 1h0m1-7h0m1 2h0m4 2h0m2-9h0m6 13h0m1-11h0m0 5h0m0 0h0m6-7h0m7 20h0m2-6h0m5 5h0m3-12h0m10 7h0m6 6h0m64-2h0m3-21h0m18 13h0m4 4h0m1-2h0m1-15h0m1-10h0m0 16h0m2 3h0m2-6h0m0 0h0m1-6h0m9 3h0m0 18h0m1-16h0m2-14h0m0 10h0m1-1h0m1 2h0m-166 31h0m35 1h0m4-1h0m1-1h0m1 10h0m9-11h0m6 8h0m1-11h0m1 12h0m2-3h0m1 3h0m0 3h0m0 13h0m5-20h0m0 4h0m3 2h0m3 3h0m1 15h0m3-29h0m3 10h0m1 6h0m5-18h0m0 13h0m5 12h0m0 9h0m6 1h0m1-27h0m2-5h0m2 22h0m4-6h0m2-9h0m10 4h0m3 5h0m3-4h0m0 4h0m9 12h0m1-20h0"/>
<line x1="310.00" y1="221.20" x2="310.00" y2="297.60" stroke="#333" stroke-width="0.9"/>
<line x1="309.60" y1="297.20" x2="385.70" y2="297.20" stroke="#333" stroke-width="0.9"/>
<path fill="none" stroke="#333" stroke-width="0.8" d="M307.70 229.10L310.00 229.10M307.70 247.80L310.00 247.80M307.70 266.60L310.00 266.60M307.70 285.30L310.00 285.30M312.10 297.20L312.10 299.50M329.00 297.20L329.00 299.50M345.90 297.20L345.90 299.50M362.80 297.20L362.80 299.50M379.70 297.20L379.70 299.50"/>
<path fill="none" stroke="#333" stroke-width="0.5" d="M308.90 223.47L310.00 223.47M308.90 224.95L310.00 224.95M308.90 226.20L310.00 226.20M308.90 227.29L310.00 227.29M308.90 228.24L310.00 228.24M308.90 234.73L310.00 234.73M308.90 238.02L310.00 238.02M308.90 240.36L310.00 240.36M308.90 242.17L310.00 242.17M308.90 243.65L310.00 243.65M308.90 244.90L310.00 244.90M308.90 245.99L310.00 245.99M308.90 246.94L310.00 246.94M308.90 253.43L310.00 253.43M308.90 256.72L310.00 256.72M308.90 259.06L310.00 259.06M308.90 260.87L310.00 260.87M308.90 262.35L310.00 262.35M308.90 263.60L310.00 263.60M308.90 264.69L310.00 264.69M308.90 265.64L310.00 265.64M308.90 272.13L310.00 272.13M308.90 275.42L310.00 275.42M308.90 277.76L310.00 277.76M308.90 279.57L310.00 279.57M308.90 281.05L310.00 281.05M308.90 282.30L310.00 282.30M308.90 283.39L310.00 283.39M308.90 284.34L310.00 284.34M308.90 290.83L310.00 290.83M308.90 294.12L310.00 294.12M308.90 296.46L310.00 296.46M311.33 297.20L311.33 298.30M317.19 297.20L317.19 298.30M320.16 297.20L320.16 298.30M322.27 297.20L322.27 298.30M323.91 297.20L323.91 298.30M325.25 297.20L325.25 298.30M326.38 297.20L326.38 298.30M327.36 297.20L327.36 298.30M328.23 297.20L328.23 298.30M334.09 297.20L334.09 298.30M337.06 297.20L337.06 298.30M339.17 297.20L339.17 298.30M340.81 297.20L340.81 298.30M342.15 297.20L342.15 298.30M343.28 297.20L343.28 298.30M344.26 297.20L344.26 298.30M345.13 297.20L345.13 298.30M350.99 297.20L350.99 298.30M353.96 297.20L353.96 298.30M356.07 297.20L356.07 298.30M357.71 297.20L357.71 298.30M359.05 297.20L359.05 298.30M360.18 297.20L360.18 298.30M361.16 297.20L361.16 298.30M362.03 297.20L362.03 298.30M367.89 297.20L367.89 298.30M370.86 297.20L370.86 298.30M372.97 297.20L372.97 298.30M374.61 297.20L374.61 298.30M375.95 297.20L375.95 298.30M377.08 297.20L377.08 298.30M378.06 297.20L378.06 298.30M378.93 297.20L378.93 298.30M384.79 297.20L384.79 298.30"/>
<path transform="scale(.1)" fill="none" stroke="#b04040" stroke-width="6.0" stroke-linecap="square" stroke-opacity="0.55" d="M4361 2512h0m8-5h0m2 2h0m12-8h0m4 16h0m1-30h0m9 26h0m12-10h0m4 11h0m12-11h0m8-12h0m12 5h0m2 16h0m20 6h0m6-32h0m0 20h0m23-22h0m38 16h0m27 18h0m3-22h0m17-9h0m1 18h0m5 0h0m18-2h0m12-4h0m20 11h0m1 2h0m8-13h0m20 20h0m3-34h0m3 26h0m14-2h0m2-15h0m3 25h0m5-17h0m6 15h0m7-12h0m2-11h0m8-1h0m1 24h0m2-12h0m18-3h0m8-2h0m0 16h0m4-19h0m-376 34h0m7 21h0m36-14h0m8-17h0m14 18h0m8-12h0m6-7h0m6 31h0m14-29h0m23 35h0m39-32h0m16 25h0m2-9h0m8 7h0m7-2h0m11-17h0m8-2h0m9 21h0m14-1h0m0 9h0m42-1h0m46-26h0m3 12h0m19-4h0m9-1h0m3 9h0m7-17h0m1 19h0m22-23h0m-394 62h0m54-17h0m15-5h0m5 18h0m4 8h0m11-23h0m10 25h0m10-27h0m1 25h0m20 5h0m13-17h0m1-18h0m11 2h0m38 10h0m3 15h0m13-3h0m2-18h0m15-1h0m4 6h0m14 3h0m2-1h0m2 1h0m1 11h0m3 13h0m1 0h0m19-4h0m8-29h0m10 14h0m3 15h0m11-18h0m16 9h0m2-4h0m6-3h0m23-13h0m20 8h0m0 14h0m5-3h0m6-9h0m13 7h0m8 1h0m-412 33h0m8 18h0m17-26h0m3 9h0m8-6h0m21 4h0m13-11h0m19 7h0m3 9h0m2-8h0m23-5h0m16 5h0m3-11h0m4 36h0m11 0h0m1-6h0m24-24h0m4-1h0m5-3h0m19 1h0m7 29h0m20-30h0m16 8h0m10 1h0m6-6h0m10-4h0m6 0h0m27 1h0m4-1h0m22 12h0m1-5h0m5-6h0m4 6h0m12 10h0m58-10h0m-379 46h0m48-3h0m19 15h0m13 9h0m67-3h0m50-9h0m50-9h0m6 19h0m6-17h0m25-6h0m1 6h0m-312 24h0m39 17h0m3-4h0m34 10h0m37 5h0m4-24h0m8 1h0m3-2h0m27 28h0m4 7h0m149-20h0m-206 58h0m-28 40h0m-4 34h0m118 13h0m30-3h0"/>
<path transform="scale(.1)" fill="none" stroke="#9a1414" stroke-width="7.0" stroke-linecap="square" stroke-opacity="0.6" d="M4646 2265h0m48 8h0m3 0h0m21 6h0m2-5h0m65 2h0m10 3h0m38-1h0m-398 32h0m8-5h0m1-2h0m6 6h0m3 9h0m7-1h0m5-9h0m37-7h0m0 18h0m7-1h0m8 0h0m4 0h0m2-29h0m6 4h0m4 26h0m3-10h0m5 1h0m13 1h0m4 4h0m5-30h0m4 16h0m2-10h0m4 8h0m3 15h0m1 4h0m3 1h0m3-18h0m2 17h0m2-5h0m1 3h0m1-18h0m1-1h0m1 19h0m2 0h0m4-3h0m0 6h0m4-2h0m2-3h0m1-1h0m1 0h0m0 3h0m2-4h0m10 1h0m1-2h0m1-8h0m0 11h0m1-3h0m1 4h0m4-1h0m4-6h0m2-16h0m0 11h0m0 6h0m1-20h0m0 23h0m2-2h0m0 2h0m2-21h0m4 9h0m3-1h0m3 10h0m4-26h0m3 25h0m2-6h0m2 9h0m4-1h0m5-10h0m0 9h0m10-2h0m7 2h0m4-7h0m1 4h0m4 3h0m1 4h0m7-4h0m4-1h0m1-13h0m0 13h0m3-2h0m0 1h0m1 0h0m1 0h0m1-1h0m2 4h0m1-24h0m0 2h0m4 17h0m4-18h0m0 20h0m6-9h0m0 11h0m2-22h0m2 7h0m1-5h0m1 5h0m0 14h0m1-7h0m0 2h0m4 4h0m1-8h0m9 9h0m6 1h0m7-27h0m1 22h0m2 7h0m2-6h0m6 1h0m2-1h0m1 4h0m0 4h0m3-24h0m1 6h0m0 11h0m2 6h0m2-20h0m0 20h0m4-7h0m0 7h0m1-1h0m8-30h0m6 27h0m1-4h0m2 10h0m1-13h0m1 14h0m2-3h0m0 1h0m0 1h0m5-9h0m0 10h0m1-1h0m8-8h0m0 10h0m5 2h0m4-29h0m0 30h0m6 0h0m2-15h0m1-12h0m8 23h0m1-31h0m3 17h0m17 11h0m1 3h0m7-12h0m5-7h0m4 20h0m-526 33h0m27-26h0m2 23h0m1-3h0m6-3h0m5-1h0m11-5h0m0 25h0m1-33h0m1 28h0m11 3h0m0 0h0m1 1h0m6 0h0m1-4h0m1 0h0m2 0h0m3 2h0m6-2h0m5-2h0m4-5h0m3-2h0m3 0h0m7-18h0m1 7h0m1-13h0m1 24h0m3-7h0m7-1h0m5 2h0m3-5h0m1 2h0m3 2h0m1 1h0m2-9h0m10 1h0m7 2h0m2-1h0m7-6h0m6-4h0m0 5h0m3 2h0m2-2h0m3-7h0m0 8h0m6-2h0m4-3h0m1 0h0m3 0h0m7-2h0m4 2h0m3 2h0m282-2h0m6 1h0m6 7h0m7 1h0m4-1h0m7 0h0m4 3h0m0 0h0m2 1h0m0 0h0m0 2h0m2-1h0m2 2h0m0 4h0m3-1h0m0 1h0m4-7h0m2 9h0m1-1h0m0 1h0m0 2h0m4-6h0m1 10h0m1 4h0m6 0h0m3 4h0m1-9h0m1 5h0m4-1h0m8-28h0m6 22h0m-582 34h0m4-3h0m6 19h0m2 0h0m1-2h0m3-5h0m0 5h0m5-22h0m5-7h0m0 18h0m9-5h0m0 2h0m2-3h0m1-6h0m0 5h0m2-3h0m1 3h0m2-8h0m1 7h0m3-4h0m2-12h0m2 17h0m6-6h0m6-6h0m3-3h0m0 2h0m492-3h0m3 35h0m1-35h0m0 0h0m1 20h0m0 15h0m1-32h0m0 25h0m2-23h0m0 22h0m0 0h0m0 7h0m0 2h0m4-30h0m0 8h0m0 7h0m0 17h0m7-28h0m0 25h0m12-27h0m10 5h0m-602 39h0m2 1h0m1-3h0m1-5h0m1 7h0m510 26h0m6-11h0m2 6h0m2-3h0m5 7h0m2-17h0m12 5h0m1-6h0m1-2h0m9-14h0m1 4h0m1 7h0m3-15h0m0 12h0m0 22h0m1-27h0m1-6h0m0 34h0m6-15h0m1-7h0m2-11h0m2-2h0m6 5h0m4-4h0m9 36h0m3-34h0m-596 45h0m1 9h0m1-1h0m0 3h0m1 16h0m1-11h0m8 6h0m2 7h0m1-9h0m5 1h0m7 6h0m4-1h0m5 5h0m368 0h0m5-1h0m3-4h0m5 3h0m1 2h0m4-7h0m0 4h0m1 0h0m13-4h0m7-6h0m4 1h0m3 7h0m4-13h0m1 8h0m1-5h0m9-5h0m0 3h0m3-2h0m3-2h0m2 10h0m4-11h0m0 0h0m4-8h0m1 4h0m0 1h0m6-1h0m7-10h0m3 6h0m1-1h0m1-3h0m0 2h0m2 13h0m6-8h0m5-4h0m3-7h0m5 26h0m50-23h0m-567 60h0m3-18h0m7-4h0m1 0h0m10 18h0m9 0h0m1-14h0m1-4h0m0 14h0m3-2h0m1-4h0m2-7h0m0 31h0m1-33h0m5 1h0m9 3h0m0 10h0m1-6h0m2 10h0m8-7h0m9 15h0m1-1h0m1-6h0m3-1h0m4-4h0m0 6h0m3-6h0m1 9h0m1 2h0m1-8h0m6 6h0m3-6h0m1 0h0m1 0h0m1 1h0m2-3h0m2 2h0m3 3h0m1-3h0m4 15h0m4-12h0m0 11h0m7-9h0m2 0h0m0 9h0m4-9h0m2-4h0m2 5h0m4 0h0m1-2h0m5-1h0m2 13h0m2-10h0m9-1h0m3 5h0m7 0h0m1-3h0m16-2h0m13 3h0m1 11h0m3-15h0m3 1h0m1-1h0m0 8h0m1-4h0m2-3h0m0 12h0m3-13h0m10 8h0m2-11h0m3 15h0m5 3h0m1-12h0m3-1h0m3 1h0m0 11h0m1 1h0m3-10h0m5 5h0m2-9h0m0 6h0m7-8h0m8 0h0m1 2h0m4-1h0m5 15h0m1-15h0m0 1h0m2-2h0m1-5h0m1 6h0m1-4h0m2 2h0m1-2h0m1-4h0m3 22h0m5-17h0m1 1h0m1-4h0m4 2h0m3 1h0m1-2h0m2 22h0m3-2h0m2-12h0m5 9h0m1-19h0m1 0h0m0 11h0m4-10h0m1-4h0m6 17h0m2-13h0m4-3h0m1 0h0m0 1h0m2-6h0m1 28h0m1-8h0m3 5h0m9-19h0m2-2h0m1 5h0m1-8h0m0 0h0m5 1h0m0 1h0m1-7h0m0 6h0m1-2h0m1 5h0m1-10h0m0 16h0m1-12h0m2-2h0m0 18h0m5 9h0m2-28h0m2 1h0m0 16h0m3-17h0m9 6h0m2 6h0m1-15h0m0 15h0m1-11h0m3 15h0m1-18h0m0 7h0m8-9h0m10 2h0m0 14h0m2 11h0m1-26h0m8 8h0m7 1h0m2 0h0m2-7h0m6 21h0m4-15h0m9-8h0m18 1h0m8 1h0m23 6h0m-465 38h0m8 10h0m30-8h0m8 1h0m21-5h0m4 11h0m21-1h0m6 4h0m7-11h0m5-5h0m5 3h0m0 13h0m1 15h0m6-22h0m7-5h0m10-1h0m6 12h0m13-16h0m12 28h0m4-14h0m2-10h0m13 10h0m14-2h0m14-2h0m2-4h0m7 8h0m2-15h0m6 17h0m4 1h0m4-2h0m10-13h0m1-3h0m13 12h0m100-13h0"/>
<path d="M491.81 237.29L491.83 237.60L491.82 237.92L491.77 238.24L491.70 238.56L491.59 238.89L491.45 239.22L491.28 239.55L491.09 239.88L490.86 240.22L490.61 240.55L490.33 240.87L490.02 241.20L489.68 241.52L489.31 241.84L488.90 242.17L488.47 242.50L488.00 242.82L487.51 243.15L487.00 243.47L486.46 243.79L485.89 244.10L485.31 244.41L484.70 244.71L484.08 245.01L483.44 245.30L482.76 245.58L482.06 245.87L481.33 246.15L480.58 246.42L479.81 246.69L479.02 246.95L478.22 247.21L477.41 247.46L476.58 247.70L475.75 247.93L474.91 248.15L474.05 248.36L473.18 248.56L472.29 248.76L471.38 248.95L470.45 249.13L469.52 249.31L468.58 249.47L467.64 249.62L466.70 249.77L465.75 249.90L464.82 250.03L463.89 250.14L462.96 250.24L462.01 250.33L461.07 250.41L460.11 250.48L459.16 250.54L458.21 250.59L457.26 250.63L456.32 250.66L455.39 250.68L454.48 250.69L453.58 250.69L452.70 250.68L451.83 250.65L450.97 250.62L450.11 250.57L449.26 250.51L448.42 250.44L447.59 250.36L446.78 250.27L445.99 250.17L445.22 250.06L444.47 249.95L443.75 249.82L443.05 249.68L442.38 249.54L441.73 249.38L441.09 249.21L440.47 249.03L439.87 248.84L439.29 248.64L438.74 248.44L438.22 248.22L437.72 248.00L437.25 247.78L436.82 247.54L436.41 247.30L436.04 247.06L435.69 246.80L435.37 246.54L435.08 246.27L434.81 245.99L434.57 245.70L434.36 245.41L434.19 245.11L434.04 244.81L433.92 244.51L433.84 244.21L433.79 243.91L433.77 243.60L433.78 243.28L433.83 242.96L433.90 242.64L434.01 242.31L434.15 241.98L434.32 241.65L434.51 241.32L434.74 240.98L434.99 240.65L435.27 240.33L435.58 240.00L435.92 239.68L436.29 239.36L436.70 239.03L437.13 238.70L437.60 238.38L438.09 238.05L438.60 237.73L439.14 237.41L439.71 237.10L440.29 236.79L440.90 236.49L441.52 236.19L442.16 235.90L442.84 235.62L443.54 235.33L444.27 235.05L445.02 234.78L445.79 234.51L446.58 234.25L447.38 233.99L448.19 233.74L449.02 233.50L449.85 233.27L450.69 233.05L451.55 232.84L452.42 232.64L453.31 232.44L454.22 232.25L455.15 232.07L456.08 231.89L457.02 231.73L457.96 231.58L458.90 231.43L459.85 231.30L460.78 231.17L461.71 231.06L462.64 230.96L463.59 230.87L464.53 230.79L465.49 230.72L466.44 230.66L467.39 230.61L468.34 230.57L469.28 230.54L470.21 230.52L471.12 230.51L472.02 230.51L472.90 230.52L473.77 230.55L474.63 230.58L475.49 230.63L476.34 230.69L477.18 230.76L478.01 230.84L478.82 230.93L479.61 231.03L480.38 231.14L481.13 231.25L481.85 231.38L482.55 231.52L483.22 231.66L483.87 231.82L484.51 231.99L485.13 232.17L485.73 232.36L486.31 232.56L486.86 232.76L487.38 232.98L487.88 233.20L488.35 233.42L488.78 233.66L489.19 233.90L489.56 234.14L489.91 234.40L490.23 234.66L490.52 234.93L490.79 235.21L491.03 235.50L491.24 235.79L491.41 236.09L491.56 236.39L491.68 236.69L491.76 236.99Z" fill="url(#g_c4)" filter="url(#rough)"/>
<path transform="scale(.1)" fill="none" stroke="#a81a1a" stroke-width="7.0" stroke-linecap="square" stroke-opacity="0.7" d="M4511 2319h0m8-6h0m12 6h0m2-13h0m2 3h0m5 9h0m2-8h0m3 8h0m7-12h0m3 9h0m3-5h0m1 5h0m1 1h0m9-13h0m3 14h0m12-9h0m0 8h0m8-4h0m8 0h0m4 0h0m5-6h0m4 8h0m0 2h0m6-17h0m7 16h0m10 1h0m2-6h0m1 2h0m4-4h0m2 1h0m3 9h0m2-7h0m7-11h0m3 3h0m1-5h0m1 16h0m3-12h0m2 2h0m2 9h0m1-15h0m0 6h0m4-4h0m3-2h0m0 8h0m4 8h0m4-4h0m1-1h0m5 9h0m1-13h0m4-12h0m0 11h0m1 4h0m0 2h0m1 2h0m4 0h0m3-11h0m1 6h0m1-3h0m2-10h0m0 2h0m5 19h0m2-23h0m0 15h0m4-2h0m2 0h0m3 0h0m1 1h0m2 8h0m1-23h0m0 11h0m4-3h0m1-6h0m1 10h0m10 6h0m12-11h0m2 11h0m2 0h0m1-4h0m0 9h0m10-16h0m3 9h0m5-10h0m7 9h0m0 2h0m3 3h0m0 7h0m6-19h0m0 9h0m1 0h0m2 8h0m6 2h0m6-4h0m9-7h0m11-3h0m0 6h0m2 0h0m3 0h0m9 0h0m2-5h0m12 11h0m-442 40h0m21-5h0m1 5h0m4-5h0m1 3h0m0 2h0m2 0h0m3 3h0m2-6h0m1-8h0m1 1h0m1 7h0m1 4h0m2-22h0m1 5h0m3 9h0m9 8h0m2-23h0m2 1h0m1 4h0m0 7h0m3 10h0m3-8h0m3-16h0m5 3h0m0 10h0m3-22h0m12 7h0m3 15h0m1-24h0m7 22h0m7-2h0m6-19h0m0 2h0m3-1h0m1 22h0m25-22h0m2 4h0m2 2h0m10-3h0m5-4h0m26 6h0m54-6h0m58 3h0m46-3h0m30 2h0m5-2h0m1 8h0m6-9h0m23 2h0m3 0h0m2-2h0m0 5h0m11 10h0m6-16h0m4 6h0m11 14h0m5-3h0m1-15h0m1 12h0m2-7h0m8-5h0m1 14h0m2-13h0m13 10h0m1 12h0m0 2h0m1-14h0m10 23h0m5-3h0m2-8h0m1 9h0m-561 39h0m0 3h0m1-2h0m1-6h0m1 3h0m0 3h0m1 2h0m0 2h0m1-5h0m7-9h0m1 14h0m4-26h0m1 14h0m1 12h0m1-12h0m1 8h0m2-17h0m3 17h0m1-4h0m3 5h0m1-13h0m1-8h0m1-4h0m0 18h0m2-14h0m2 7h0m2 11h0m3-2h0m4-8h0m1-13h0m0 27h0m10-21h0m1-15h0m10 5h0m4-1h0m1-4h0m1 12h0m2-1h0m4-9h0m458 16h0m8-10h0m4 29h0m3 2h0m2-30h0m1 12h0m1-17h0m0 27h0m0 2h0m2-33h0m0 14h0m1 12h0m2 7h0m1-15h0m0 8h0m2-9h0m6 21h0m-578 29h0m3-10h0m0 20h0m1-19h0m4 21h0m12-32h0m2 4h0m455 22h0m16 2h0m5-2h0m2 5h0m8 1h0m5-9h0m1-2h0m4 5h0m4-3h0m2-12h0m7 16h0m4-3h0m1-15h0m1 19h0m4 2h0m1-18h0m0 1h0m4 7h0m9-26h0m1 7h0m5 16h0m2-23h0m1 3h0m-565 71h0m1-19h0m2 13h0m2-10h0m1-9h0m1 16h0m1-9h0m1-15h0m1 4h0m0 26h0m3-19h0m0 0h0m16 22h0m14 2h0m0 1h0m6-2h0m0 1h0m8-1h0m15-6h0m11 7h0m320-10h0m12 9h0m1-2h0m11-14h0m2 13h0m3-2h0m0 6h0m1-7h0m1 4h0m4-5h0m3 5h0m1 5h0m4-18h0m0 1h0m4-11h0m7 8h0m2-12h0m3 0h0m2 29h0m1-4h0m1-2h0m8 1h0m2-19h0m8 8h0m8-14h0m0 6h0m2 5h0m0 1h0m4-17h0m1 20h0m1-16h0m8 3h0m6-1h0m11-1h0m5-1h0m4 0h0m-501 39h0m1-4h0m12 12h0m9 2h0m1 7h0m3-9h0m0 13h0m2-13h0m3 1h0m2 7h0m9-14h0m0 10h0m1-14h0m6 15h0m2-10h0m1 8h0m7 5h0m7-12h0m0 21h0m2-4h0m1-19h0m3 15h0m8-7h0m1 8h0m4 0h0m2-8h0m3-2h0m1 23h0m2-21h0m2 6h0m4-2h0m3 11h0m0 5h0m1-20h0m14-2h0m1 17h0m1-22h0m6 23h0m4-19h0m4 14h0m3 3h0m3-7h0m6 8h0m3 0h0m2 1h0m1 1h0m0 2h0m1-19h0m5 2h0m2 14h0m1-9h0m3 11h0m2-5h0m1-5h0m3 9h0m1-10h0m1 7h0m4 2h0m1-13h0m1-4h0m3 17h0m1-6h0m0 3h0m3 2h0m6-2h0m4 3h0m0 1h0m1-7h0m1 5h0m2 9h0m2-17h0m7-1h0m2-3h0m2 8h0m3-3h0m4 9h0m1-15h0m3 11h0m12 3h0m2 0h0m6-11h0m7-1h0m1-3h0m3 1h0m1 15h0m4 3h0m2-17h0m1 6h0m1-13h0m4 15h0m3-5h0m1 1h0m2 3h0m4 0h0m2-15h0m0 16h0m2-9h0m2-7h0m0 11h0m2-1h0m6-3h0m2-1h0m1-3h0m0 21h0m5-18h0m3 11h0m2-8h0m2 4h0m0 5h0m3-12h0m9-8h0m5 1h0m0 6h0m0 10h0m4-20h0m1 2h0m0 5h0m0 2h0m12-10h0m0 22h0m12-19h0m2 9h0m2-8h0m1-1h0m4 5h0m13-7h0m5 2h0m5-6h0m0 6h0m7-5h0m-290 41h0m14 3h0m48-1h0"/>
<line x1="433.80" y1="221.20" x2="433.80" y2="297.60" stroke="#333" stroke-width="0.9"/>
<line x1="433.40" y1="297.20" x2="507.00" y2="297.20" stroke="#333" stroke-width="0.9"/>
<path fill="none" stroke="#333" stroke-width="0.8" d="M431.50 229.10L433.80 229.10M431.50 247.80L433.80 247.80M431.50 266.60L433.80 266.60M431.50 285.30L433.80 285.30M437.90 297.20L437.90 299.50M459.00 297.20L459.00 299.50M480.20 297.20L480.20 299.50M501.30 297.20L501.30 299.50"/>
<path fill="none" stroke="#333" stroke-width="0.5" d="M432.70 223.47L433.80 223.47M432.70 224.95L433.80 224.95M432.70 226.20L433.80 226.20M432.70 227.29L433.80 227.29M432.70 228.24L433.80 228.24M432.70 234.73L433.80 234.73M432.70 238.02L433.80 238.02M432.70 240.36L433.80 240.36M432.70 242.17L433.80 242.17M432.70 243.65L433.80 243.65M432.70 244.90L433.80 244.90M432.70 245.99L433.80 245.99M432.70 246.94L433.80 246.94M432.70 253.43L433.80 253.43M432.70 256.72L433.80 256.72M432.70 259.06L433.80 259.06M432.70 260.87L433.80 260.87M432.70 262.35L433.80 262.35M432.70 263.60L433.80 263.60M432.70 264.69L433.80 264.69M432.70 265.64L433.80 265.64M432.70 272.13L433.80 272.13M432.70 275.42L433.80 275.42M432.70 277.76L433.80 277.76M432.70 279.57L433.80 279.57M432.70 281.05L433.80 281.05M432.70 282.30L433.80 282.30M432.70 283.39L433.80 283.39M432.70 284.34L433.80 284.34M432.70 290.83L433.80 290.83M432.70 294.12L433.80 294.12M432.70 296.46L433.80 296.46M434.63 297.20L434.63 298.30M435.86 297.20L435.86 298.30M436.93 297.20L436.93 298.30M444.25 297.20L444.25 298.30M447.97 297.20L447.97 298.30M450.60 297.20L450.60 298.30M452.65 297.20L452.65 298.30M454.32 297.20L454.32 298.30M455.73 297.20L455.73 298.30M456.96 297.20L456.96 298.30M458.03 297.20L458.03 298.30M465.35 297.20L465.35 298.30M469.07 297.20L469.07 298.30M471.70 297.20L471.70 298.30M473.75 297.20L473.75 298.30M475.42 297.20L475.42 298.30M476.83 297.20L476.83 298.30M478.06 297.20L478.06 298.30M479.13 297.20L479.13 298.30M486.45 297.20L486.45 298.30M490.17 297.20L490.17 298.30M492.80 297.20L492.80 298.30M494.85 297.20L494.85 298.30M496.52 297.20L496.52 298.30M497.93 297.20L497.93 298.30M499.16 297.20L499.16 298.30M500.23 297.20L500.23 298.30"/>
<text x="87.00" y="313.20" font-size="10.2" text-anchor="start" font-weight="bold" fill="#111" textLength="20.00" lengthAdjust="spacingAndGlyphs">SSC-H</text>
<text x="202.00" y="313.20" font-size="10.2" text-anchor="start" font-weight="bold" fill="#111" textLength="36.80" lengthAdjust="spacingAndGlyphs">CD10 BV421</text>
<text x="326.30" y="313.20" font-size="10.2" text-anchor="start" font-weight="bold" fill="#111" textLength="40.30" lengthAdjust="spacingAndGlyphs">CD20 PE-Cy7</text>
<text x="452.70" y="313.20" font-size="10.2" text-anchor="start" font-weight="bold" fill="#111" textLength="34.60" lengthAdjust="spacingAndGlyphs">CD38 A594</text>
<text x="51.20" y="282.00" font-size="10.2" text-anchor="start" font-weight="bold" fill="#111" textLength="41.20" lengthAdjust="spacingAndGlyphs" transform="rotate(-90 51.20 282.00)">CD45 APC-H7</text>
<text x="174.40" y="274.10" font-size="10.2" text-anchor="start" font-weight="bold" fill="#111" textLength="26.90" lengthAdjust="spacingAndGlyphs" transform="rotate(-90 174.40 274.10)">CD22 PE</text>
<text x="301.90" y="288.60" font-size="10.2" text-anchor="start" font-weight="bold" fill="#111" textLength="55.50" lengthAdjust="spacingAndGlyphs" transform="rotate(-90 301.90 288.60)">CD34 PerCP-Cy55</text>
<text x="425.40" y="277.00" font-size="10.2" text-anchor="start" font-weight="bold" fill="#111" textLength="31.80" lengthAdjust="spacingAndGlyphs" transform="rotate(-90 425.40 277.00)">CD24 APC</text>
<rect x="136.50" y="325.60" width="1.40" height="160.40" fill="#f2c49a"/>
<rect x="147.10" y="456.50" width="1.40" height="29.50" fill="#f2c49a"/>
<rect x="85.75" y="480.00" width="0.90" height="6.00" fill="#f2c49a"/>
<rect x="85.75" y="480.01" width="0.90" height="5.99" fill="#f2c49a"/>
<rect x="82.65" y="483.00" width="0.90" height="3.00" fill="#c8d4dc"/>
<rect x="88.95" y="482.30" width="0.90" height="3.70" fill="#8a8a8a"/>
<rect x="92.15" y="482.30" width="0.90" height="3.70" fill="#9a9a9a"/>
<rect x="101.95" y="483.50" width="0.90" height="2.50" fill="#9a9a9a"/>
<rect x="69.55" y="485.40" width="0.90" height="0.60" fill="#bbb"/>
<rect x="72.55" y="485.40" width="0.90" height="0.60" fill="#bbb"/>
<rect x="75.55" y="485.30" width="0.90" height="0.70" fill="#bbb"/>
<rect x="95.55" y="485.20" width="0.90" height="0.80" fill="#bbb"/>
<rect x="98.55" y="485.30" width="0.90" height="0.70" fill="#bbb"/>
<rect x="105.55" y="485.40" width="0.90" height="0.60" fill="#bbb"/>
<rect x="108.55" y="485.50" width="0.90" height="0.50" fill="#bbb"/>
<rect x="112.55" y="485.50" width="0.90" height="0.50" fill="#e8b080"/>
<rect x="59.60" y="325.40" width="92.40" height="160.60" fill="none" stroke="#000" stroke-width="1.2"/>
<text x="52.80" y="349.20" font-size="6.6" text-anchor="end" fill="#222">0.6</text>
<text x="52.80" y="395.70" font-size="6.6" text-anchor="end" fill="#222">0.4</text>
<text x="52.80" y="442.20" font-size="6.6" text-anchor="end" fill="#222">0.2</text>
<text x="52.80" y="488.30" font-size="6.6" text-anchor="end" fill="#222">0.0</text>
<text x="81.20" y="498.60" font-size="6.6" text-anchor="middle" fill="#222">40</text>
<text x="103.20" y="498.60" font-size="6.6" text-anchor="middle" fill="#222">60</text>
<text x="125.20" y="498.60" font-size="6.6" text-anchor="middle" fill="#222">80</text>
<text x="147.20" y="498.60" font-size="6.6" text-anchor="middle" fill="#222">100</text>
<path fill="none" stroke="#000" stroke-width="0.8" d="M56.30 346.90L59.60 346.90M56.30 393.40L59.60 393.40M56.30 439.90L59.60 439.90M56.30 486.00L59.60 486.00M81.20 486.00L81.20 488.60M103.20 486.00L103.20 488.60M125.20 486.00L125.20 488.60M147.20 486.00L147.20 488.60"/>
<text x="83.40" y="510.30" font-size="10.2" text-anchor="start" font-weight="bold" fill="#111" textLength="44.40" lengthAdjust="spacingAndGlyphs">CDR3 length, bp</text>
<rect x="85.75" y="479.80" width="0.90" height="2.20" fill="#5a8ac8"/>
<text x="170.80" y="375.00" font-size="5.4" text-anchor="start" fill="#333">NA</text>
<rect x="170.60" y="377.00" width="4.30" height="4.60" fill="#e9a064"/>
<text x="177.90" y="381.20" font-size="5.4" text-anchor="start" fill="#222" textLength="90.90" lengthAdjust="spacingAndGlyphs">CARRGARIVVVPAAV_RAV.AKYYYYGMDVW</text>
<rect x="170.60" y="382.77" width="4.30" height="4.60" fill="#edb374"/>
<text x="177.90" y="386.97" font-size="5.4" text-anchor="start" fill="#222" textLength="100.90" lengthAdjust="spacingAndGlyphs">CARVFETRGPYCSSTSCCGRAV.AKYYYYGMDVW</text>
<rect x="170.60" y="388.54" width="4.30" height="4.60" fill="#f0cb98"/>
<text x="177.90" y="392.74" font-size="5.4" text-anchor="start" fill="#222" textLength="53.50" lengthAdjust="spacingAndGlyphs">CARGSSFWSGKHNW</text>
<rect x="170.60" y="394.31" width="4.30" height="4.60" fill="#eadfb6"/>
<text x="177.90" y="398.51" font-size="5.4" text-anchor="start" fill="#222" textLength="39.50" lengthAdjust="spacingAndGlyphs">CASVSTVTYLFDYW</text>
<rect x="170.60" y="400.08" width="4.30" height="4.60" fill="#e2ebce"/>
<text x="177.90" y="404.28" font-size="5.4" text-anchor="start" fill="#222" textLength="38.50" lengthAdjust="spacingAndGlyphs">CARDRSGSYDYW</text>
<rect x="170.60" y="405.85" width="4.30" height="4.60" fill="#d1e9dd"/>
<text x="177.90" y="410.05" font-size="5.4" text-anchor="start" fill="#222" textLength="34.20" lengthAdjust="spacingAndGlyphs">CAREGSGIDYW</text>
<rect x="170.60" y="411.62" width="4.30" height="4.60" fill="#a6d3d3"/>
<text x="177.90" y="415.82" font-size="5.4" text-anchor="start" fill="#222" textLength="44.20" lengthAdjust="spacingAndGlyphs">CAREPRSSGKEDYW</text>
<rect x="170.60" y="417.39" width="4.30" height="4.60" fill="#8bbed3"/>
<text x="177.90" y="421.59" font-size="5.4" text-anchor="start" fill="#222" textLength="47.60" lengthAdjust="spacingAndGlyphs">CARYNWNDESYFDYW</text>
<rect x="170.60" y="423.16" width="4.30" height="4.60" fill="#6a9fcf"/>
<text x="177.90" y="427.36" font-size="5.4" text-anchor="start" fill="#222" textLength="48.20" lengthAdjust="spacingAndGlyphs">CARDRGVR.LPRRGYW</text>
<rect x="170.60" y="428.93" width="4.30" height="4.60" fill="#3e70b8"/>
<text x="177.90" y="433.13" font-size="5.4" text-anchor="start" fill="#222" textLength="69.10" lengthAdjust="spacingAndGlyphs">CARGDYGDYVGPFSYYYGMDVW</text>
<rect x="170.60" y="434.70" width="4.30" height="4.60" fill="#bdbdbd"/>
<text x="177.90" y="438.90" font-size="5.4" text-anchor="start" fill="#222" textLength="10.60" lengthAdjust="spacingAndGlyphs">Other</text>
<rect x="148.05" y="522.90" width="1.50" height="141.80" fill="#f2c49a"/>
<rect x="112.05" y="663.20" width="0.90" height="1.50" fill="#f0b27a"/>
<rect x="110.81" y="663.90" width="0.90" height="0.80" fill="#bdbdbd"/>
<rect x="89.59" y="664.30" width="0.90" height="0.40" fill="#bdbdbd"/>
<rect x="95.83" y="664.30" width="0.90" height="0.40" fill="#bdbdbd"/>
<rect x="102.07" y="664.30" width="0.90" height="0.40" fill="#bdbdbd"/>
<rect x="105.81" y="664.20" width="0.90" height="0.50" fill="#bdbdbd"/>
<rect x="59.60" y="522.80" width="105.80" height="141.90" fill="none" stroke="#000" stroke-width="1.2"/>
<text x="52.80" y="548.70" font-size="6.6" text-anchor="end" fill="#222">0.75</text>
<text x="52.80" y="588.20" font-size="6.6" text-anchor="end" fill="#222">0.50</text>
<text x="52.80" y="627.60" font-size="6.6" text-anchor="end" fill="#222">0.25</text>
<text x="52.80" y="667.00" font-size="6.6" text-anchor="end" fill="#222">0.00</text>
<text x="83.80" y="677.00" font-size="6.6" text-anchor="middle" fill="#222">40</text>
<text x="108.76" y="677.00" font-size="6.6" text-anchor="middle" fill="#222">60</text>
<text x="133.72" y="677.00" font-size="6.6" text-anchor="middle" fill="#222">80</text>
<text x="158.68" y="677.00" font-size="6.6" text-anchor="middle" fill="#222">100</text>
<path fill="none" stroke="#000" stroke-width="0.8" d="M56.30 546.40L59.60 546.40M56.30 585.90L59.60 585.90M56.30 625.30L59.60 625.30M56.30 664.70L59.60 664.70M83.80 664.70L83.80 667.30M108.76 664.70L108.76 667.30M133.72 664.70L133.72 667.30M158.68 664.70L158.68 667.30"/>
<text x="90.60" y="689.60" font-size="10.2" text-anchor="start" font-weight="bold" fill="#111" textLength="44.40" lengthAdjust="spacingAndGlyphs">CDR3 length, bp</text>
<text x="171.10" y="566.40" font-size="4.9" text-anchor="start" fill="#333">NA</text>
<rect x="170.90" y="568.75" width="4.30" height="4.10" fill="#e9a064"/>
<text x="178.20" y="572.70" font-size="4.9" text-anchor="start" fill="#222" textLength="87.50" lengthAdjust="spacingAndGlyphs">CARRGARIVWPAAV_RAV.AKYYYYGMDVW</text>
<rect x="170.90" y="573.71" width="4.30" height="4.10" fill="#edb374"/>
<text x="178.20" y="577.66" font-size="4.9" text-anchor="start" fill="#222" textLength="63.40" lengthAdjust="spacingAndGlyphs">CASVGHGAV.AKYYYYGMDVW</text>
<rect x="170.90" y="578.67" width="4.30" height="4.10" fill="#f0cb98"/>
<text x="178.20" y="582.62" font-size="4.9" text-anchor="start" fill="#222" textLength="44.20" lengthAdjust="spacingAndGlyphs">CAIG.VL_YYGMDVW</text>
<rect x="170.90" y="583.63" width="4.30" height="4.10" fill="#eadfb6"/>
<text x="178.20" y="587.58" font-size="4.9" text-anchor="start" fill="#222" textLength="63.40" lengthAdjust="spacingAndGlyphs">CARGGEGYRL_YYYYGMDVW</text>
<rect x="170.90" y="588.59" width="4.30" height="4.10" fill="#e2ebce"/>
<text x="178.20" y="592.54" font-size="4.9" text-anchor="start" fill="#222" textLength="48.60" lengthAdjust="spacingAndGlyphs">CARGSSFWSGKHNW</text>
<rect x="170.90" y="593.55" width="4.30" height="4.10" fill="#d1e9dd"/>
<text x="178.20" y="597.50" font-size="4.9" text-anchor="start" fill="#222" textLength="40.90" lengthAdjust="spacingAndGlyphs">CATLGPPAYSRHW</text>
<rect x="170.90" y="598.51" width="4.30" height="4.10" fill="#a6d3d3"/>
<text x="178.20" y="602.46" font-size="4.9" text-anchor="start" fill="#222" textLength="42.90" lengthAdjust="spacingAndGlyphs">CARHVGGWYFDYW</text>
<rect x="170.90" y="603.47" width="4.30" height="4.10" fill="#8bbed3"/>
<text x="178.20" y="607.42" font-size="4.9" text-anchor="start" fill="#222" textLength="41.70" lengthAdjust="spacingAndGlyphs">CATEPPLGYRFDYW</text>
<rect x="170.90" y="608.43" width="4.30" height="4.10" fill="#6a9fcf"/>
<text x="178.20" y="612.38" font-size="4.9" text-anchor="start" fill="#222" textLength="50.00" lengthAdjust="spacingAndGlyphs">CARGDPGRRGAAFDW</text>
<rect x="170.90" y="613.39" width="4.30" height="4.10" fill="#3e70b8"/>
<text x="178.20" y="617.34" font-size="4.9" text-anchor="start" fill="#222" textLength="39.80" lengthAdjust="spacingAndGlyphs">CARGGMRYFADW</text>
<rect x="170.90" y="618.35" width="4.30" height="4.10" fill="#bdbdbd"/>
<text x="178.20" y="622.30" font-size="4.9" text-anchor="start" fill="#222" textLength="11.50" lengthAdjust="spacingAndGlyphs">Other</text>
<path d="M325.77 372.84A74.4 74.4 0 0 1 455.41 391.75Q385.5 417.2 455.85 441.42A74.4 74.4 0 0 1 324.78 460.19Q385.5 417.2 325.77 372.84Z" fill="#d98a8e"/>
<path d="M345.85 354.24Q385.50 417.20 347.63 481.24" fill="none" stroke="url(#fl_d)" stroke-width="1.0"/>
<g mask="url(#mo_d)">
<path d="M459.64 423.43A74.4 74.4 0 0 1 459.53 424.60Q385.5 417.2 322.06 378.33A74.4 74.4 0 0 1 324.23 375.00Q385.5 417.2 459.64 423.43Z" fill="#9ccf86" fill-opacity="0.9"/>
<path d="M459.52 424.66A74.4 74.4 0 0 1 459.40 425.84Q385.5 417.2 319.66 382.55A74.4 74.4 0 0 1 321.06 380.01Q385.5 417.2 459.52 424.66Z" fill="#9ccf86" fill-opacity="0.9"/>
<path d="M459.39 425.90A74.4 74.4 0 0 1 459.24 427.07Q385.5 417.2 317.97 385.97A74.4 74.4 0 0 1 319.07 383.70Q385.5 417.2 459.39 425.90Z" fill="#9ccf86" fill-opacity="0.9"/>
<path d="M459.23 427.13A74.4 74.4 0 0 1 459.07 428.30Q385.5 417.2 316.58 389.18A74.4 74.4 0 0 1 317.57 386.86Q385.5 417.2 459.23 427.13Z" fill="#9ccf86" fill-opacity="0.9"/>
<path d="M459.06 428.36A74.4 74.4 0 0 1 458.87 429.53Q385.5 417.2 315.42 392.22A74.4 74.4 0 0 1 316.14 390.29Q385.5 417.2 459.06 428.36Z" fill="#9ccf86" fill-opacity="0.9"/>
<path d="M458.86 429.59A74.4 74.4 0 0 1 458.66 430.75Q385.5 417.2 314.54 394.83A74.4 74.4 0 0 1 315.13 393.05Q385.5 417.2 458.86 429.59Z" fill="#9ccf86" fill-opacity="0.9"/>
<path d="M458.64 430.81A74.4 74.4 0 0 1 458.42 431.97Q385.5 417.2 313.83 397.22A74.4 74.4 0 0 1 314.30 395.60Q385.5 417.2 458.64 430.81Z" fill="#9ccf86" fill-opacity="0.9"/>
<path d="M458.41 432.03A74.4 74.4 0 0 1 458.16 433.19Q385.5 417.2 313.25 399.43A74.4 74.4 0 0 1 313.65 397.89Q385.5 417.2 458.41 432.03Z" fill="#9ccf86" fill-opacity="0.9"/>
<path d="M458.15 433.25A74.4 74.4 0 0 1 457.88 434.40Q385.5 417.2 312.77 401.53A74.4 74.4 0 0 1 313.10 400.07Q385.5 417.2 458.15 433.25Z" fill="#9ccf86" fill-opacity="0.9"/>
<path d="M457.87 434.46A74.4 74.4 0 0 1 457.59 435.61Q385.5 417.2 312.37 403.51A74.4 74.4 0 0 1 312.64 402.14Q385.5 417.2 457.87 434.46Z" fill="#9ccf86" fill-opacity="0.9"/>
<path d="M457.57 435.67A74.4 74.4 0 0 1 457.27 436.81Q385.5 417.2 312.04 405.43A74.4 74.4 0 0 1 312.27 404.05Q385.5 417.2 457.57 435.67Z" fill="#9ccf86" fill-opacity="0.9"/>
<path d="M457.25 436.87A74.4 74.4 0 0 1 456.93 438.00Q385.5 417.2 311.75 407.36A74.4 74.4 0 0 1 311.95 405.97Q385.5 417.2 457.25 436.87Z" fill="#9ccf86" fill-opacity="0.9"/>
<path d="M456.91 438.06A74.4 74.4 0 0 1 456.57 439.19Q385.5 417.2 311.53 409.24A74.4 74.4 0 0 1 311.68 407.94Q385.5 417.2 456.91 438.06Z" fill="#9ccf86" fill-opacity="0.9"/>
<path d="M456.56 439.25A74.4 74.4 0 0 1 456.20 440.38Q385.5 417.2 311.35 411.05A74.4 74.4 0 0 1 311.47 409.75Q385.5 417.2 456.56 439.25Z" fill="#9ccf86" fill-opacity="0.9"/>
<path d="M459.88 418.89A74.4 74.4 0 0 1 459.86 419.67Q385.5 417.2 314.54 394.83A74.4 74.4 0 0 1 315.20 392.85Q385.5 417.2 459.88 418.89Z" fill="#d4ecc8" fill-opacity="0.5"/>
<path d="M459.89 416.10A74.4 74.4 0 0 1 459.90 416.62Q385.5 417.2 313.83 397.22A74.4 74.4 0 0 1 314.36 395.42Q385.5 417.2 459.89 416.10Z" fill="#f4d0d0" fill-opacity="0.5"/>
<path d="M459.73 412.14A74.4 74.4 0 0 1 459.77 412.79Q385.5 417.2 313.25 399.43A74.4 74.4 0 0 1 313.70 397.72Q385.5 417.2 459.73 412.14Z" fill="#d8e6f6" fill-opacity="0.5"/>
<path d="M459.78 412.92A74.4 74.4 0 0 1 459.82 413.82Q385.5 417.2 312.77 401.53A74.4 74.4 0 0 1 313.14 399.91Q385.5 417.2 459.78 412.92Z" fill="#eef2f8" fill-opacity="0.5"/>
<path d="M459.85 419.80A74.4 74.4 0 0 1 459.82 420.58Q385.5 417.2 312.37 403.51A74.4 74.4 0 0 1 312.67 401.99Q385.5 417.2 459.85 419.80Z" fill="#d4ecc8" fill-opacity="0.5"/>
<path d="M459.90 416.68A74.4 74.4 0 0 1 459.90 417.20Q385.5 417.2 312.04 405.43A74.4 74.4 0 0 1 312.30 403.90Q385.5 417.2 459.90 416.68Z" fill="#f4d0d0" fill-opacity="0.5"/>
<path d="M459.63 410.84A74.4 74.4 0 0 1 459.68 411.49Q385.5 417.2 311.75 407.36A74.4 74.4 0 0 1 311.98 405.82Q385.5 417.2 459.63 410.84Z" fill="#d8e6f6" fill-opacity="0.5"/>
<path d="M459.78 412.92A74.4 74.4 0 0 1 459.82 413.82Q385.5 417.2 311.53 409.24A74.4 74.4 0 0 1 311.70 407.80Q385.5 417.2 459.78 412.92Z" fill="#eef2f8" fill-opacity="0.5"/>
<path d="M459.82 420.70A74.4 74.4 0 0 1 459.78 421.48Q385.5 417.2 311.35 411.05A74.4 74.4 0 0 1 311.49 409.60Q385.5 417.2 459.82 420.70Z" fill="#d4ecc8" fill-opacity="0.5"/>
<path d="M459.88 415.51A74.4 74.4 0 0 1 459.89 416.03Q385.5 417.2 311.22 413.05A74.4 74.4 0 0 1 311.32 411.49Q385.5 417.2 459.88 415.51Z" fill="#f4d0d0" fill-opacity="0.5"/>
<path d="M459.68 411.49A74.4 74.4 0 0 1 459.73 412.14Q385.5 417.2 311.13 414.99A74.4 74.4 0 0 1 311.20 413.44Q385.5 417.2 459.68 411.49Z" fill="#d8e6f6" fill-opacity="0.5"/>
<path d="M459.78 412.92A74.4 74.4 0 0 1 459.82 413.82Q385.5 417.2 311.10 416.94A74.4 74.4 0 0 1 311.12 415.38Q385.5 417.2 459.78 412.92Z" fill="#eef2f8" fill-opacity="0.5"/>
<path d="M459.88 418.89A74.4 74.4 0 0 1 459.86 419.67Q385.5 417.2 311.12 418.89A74.4 74.4 0 0 1 311.10 417.33Q385.5 417.2 459.88 418.89Z" fill="#d4ecc8" fill-opacity="0.5"/>
<path d="M459.89 416.10A74.4 74.4 0 0 1 459.90 416.62Q385.5 417.2 311.19 420.83A74.4 74.4 0 0 1 311.13 419.28Q385.5 417.2 459.89 416.10Z" fill="#f4d0d0" fill-opacity="0.5"/>
<path d="M459.73 412.14A74.4 74.4 0 0 1 459.77 412.79Q385.5 417.2 311.31 422.78A74.4 74.4 0 0 1 311.21 421.22Q385.5 417.2 459.73 412.14Z" fill="#d8e6f6" fill-opacity="0.5"/>
<path d="M459.78 412.92A74.4 74.4 0 0 1 459.82 413.82Q385.5 417.2 311.48 424.72A74.4 74.4 0 0 1 311.34 423.17Q385.5 417.2 459.78 412.92Z" fill="#eef2f8" fill-opacity="0.5"/>
<path d="M459.85 419.80A74.4 74.4 0 0 1 459.82 420.58Q385.5 417.2 311.70 426.65A74.4 74.4 0 0 1 311.52 425.11Q385.5 417.2 459.85 419.80Z" fill="#d4ecc8" fill-opacity="0.5"/>
<path d="M459.90 416.68A74.4 74.4 0 0 1 459.90 417.20Q385.5 417.2 311.98 428.58A74.4 74.4 0 0 1 311.75 427.04Q385.5 417.2 459.90 416.68Z" fill="#f4d0d0" fill-opacity="0.5"/>
<path d="M459.63 410.84A74.4 74.4 0 0 1 459.68 411.49Q385.5 417.2 312.30 430.50A74.4 74.4 0 0 1 312.04 428.97Q385.5 417.2 459.63 410.84Z" fill="#d8e6f6" fill-opacity="0.5"/>
<path d="M459.78 412.92A74.4 74.4 0 0 1 459.82 413.82Q385.5 417.2 312.67 432.41A74.4 74.4 0 0 1 312.37 430.89Q385.5 417.2 459.78 412.92Z" fill="#eef2f8" fill-opacity="0.5"/>
<path d="M459.82 420.70A74.4 74.4 0 0 1 459.78 421.48Q385.5 417.2 313.10 434.32A74.4 74.4 0 0 1 312.75 432.80Q385.5 417.2 459.82 420.70Z" fill="#d4ecc8" fill-opacity="0.5"/>
<path d="M459.88 415.51A74.4 74.4 0 0 1 459.89 416.03Q385.5 417.2 313.57 436.21A74.4 74.4 0 0 1 313.19 434.69Q385.5 417.2 459.88 415.51Z" fill="#f4d0d0" fill-opacity="0.5"/>
<path d="M459.68 411.49A74.4 74.4 0 0 1 459.73 412.14Q385.5 417.2 314.09 438.08A74.4 74.4 0 0 1 313.67 436.58Q385.5 417.2 459.68 411.49Z" fill="#d8e6f6" fill-opacity="0.5"/>
<path d="M459.78 412.92A74.4 74.4 0 0 1 459.82 413.82Q385.5 417.2 314.66 439.94A74.4 74.4 0 0 1 314.20 438.46Q385.5 417.2 459.78 412.92Z" fill="#eef2f8" fill-opacity="0.5"/>
<path d="M459.88 418.89A74.4 74.4 0 0 1 459.86 419.67Q385.5 417.2 315.28 441.79A74.4 74.4 0 0 1 314.78 440.31Q385.5 417.2 459.88 418.89Z" fill="#d4ecc8" fill-opacity="0.5"/>
<path d="M459.89 416.10A74.4 74.4 0 0 1 459.90 416.62Q385.5 417.2 315.95 443.62A74.4 74.4 0 0 1 315.41 442.16Q385.5 417.2 459.89 416.10Z" fill="#f4d0d0" fill-opacity="0.5"/>
<path d="M459.73 412.14A74.4 74.4 0 0 1 459.77 412.79Q385.5 417.2 316.66 445.43A74.4 74.4 0 0 1 316.09 443.98Q385.5 417.2 459.73 412.14Z" fill="#d8e6f6" fill-opacity="0.5"/>
<path d="M459.78 412.92A74.4 74.4 0 0 1 459.82 413.82Q385.5 417.2 317.43 447.22A74.4 74.4 0 0 1 316.81 445.79Q385.5 417.2 459.78 412.92Z" fill="#eef2f8" fill-opacity="0.5"/>
<path d="M459.85 419.80A74.4 74.4 0 0 1 459.82 420.58Q385.5 417.2 318.24 449.00A74.4 74.4 0 0 1 317.59 447.58Q385.5 417.2 459.85 419.80Z" fill="#d4ecc8" fill-opacity="0.5"/>
<g clip-path="url(#cr_d)">
<path d="M459.63 423.56A74.4 74.4 0 0 1 456.22 440.31Q385.5 417.2 313.31 399.20A74.4 74.4 0 0 1 324.11 375.17Q385.5 417.2 459.63 423.56Z" fill="#a4d28e" fill-opacity="0.6"/>
</g>
</g><g clip-path="url(#ci_d)">
<path d="M459.64 423.43A74.4 74.4 0 0 1 459.53 424.60Q385.5 417.2 322.06 378.33A74.4 74.4 0 0 1 324.23 375.00Q385.5 417.2 459.64 423.43Z" fill="#8a4430" fill-opacity="0.55"/>
<path d="M459.52 424.66A74.4 74.4 0 0 1 459.40 425.84Q385.5 417.2 319.66 382.55A74.4 74.4 0 0 1 321.06 380.01Q385.5 417.2 459.52 424.66Z" fill="#8a4430" fill-opacity="0.55"/>
<path d="M459.39 425.90A74.4 74.4 0 0 1 459.24 427.07Q385.5 417.2 317.97 385.97A74.4 74.4 0 0 1 319.07 383.70Q385.5 417.2 459.39 425.90Z" fill="#8a4430" fill-opacity="0.55"/>
<path d="M459.23 427.13A74.4 74.4 0 0 1 459.07 428.30Q385.5 417.2 316.58 389.18A74.4 74.4 0 0 1 317.57 386.86Q385.5 417.2 459.23 427.13Z" fill="#8a4430" fill-opacity="0.55"/>
<path d="M459.06 428.36A74.4 74.4 0 0 1 458.87 429.53Q385.5 417.2 315.42 392.22A74.4 74.4 0 0 1 316.14 390.29Q385.5 417.2 459.06 428.36Z" fill="#8a4430" fill-opacity="0.55"/>
<path d="M458.86 429.59A74.4 74.4 0 0 1 458.66 430.75Q385.5 417.2 314.54 394.83A74.4 74.4 0 0 1 315.13 393.05Q385.5 417.2 458.86 429.59Z" fill="#8a4430" fill-opacity="0.55"/>
<path d="M458.64 430.81A74.4 74.4 0 0 1 458.42 431.97Q385.5 417.2 313.83 397.22A74.4 74.4 0 0 1 314.30 395.60Q385.5 417.2 458.64 430.81Z" fill="#8a4430" fill-opacity="0.55"/>
<path d="M458.41 432.03A74.4 74.4 0 0 1 458.16 433.19Q385.5 417.2 313.25 399.43A74.4 74.4 0 0 1 313.65 397.89Q385.5 417.2 458.41 432.03Z" fill="#8a4430" fill-opacity="0.55"/>
<path d="M458.15 433.25A74.4 74.4 0 0 1 457.88 434.40Q385.5 417.2 312.77 401.53A74.4 74.4 0 0 1 313.10 400.07Q385.5 417.2 458.15 433.25Z" fill="#8a4430" fill-opacity="0.55"/>
<path d="M457.87 434.46A74.4 74.4 0 0 1 457.59 435.61Q385.5 417.2 312.37 403.51A74.4 74.4 0 0 1 312.64 402.14Q385.5 417.2 457.87 434.46Z" fill="#8a4430" fill-opacity="0.55"/>
<path d="M457.57 435.67A74.4 74.4 0 0 1 457.27 436.81Q385.5 417.2 312.04 405.43A74.4 74.4 0 0 1 312.27 404.05Q385.5 417.2 457.57 435.67Z" fill="#8a4430" fill-opacity="0.55"/>
<path d="M457.25 436.87A74.4 74.4 0 0 1 456.93 438.00Q385.5 417.2 311.75 407.36A74.4 74.4 0 0 1 311.95 405.97Q385.5 417.2 457.25 436.87Z" fill="#8a4430" fill-opacity="0.55"/>
<path d="M456.91 438.06A74.4 74.4 0 0 1 456.57 439.19Q385.5 417.2 311.53 409.24A74.4 74.4 0 0 1 311.68 407.94Q385.5 417.2 456.91 438.06Z" fill="#8a4430" fill-opacity="0.55"/>
<path d="M456.56 439.25A74.4 74.4 0 0 1 456.20 440.38Q385.5 417.2 311.35 411.05A74.4 74.4 0 0 1 311.47 409.75Q385.5 417.2 456.56 439.25Z" fill="#8a4430" fill-opacity="0.55"/>
<path d="M459.88 418.89A74.4 74.4 0 0 1 459.86 419.67Q385.5 417.2 314.54 394.83A74.4 74.4 0 0 1 315.20 392.85Q385.5 417.2 459.88 418.89Z" fill="#8c4a32" fill-opacity="0.12"/>
<path d="M459.89 416.10A74.4 74.4 0 0 1 459.90 416.62Q385.5 417.2 313.83 397.22A74.4 74.4 0 0 1 314.36 395.42Q385.5 417.2 459.89 416.10Z" fill="#b06060" fill-opacity="0.08"/>
<path d="M459.73 412.14A74.4 74.4 0 0 1 459.77 412.79Q385.5 417.2 313.25 399.43A74.4 74.4 0 0 1 313.70 397.72Q385.5 417.2 459.73 412.14Z" fill="#8c6a6a" fill-opacity="0.06"/>
<path d="M459.78 412.92A74.4 74.4 0 0 1 459.82 413.82Q385.5 417.2 312.77 401.53A74.4 74.4 0 0 1 313.14 399.91Q385.5 417.2 459.78 412.92Z" fill="#8c6a6a" fill-opacity="0.04"/>
<path d="M459.85 419.80A74.4 74.4 0 0 1 459.82 420.58Q385.5 417.2 312.37 403.51A74.4 74.4 0 0 1 312.67 401.99Q385.5 417.2 459.85 419.80Z" fill="#8c4a32" fill-opacity="0.12"/>
<path d="M459.90 416.68A74.4 74.4 0 0 1 459.90 417.20Q385.5 417.2 312.04 405.43A74.4 74.4 0 0 1 312.30 403.90Q385.5 417.2 459.90 416.68Z" fill="#b06060" fill-opacity="0.08"/>
<path d="M459.63 410.84A74.4 74.4 0 0 1 459.68 411.49Q385.5 417.2 311.75 407.36A74.4 74.4 0 0 1 311.98 405.82Q385.5 417.2 459.63 410.84Z" fill="#8c6a6a" fill-opacity="0.06"/>
<path d="M459.78 412.92A74.4 74.4 0 0 1 459.82 413.82Q385.5 417.2 311.53 409.24A74.4 74.4 0 0 1 311.70 407.80Q385.5 417.2 459.78 412.92Z" fill="#8c6a6a" fill-opacity="0.04"/>
<path d="M459.82 420.70A74.4 74.4 0 0 1 459.78 421.48Q385.5 417.2 311.35 411.05A74.4 74.4 0 0 1 311.49 409.60Q385.5 417.2 459.82 420.70Z" fill="#8c4a32" fill-opacity="0.12"/>
<path d="M459.88 415.51A74.4 74.4 0 0 1 459.89 416.03Q385.5 417.2 311.22 413.05A74.4 74.4 0 0 1 311.32 411.49Q385.5 417.2 459.88 415.51Z" fill="#b06060" fill-opacity="0.08"/>
<path d="M459.68 411.49A74.4 74.4 0 0 1 459.73 412.14Q385.5 417.2 311.13 414.99A74.4 74.4 0 0 1 311.20 413.44Q385.5 417.2 459.68 411.49Z" fill="#8c6a6a" fill-opacity="0.06"/>
<path d="M459.78 412.92A74.4 74.4 0 0 1 459.82 413.82Q385.5 417.2 311.10 416.94A74.4 74.4 0 0 1 311.12 415.38Q385.5 417.2 459.78 412.92Z" fill="#8c6a6a" fill-opacity="0.04"/>
<path d="M459.88 418.89A74.4 74.4 0 0 1 459.86 419.67Q385.5 417.2 311.12 418.89A74.4 74.4 0 0 1 311.10 417.33Q385.5 417.2 459.88 418.89Z" fill="#8c4a32" fill-opacity="0.12"/>
<path d="M459.89 416.10A74.4 74.4 0 0 1 459.90 416.62Q385.5 417.2 311.19 420.83A74.4 74.4 0 0 1 311.13 419.28Q385.5 417.2 459.89 416.10Z" fill="#b06060" fill-opacity="0.08"/>
<path d="M459.73 412.14A74.4 74.4 0 0 1 459.77 412.79Q385.5 417.2 311.31 422.78A74.4 74.4 0 0 1 311.21 421.22Q385.5 417.2 459.73 412.14Z" fill="#8c6a6a" fill-opacity="0.06"/>
<path d="M459.78 412.92A74.4 74.4 0 0 1 459.82 413.82Q385.5 417.2 311.48 424.72A74.4 74.4 0 0 1 311.34 423.17Q385.5 417.2 459.78 412.92Z" fill="#8c6a6a" fill-opacity="0.04"/>
<path d="M459.85 419.80A74.4 74.4 0 0 1 459.82 420.58Q385.5 417.2 311.70 426.65A74.4 74.4 0 0 1 311.52 425.11Q385.5 417.2 459.85 419.80Z" fill="#8c4a32" fill-opacity="0.12"/>
<path d="M459.90 416.68A74.4 74.4 0 0 1 459.90 417.20Q385.5 417.2 311.98 428.58A74.4 74.4 0 0 1 311.75 427.04Q385.5 417.2 459.90 416.68Z" fill="#b06060" fill-opacity="0.08"/>
<path d="M459.63 410.84A74.4 74.4 0 0 1 459.68 411.49Q385.5 417.2 312.30 430.50A74.4 74.4 0 0 1 312.04 428.97Q385.5 417.2 459.63 410.84Z" fill="#8c6a6a" fill-opacity="0.06"/>
<path d="M459.78 412.92A74.4 74.4 0 0 1 459.82 413.82Q385.5 417.2 312.67 432.41A74.4 74.4 0 0 1 312.37 430.89Q385.5 417.2 459.78 412.92Z" fill="#8c6a6a" fill-opacity="0.04"/>
<path d="M459.82 420.70A74.4 74.4 0 0 1 459.78 421.48Q385.5 417.2 313.10 434.32A74.4 74.4 0 0 1 312.75 432.80Q385.5 417.2 459.82 420.70Z" fill="#8c4a32" fill-opacity="0.12"/>
<path d="M459.88 415.51A74.4 74.4 0 0 1 459.89 416.03Q385.5 417.2 313.57 436.21A74.4 74.4 0 0 1 313.19 434.69Q385.5 417.2 459.88 415.51Z" fill="#b06060" fill-opacity="0.08"/>
<path d="M459.68 411.49A74.4 74.4 0 0 1 459.73 412.14Q385.5 417.2 314.09 438.08A74.4 74.4 0 0 1 313.67 436.58Q385.5 417.2 459.68 411.49Z" fill="#8c6a6a" fill-opacity="0.06"/>
<path d="M459.78 412.92A74.4 74.4 0 0 1 459.82 413.82Q385.5 417.2 314.66 439.94A74.4 74.4 0 0 1 314.20 438.46Q385.5 417.2 459.78 412.92Z" fill="#8c6a6a" fill-opacity="0.04"/>
<path d="M459.88 418.89A74.4 74.4 0 0 1 459.86 419.67Q385.5 417.2 315.28 441.79A74.4 74.4 0 0 1 314.78 440.31Q385.5 417.2 459.88 418.89Z" fill="#8c4a32" fill-opacity="0.12"/>
<path d="M459.89 416.10A74.4 74.4 0 0 1 459.90 416.62Q385.5 417.2 315.95 443.62A74.4 74.4 0 0 1 315.41 442.16Q385.5 417.2 459.89 416.10Z" fill="#b06060" fill-opacity="0.08"/>
<path d="M459.73 412.14A74.4 74.4 0 0 1 459.77 412.79Q385.5 417.2 316.66 445.43A74.4 74.4 0 0 1 316.09 443.98Q385.5 417.2 459.73 412.14Z" fill="#8c6a6a" fill-opacity="0.06"/>
<path d="M459.78 412.92A74.4 74.4 0 0 1 459.82 413.82Q385.5 417.2 317.43 447.22A74.4 74.4 0 0 1 316.81 445.79Q385.5 417.2 459.78 412.92Z" fill="#8c6a6a" fill-opacity="0.04"/>
<path d="M459.85 419.80A74.4 74.4 0 0 1 459.82 420.58Q385.5 417.2 318.24 449.00A74.4 74.4 0 0 1 317.59 447.58Q385.5 417.2 459.85 419.80Z" fill="#8c4a32" fill-opacity="0.12"/>
</g>
<path d="M343.65 348.90A80.1 80.1 0 0 1 460.82 389.94L457.34 391.20A76.4 76.4 0 0 0 345.58 352.06Z" fill="#a0522d"/>
<path d="M321.28 369.33A80.1 80.1 0 0 1 342.58 349.57L344.56 352.69A76.4 76.4 0 0 0 324.24 371.54Z" fill="#ebb56a"/>
<path d="M461.24 443.28A80.1 80.1 0 0 1 320.05 463.37L323.07 461.24A76.4 76.4 0 0 0 457.74 442.07Z" fill="#c4161c"/>
<path d="M465.32 423.90A80.1 80.1 0 0 1 461.59 442.22L458.08 441.06A76.4 76.4 0 0 0 461.63 423.59Z" fill="#4f9a36"/>
<path d="M465.58 419.02A80.1 80.1 0 0 1 465.44 422.23L461.75 422.00A76.4 76.4 0 0 0 461.88 418.93Z" fill="#a8d88a"/>
<path d="M465.58 415.38A80.1 80.1 0 0 1 465.60 417.48L461.90 417.47A76.4 76.4 0 0 0 461.88 415.47Z" fill="#f09090"/>
<path d="M465.47 412.59A80.1 80.1 0 0 1 465.52 413.71L461.83 413.87A76.4 76.4 0 0 0 461.77 412.80Z" fill="#8fb5e5"/>
<path d="M465.31 410.36A80.1 80.1 0 0 1 465.41 411.75L461.72 412.00A76.4 76.4 0 0 0 461.62 410.67Z" fill="#c6ddf2"/>
<path d="M317.20 375.35A80.1 80.1 0 0 1 319.81 371.37L322.84 373.49A76.4 76.4 0 0 0 320.36 377.28Z" fill="#c4161c"/>
<path d="M314.62 379.89A80.1 80.1 0 0 1 316.30 376.86L319.50 378.72A76.4 76.4 0 0 0 317.89 381.62Z" fill="#b2d5ef"/>
<path d="M312.80 383.58A80.1 80.1 0 0 1 314.12 380.86L317.41 382.54A76.4 76.4 0 0 0 316.16 385.13Z" fill="#4f9a36"/>
<path d="M311.30 387.04A80.1 80.1 0 0 1 312.49 384.26L315.86 385.78A76.4 76.4 0 0 0 314.72 388.43Z" fill="#3a74c4"/>
<path d="M310.05 390.30A80.1 80.1 0 0 1 310.91 388.00L314.36 389.35A76.4 76.4 0 0 0 313.54 391.55Z" fill="#c4161c"/>
<path d="M309.11 393.11A80.1 80.1 0 0 1 309.81 390.99L313.31 392.20A76.4 76.4 0 0 0 312.64 394.23Z" fill="#f6b9b9"/>
<path d="M308.34 395.69A80.1 80.1 0 0 1 308.91 393.75L312.45 394.84A76.4 76.4 0 0 0 311.91 396.68Z" fill="#f7d19a"/>
<path d="M307.72 398.07A80.1 80.1 0 0 1 308.19 396.23L311.77 397.19A76.4 76.4 0 0 0 311.31 398.95Z" fill="#c9e6b6"/>
<path d="M307.20 400.33A80.1 80.1 0 0 1 307.59 398.58L311.19 399.44A76.4 76.4 0 0 0 310.81 401.11Z" fill="#ddd0f0"/>
<path d="M306.77 402.47A80.1 80.1 0 0 1 307.09 400.82L310.71 401.58A76.4 76.4 0 0 0 310.40 403.15Z" fill="#a797d6"/>
<path d="M306.41 404.53A80.1 80.1 0 0 1 306.69 402.88L310.33 403.54A76.4 76.4 0 0 0 310.06 405.12Z" fill="#cfe3f3"/>
<path d="M306.10 406.61A80.1 80.1 0 0 1 306.34 404.95L310.00 405.51A76.4 76.4 0 0 0 309.77 407.10Z" fill="#f9d5ac"/>
<path d="M305.86 408.63A80.1 80.1 0 0 1 306.04 407.08L309.71 407.55A76.4 76.4 0 0 0 309.54 409.03Z" fill="#f5c2ca"/>
<path d="M305.67 410.58A80.1 80.1 0 0 1 305.82 409.02L309.50 409.40A76.4 76.4 0 0 0 309.36 410.89Z" fill="#e27d8a"/>
<path d="M305.52 412.73A80.1 80.1 0 0 1 305.64 411.05L309.33 411.34A76.4 76.4 0 0 0 309.22 412.94Z" fill="#fbf0c0"/>
<path d="M305.44 414.82A80.1 80.1 0 0 1 305.50 413.15L309.20 413.33A76.4 76.4 0 0 0 309.13 414.93Z" fill="#d9505e"/>
<path d="M305.40 416.92A80.1 80.1 0 0 1 305.42 415.24L309.12 415.33A76.4 76.4 0 0 0 309.10 416.93Z" fill="#f4b26a"/>
<path d="M305.42 419.02A80.1 80.1 0 0 1 305.40 417.34L309.10 417.33A76.4 76.4 0 0 0 309.12 418.93Z" fill="#a9c3ea"/>
<path d="M305.50 421.11A80.1 80.1 0 0 1 305.43 419.44L309.13 419.33A76.4 76.4 0 0 0 309.19 420.93Z" fill="#fbf3cf"/>
<path d="M305.63 423.21A80.1 80.1 0 0 1 305.52 421.53L309.21 421.33A76.4 76.4 0 0 0 309.32 422.93Z" fill="#e9eef8"/>
<path d="M305.81 425.29A80.1 80.1 0 0 1 305.66 423.62L309.35 423.33A76.4 76.4 0 0 0 309.49 424.92Z" fill="#f8dede"/>
<path d="M306.05 427.38A80.1 80.1 0 0 1 305.85 425.71L309.53 425.32A76.4 76.4 0 0 0 309.72 426.91Z" fill="#dfeed7"/>
<path d="M306.34 429.45A80.1 80.1 0 0 1 306.10 427.79L309.77 427.30A76.4 76.4 0 0 0 310.00 428.89Z" fill="#f1e7f6"/>
<path d="M306.69 431.52A80.1 80.1 0 0 1 306.41 429.87L310.06 429.28A76.4 76.4 0 0 0 310.33 430.86Z" fill="#fae7d4"/>
<path d="M307.09 433.58A80.1 80.1 0 0 1 306.77 431.93L310.40 431.25A76.4 76.4 0 0 0 310.71 432.82Z" fill="#f3f3f3"/>
<path d="M307.55 435.63A80.1 80.1 0 0 1 307.18 433.99L310.80 433.21A76.4 76.4 0 0 0 311.15 434.78Z" fill="#eef6ea"/>
<path d="M308.06 437.66A80.1 80.1 0 0 1 307.65 436.03L311.24 435.16A76.4 76.4 0 0 0 311.63 436.72Z" fill="#f8e9ee"/>
<path d="M308.62 439.68A80.1 80.1 0 0 1 308.17 438.07L311.74 437.10A76.4 76.4 0 0 0 312.17 438.64Z" fill="#f0f0fa"/>
<path d="M309.23 441.69A80.1 80.1 0 0 1 308.74 440.08L312.28 439.03A76.4 76.4 0 0 0 312.76 440.56Z" fill="#fff5e5"/>
<path d="M309.90 443.67A80.1 80.1 0 0 1 309.36 442.09L312.88 440.94A76.4 76.4 0 0 0 313.39 442.45Z" fill="#f6f6f6"/>
<path d="M310.62 445.64A80.1 80.1 0 0 1 310.04 444.07L313.53 442.83A76.4 76.4 0 0 0 314.08 444.33Z" fill="#f7f0f7"/>
<path d="M311.39 447.59A80.1 80.1 0 0 1 310.77 446.04L314.22 444.70A76.4 76.4 0 0 0 314.81 446.19Z" fill="#f4faf0"/>
<path d="M312.21 449.52A80.1 80.1 0 0 1 311.55 447.98L314.97 446.56A76.4 76.4 0 0 0 315.60 448.03Z" fill="#f6f6f6"/>
<path d="M313.08 451.43A80.1 80.1 0 0 1 312.38 449.91L315.76 448.40A76.4 76.4 0 0 0 316.43 449.85Z" fill="#f6f6f6"/>
<text x="0" y="0" font-size="3.7" fill="#333" textLength="13.0" lengthAdjust="spacingAndGlyphs" transform="translate(412.28 338.53) rotate(-71.2) translate(0 1.29)">IGHV4-34</text>
<text x="0" y="0" font-size="3.7" fill="#333" text-anchor="end" textLength="13.0" lengthAdjust="spacingAndGlyphs" transform="translate(329.22 355.78) rotate(47.5) translate(0 1.29)">IGHV3-33</text>
<text x="0" y="0" font-size="3.4" fill="#333" textLength="13.0" lengthAdjust="spacingAndGlyphs" transform="translate(392.33 498.51) rotate(85.2) translate(0 1.19)">IGHJ4-02</text>
<text x="0" y="0" font-size="3.4" fill="#333" textLength="7.5" lengthAdjust="spacingAndGlyphs" transform="translate(397.50 499.43) rotate(81.7) translate(0 1.19)">IGKJ1</text>
<text x="0" y="0" font-size="3.4" fill="#333" textLength="8.5" lengthAdjust="spacingAndGlyphs" transform="translate(467.13 433.81) rotate(11.5) translate(0 1.19)">IGKV1</text>
<text x="0" y="0" font-size="2.7" fill="#333" textLength="7.5" lengthAdjust="spacingAndGlyphs" transform="translate(467.93 420.65) rotate(2.4) translate(0 0.94)">IGKV3</text>
<text x="0" y="0" font-size="2.7" fill="#333" textLength="7.5" lengthAdjust="spacingAndGlyphs" transform="translate(468.00 416.48) rotate(-0.5) translate(0 0.94)">IGLV1</text>
<text x="0" y="0" font-size="2.7" fill="#333" textLength="7.5" lengthAdjust="spacingAndGlyphs" transform="translate(467.89 413.03) rotate(-2.9) translate(0 0.94)">IGKV4</text>
<text x="0" y="0" font-size="2.7" fill="#333" textLength="7.5" lengthAdjust="spacingAndGlyphs" transform="translate(467.76 410.87) rotate(-4.4) translate(0 0.94)">IGKV2</text>
<text x="0" y="0" font-size="3.8" font-weight="bold" fill="#333" text-anchor="end" textLength="13.5" lengthAdjust="spacingAndGlyphs" transform="translate(316.30 371.92) rotate(33.2) translate(0 1.33)">IGHV3-30</text>
<text x="0" y="0" font-size="3.8" font-weight="bold" fill="#333" text-anchor="end" textLength="13.0" lengthAdjust="spacingAndGlyphs" transform="translate(313.17 377.11) rotate(29.0) translate(0 1.33)">IGHV3-30</text>
<text x="0" y="0" font-size="3.8" font-weight="bold" fill="#333" text-anchor="end" textLength="13.5" lengthAdjust="spacingAndGlyphs" transform="translate(311.11 381.08) rotate(25.9) translate(0 1.33)">IGHV3-30</text>
<text x="0" y="0" font-size="3.8" font-weight="bold" fill="#333" text-anchor="end" textLength="13.0" lengthAdjust="spacingAndGlyphs" transform="translate(309.49 384.62) rotate(23.2) translate(0 1.33)">IGHV3-30</text>
<text x="0" y="0" font-size="3.8" font-weight="bold" fill="#333" text-anchor="end" textLength="13.5" lengthAdjust="spacingAndGlyphs" transform="translate(308.04 388.24) rotate(20.5) translate(0 1.33)">IGHV3-30</text>
<text x="0" y="0" font-size="3.8" font-weight="bold" fill="#333" text-anchor="end" textLength="12.5" lengthAdjust="spacingAndGlyphs" transform="translate(306.98 391.23) rotate(18.3) translate(0 1.33)">IGHV3-30</text>
<text x="0" y="0" font-size="3.8" font-weight="bold" fill="#333" text-anchor="end" textLength="14.5" lengthAdjust="spacingAndGlyphs" transform="translate(306.12 393.99) rotate(16.3) translate(0 1.33)">IGHV3-30</text>
<text x="0" y="0" font-size="3.8" font-weight="bold" fill="#333" text-anchor="end" textLength="11.5" lengthAdjust="spacingAndGlyphs" transform="translate(305.43 396.49) rotate(14.5) translate(0 1.33)">IGHV3-30</text>
<text x="0" y="0" font-size="3.8" font-weight="bold" fill="#333" text-anchor="end" textLength="15.0" lengthAdjust="spacingAndGlyphs" transform="translate(304.86 398.88) rotate(12.8) translate(0 1.33)">IGHV3-30</text>
<text x="0" y="0" font-size="3.8" font-weight="bold" fill="#333" text-anchor="end" textLength="12.0" lengthAdjust="spacingAndGlyphs" transform="translate(304.38 401.14) rotate(11.2) translate(0 1.33)">IGHV3-30</text>
<text x="0" y="0" font-size="3.8" font-weight="bold" fill="#333" text-anchor="end" textLength="14.0" lengthAdjust="spacingAndGlyphs" transform="translate(303.98 403.27) rotate(9.7) translate(0 1.33)">IGHV3-30</text>
<text x="0" y="0" font-size="3.8" font-weight="bold" fill="#333" text-anchor="end" textLength="16.0" lengthAdjust="spacingAndGlyphs" transform="translate(303.65 405.40) rotate(8.2) translate(0 1.33)">IGHV3-30</text>
<text x="0" y="0" font-size="3.8" font-weight="bold" fill="#333" text-anchor="end" textLength="12.5" lengthAdjust="spacingAndGlyphs" transform="translate(303.36 407.55) rotate(6.7) translate(0 1.33)">IGHV3-30</text>
<text x="0" y="0" font-size="3.8" font-weight="bold" fill="#333" text-anchor="end" textLength="13.5" lengthAdjust="spacingAndGlyphs" transform="translate(303.15 409.56) rotate(5.3) translate(0 1.33)">IGHV3-30</text>
<text x="0" y="0" font-size="3.8" font-weight="bold" fill="#333" text-anchor="end" textLength="15.5" lengthAdjust="spacingAndGlyphs" transform="translate(302.98 411.72) rotate(3.8) translate(0 1.33)">IGHV3-30</text>
<text x="0" y="0" font-size="3.8" font-weight="bold" fill="#333" text-anchor="end" textLength="11.0" lengthAdjust="spacingAndGlyphs" transform="translate(302.87 413.88) rotate(2.3) translate(0 1.33)">IGHV3-30</text>
<text x="0" y="0" font-size="3.8" font-weight="bold" fill="#333" text-anchor="end" textLength="14.0" lengthAdjust="spacingAndGlyphs" transform="translate(302.81 416.05) rotate(0.8) translate(0 1.33)">IGHV3-30</text>
<text x="0" y="0" font-size="3.8" font-weight="bold" fill="#333" text-anchor="end" textLength="12.5" lengthAdjust="spacingAndGlyphs" transform="translate(302.81 418.21) rotate(-0.7) translate(0 1.33)">IGHV3-30</text>
<text x="0" y="0" font-size="3.8" font-weight="bold" fill="#333" text-anchor="end" textLength="15.0" lengthAdjust="spacingAndGlyphs" transform="translate(302.86 420.37) rotate(-2.2) translate(0 1.33)">IGHV3-30</text>
<text x="0" y="0" font-size="3.8" font-weight="bold" fill="#333" text-anchor="end" textLength="13.0" lengthAdjust="spacingAndGlyphs" transform="translate(302.97 422.54) rotate(-3.7) translate(0 1.33)">IGHV3-30</text>
<text x="0" y="0" font-size="3.8" font-weight="bold" fill="#333" text-anchor="end" textLength="16.0" lengthAdjust="spacingAndGlyphs" transform="translate(303.14 424.70) rotate(-5.2) translate(0 1.33)">IGHV3-30</text>
<text x="0" y="0" font-size="3.8" font-weight="bold" fill="#333" text-anchor="end" textLength="12.0" lengthAdjust="spacingAndGlyphs" transform="translate(303.36 426.85) rotate(-6.7) translate(0 1.33)">IGHV3-30</text>
<text x="0" y="0" font-size="3.8" font-weight="bold" fill="#333" text-anchor="end" textLength="14.5" lengthAdjust="spacingAndGlyphs" transform="translate(303.65 429.00) rotate(-8.2) translate(0 1.33)">IGHV3-30</text>
<text x="0" y="0" font-size="3.8" font-weight="bold" fill="#333" text-anchor="end" textLength="13.0" lengthAdjust="spacingAndGlyphs" transform="translate(303.98 431.13) rotate(-9.7) translate(0 1.33)">IGHV3-30</text>
<text x="0" y="0" font-size="3.8" font-weight="bold" fill="#333" text-anchor="end" textLength="15.5" lengthAdjust="spacingAndGlyphs" transform="translate(304.38 433.26) rotate(-11.2) translate(0 1.33)">IGHV3-30</text>
<text x="0" y="0" font-size="3.8" font-weight="bold" fill="#333" text-anchor="end" textLength="12.0" lengthAdjust="spacingAndGlyphs" transform="translate(304.82 435.38) rotate(-12.7) translate(0 1.33)">IGHV3-30</text>
<text x="0" y="0" font-size="3.8" font-weight="bold" fill="#333" text-anchor="end" textLength="14.0" lengthAdjust="spacingAndGlyphs" transform="translate(305.33 437.49) rotate(-14.2) translate(0 1.33)">IGHV3-30</text>
<text x="0" y="0" font-size="3.8" font-weight="bold" fill="#333" text-anchor="end" textLength="13.0" lengthAdjust="spacingAndGlyphs" transform="translate(305.89 439.58) rotate(-15.7) translate(0 1.33)">IGHV3-30</text>
<text x="0" y="0" font-size="3.8" font-weight="bold" fill="#333" text-anchor="end" textLength="15.0" lengthAdjust="spacingAndGlyphs" transform="translate(306.50 441.66) rotate(-17.2) translate(0 1.33)">IGHV3-30</text>
<text x="0" y="0" font-size="3.8" font-weight="bold" fill="#333" text-anchor="end" textLength="12.5" lengthAdjust="spacingAndGlyphs" transform="translate(307.17 443.71) rotate(-18.7) translate(0 1.33)">IGHV3-30</text>
<text x="0" y="0" font-size="3.8" font-weight="bold" fill="#333" text-anchor="end" textLength="14.0" lengthAdjust="spacingAndGlyphs" transform="translate(307.89 445.76) rotate(-20.2) translate(0 1.33)">IGHV3-30</text>
<text x="0" y="0" font-size="3.8" font-weight="bold" fill="#333" text-anchor="end" textLength="13.5" lengthAdjust="spacingAndGlyphs" transform="translate(308.66 447.78) rotate(-21.7) translate(0 1.33)">IGHV3-30</text>
<text x="0" y="0" font-size="3.8" font-weight="bold" fill="#333" text-anchor="end" textLength="15.0" lengthAdjust="spacingAndGlyphs" transform="translate(309.49 449.78) rotate(-23.2) translate(0 1.33)">IGHV3-30</text>
<text x="0" y="0" font-size="3.8" font-weight="bold" fill="#333" text-anchor="end" textLength="12.0" lengthAdjust="spacingAndGlyphs" transform="translate(310.37 451.76) rotate(-24.7) translate(0 1.33)">IGHV3-30</text>
<path d="M313.97 583.84A72.6 72.6 0 0 1 452.22 578.17Q384.0 603.0 456.06 611.85A72.6 72.6 0 0 1 322.23 641.15Q384.0 603.0 313.97 583.84Z" fill="#d98a8e"/>
<path d="M318.10 572.55Q384.00 603.00 328.96 650.34" fill="none" stroke="url(#fl_e1)" stroke-width="0.9"/>
<path d="M315.74 578.29Q384.00 603.00 325.34 645.78" fill="none" stroke="url(#fl_e2)" stroke-width="0.9"/>
<g mask="url(#mo_e)">
<path d="M456.56 605.53A72.6 72.6 0 0 1 456.53 606.29Q384.0 603.0 313.35 586.30A72.6 72.6 0 0 1 313.62 585.19Q384.0 603.0 456.56 605.53Z" fill="#b4dca0" fill-opacity="0.5"/>
<path d="M456.57 600.85A72.6 72.6 0 0 1 456.58 601.23Q384.0 603.0 312.93 588.15A72.6 72.6 0 0 1 313.18 587.04Q384.0 603.0 456.57 600.85Z" fill="#f4d0d0" fill-opacity="0.5"/>
<path d="M456.42 597.94A72.6 72.6 0 0 1 456.46 598.44Q384.0 603.0 312.57 590.02A72.6 72.6 0 0 1 312.78 588.90Q384.0 603.0 456.42 597.94Z" fill="#d8e6f6" fill-opacity="0.5"/>
<path d="M456.44 607.81A72.6 72.6 0 0 1 456.39 608.57Q384.0 603.0 312.25 591.89A72.6 72.6 0 0 1 312.44 590.77Q384.0 603.0 456.44 607.81Z" fill="#b4dca0" fill-opacity="0.5"/>
<path d="M456.56 600.47A72.6 72.6 0 0 1 456.57 600.85Q384.0 603.0 311.99 593.78A72.6 72.6 0 0 1 312.14 592.65Q384.0 603.0 456.56 600.47Z" fill="#f4d0d0" fill-opacity="0.5"/>
<path d="M456.38 597.30A72.6 72.6 0 0 1 456.41 597.81Q384.0 603.0 311.77 595.66A72.6 72.6 0 0 1 311.90 594.53Q384.0 603.0 456.38 597.30Z" fill="#d8e6f6" fill-opacity="0.5"/>
<path d="M456.49 607.05A72.6 72.6 0 0 1 456.44 607.81Q384.0 603.0 311.60 597.56A72.6 72.6 0 0 1 311.70 596.42Q384.0 603.0 456.49 607.05Z" fill="#b4dca0" fill-opacity="0.5"/>
<path d="M456.59 601.61A72.6 72.6 0 0 1 456.59 601.99Q384.0 603.0 311.49 599.45A72.6 72.6 0 0 1 311.55 598.31Q384.0 603.0 456.59 601.61Z" fill="#f4d0d0" fill-opacity="0.5"/>
<path d="M456.32 596.67A72.6 72.6 0 0 1 456.37 597.18Q384.0 603.0 311.42 601.35A72.6 72.6 0 0 1 311.45 600.21Q384.0 603.0 456.32 596.67Z" fill="#d8e6f6" fill-opacity="0.5"/>
<path d="M456.53 606.29A72.6 72.6 0 0 1 456.49 607.05Q384.0 603.0 311.40 603.25A72.6 72.6 0 0 1 311.41 602.11Q384.0 603.0 456.53 606.29Z" fill="#b4dca0" fill-opacity="0.5"/>
<path d="M456.58 601.23A72.6 72.6 0 0 1 456.59 601.61Q384.0 603.0 311.43 605.15A72.6 72.6 0 0 1 311.41 604.01Q384.0 603.0 456.58 601.23Z" fill="#f4d0d0" fill-opacity="0.5"/>
<path d="M456.46 598.57A72.6 72.6 0 0 1 456.49 599.07Q384.0 603.0 311.51 607.05A72.6 72.6 0 0 1 311.46 605.91Q384.0 603.0 456.46 598.57Z" fill="#d8e6f6" fill-opacity="0.5"/>
<path d="M456.56 605.53A72.6 72.6 0 0 1 456.53 606.29Q384.0 603.0 311.64 608.95A72.6 72.6 0 0 1 311.56 607.81Q384.0 603.0 456.56 605.53Z" fill="#b4dca0" fill-opacity="0.5"/>
<path d="M456.57 600.85A72.6 72.6 0 0 1 456.58 601.23Q384.0 603.0 311.82 610.84A72.6 72.6 0 0 1 311.71 609.71Q384.0 603.0 456.57 600.85Z" fill="#f4d0d0" fill-opacity="0.5"/>
<path d="M456.42 597.94A72.6 72.6 0 0 1 456.46 598.44Q384.0 603.0 312.05 612.73A72.6 72.6 0 0 1 311.91 611.60Q384.0 603.0 456.42 597.94Z" fill="#d8e6f6" fill-opacity="0.5"/>
<path d="M456.44 607.81A72.6 72.6 0 0 1 456.39 608.57Q384.0 603.0 312.33 614.61A72.6 72.6 0 0 1 312.16 613.48Q384.0 603.0 456.44 607.81Z" fill="#b4dca0" fill-opacity="0.5"/>
<path d="M456.56 600.47A72.6 72.6 0 0 1 456.57 600.85Q384.0 603.0 312.66 616.48A72.6 72.6 0 0 1 312.46 615.36Q384.0 603.0 456.56 600.47Z" fill="#f4d0d0" fill-opacity="0.5"/>
<path d="M456.38 597.30A72.6 72.6 0 0 1 456.41 597.81Q384.0 603.0 313.04 618.34A72.6 72.6 0 0 1 312.81 617.23Q384.0 603.0 456.38 597.30Z" fill="#d8e6f6" fill-opacity="0.5"/>
<path d="M456.49 607.05A72.6 72.6 0 0 1 456.44 607.81Q384.0 603.0 313.47 620.19A72.6 72.6 0 0 1 313.20 619.08Q384.0 603.0 456.49 607.05Z" fill="#b4dca0" fill-opacity="0.5"/>
<path d="M456.59 601.61A72.6 72.6 0 0 1 456.59 601.99Q384.0 603.0 313.94 622.03A72.6 72.6 0 0 1 313.65 620.93Q384.0 603.0 456.59 601.61Z" fill="#f4d0d0" fill-opacity="0.5"/>
<path d="M456.32 596.67A72.6 72.6 0 0 1 456.37 597.18Q384.0 603.0 314.46 623.86A72.6 72.6 0 0 1 314.14 622.77Q384.0 603.0 456.32 596.67Z" fill="#d8e6f6" fill-opacity="0.5"/>
<path d="M456.53 606.29A72.6 72.6 0 0 1 456.49 607.05Q384.0 603.0 315.03 625.68A72.6 72.6 0 0 1 314.68 624.59Q384.0 603.0 456.53 606.29Z" fill="#b4dca0" fill-opacity="0.5"/>
<path d="M456.58 601.23A72.6 72.6 0 0 1 456.59 601.61Q384.0 603.0 315.65 627.47A72.6 72.6 0 0 1 315.27 626.40Q384.0 603.0 456.58 601.23Z" fill="#f4d0d0" fill-opacity="0.5"/>
<g clip-path="url(#cr_e)">
<path d="M456.56 605.53A72.6 72.6 0 0 1 456.30 609.58Q384.0 603.0 311.68 596.67A72.6 72.6 0 0 1 312.50 590.39Q384.0 603.0 456.56 605.53Z" fill="#a8d692" fill-opacity="0.55"/>
</g>
</g><g clip-path="url(#ci_e)">
<path d="M456.56 605.53A72.6 72.6 0 0 1 456.53 606.29Q384.0 603.0 313.35 586.30A72.6 72.6 0 0 1 313.62 585.19Q384.0 603.0 456.56 605.53Z" fill="#8c4a32" fill-opacity="0.3"/>
<path d="M456.57 600.85A72.6 72.6 0 0 1 456.58 601.23Q384.0 603.0 312.93 588.15A72.6 72.6 0 0 1 313.18 587.04Q384.0 603.0 456.57 600.85Z" fill="#b06060" fill-opacity="0.1"/>
<path d="M456.42 597.94A72.6 72.6 0 0 1 456.46 598.44Q384.0 603.0 312.57 590.02A72.6 72.6 0 0 1 312.78 588.90Q384.0 603.0 456.42 597.94Z" fill="#8c6a6a" fill-opacity="0.06"/>
<path d="M456.44 607.81A72.6 72.6 0 0 1 456.39 608.57Q384.0 603.0 312.25 591.89A72.6 72.6 0 0 1 312.44 590.77Q384.0 603.0 456.44 607.81Z" fill="#8c4a32" fill-opacity="0.3"/>
<path d="M456.56 600.47A72.6 72.6 0 0 1 456.57 600.85Q384.0 603.0 311.99 593.78A72.6 72.6 0 0 1 312.14 592.65Q384.0 603.0 456.56 600.47Z" fill="#b06060" fill-opacity="0.1"/>
<path d="M456.38 597.30A72.6 72.6 0 0 1 456.41 597.81Q384.0 603.0 311.77 595.66A72.6 72.6 0 0 1 311.90 594.53Q384.0 603.0 456.38 597.30Z" fill="#8c6a6a" fill-opacity="0.06"/>
<path d="M456.49 607.05A72.6 72.6 0 0 1 456.44 607.81Q384.0 603.0 311.60 597.56A72.6 72.6 0 0 1 311.70 596.42Q384.0 603.0 456.49 607.05Z" fill="#8c4a32" fill-opacity="0.3"/>
<path d="M456.59 601.61A72.6 72.6 0 0 1 456.59 601.99Q384.0 603.0 311.49 599.45A72.6 72.6 0 0 1 311.55 598.31Q384.0 603.0 456.59 601.61Z" fill="#b06060" fill-opacity="0.1"/>
<path d="M456.32 596.67A72.6 72.6 0 0 1 456.37 597.18Q384.0 603.0 311.42 601.35A72.6 72.6 0 0 1 311.45 600.21Q384.0 603.0 456.32 596.67Z" fill="#8c6a6a" fill-opacity="0.06"/>
<path d="M456.53 606.29A72.6 72.6 0 0 1 456.49 607.05Q384.0 603.0 311.40 603.25A72.6 72.6 0 0 1 311.41 602.11Q384.0 603.0 456.53 606.29Z" fill="#8c4a32" fill-opacity="0.3"/>
<path d="M456.58 601.23A72.6 72.6 0 0 1 456.59 601.61Q384.0 603.0 311.43 605.15A72.6 72.6 0 0 1 311.41 604.01Q384.0 603.0 456.58 601.23Z" fill="#b06060" fill-opacity="0.1"/>
<path d="M456.46 598.57A72.6 72.6 0 0 1 456.49 599.07Q384.0 603.0 311.51 607.05A72.6 72.6 0 0 1 311.46 605.91Q384.0 603.0 456.46 598.57Z" fill="#8c6a6a" fill-opacity="0.06"/>
<path d="M456.56 605.53A72.6 72.6 0 0 1 456.53 606.29Q384.0 603.0 311.64 608.95A72.6 72.6 0 0 1 311.56 607.81Q384.0 603.0 456.56 605.53Z" fill="#8c4a32" fill-opacity="0.3"/>
<path d="M456.57 600.85A72.6 72.6 0 0 1 456.58 601.23Q384.0 603.0 311.82 610.84A72.6 72.6 0 0 1 311.71 609.71Q384.0 603.0 456.57 600.85Z" fill="#b06060" fill-opacity="0.1"/>
<path d="M456.42 597.94A72.6 72.6 0 0 1 456.46 598.44Q384.0 603.0 312.05 612.73A72.6 72.6 0 0 1 311.91 611.60Q384.0 603.0 456.42 597.94Z" fill="#8c6a6a" fill-opacity="0.06"/>
<path d="M456.44 607.81A72.6 72.6 0 0 1 456.39 608.57Q384.0 603.0 312.33 614.61A72.6 72.6 0 0 1 312.16 613.48Q384.0 603.0 456.44 607.81Z" fill="#8c4a32" fill-opacity="0.3"/>
<path d="M456.56 600.47A72.6 72.6 0 0 1 456.57 600.85Q384.0 603.0 312.66 616.48A72.6 72.6 0 0 1 312.46 615.36Q384.0 603.0 456.56 600.47Z" fill="#b06060" fill-opacity="0.1"/>
<path d="M456.38 597.30A72.6 72.6 0 0 1 456.41 597.81Q384.0 603.0 313.04 618.34A72.6 72.6 0 0 1 312.81 617.23Q384.0 603.0 456.38 597.30Z" fill="#8c6a6a" fill-opacity="0.06"/>
<path d="M456.49 607.05A72.6 72.6 0 0 1 456.44 607.81Q384.0 603.0 313.47 620.19A72.6 72.6 0 0 1 313.20 619.08Q384.0 603.0 456.49 607.05Z" fill="#8c4a32" fill-opacity="0.3"/>
<path d="M456.59 601.61A72.6 72.6 0 0 1 456.59 601.99Q384.0 603.0 313.94 622.03A72.6 72.6 0 0 1 313.65 620.93Q384.0 603.0 456.59 601.61Z" fill="#b06060" fill-opacity="0.1"/>
<path d="M456.32 596.67A72.6 72.6 0 0 1 456.37 597.18Q384.0 603.0 314.46 623.86A72.6 72.6 0 0 1 314.14 622.77Q384.0 603.0 456.32 596.67Z" fill="#8c6a6a" fill-opacity="0.06"/>
<path d="M456.53 606.29A72.6 72.6 0 0 1 456.49 607.05Q384.0 603.0 315.03 625.68A72.6 72.6 0 0 1 314.68 624.59Q384.0 603.0 456.53 606.29Z" fill="#8c4a32" fill-opacity="0.3"/>
<path d="M456.58 601.23A72.6 72.6 0 0 1 456.59 601.61Q384.0 603.0 315.65 627.47A72.6 72.6 0 0 1 315.27 626.40Q384.0 603.0 456.58 601.23Z" fill="#b06060" fill-opacity="0.1"/>
</g>
<path d="M313.24 569.70A78.2 78.2 0 0 1 457.53 576.38L454.15 577.61A74.6 74.6 0 0 0 316.50 571.24Z" fill="#c4161c"/>
<path d="M461.73 611.58A78.2 78.2 0 0 1 317.32 643.86L320.39 641.98A74.6 74.6 0 0 0 458.15 611.19Z" fill="#c4161c"/>
<path d="M310.75 575.61A78.2 78.2 0 0 1 312.78 570.70L316.06 572.18A74.6 74.6 0 0 0 314.12 576.87Z" fill="#ecb76c"/>
<path d="M308.54 582.50A78.2 78.2 0 0 1 310.29 576.90L313.68 578.10A74.6 74.6 0 0 0 312.01 583.44Z" fill="#e07c1c"/>
<path d="M462.15 605.73A78.2 78.2 0 0 1 461.87 610.22L458.28 609.89A74.6 74.6 0 0 0 458.55 605.60Z" fill="#4f9a36"/>
<path d="M462.20 603.55A78.2 78.2 0 0 1 462.17 605.05L458.57 604.95A74.6 74.6 0 0 0 458.60 603.52Z" fill="#b8e0a0"/>
<path d="M462.16 600.54A78.2 78.2 0 0 1 462.20 602.45L458.60 602.48A74.6 74.6 0 0 0 458.56 600.66Z" fill="#f4b4b4"/>
<path d="M462.05 598.09A78.2 78.2 0 0 1 462.13 599.73L458.53 599.88A74.6 74.6 0 0 0 458.45 598.32Z" fill="#d8e6f6"/>
<path d="M461.88 595.91A78.2 78.2 0 0 1 462.01 597.55L458.42 597.80A74.6 74.6 0 0 0 458.29 596.24Z" fill="#cfe0f4"/>
<path d="M307.90 585.01A78.2 78.2 0 0 1 308.19 583.82L311.68 584.70A74.6 74.6 0 0 0 311.40 585.84Z" fill="#9a5030"/>
<path d="M307.45 587.01A78.2 78.2 0 0 1 307.71 585.81L311.23 586.60A74.6 74.6 0 0 0 310.98 587.74Z" fill="#c9e6b6"/>
<path d="M307.06 589.02A78.2 78.2 0 0 1 307.29 587.81L310.82 588.51A74.6 74.6 0 0 0 310.60 589.66Z" fill="#f7f0b0"/>
<path d="M306.72 591.04A78.2 78.2 0 0 1 306.92 589.82L310.47 590.43A74.6 74.6 0 0 0 310.28 591.59Z" fill="#e27d8a"/>
<path d="M306.43 593.06A78.2 78.2 0 0 1 306.60 591.85L310.16 592.36A74.6 74.6 0 0 0 310.00 593.52Z" fill="#f3d7ad"/>
<path d="M306.20 595.10A78.2 78.2 0 0 1 306.33 593.88L309.91 594.30A74.6 74.6 0 0 0 309.78 595.46Z" fill="#cfe3f3"/>
<path d="M306.02 597.14A78.2 78.2 0 0 1 306.12 595.91L309.71 596.24A74.6 74.6 0 0 0 309.61 597.41Z" fill="#8fb0e0"/>
<path d="M305.89 599.18A78.2 78.2 0 0 1 305.96 597.95L309.56 598.19A74.6 74.6 0 0 0 309.49 599.36Z" fill="#f9d5ac"/>
<path d="M305.82 601.23A78.2 78.2 0 0 1 305.86 600.00L309.45 600.14A74.6 74.6 0 0 0 309.42 601.31Z" fill="#f5c2ca"/>
<path d="M305.80 603.27A78.2 78.2 0 0 1 305.81 602.04L309.41 602.09A74.6 74.6 0 0 0 309.40 603.26Z" fill="#e9eef8"/>
<path d="M305.83 605.32A78.2 78.2 0 0 1 305.81 604.09L309.41 604.04A74.6 74.6 0 0 0 309.43 605.21Z" fill="#f8dede"/>
<path d="M305.92 607.37A78.2 78.2 0 0 1 305.86 606.14L309.46 605.99A74.6 74.6 0 0 0 309.52 607.16Z" fill="#f3d2b8"/>
<path d="M306.06 609.41A78.2 78.2 0 0 1 305.97 608.18L309.56 607.94A74.6 74.6 0 0 0 309.65 609.11Z" fill="#f7e0c8"/>
<path d="M306.26 611.45A78.2 78.2 0 0 1 306.13 610.22L309.72 609.89A74.6 74.6 0 0 0 309.84 611.06Z" fill="#dfeed7"/>
<path d="M306.51 613.48A78.2 78.2 0 0 1 306.35 612.26L309.92 611.83A74.6 74.6 0 0 0 310.07 613.00Z" fill="#f1e7f6"/>
<path d="M306.81 615.50A78.2 78.2 0 0 1 306.62 614.29L310.18 613.77A74.6 74.6 0 0 0 310.36 614.93Z" fill="#fae7d4"/>
<path d="M307.16 617.52A78.2 78.2 0 0 1 306.94 616.31L310.49 615.70A74.6 74.6 0 0 0 310.70 616.85Z" fill="#f3f3f3"/>
<path d="M307.57 619.53A78.2 78.2 0 0 1 307.32 618.32L310.85 617.62A74.6 74.6 0 0 0 311.08 618.76Z" fill="#eef6ea"/>
<path d="M308.02 621.52A78.2 78.2 0 0 1 307.74 620.33L311.25 619.53A74.6 74.6 0 0 0 311.52 620.67Z" fill="#f8e9ee"/>
<path d="M308.54 623.50A78.2 78.2 0 0 1 308.22 622.32L311.71 621.43A74.6 74.6 0 0 0 312.01 622.56Z" fill="#f0f0fa"/>
<path d="M309.10 625.47A78.2 78.2 0 0 1 308.75 624.29L312.22 623.31A74.6 74.6 0 0 0 312.55 624.44Z" fill="#fff5e5"/>
<path d="M309.71 627.42A78.2 78.2 0 0 1 309.34 626.25L312.77 625.18A74.6 74.6 0 0 0 313.13 626.30Z" fill="#f6f6f6"/>
<path d="M310.38 629.36A78.2 78.2 0 0 1 309.97 628.20L313.38 627.04A74.6 74.6 0 0 0 313.77 628.15Z" fill="#f7f0f7"/>
<text x="0" y="0" font-size="3.7" fill="#333" text-anchor="end" textLength="14.0" lengthAdjust="spacingAndGlyphs" transform="translate(308.80 571.85) rotate(22.5) translate(0 1.29)">IGHV3-30</text>
<text x="0" y="0" font-size="3.7" fill="#333" text-anchor="end" textLength="14.0" lengthAdjust="spacingAndGlyphs" transform="translate(306.28 578.79) rotate(17.3) translate(0 1.29)">IGHV1-69</text>
<text x="0" y="0" font-size="3.4" fill="#333" textLength="8.0" lengthAdjust="spacingAndGlyphs" transform="translate(403.52 681.30) rotate(76.0) translate(0 1.19)">IGHJ4</text>
<text x="0" y="0" font-size="2.7" fill="#333" textLength="7.5" lengthAdjust="spacingAndGlyphs" transform="translate(464.43 608.20) rotate(3.7) translate(0 0.94)">IGKV1</text>
<text x="0" y="0" font-size="2.7" fill="#333" textLength="7.5" lengthAdjust="spacingAndGlyphs" transform="translate(464.59 604.41) rotate(1.0) translate(0 0.94)">IGKV3</text>
<text x="0" y="0" font-size="2.7" fill="#333" textLength="7.5" lengthAdjust="spacingAndGlyphs" transform="translate(464.59 601.45) rotate(-1.1) translate(0 0.94)">IGLV1</text>
<text x="0" y="0" font-size="2.7" fill="#333" textLength="7.5" lengthAdjust="spacingAndGlyphs" transform="translate(464.49 598.78) rotate(-3.0) translate(0 0.94)">IGKV4</text>
<text x="0" y="0" font-size="2.7" fill="#333" textLength="7.5" lengthAdjust="spacingAndGlyphs" transform="translate(464.34 596.54) rotate(-4.6) translate(0 0.94)">IGKV2</text>
<text x="0" y="0" font-size="3.8" font-weight="bold" fill="#333" text-anchor="end" textLength="14.5" lengthAdjust="spacingAndGlyphs" transform="translate(305.52 583.79) rotate(13.8) translate(0 1.33)">IGHV3-30</text>
<text x="0" y="0" font-size="3.8" font-weight="bold" fill="#333" text-anchor="end" textLength="15.5" lengthAdjust="spacingAndGlyphs" transform="translate(305.04 585.86) rotate(12.2) translate(0 1.33)">IGHV3-30</text>
<text x="0" y="0" font-size="3.8" font-weight="bold" fill="#333" text-anchor="end" textLength="16.0" lengthAdjust="spacingAndGlyphs" transform="translate(304.62 587.93) rotate(10.8) translate(0 1.33)">IGHV3-30</text>
<text x="0" y="0" font-size="3.8" font-weight="bold" fill="#333" text-anchor="end" textLength="14.0" lengthAdjust="spacingAndGlyphs" transform="translate(304.25 590.01) rotate(9.2) translate(0 1.33)">IGHV3-30</text>
<text x="0" y="0" font-size="3.8" font-weight="bold" fill="#333" text-anchor="end" textLength="17.0" lengthAdjust="spacingAndGlyphs" transform="translate(303.94 592.10) rotate(7.8) translate(0 1.33)">IGHV3-30</text>
<text x="0" y="0" font-size="3.8" font-weight="bold" fill="#333" text-anchor="end" textLength="15.0" lengthAdjust="spacingAndGlyphs" transform="translate(303.68 594.20) rotate(6.2) translate(0 1.33)">IGHV3-30</text>
<text x="0" y="0" font-size="3.8" font-weight="bold" fill="#333" text-anchor="end" textLength="16.5" lengthAdjust="spacingAndGlyphs" transform="translate(303.48 596.31) rotate(4.8) translate(0 1.33)">IGHV3-30</text>
<text x="0" y="0" font-size="3.8" font-weight="bold" fill="#333" text-anchor="end" textLength="14.5" lengthAdjust="spacingAndGlyphs" transform="translate(303.33 598.42) rotate(3.2) translate(0 1.33)">IGHV3-30</text>
<text x="0" y="0" font-size="3.8" font-weight="bold" fill="#333" text-anchor="end" textLength="17.5" lengthAdjust="spacingAndGlyphs" transform="translate(303.24 600.53) rotate(1.8) translate(0 1.33)">IGHV3-30</text>
<text x="0" y="0" font-size="3.8" font-weight="bold" fill="#333" text-anchor="end" textLength="15.0" lengthAdjust="spacingAndGlyphs" transform="translate(303.20 602.65) rotate(0.2) translate(0 1.33)">IGHV3-30</text>
<text x="0" y="0" font-size="3.8" font-weight="bold" fill="#333" text-anchor="end" textLength="16.0" lengthAdjust="spacingAndGlyphs" transform="translate(303.22 604.76) rotate(-1.2) translate(0 1.33)">IGHV3-30</text>
<text x="0" y="0" font-size="3.8" font-weight="bold" fill="#333" text-anchor="end" textLength="18.0" lengthAdjust="spacingAndGlyphs" transform="translate(303.29 606.88) rotate(-2.8) translate(0 1.33)">IGHV3-30</text>
<text x="0" y="0" font-size="3.8" font-weight="bold" fill="#333" text-anchor="end" textLength="15.5" lengthAdjust="spacingAndGlyphs" transform="translate(303.42 608.99) rotate(-4.2) translate(0 1.33)">IGHV3-30</text>
<text x="0" y="0" font-size="3.8" font-weight="bold" fill="#333" text-anchor="end" textLength="16.5" lengthAdjust="spacingAndGlyphs" transform="translate(303.61 611.10) rotate(-5.8) translate(0 1.33)">IGHV3-30</text>
<text x="0" y="0" font-size="3.8" font-weight="bold" fill="#333" text-anchor="end" textLength="17.0" lengthAdjust="spacingAndGlyphs" transform="translate(303.85 613.20) rotate(-7.2) translate(0 1.33)">IGHV3-30</text>
<text x="0" y="0" font-size="3.8" font-weight="bold" fill="#333" text-anchor="end" textLength="15.0" lengthAdjust="spacingAndGlyphs" transform="translate(304.14 615.29) rotate(-8.8) translate(0 1.33)">IGHV3-30</text>
<text x="0" y="0" font-size="3.8" font-weight="bold" fill="#333" text-anchor="end" textLength="16.0" lengthAdjust="spacingAndGlyphs" transform="translate(304.49 617.38) rotate(-10.2) translate(0 1.33)">IGHV3-30</text>
<text x="0" y="0" font-size="3.8" font-weight="bold" fill="#333" text-anchor="end" textLength="17.5" lengthAdjust="spacingAndGlyphs" transform="translate(304.89 619.45) rotate(-11.8) translate(0 1.33)">IGHV3-30</text>
<text x="0" y="0" font-size="3.8" font-weight="bold" fill="#333" text-anchor="end" textLength="15.5" lengthAdjust="spacingAndGlyphs" transform="translate(305.35 621.52) rotate(-13.2) translate(0 1.33)">IGHV3-30</text>
<text x="0" y="0" font-size="3.8" font-weight="bold" fill="#333" text-anchor="end" textLength="16.5" lengthAdjust="spacingAndGlyphs" transform="translate(305.86 623.57) rotate(-14.8) translate(0 1.33)">IGHV3-30</text>
<text x="0" y="0" font-size="3.8" font-weight="bold" fill="#333" text-anchor="end" textLength="18.0" lengthAdjust="spacingAndGlyphs" transform="translate(306.43 625.61) rotate(-16.2) translate(0 1.33)">IGHV3-30</text>
<text x="0" y="0" font-size="3.8" font-weight="bold" fill="#333" text-anchor="end" textLength="16.0" lengthAdjust="spacingAndGlyphs" transform="translate(307.05 627.63) rotate(-17.8) translate(0 1.33)">IGHV3-30</text>
<text x="0" y="0" font-size="3.8" font-weight="bold" fill="#333" text-anchor="end" textLength="17.0" lengthAdjust="spacingAndGlyphs" transform="translate(307.72 629.64) rotate(-19.2) translate(0 1.33)">IGHV3-30</text>
<rect x="0.00" y="0.00" width="520.00" height="1.30" fill="#000"/>
<rect x="0.00" y="0.00" width="1.30" height="699.00" fill="#000"/>
<rect x="518.40" y="0.00" width="1.60" height="699.00" fill="#000"/>
<rect x="0.00" y="697.30" width="520.00" height="1.70" fill="#000"/>
</svg></body></html>
